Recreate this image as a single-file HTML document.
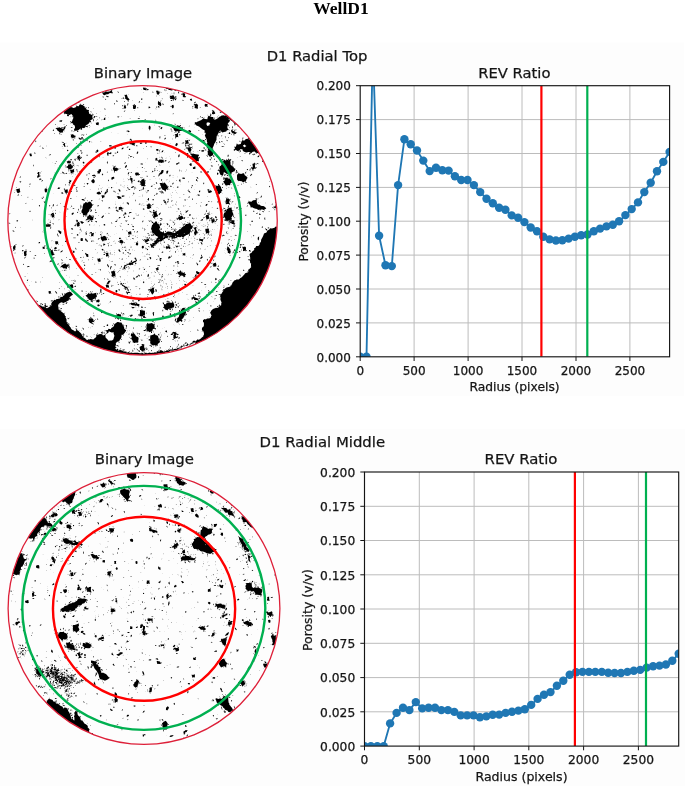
<!DOCTYPE html>
<html lang="en">
<head>
<meta charset="utf-8">
<title>WellD1</title>
<style>
html,body{margin:0;padding:0;background:#fff;}
body{width:685px;height:786px;position:relative;overflow:hidden;font-family:"Liberation Serif",serif;color:#000;}
h3{position:absolute;left:-1.5px;top:-1px;width:685px;margin:0;text-align:center;font-size:17.5px;line-height:19px;font-weight:bold;letter-spacing:0;}
svg{position:absolute;left:0;top:0;display:block;}
</style>
</head>
<body>
<svg width="685" height="786" viewBox="0 0 685 786">
<defs>
<clipPath id="clip1"><circle cx="142.55" cy="220.4" r="134.7"/></clipPath>
<clipPath id="ax1"><rect x="360.2" y="85.7" width="309.4" height="271.1"/></clipPath>
<clipPath id="clip2"><circle cx="144.0" cy="608.45" r="135.9"/></clipPath>
<clipPath id="ax2"><rect x="364.5" y="472.0" width="314.2" height="274.1"/></clipPath>
<filter id="soft" x="-2%" y="-2%" width="104%" height="104%"><feGaussianBlur stdDeviation="0.32"/></filter>
</defs>
<rect x="0" y="42.5" width="684" height="353.5" fill="#fdfdfd"/>
<rect x="0" y="428.8" width="685" height="358" fill="#fdfdfd"/>
<g clip-path="url(#clip1)"><g filter="url(#soft)">
<path fill="#000" d="M81.4 211l.8 -1.8l.4 -1l-.1 -1.2l.5 -1.5l.5 -1.9l1.1 -.4l1 -1.2l2.1 .7l1.3 -1.1l1.6 .3l.9 1.1l.1 .6l1.4 1.5l-1.1 1.2l-.2 1.1l-.9 .8l-1.5 1.6l.1 1.3l-1.3 1.3l-.6 .7l-.3 1.6l-2.2 .2l-1 .7l-1.1 -.4l0 -1.7l-1.2 -.5zM16.2 189l.9 0l1.6 -.3l1.1 -.5l0 1.2l.1 .8l.4 1.4l-.2 .7l-1.3 .4l-.4 .6l-.8 -.2l-.6 -.8l-.5 -1.2l-.1 -1.4zM37.1 173.5l1.1 -1.6l1.4 .1l-.5 1l.5 2.2l.2 1.6l-2.9 .9l.3 -.9l1 -2.6zM113 168.7l1.1 -.1l1.3 -.4l.6 -.2l1.4 -.1l.8 1.2l-.1 1l-.8 -.3l-.7 .9l-1 .3l-1.4 -.1l-.8 -.8zM129.2 142.1l1.1 .1l1.1 .1l.7 .1l1 .3l1 .6l1.5 -.5l-.7 1l-.3 .6l.1 1.7l-1.2 -.8l-1.3 -.6l-.6 -.1l-.5 -.3l-1.3 -.4zM130.2 178.1l1.1 -.4l1 .5l.5 .7l-.4 .7l.1 1.3l.5 1l-1.3 -.3l-.6 .9l-.1 -1.1l-.2 -1l-.7 -1.1zM77.1 156.8l.7 -.1l1.1 0l1.5 -.5l-.1 1.5l-.2 .5l-.8 .9l-1 .2l-.7 .9l.1 -1.7zM67.9 164.9l.5 -.4l1.8 -.3l.9 -.6l.1 1.1l.6 .8l1.1 .4l0 1.3l-.7 -.4l-1.6 .4l-.4 .9l-1.2 -.8l.2 -.9l-1.1 -.9zM69.5 169.5l1.8 .3l.7 0l1 -.3l1.4 -.9l-.4 1.2l.1 1.3l.2 .9l-1 .6l-.7 -.2l-.7 .5l-1.1 .2l-.2 -1.3l-.4 -1.4zM66.6 161.2l.5 .2l1.1 -.6l1.4 -.3l-.1 1.2l.4 1.5l-1.7 0l-1.1 0l.1 -.7zM86.8 216.8l1.4 -.6l.8 -.2l1 -.1l1 -.4l.4 1.4l.5 1l.6 .5l-1.4 .9l-.8 -.4l-1.7 .5l-1.1 .1l-.4 -.7l.3 -.9zM97.1 171.2l1.7 -.7l1.5 .5l-.4 1.3l.3 .8l-.7 .5l-2 -.1l.1 -1.4zM51.6 213.2l1.5 -.5l.9 .2l-.3 .9l.7 1.3l-.3 1.4l.8 1.1l-1.8 -.4l-1.2 .6l.1 -1.6l0 -.4l.3 -1.6zM64.2 190.5l1.5 -.4l.6 -.7l1.6 .2l-.3 1.7l.7 1.2l-1.6 .2l-1 .1l-.8 -.3l-.1 -.8zM29.4 153.8l1.3 -.2l.7 -.2l.2 1.3l.4 1.3l-.6 .2l-1.3 .1l-.4 -1.4zM132.7 105l1.7 .2l.8 -.2l.8 .5l0 1.2l-.2 1.3l0 .6l-1 .4l-1.6 -.1l.2 -1.3l-.4 -1.3zM140.4 181.3l1 .4l1.3 -.6l.9 .5l1.7 -.3l-.5 .6l0 1.1l-.1 .9l.1 1.4l.6 .6l-1.8 .4l-1.2 -.6l-1.4 0l.2 -.9l-.4 -1.1l-.3 -1.2zM135.1 173l1 -.4l1.3 0l1.3 .1l.2 1.4l-.1 1.5l-1.2 -.4l-.3 0l-1.2 .6l-.8 -1.1zM118.9 207.1l.9 0l.5 -.4l1.4 .2l.4 1l0 1l.2 .8l-1.5 -.4l-1.1 .4l-1.1 .6l.3 -1.2l-.1 -.9zM101.6 194.9l1.5 .5l1 -.4l.3 .5l.2 1.1l-.4 .9l-.7 .1l-1.3 .9l-.3 -1.4l-.2 -.7zM44.7 189.1l1.2 -.7l.8 0l.7 1.1l-.1 .8l-.3 1.3l-.7 .6l-1.3 -.2l-.3 -.9l-.1 -1.4zM96.7 122.1l1.2 .4l.3 -.6l.8 1.4l-.3 .4l-.1 1.6l-1.2 -.2l-1.2 0l.7 -1.3l-.2 -.5zM104.1 117.9l1.1 -.3l.3 .2l-.4 1.4l.5 .8l-2 .1l.1 -.8zM247.3 203.1l2.5 -1.6l1.6 .2l1.4 -1.3l.6 -.2l2.3 -.1l.5 -.6l.4 .8l.3 2.4l.8 1.5l.5 .4l1.7 .1l1.1 1.4l2 0l1 .4l1.5 1.1l.8 .9l-1.3 .8l-1.3 .6l-2 -.6l-.4 .4l-2 0l-1.6 .3l-.3 -.9l-1.8 -.3l-1.6 -.5l-1.9 -1.1l-1.4 .4l-.4 -2l-.2 0l-1.4 -2.3zM223.4 215.2l.6 -1.6l.5 -1l1.1 -.4l.9 -1.9l.2 -1.1l1.3 -.7l1 -.4l2.7 -.6l-.1 2.1l1 .7l-.3 1.4l.8 1.6l.3 1.8l-.6 .1l-1.6 2.3l.8 .9l-.9 .6l-1.6 1.6l-.7 .1l-1.1 -.6l-2.5 .2l0 -.6l.1 -1.3l-1 -1.2zM215.1 184.9l.7 .5l1.6 .5l1.9 -.6l.6 .2l1.3 1.9l-.2 .5l1.1 2l.3 .8l-.8 .5l-1.4 1.5l-.2 1l-1.1 .6l-1.7 -1.8l.4 -.7l-1.7 -2.4l0 -.4l-.3 -1.9l0 -.4zM171.4 127l1.4 0l1.9 -.9l1.4 .3l.9 -1.1l2 .4l1 .3l.5 1.1l1.3 .7l1.6 -.6l-.9 1.9l0 2l-2.2 -.2l-1.5 1.1l-1.7 -1l-1.7 .7l.1 -.4l-1.3 -.9l-.8 -2zM190.6 154.4l2.1 -.7l1.5 .7l1.2 .2l1.3 -.1l.4 1.8l1.2 1l.3 1.4l-.6 2.2l-.7 -.2l-2.5 .4l-1 1l-1 -2.2l.3 -1.9l-1.4 -.3l0 -2.7zM159.5 183.1l2.6 -.1l1.2 .6l.8 -1.3l1.9 1.6l.1 1.2l1.2 .4l.6 1.8l.5 .8l-.8 .2l-1.8 1.7l.2 1.8l-2.2 -1.7l-1.3 -.4l-.7 -1.1l-.5 -.6l-.2 -1.2l-.6 -2zM152.4 212.1l2.1 -.7l.6 .5l1.5 -1.3l-.1 2l.7 2l1.1 1.3l-.6 .1l-1.7 .9l-.5 .3l-2.1 .3l.3 -1l-.1 -1.1l-.4 -2.3zM146.7 204.7l.8 -.2l1.2 -.4l.6 -.2l1 .3l.5 .5l-.1 1.7l.2 .4l.4 1.4l-.8 -.3l-1.3 .8l-.6 .2l-1.6 -.4l-.2 -1l.5 -.6l-.3 -1.2zM175.3 133.9l.5 .3l1.6 -.6l.8 .5l-.2 .8l.1 .9l.2 1.4l-.6 -.2l-1.6 .3l-.4 0l-.5 -.9l.3 -.6l-.8 -1.3zM194.5 104.4l1.5 -.7l.9 .2l.3 .6l-.1 1.6l.1 .6l.2 .8l.5 1.5l-1.7 -.7l-1 0l-.7 -.4l.3 -1.2l-.2 -1zM182.3 92.4l.7 .5l1.6 .5l.5 -.2l.1 1l-.3 .8l.2 1.7l-.6 .6l-.4 .3l-1.6 -1l.6 -.3l-.6 -1.9l.3 -.7zM156.2 90.7l1 -.2l1 .4l.8 .8l1.4 -.3l-.9 1.2l-.1 1.1l-.7 .9l-.3 .2l-1.5 -.6l-.2 -.9l-.1 -.9l-.4 -.7zM169.7 95.7l.9 .1l1.1 -.1l1.1 -.4l.6 0l.6 .7l.3 1.4l-.2 .4l.2 .9l-1.2 .4l-1 .1l-.5 -.2l-.8 .1l-.2 -.3l-.4 -1.5l-.3 -.6zM158.4 100.8l1 1.2l.9 .2l.6 .5l.2 1l.2 .3l-.2 1.8l-.7 .5l-.3 -.5l-.7 -.2l-.9 -.5l-.3 -.4l-.4 -1.6l.3 -1zM274.8 200.2l2.6 1.8l.4 1.8l-.8 1.3l-.2 1.1l.6 1.2l.3 1.8l-2.2 -.9l-.6 -1l.8 -2.3l.2 -1.7l.3 -1.1zM165.3 88.7l1.6 -.6l2 -.1l1.7 .4l1.3 1.2l1.3 -.2l.9 -.6l1 .6l2.1 .7l-1.5 .7l-1.8 -.8l-.6 -.2l-1.9 .7l-1.5 -.5l-1.1 -.1l-.7 -1l-1.3 0zM142.8 87.8l1.2 -.4l.9 .7l1.8 .4l.6 -.2l-.9 1.4l0 .7l-.8 -.2l-.5 -.1l-1.5 -.2l-.5 -1.4zM225.6 197.1l1.1 1.3l1.9 .2l1.2 1l-.8 2.3l.7 1.6l.7 .9l-2.3 -.3l-1.6 0l.4 -1.6l-1.3 -1.4l.7 -2.1zM252.5 164.6l.9 -1l1.6 -.6l-.1 2.3l.2 1.4l-.2 .6l-.5 1.5l-1.8 1.2l-.7 -1.2l.9 -1.9l-.1 -1.6zM185.3 140.1l1.3 .5l1 -.7l1 -.1l-.5 1.4l.5 .7l.1 1.1l0 .8l-.8 0l-1.1 -.1l-.8 -.4l-.5 -.7l-.2 -.8zM157.7 160l1 .6l1.3 -.9l.7 -.3l1.7 .3l1.1 -.1l-.5 .8l.4 1.1l.6 1l-1.7 .1l-.3 .3l-1.7 -.5l-1 0l-.4 .9l-.5 -1.3zM178.2 217.4l.4 -.6l1.4 -.3l.5 -.2l.6 -.6l1 0l.5 .7l.9 1.2l.2 1.2l-1.6 .2l-.5 .7l-.9 .4l-.7 0l-.5 .3l-.4 -1l-1.1 -1zM205.9 215.9l.3 -.8l1.5 -.1l.8 -.6l.3 1.4l.1 1.1l.2 .4l.5 1.3l-1.6 .4l-1.1 .3l-.5 .2l-.2 -1.3l-.4 -.9l.3 -1.2zM172.1 105l1.1 -.2l.7 1.2l-.3 1.3l0 .6l-.7 .4l-.7 0l-.4 -1.2l-.3 -.5zM204.7 104.6l.5 -.5l1.4 0l.4 -.2l.8 .7l-.5 1l.6 1.4l-1.4 -.6l-.8 .3l-.7 -.1l-.4 -1.3zM212.4 112l.5 0l1.3 -.8l1 1.7l-.1 .9l-1.7 .4l-1.4 -.2l.1 -1.4zM187.5 148l1.4 -.4l1 -.2l.6 0l.3 1l.6 .7l-.2 1.1l0 .5l-.8 .7l-.9 0l-.9 .1l-.4 -1.1l-.4 -.7l-.4 -1.1zM141.5 179.8l1.3 -.9l1.4 .1l.3 1.3l.1 2.1l-.6 .9l1 1l-.4 2.2l-2.1 -.4l-1 .4l.7 -1.6l-1.3 -1.2l.5 -1.2l-.2 -1.5zM61.8 264.8l.9 .1l1.1 -.9l1.7 -.4l.7 1.2l1.3 -.5l1 1.4l-1.4 1.6l-.5 2l-1.5 -1l-1.6 .3l-.4 -.6l-1.6 -1.2zM89.9 319.5l.8 .2l1.7 -.5l.7 -.4l.1 1.4l.5 .8l.8 1.2l-1.4 -.1l-1 .2l-.8 .5l-.3 -1.1l-.8 -1.1zM116.4 314.2l.6 .4l1.3 -.6l1.1 .2l1.2 0l.3 .6l.4 1.4l-.7 .9l.8 .8l-1.7 .2l-.6 -.6l-1.6 1l-.5 -.4l-.6 -1.1l0 -.4l0 -1.5zM140.1 311.6l.4 -.1l1.4 -.4l1.1 -.1l1.2 -.2l.5 -.4l.3 1.1l-.1 1.2l.1 .5l-.2 1l.2 1l-1.1 0l-1 .3l-1 .4l-1.6 0l.2 -1.4l-.1 -.8l-.5 -1.4zM131.6 338.5l1.1 .1l.4 -.5l2.2 .1l.8 -.4l1.5 -1.1l.8 .7l0 2.1l-.2 1.7l.3 .8l-1.1 .7l-1.8 -.3l-1 .5l-.8 -.1l-.7 -1.3l-1.1 -1.6zM76.2 223.9l.9 -.7l.5 -1l.8 -.2l1.1 -.4l-.4 1l.9 .9l-.5 .8l.1 1l-.1 .7l-1.2 .5l-.7 .2l-.6 -1l-.3 -1.1zM100.8 236.8l1.3 .1l1.5 -.8l.5 -.3l2.1 .9l.2 .7l.6 2l0 .7l-1.8 .3l-1.4 .2l-.9 .8l-1.6 -1.7l-.7 -1.8zM90.2 217.2l1.2 -.3l.2 -.2l1.6 .4l.4 .8l-.5 .8l.2 1.3l-1.7 -.1l-1.4 .6l-.2 -.8l-.2 -1.2zM119.3 240l1.6 0l1 -.2l.5 .4l.7 1.1l.2 .3l0 1.5l-1.1 .4l-1.2 .1l-.6 -.7l-.8 -.4l.5 -1.5zM111 271.3l.9 .1l1.3 -.7l1 .5l1.1 .1l-.3 1.1l.2 .9l.3 .9l-.2 1.4l.5 1l-1.6 -.4l-1.6 .6l-.7 -.1l-.4 -1.3l.4 -.8l-.4 -1.6l-.3 -.5zM97.3 258.6l1.2 .2l1.3 -.6l.3 0l.4 1.3l.3 1.4l-.7 1l-.2 0l-1.1 -.5l-.7 .4l-.3 -.9l-.4 -1.8zM91.1 233.3l.9 -.1l2 -.4l-.3 1.4l-.2 .6l-.2 1.6l-.7 -.3l-1.9 .3l.6 -1.5l-.2 -.5zM123.3 268l.5 -1l.7 -1.6l1 -.4l1.6 -.7l1.4 -.6l.9 -1.2l2.5 0l.1 -.2l2.3 -1.2l1 -.3l1.3 -1l-.5 2.7l-.1 -.2l-1.7 .2l-1 .8l-1 1l-1.7 1l-2.4 -.6l-1.6 .9l-1.2 .7l-.3 2.1l-1.1 1zM120.9 282.4l1.2 1l.6 1.7l1.4 .3l1.8 1.4l1.3 0l.4 1.1l1.5 2.6l-.4 .1l-1.2 .8l.3 -.4l-.7 -2.4l-1 -.4l-1.1 -.3l-2 -2l-.3 .3l-1.2 -1.7l-1.4 -.1zM13.2 246.5l1.3 -1.3l1.3 -1l-.6 1.3l.4 1.1l-.2 1.6l-1.2 2.3l-1.9 1.1l1.3 -1.5l-.7 -2zM24 251.4l1.7 -.5l.7 -.5l.4 1.1l-.2 .6l-.4 .9l.5 1.4l-.6 1.3l.1 .5l-1.1 -.1l-.5 0l-.6 -.9l.2 -.7l-.2 -1l-.1 -1.1zM50 250.6l1.3 -.4l1.3 -.7l.4 2.4l1.1 1.3l-.9 .4l1.3 1l-1.8 .9l-1.2 .1l-.5 -.9l-1.2 -1.8l.7 -.6zM54.8 241.4l1.7 -.2l.7 -.1l.7 .6l.5 .4l-.6 .8l.5 1.3l-1.2 -.3l-.6 .5l-.8 -.1l-.6 -1.4l.3 -.6zM45.7 224.1l1.1 .3l1.1 .5l.8 -.8l1.4 .4l1 -.2l-.6 1.6l.2 .4l-.9 .4l-1.3 0l-.5 0l-1.3 .1l-.3 .2l-.7 -1.2zM96.2 299.9l.6 0l1.8 -.5l.5 -.1l.1 .5l.6 1.2l-.6 .9l-.9 .7l-1.1 -.5l-.3 .3l-.7 -.7l.3 -1zM70 284.5l1.2 .4l.4 -.7l1.4 .2l-.1 .6l.3 .9l.2 1.6l-.3 .6l-.4 -.3l-.9 .8l-1.4 -.4l.2 -1.1l-.6 -.7zM135.7 302.7l.6 .3l1.2 .8l1.4 .2l1.1 .2l-1 .6l.4 1.2l-1 .4l-.7 -.4l-1.1 -.5l-1.2 .1l-.4 -1.2l.9 -.4zM140.1 346.4l.9 -.1l1.2 -1l.8 -.1l1.1 -.2l0 1.6l.2 .5l0 1.2l.5 .9l-1.7 .5l-1.2 .1l-.3 .1l-1.7 .1l.2 -1.2l-.5 -1l0 -.7zM131.1 333.3l1 .1l2 -.2l-.1 1l-.2 1.1l.4 .8l-1.2 .2l-1.5 0l-.2 -.8l0 -.9zM105.4 253l2 -.3l1 0l-.1 1.3l.1 .7l0 .3l.7 1.2l-2 .1l-.9 .4l-.4 -1.6l.6 -.7zM85.4 254l1.3 .1l1.3 0l.3 .6l0 1.2l.2 .8l-1.1 .3l-1.1 -.4l-.1 -1.1l-.2 -.3zM80.4 238.7l1.2 -.7l1.2 .2l0 .5l0 1.1l.4 .8l-1.5 .4l-1.2 -.1l.3 -.5l-.3 -1.2zM127.8 231.8l.9 .1l1.3 -.6l1.2 .1l.1 1.4l.2 .4l-.3 1.6l-1.3 -.7l-.4 .5l-.6 .3l-.5 -.7l-.2 -1.3zM135.6 242.4l1 0l1.3 .1l.4 .6l-.4 .9l.4 1.1l-1.1 .4l-.9 -.2l-.6 -.8l.4 -1.2zM105.9 285.1l.9 -.6l2 .2l-.3 .4l.5 1.5l.1 1.2l-1.2 -.4l-1.9 0l.1 -.7l-.4 -1.2zM42.5 246.8l.8 .2l1.3 -1.1l0 2l.1 1.1l-1.4 -.2l-.4 .4l-.3 -1.6zM48.7 291.3l.8 -.2l1.3 .1l.2 .5l-.3 .7l.8 1l-1.8 .2l-.8 .6l0 -.9l-.5 -1.6zM152 225.3l1 -1l.3 -1.2l1 -.1l1.7 -1.9l.9 .9l.5 1.5l1.8 .9l.8 .3l-.5 .5l.7 2.5l-1.1 1.4l.4 .4l.8 1.8l.9 .7l.7 0l1.7 .6l.7 .7l1.6 -.4l1 -1.2l1.5 -.2l2.2 .4l.7 0l1.3 .7l1.1 -.2l1 .5l1.6 -1.3l1.1 -.5l1.4 -.9l1.6 -.6l.4 -.6l1 -1.6l2.1 -1.3l.5 0l1.5 -2.1l.8 .1l1.5 -.3l1.1 -.8l1.2 .4l.6 1.3l.9 1.8l0 1.5l-1.2 .8l-.1 1.3l0 1.1l-.9 1.9l-1.4 1.1l-.9 .6l-.8 .3l-1.3 .5l-1.7 1.3l-1.1 0l-1.6 .1l-1 .2l-1.4 -.3l-1.3 .5l-1.6 .9l-1.1 -.2l-.4 .3l-1.4 -.1l-2.4 -1.1l-1.4 .3l-.5 -.1l-1.8 .8l-1 -.3l-.9 1l-1.3 .5l-1.8 1.8l-.4 .4l-2.1 0l-1.2 1l-1.1 1.1l-1.7 .7l-.2 .6l-.8 1.3l-1.2 .4l-1.4 1.4l-1.2 -3.1l1.7 0l.3 -2.1l1.9 -.2l-.1 -1.6l.9 -.3l.9 -.9l1.5 -2.2l.8 -.6l-1.5 -.5l-2.3 -2.1l-.1 -.6l-1.1 -.6l-1.5 -1.1l0 -1.9l-.8 -1.3l.5 -1.8zM227.4 246.2l1.3 1l1.5 2.1l-.4 1l1.1 1.4l-.4 .8l-.5 1.5l-.9 -.8l-1.4 -.4l.2 -1l-.9 -2.2l.1 -1.3zM206 228.6l.5 .3l.9 -.5l1.2 0l.4 .9l-.2 .9l.5 .8l.2 1.3l-.4 .5l-.9 .1l-1.4 .3l-1 .6l.1 -1.5l-.2 -.6l0 -1.3l-.4 -1.1zM177.7 271.4l.2 .4l2.6 .1l.2 .2l1.9 .3l1.6 .5l1.9 1.6l-1.5 1.4l-1 .1l-2 -.5l-1.7 .6l-.3 -1.1l-1.6 -.9l.2 -1zM149.1 289.5l2.3 -.4l.7 -1.2l2.1 -.1l-.3 1.7l.4 1.8l.2 .3l-1.2 1.9l-1.2 1.2l-.4 -1l-1.1 -2l-1 -1.6zM163.4 304.4l1.5 -.4l1 .6l.8 -1.9l1.8 -.3l1.7 0l1.5 1.5l1.2 -.4l.7 .6l-.4 1.1l-1 1.4l-.3 1.8l-1.2 -.5l-2.4 .7l-1.2 .1l-2.1 -.1l-.6 -.9l.3 -.8zM191.3 297.2l1.5 -.3l1.1 -.5l1.1 1l.8 .3l2 .9l.6 .8l.7 1.9l-1.9 -1.4l-.5 .1l-2.2 -.1l-.7 -.9l-1 -.9l-.8 -1zM178.6 311.9l2.2 -.5l-.1 -.6l1.3 -2.2l1.4 -.8l1.6 .9l1.4 .5l-.8 1.3l.2 .6l-.6 1.3l-.4 2.4l-.3 .9l-.5 .4l-.6 1.9l-2 1.2l-.5 .1l0 1.6l-1.9 .5l-1.8 1.2l-.3 -1.1l0 -1.1l.5 -1.7l1 -1.1l.5 -1.1l.3 -1.4l.3 -.9zM173.4 332.8l2.9 -.1l.3 1.8l-.9 1l.7 2.4l-.1 .3l-2.3 -1l-.1 -.3l-.6 -1.2l.8 -2.2zM146.1 326.1l2 -.6l.4 -1.6l1.3 .3l1.4 -1.2l.9 1.3l1 .3l1.4 1.6l.5 1.2l-.6 0l-1.9 1l-.9 1.9l-.6 -.4l-1.7 1.7l-.3 -1.7l-1.1 -1.6l-.3 -1zM150 337.9l.3 -.9l1.5 .3l1.8 -1.8l1 .1l1.1 1.2l.7 .8l.4 1.3l1.3 .3l1.1 2.4l.3 -.1l-.2 1.2l-1.6 1.4l-1.1 1.2l-.7 1.6l-.7 -1.8l-1.9 .5l-.9 -.6l-1.7 -.8l-.6 -2l.4 -.7l-.1 -1.9zM139.7 310.6l2.2 .2l1.5 .3l.1 1.5l-.5 1.3l.6 2.3l-1.1 -.5l-1.6 .2l-1 .5l-.6 -.9l.6 -2.1l.2 -1.8zM223.4 214.7l1.4 0l2.1 .4l1.8 -.3l1.4 .3l.3 -.5l1.1 2.5l0 1.1l.5 1.3l-2.1 -.6l-.4 -.5l-2.5 -.6l-1.7 .1l-.3 -1.7zM242.6 246.5l1.2 .6l1.1 -.6l1.1 .7l-.1 .2l.2 1.8l-.4 .4l-.1 1.4l-.3 .1l-.9 -.4l-1.5 .5l.2 -1.4l-.1 -1.1l-.6 -1zM212.6 263.8l1.2 -.3l1.2 -.3l.7 -.4l.6 1.4l.1 .5l-.2 1.5l-.1 .3l-1.1 .1l-.4 0l-.9 .4l-.4 -1l-.1 -1zM196.2 270.9l1.2 .3l1 .8l1.1 0l-.2 1.6l-.5 .5l-1.2 .1l-1.6 -1.2l.2 -.6zM194.4 227.5l1.6 -.4l.9 -.1l-.7 1.1l.1 1.9l.8 .9l.6 1.6l-1 1.1l-1.9 1.2l-.8 -2.3l.7 -1.1l.2 -1l-.6 -1.6zM199.5 238.2l.7 .7l.8 .1l1.1 .2l1.3 .5l-.5 .8l.1 1.3l-.6 -.4l-1.8 -.6l-1.1 0l-.3 -1.5zM144.5 240.5l.4 -.1l.8 -.8l.8 -.1l1.5 -1l.7 .1l.1 .6l.7 1.6l-1.1 .2l-.5 .2l-.8 .8l-1.2 .4l-.7 .4l-.1 -1.6zM165.7 247.2l.6 -1.1l.9 .5l.9 -.3l1.2 -.4l.1 .4l.7 .9l-.2 1.6l-.7 .1l-.7 -.7l-1.7 .8l-.6 -.5l-.5 -.9zM182.3 252.7l.7 .7l1.3 -.2l.9 -.5l.1 1.2l.1 1.5l-1 .2l-.7 -.4l-1.1 .4l.3 -1.4zM155.6 268.3l1.5 -.3l.4 -.7l.9 -.2l0 1.7l.6 1.3l-1 -.4l-.6 .8l-1.1 0l0 -.9zM211.2 219.4l.7 -.5l1.1 .5l1 -.7l.1 .7l.6 .8l-.2 1.7l-.2 .6l-1 -.3l-1.2 0l-.5 .7l0 -1.8l-.4 -.9zM231.2 219.3l.7 .7l.8 .2l1.8 .1l-.1 1.5l-.2 .7l.5 .9l.1 1l-1.1 0l-.9 -.5l-1 0l-.5 -.8l-.1 -.7l.1 -1.1l-.1 -1.2zM160.8 350l2.4 1.2l.8 .7l1.8 .3l-2.3 1.5l-1 .5l-.9 1.1l-1.5 -1.8l-2.3 .6l1.7 -2l.1 -.9zM140.7 348.2l1.7 -.2l.7 -.7l1 .4l.7 .6l.1 1.4l.6 .5l-.9 .4l-1.1 .2l-1 .3l-.9 0l-.4 -.6l-.3 -1.4zM289.8 220.1l-1.6 .4l-.5 .4l-1.5 1.6l-1.7 0l-.4 .9l-1.8 -.2l-1.1 1l-.8 .5l-1.6 1.1l-.6 .2l-1.9 .7l-.6 -.1l-1.2 1.2l-2.5 .6l-1.7 -.2l-1 1.4l-2 1.2l-.8 1.6l-2.5 1.1l-.4 1.2l-.5 1.2l-1.1 2.3l-.7 1.1l-.3 1.8l-.1 1.2l-1 .3l-.3 2l-1.2 1.3l-2.2 .2l-1 1.9l-1 -.1l0 2l-2 1.5l-.4 1l-2.2 1.6l.1 1.5l.5 2l.2 .7l-.4 2.2l.1 2.3l1.1 .6l-.3 1.6l.4 2.1l-1.4 1.4l-1.7 1.5l.2 2l-1 .6l-2.2 .7l-.9 1.4l-1.4 1.5l-1.1 1.1l-1.4 .8l-1.5 1.5l-2.5 .1l-.6 .5l-1.3 .3l-1.4 1.7l-.9 .9l0 1.1l-1.1 1.8l-1.4 .9l-1.8 .4l-.8 .1l-1.4 .7l-1.7 1.4l-.8 1.9l-1.2 1.5l-1.1 1.9l-.9 1l.4 1.6l.7 1.5l-.6 1.3l1.1 2.5l-.4 .9l0 1.7l-.7 .2l-2.2 2.1l-1.3 .6l-1 -.4l-.9 .6l-1.6 .4l-1.1 .9l-1.2 1.1l-1.1 2.5l.5 -.1l1 2.2l-.6 1.2l-.5 1.2l-.7 .6l-1.7 .2l-1.1 0l-1.2 1.3l-1.3 -.7l-1.5 1.1l0 1.5l.9 1.1l0 2.7l-.5 1.2l-1.4 1.1l-.1 2.3l.4 .4l1.2 1l.6 2.7l-.8 1.6l.1 .4l-1.8 1.5l-1.4 1.4l-1.4 .7l-1.2 -.3l-.9 .7l-1.6 1.6l-1.5 .2l-2 .7l-1 .9l-1.1 .5l-1.3 .4l-1.1 .4l-2.4 1.4l-1.5 .2l-.8 .1l-2.6 .1l-.3 2l-1.8 1l-1.9 .2l-1.2 .4l-.9 .2l-1.7 .2l-1.3 -.1l-1.3 1.2l-.9 .3l-2 .3l-.7 .1l-1.2 -.1l-1.8 .5l-1.4 -.5l-1.5 .4l-.6 0l-1.1 .3l-.5 1.1l-.3 2.1l-.1 .2l-1 2l.7 .5l-.9 2.2l0 .8l-.6 1.4l1.7 -.6l1.3 .6l.6 -.4l1.1 .9l1.9 -.8l.8 0l1.1 .2l1.5 1l2.3 -.2l.5 -.4l1.8 .6l1.2 -.3l.5 0l2.3 .2l.2 0l1.7 -.8l2.1 .7l1 -.7l1.5 1.2l1.4 -.3l1.2 .1l.9 -.5l1.7 .6l1.3 -.7l1.5 .3l1.2 -.5l1.4 1l.3 .1l1.3 -.9l1.6 .1l1.3 .9l1.6 -.2l.9 .1l1.9 -.1l1.5 .2l.5 -1l1.7 1.1l.8 -.3l2 .3l.2 -.4l1.3 -.5l2.4 .4l1 .1l1 -.3l1.3 .9l1.7 -.8l.5 0l2.2 .3l1.2 .5l.6 -.1l1.2 .2l1.5 -.7l2.4 .1l.2 .8l1.9 0l1 -.5l2.1 0l1.3 -.4l1.1 0l.9 -.2l.8 1.3l1.7 -.1l1 -.6l1.1 .3l2.4 -.1l.6 .7l2 -.4l.2 0l1.8 .5l1.2 -.4l1.7 -.4l1.1 .5l1.9 -.3l.5 .7l.9 -.2l2.2 -.3l.9 .3l2 0l1.1 -1l.7 .2l2.2 1.1l.1 -.4l1.9 -.8l1.1 1.1l1.6 -.7l1.5 .1l1 .2l1.9 .3l1.1 .1l.7 .4l1.7 -.3l.7 -.8l1.8 1l1.6 -.6l.4 .2l2.3 -.5l1.1 .1l.7 -.2l1.3 .5l2.2 .9l.3 -.9l2.3 -.2l.6 .5l-.4 -1.6l.4 -1.2l.7 -1.4l-1 -.4l.3 -1.4l.3 -1.4l-.5 -2.2l.7 -.9l-.3 -1l.3 -1.8l-.6 -.4l.2 -2.2l.2 -1.4l.2 -1.6l.1 -.5l-.7 -.8l-.1 -2.3l-.3 -.9l1 -1.1l-.5 -1.1l-.4 -2l.7 -.4l0 -1.7l.2 -1.7l.2 -.8l-.8 -1.8l.6 -1.4l-.8 -.5l.4 -1.8l.2 -.8l-.7 -2.1l-.1 -1.2l.6 -.7l.2 -1.7l-.3 -1.3l-.2 -.9l.7 -1.3l-.9 -1.5l.9 -1.6l.2 -.7l-.3 -1.4l-.1 -1.3l-.7 -1.5l.8 -1.4l-.6 -2.1l.4 -.2l-.4 -2.2l-.1 -1.5l.6 0l.2 -2.2l-.1 -1.7l.2 -1l-1.2 -.8l.2 -1.8l-.1 -1.1l.7 -.8l-.7 -1.3l.1 -2.1l.7 -1.2l-.4 -.9l-.2 -1l0 -1.3l.8 -1.7l-1.1 -1l0 -1.6l.6 -2l.3 -.3l-.1 -1.8l-.1 -1l-.4 -.9l1.1 -1.4l-.1 -2l.1 -1.7l-.7 -1.2l-.1 -.5l.4 -1.6l-.5 -1.7l.1 -1.2l-.3 -.6l.4 -1.8l-.4 -.9l0 -1.9l.5 -.7l.6 -1.2l-.1 -1.1l-.3 -1.6l-.9 -2l-.1 -.4l1 -1.6l-.6 -1.7l-.2 -.9l1.2 -1.8l-1.3 -1.5l.4 -.2l.6 -2l-1 -1.8l.1 -.3l.5 -1l.6 -1.6l-.6 -1.3l-.5 -2.3l.6 -.7l-.5 -1.7l-.3 -.4l1 -1.2l.4 -2l-.4 -1.4l.1 -.7l-.9 -2.4l.1 -.5l.2 -2.1zM33.2 299.8l.8 .1l1.7 1.7l-.1 .7l1.9 1.7l.9 .7l.7 .4l2.4 .7l.4 .7l1.4 0l2 1l1.7 .7l1.2 -.4l1.3 -1l.7 -.5l1.2 -.6l-.2 -1.9l1 -2.1l.4 -.1l1.9 -1.9l.7 .6l1.4 -1.3l2.3 .1l1.2 -.6l.3 -1.7l2.4 .3l-.2 -1.8l1.3 .5l1.1 -1.8l2.1 -1.5l1.8 -.5l.8 -.4l1.9 1.2l1.4 2l-2.1 1.3l-1 .8l-1 1.6l0 1.7l-2.4 1.4l-.4 .4l-1.3 .2l-1.1 .7l-2.5 -.6l-1.2 .7l-1.3 1l-.6 1.5l.5 2.9l-.2 .9l1.7 1.2l1.2 1l2.2 1.7l.6 .4l1 2.3l.7 .2l-.2 1.5l.9 1.6l.1 3l1 -.2l-.2 1.4l1.6 1.9l.7 1l.8 1.4l1.3 1.7l1.6 .9l1.7 1.2l1.6 -1.5l1.7 .7l1.1 1.2l1.1 1.2l.9 .9l.2 .6l.6 1.2l.7 1.2l2.2 1.3l.9 1.1l1.3 .5l1.3 -.7l.8 .4l1.1 -.7l2.7 .5l.7 -.7l1.7 -1.3l1.1 -2l.3 -.1l1.5 -.7l1.3 -.6l2.3 .2l.8 1.4l1.5 -.7l1.3 -1.1l1.1 -1.2l-.1 -2.3l1 -.2l.8 -1.4l2.2 .5l.5 -1.2l1.7 -.9l1 -1.1l.3 -1.9l1.2 -.5l1.7 -1.7l2.9 .5l1.3 0l.7 1.3l.3 .3l.4 1.2l1.2 1.6l.3 2l2 1.7l-1.4 2l-.5 .8l-1 1l-.7 .5l-1.1 0l-.1 2.2l-.5 1.4l-1 1.2l-.9 1.8l-1.3 .2l-2 1.4l.2 1.4l-.7 2.4l-.4 1.3l.7 .9l2.3 1.6l1.4 .6l.8 -.4l1.2 1.5l1.9 .2l1.5 .3l1.1 .5l1.7 -.3l1.8 0l1.3 1.1l.3 .9l1.1 1.1l-.4 1.3l.7 1.5l.8 1.4l.8 .7l.1 2.4l-.1 .1l.7 1.4l.5 2l-1.9 -.7l-.7 .1l-1.7 .4l-1.4 -.6l-1 .6l-.5 .1l-2.5 -.4l-.4 .4l-1.1 .6l-1.3 -1.2l-1.2 .6l-2.3 -.5l-.4 0l-2.4 .1l-.2 .3l-1.5 -.5l-1.7 .3l-1.7 .5l-1.1 -.8l-.4 .5l-2.4 -.6l-.7 .7l-2.2 -.1l-.3 .1l-2 0l-.8 .2l-1.9 .2l-.2 -.1l-1.4 -.5l-1.3 -.3l-2.2 .6l-.4 -.7l-2.2 -.1l-1 .1l-1.7 .9l-.7 .3l-1.6 -.4l-1.8 .4l-1 -.7l-1 .7l-1.3 0l-1.1 -1l-1 -.1l-1.1 .4l-2.4 .7l-1.1 -.8l-1.2 .3l-1.5 -1.2l-.8 -.3l-1.2 -1.2l-.6 -1.1l-.6 -.5l-1.6 -1.5l-.9 .1l-1 -2.1l-.4 -.2l-.5 -1.6l-1.9 -.8l-.5 -.5l-1.2 -.2l-.6 -1l-.6 -1.7l-1 -.7l-2.2 -.2l-.9 -2.1l-.7 -.5l0 -.1l-1.8 -1.3l-.3 -.5l-1.3 -1.3l-1.7 -1.3l-.2 -.4l-.8 -.5l-.7 -1.8l-2.2 .1l-.3 -1.9l-.8 -.8l-1.6 -.7l-.6 -.5l-1.6 -.8l-.2 -1.3l-.9 -.4l-1.9 -1.3l-.1 -.6l-1 -1.6l-.5 -.1l-2 -1.3l0 -1.2l-1.7 .1l-.3 -1.9l-1.2 -.7l-1.1 -.3l-1.7 -1.7l-.8 -.8l-1.3 -1.1l-.4 -.4l-1.5 -.7l0 -.9l-.1 -1l.6 -2l.6 -1.4l.8 -1l0 -.1l1.1 -1.4l.3 -1.5l.5 -.8l-.2 -1.5l.6 -1.9l1.3 -.7l.5 -.9l.1 -2.1l-.3 -.8l1.5 -1.6l-.5 -1.6l.7 -.2zM85.5 295.6l1.5 -.8l2.1 -2.4l.2 1.5l2.7 -.9l.5 .8l1.8 -.5l2.1 -.6l-.2 1.2l.5 1.5l-.3 1.8l-1.5 1.1l-.3 .3l-1.8 .9l-.9 1.6l-2.7 -1.3l-.5 -.4l-.7 -1.4l-.6 -.4zM88.3 319.4l1.3 -.6l1.7 -.5l.6 -.1l1.6 1l-.3 .9l.5 1l-.7 .6l-1.1 .7l-.6 .8l-1.6 -.6l-1 -1l.3 -.9zM116.5 315.3l.7 -1.1l1.4 -.5l.5 .5l1.5 1.2l-.1 1.1l0 .4l-1.5 .9l-1.2 .3l-.8 -1.1l-.4 -.5l.3 -.3zM62.9 111.5l.7 -.4l1.6 -1.1l1.4 -.7l1.4 -1.2l.3 -.3l1.9 -.8l1.9 .3l1.1 .7l2.2 -.6l1.2 -1.5l2.1 .3l.9 -1.6l1.1 .3l1.4 -.2l2.6 1.9l-.2 .7l1.7 1.1l.5 1.3l2.3 .2l-.3 1.6l.7 2.4l1.2 .4l2.3 1.1l-.6 1.2l.4 1.9l-.3 .5l-2.3 1.8l-.3 1.1l-1.1 1.5l-.4 .5l-2.7 1.5l-.1 1.6l-1.5 1.3l-1.2 -.5l-1.5 1.1l-.9 -.4l-2.1 1.8l-1.4 .5l-1 -.2l-1.4 1l-.3 -2.4l.8 -1.4l0 -1.1l-.7 -1.7l-.9 -.1l-.4 -1.4l-2.2 -.7l1.2 -1.4l.8 -2.5l.5 -.6l-.1 -2l-.9 -1l-.9 -1.3l-1.9 1.1l-1.4 -.3l-.6 -.5l-2.2 -.5l-.6 -.5zM55.4 128.7l1.5 -.9l1.1 0l1.5 -.6l1.2 .9l2.1 .7l.9 -.4l.9 -2.1l1 -.2l-.1 1.2l-.5 1.6l-.6 .7l-1.6 1.8l-.7 1.1l-2.1 .2l-1.3 -1.3l-1.2 -1.1l-.7 -1zM70.5 134.5l1.5 -.1l.6 0l1.2 .3l.2 .6l1.2 .7l.6 1.1l-1.4 .6l-.6 -.3l-.9 1.1l-1 -1l-1.1 -.3l.2 -1.6zM78.6 137.4l1.7 .6l.3 .4l1 -.1l1 1.4l-1.1 -.5l-1 .6l-.8 -.4l-.9 -.6zM62.6 143.9l1 .2l.4 -1l1.2 .1l-.3 .4l.2 1.4l.1 .8l.4 1.1l-1.3 -.1l-.2 -.7l-.8 -1.3zM102.3 93l1.1 0l.8 -.4l1.3 -1.4l1.7 .6l2 -.3l.9 -.3l1.6 -1.4l.7 2.9l-1.6 .3l-1.5 .2l-1.1 1l-1.6 .1l-2.3 1l-.9 -.5zM124.4 95.2l2.3 -.8l.8 2.2l.1 .7l1.4 1.4l.6 1l-1.6 1.2l0 -.1l-1 -.8l-2.2 -1.8l.7 -.8zM123.8 105.3l1.4 .2l.7 -.6l-.1 .5l0 1.2l.4 .9l-.4 .9l-1.8 0l.1 -.8l-.2 -1.2zM66.2 167.1l1.4 -.5l1.3 -1.4l1.4 -.6l.6 .8l1.8 2.2l.7 0l-1.3 .6l-1 .7l-2.4 .4l-1 -1.6zM77.8 156.2l.5 -.5l1.5 -.5l-.5 1l0 1.4l.1 1.4l-1.4 -.2l-.2 .7l-.3 -1.2l-.2 -.9zM113 168.3l.6 -.4l1.5 .4l.2 -.6l1.3 0l.8 .2l0 1.2l-.5 .4l-1.4 0l-1 .5l-.7 -.1l-.7 -.7zM96.4 150.4l1.1 -.8l.8 .3l0 1l0 .6l-1 .7l-.9 -.4l-.2 -1zM109.2 145l1.5 .2l1 0l-.5 1.7l-.8 -.7l-.9 .6zM95.7 122.7l1.5 .5l.7 .1l-.5 .1l.1 .8l-1.2 .7zM67.9 160.9l.9 .2l1.4 .1l.6 -.2l.1 .4l0 .9l-.6 .9l-1.5 -.4l-.6 -1zM98.3 170l.6 -.4l1.5 -.7l.6 .4l0 1.1l0 1.4l-1.4 0l-.5 .5l-.1 -1.4zM194.4 122.8l1.9 -.3l1.1 -.8l2.8 -1.1l.5 -.2l1.6 -1.2l1.2 -.9l1.4 .7l2.4 .3l.5 -2.2l.7 -1.4l2 .9l1.2 .3l1.6 0l0 1.5l.9 1.1l1.5 0l2.1 -1.2l1.6 -1.5l1 -.4l.6 -.7l2.2 -.4l1 .3l1.5 .5l.7 1l.3 1l2.2 1.5l1.1 .7l-.7 1.8l-1.5 1.1l.2 1.3l-.7 1.7l.2 2.2l1.5 1.5l-2.1 .3l-.7 1.3l-2.2 .5l-1.7 .4l-1.2 -1.5l-.9 -.3l-1.1 .9l-.6 1.7l-1 1l-.8 2l-.2 2.3l0 1.1l-.9 1.9l.2 .1l-1.6 2.3l-.6 2l-.9 1.9l-.5 .6l1.1 1.3l-.7 1.8l.4 .8l.2 2.1l-.9 1.3l-1.1 .3l-1.3 .9l-.9 -1.1l-1.5 -1.6l.6 -1.5l-.9 -.6l1.2 -1.7l-.7 -2.2l-1.1 -.9l.9 -1.1l-.9 -1.7l.8 -1.7l-.7 -1.7l.2 -.8l-.5 -1.5l-.6 -1.1l-1 -2.4l.7 -1.1l.3 -.4l-.9 -1.9l-.2 -1.3l-1.9 -1l-2 -1.5l-1.2 -1.2l-.6 -.3l-.9 -.5l-2.1 -.9zM223.9 113.5l1.5 1.4l.4 1.3l1 1.8l1.2 1.1l1.1 -.3l1.9 1.6l1.1 .7l1.7 1.7l.9 1.4l1.6 .6l.9 -.1l.4 1.5l2.6 .7l.5 .7l.9 2.3l1.3 .8l.5 -.8l1.6 .7l1.2 0l1.5 -.2l1.7 -1l1.9 0l1 -.7l1.3 .8l-1.7 -1l-.7 -1.9l-.7 -.3l0 -.5l-.9 -1.6l-1.3 -1.6l-.8 -.5l-1.4 -.6l-1 -2l-1 -1l-.3 -.2l-1.5 -1.4l-.3 -.9l-1.1 -1.1l-1.4 -1.7l-.3 -.8l-.4 -1l-1 -.8l-2.2 .4l-1 .1l-.8 .1l-1.5 1.1l-1.7 -.2l-.7 .4l-2.4 -.5l-1.6 .6l-1.3 .7zM234.2 146.6l1.4 .3l.9 -1.8l1.8 -.7l2.5 -.5l.6 -2.1l.8 -1.3l2.4 0l.4 -.7l1.1 -.8l1.7 -.3l1.9 1.1l1 -.6l1.1 1.5l.9 .6l1.2 1l-.1 1.8l.9 .9l1.5 2.6l.5 .6l1.5 1.6l.6 2.3l1 .9l-1.8 .1l-.1 .1l-2.5 -1l-.8 -.8l-1 .1l-1.2 .4l-1.1 1.4l-2 -1.2l-1.3 -.2l-1 .5l-1.8 -.2l-2.4 -1.1l-.2 -1.5l-2 -.7l-1.3 1.6l-2 .6l-.9 -.9l-1.1 -.7zM248 138l.5 1.6l2.2 .8l0 1.2l1.9 -.1l.6 1.6l.2 .4l1.2 2.4l1.7 .4l.7 1.9l.7 .9l.9 1.3l.8 1.2l-.2 1.2l1.3 1.2l1.3 -.1l1.7 -.6l1 .2l1.7 -.4l1.7 -.5l1.2 .1l-.4 -.7l-.8 -1.3l-1.5 -.5l-.4 -1.9l-1.1 -1l-.2 -.5l-1 -1.2l-1.2 -1.5l-.6 -1.3l-.7 -.5l-.3 -1.8l-1.5 -.3l-.1 -1.2l-.8 -1.1l-1.3 -1.9l-.7 -1.2l-.2 -.4l-1.4 1.3l-1.2 -.3l-1.9 .4l-.7 1.6l-1.7 .1zM219.5 166.6l1.3 -.8l.8 -1.3l.1 -1.9l1.1 -.6l1.2 -2.4l1.4 1l2.1 -.8l1.4 .8l.7 -1.3l1.8 -.1l-1.2 2.1l.3 .6l0 1.1l.1 1.8l1.5 1.1l1.7 2.1l1.6 .8l0 .7l-1.1 1.9l-.9 .2l-2.2 1.4l0 .5l-1.4 1.8l-1.7 -1.5l-1.3 .2l-.9 -.8l-2 -1.1l-.4 1.6l-.6 2l-1.6 -.5l-1.2 -.9l-.6 -2l-.5 -2.4l.8 -.2l-.5 -1.4zM236.9 175.8l.7 -1.8l1.5 -.6l2.1 .5l1 -.4l1.7 -.2l.9 1.9l1.9 1.3l.1 .6l.9 .6l-1.2 1.5l-.6 1.8l-1.4 .4l-1.4 1l-1.3 -1.1l-2.3 -.3l-1.1 -.7l-1.3 -1.3l-.1 -2.4zM224.6 179.2l.8 -1.4l2.3 -.2l.1 .8l1.9 0l1 1.2l.4 1l1.2 1.6l-1.8 1l-.6 2l-1.6 -.3l-1.6 .5l-1 .1l-1.1 -1.8l-1.5 -2.4l1.6 -.6zM195 104.9l.8 -1l.7 -.2l.9 .5l.4 .8l.4 .9l-.7 .8l-.6 .5l-.7 1l-.8 -1.3l.1 -.9zM204.8 104.4l1 -.6l.8 .4l.1 1.1l-.1 .8l-1.2 .4l-.4 -1.7zM212 109.7l1.3 1l.8 -.4l-.1 1.5l-1.6 0zM189.8 99.3l1.7 -.7l.4 1l.3 1l-1.3 .2l-.9 -1zM190.3 154.2l2.1 -.4l.7 -.2l1.4 .5l2.6 .5l1.7 .1l-.6 1.4l-.1 2.4l.7 .5l.1 2.3l-.7 -.1l-.9 -.3l-1.5 -.6l-1.2 -1l-1.8 -.3l-.9 -1.2l.1 -2.1zM252.2 167.8l.2 -.8l1.3 -.5l.3 -.5l.2 .8l1.3 .8l-1 .3l-.7 1.3l-.3 .6l-.8 -1.2zM188.9 144.2l.7 -.4l-.3 1.4l.4 1.5l-.3 .5l.9 1.6l-.2 1.5l-1.4 .5l-.6 -.9l.2 -1.2l.3 -1.7l0 -1.9zM231.2 129.6l1.2 .9l.9 .5l.9 .3l1.1 .4l-.1 1.1l1 .6l-1.5 .7l-1.2 -.7l-1 -.2l-.7 -.8l-.5 -.7l-.2 -.6zM189.2 164.4l1.1 -1.2l1.5 .2l-.2 1l.2 1.4l-1.7 -.1l-.3 -.6zM192.8 167.2l.6 0l1.4 -.7l.8 .3l-.4 1.4l.6 .6l-1.7 .1l-1.2 0l.1 -.9zM116.8 350.2l1.2 .7l1.9 -.8l.6 .1l1.5 .4l1.8 1.1l1.8 -.6l-.1 1l1.9 .5l1.3 -.7l.9 1.1l1.9 -.5l1.3 .6l1.9 -.4l.5 0l2.4 .1l1.1 .3l1.1 .1l1 .1l2 -.3l1 .8l2.2 -1.4l.9 .8l1.7 -.3l.4 -.4l2.2 .5l.7 -.2l2.1 -.1l.5 -.4l1.8 .1l1.4 -.7l1.8 .1l1.4 .1l1.2 .3l.7 -.4l1.3 0l1.3 -.5l1.8 -1.1l1.4 .2l1.3 -.8l1.5 0l2 -.2l.6 -.4l2.1 -.2l.8 .2l1 -.3l1.1 -1.3l.9 0l2.4 -.7l.7 .3l1 -1.3l1.6 0l1.9 .2l.3 -.9l1.5 -1.1l1.3 .8l1.1 -.9l1.8 -1.2l1.6 -.3l.5 .2l-.5 1.1l.1 1.5l-.1 .9l.2 1.3l.1 1.7l-.9 .2l-.7 .9l-2 .3l-.4 .2l-1.4 .6l-.9 1l-1.7 1.1l-1.9 -.6l-.4 1.2l-1.1 .1l-1.5 .4l-1.3 .6l-1 .6l-1.7 .9l-1.4 .8l-.7 -.3l-1.7 .9l-.7 .8l-1.4 .1l-.4 .3l-1.1 1.3l-1.2 .6l-2.1 .1l-1 -.5l-.8 .7l-1.6 -.1l-2.3 .5l-1.2 -.8l-.7 0l-1.5 .8l-1.9 0l-1.3 -.2l-.6 .3l-2.1 -.6l-.1 .4l-2.1 0l-.9 .6l-1.4 -.4l-1.4 .2l-1.9 .7l-.2 -.2l-1.3 -.4l-1.6 -.2l-1.4 .7l-1.4 0l-1.1 -.9l-1.4 0l-2 -.5l-.6 .4l-1.2 -.6l-2.3 -1.1l-.7 -.2l-1.6 -.5l-1.6 .6l-1.2 -.2l-1.1 -.3l-1.4 -1.1l-1.1 -.7l-1.3 .2l-1.9 .3l-.7 -1.5l-.5 0l-2.1 -.3l-.1 -.9l1.1 -1.9l-.1 -1.9zM164.3 305.3l1.5 -.4l.2 -1.2l1.3 -.5l2.6 -.4l1.1 -.1l.6 .1l1.4 .3l1.1 .9l.2 1.7l-.3 1.3l-.8 .8l-1.7 -.2l-.7 .6l-2.6 .7l-.6 1.5l-1.6 -.7l-1 -.2l-1.1 -2.3zM177.8 319.1l-.3 -.9l1.5 -1.8l.4 -.4l-.2 -2.3l1.2 -1l1.4 -.4l0 -1.5l1 -2.2l1.9 -.3l.2 0l.3 1.9l.9 2.4l-.7 1.4l-.2 1l-1.5 1.1l-.4 1.2l-.5 1.3l-1.2 1.2l.2 .6l-1.9 .7l-1.3 1l-.5 2.1l.1 -1.3l0 -2zM146.2 324.5l.9 -.2l1.6 -.7l1.1 -.1l1.8 -.2l1.2 .3l1.7 1.5l-.2 1.6l0 2l-1.3 .2l-1.3 2l-2.3 1.4l-.7 -.8l-2.2 -1.1l-.1 -2.1l.3 -1.3zM150.2 335.4l2.1 -.4l1.2 -.5l1.3 -1.3l.5 1.5l1.6 1.3l1 .1l.5 1.5l.6 2l-.4 .6l.4 .9l-.8 1.2l-.9 2.2l-2.4 -.2l-1.9 .8l-.4 -1.3l-1.2 -1.3l0 -.9l-.1 -2.2l-.7 -1.3l-.3 -.9zM131 334l2.3 .1l.4 -1.2l1.7 2.1l.5 1.1l1.3 .8l.5 .8l-1.1 1.6l-.5 1.6l-.9 .8l-2.5 .7l0 -2.2l-.2 -.2l-1.4 -1.1l.8 -2.5l-1.1 -.5zM140 310l1.4 .6l1.2 -.3l1.6 .7l.9 2.3l-1.5 1.3l-.2 1.8l-1.6 -.9l-1.9 .2l-.4 -1.2l.8 -2.6zM131 302.5l1.1 .4l2.7 -.4l0 .9l1.9 1.1l1.1 .5l-3.2 1l-.1 -.9l-2.4 .2l-1.2 -.8zM173.2 332.1l3.1 .1l-.5 .9l-.7 1.3l.2 2.1l.6 1.5l-2 1.2l-.6 -1.7l.2 -1.4l.7 -1.4l-.6 -1.2z"/>
<path fill="#000" d="M139.3 288.8l.5 -.7l.5 .8l-.5 .4zM215.9 262.7l0 .6l-.7 .1l-.5 -.3l.6 -.3zM28.1 290.2l.1 1.1l-.5 -.6l-.3 -.7l-.1 -.9l.4 .2l.3 -.3l.4 .7zM120 276.5l.3 -.2l.3 .2l.1 .3l0 .6l-.5 -.1l-.3 -.2l-.2 -.2l.1 -.3zM82.2 250.5l.2 -.3l.4 .1l0 .7l-.5 .1l-.4 -.1zM175.4 229.6l.4 -.2l.3 -.1l.4 -.1l.3 .3l-.6 .3l-.5 .4l-.2 -.3zM212.2 214l-.4 -.1l-.2 -.3l.1 -.2l.3 .2zM136.8 232l.5 0l.1 .5l-.3 .3l-.5 -.4zM156.1 219.1l0 .3l-.1 .2l-.1 -.2l-.2 -.3l.2 -.1zM54.9 133.3l-.4 .6l-.4 -.6l.4 -.3zM80.4 257.8l-.2 -.8l.7 .1l.6 .4l-.3 .5zM157.1 215.9l.4 .1l.3 .1l0 .5l-.4 -.1l-.3 -.2zM153.9 195.2l.8 -.4l.1 .6l-.5 .7zM161.2 204.1l.3 -.1l.1 .3l-.2 .5l-.3 -.3l-.2 -.2zM210.8 238.7l-.3 -.2l.2 -.3l.3 .1zM123.4 253.5l-.4 0l-.4 -.5l.4 -.6l.4 0l.6 0l-.2 .7l0 .6zM115.7 265l-.3 .6l-.4 -.6l.1 -.6l.7 .1zM235.9 235.8l-.7 -.2l-.7 -.2l.6 -.3l.2 -.1l.3 -.2l.6 .2l.6 .4l-.4 .3zM52.1 180.9l.8 .1l.6 .5l-.7 -.1zM136.2 260l-.7 -.4l-.1 -.5l0 -.5l.5 -.1l.1 .5zM128.6 103.7l-.1 .4l-.4 .5l-.5 -.2l-.3 -.1l0 -.2l-.1 -.4l.5 -.3l.5 .1zM99 198.9l.5 -.3l0 .5l-.5 .3l-.2 -.2zM86.5 222l-.2 .1l-.2 -.3l0 -.3zM176.1 163.8l.4 -.6l.4 0l.2 .1l.3 .2l-.3 .6l-.4 .4l-.5 .2l-.2 -.3zM250.9 174.5l.5 -.5l.5 -.3l.4 .2l-.5 .8l-.6 .7l-.9 .9l.1 -.8l-.5 -.2zM93.8 313.1l-.1 .6l-.5 -.4l.1 -.4l.4 -.4zM34.9 258.2l-.5 .2l-.5 .4l-.2 -.5l-.1 -.5l.6 -.4l.3 .5zM101.8 192.3l-.3 0l-.2 -.5l-.3 -.8l.5 -.2l.3 .4l.2 .5l0 .5zM117 183.1l-.4 .3l.1 -.8zM138.2 344.8l-.7 -.1l-.5 -.1l.3 -.3l.3 -.2l.6 -.2l.1 .3l.4 .2zM98.3 155.9l-.6 -.2l-.2 -.4l.9 .1l.5 .5zM261.7 252l-.8 .8l0 -.5zM203.8 311.2l-.1 -.1l-.1 -.3l.3 -.2l.2 .2l0 .3zM30 251.1l.6 -.2l.1 .7l0 .2l-.4 0l-.8 -.3zM27.2 282.4l.2 .2l-.4 .1l-.2 -.1l.2 -.3zM66.8 192.4l-.3 .5l-.2 .9l-.3 -.4l-.5 -.1l.5 -.7l.3 -.8l.4 .2zM144.2 216.3l.2 -.4l.9 .5l-.3 .2zM260.8 196.2l.3 -.4l.4 -.4l.3 .7l-.1 .7l-.1 .5l-.4 .3l-.3 -.7zM153.1 217.8l0 -.4l.5 -.1l.4 -.2l.5 .4l-.5 .4l-.5 0zM220.3 111.8l-.5 -.2l0 -.3l.4 -.2l.3 .2zM84.4 262.2l-.1 .5l-.5 0l-.3 -.3l.1 -.4l.3 .1zM39.9 242.9l-.3 .4l-.5 0l-.5 0l-.4 -.4l.6 -.4l.3 -.4l.7 -.1l.4 .4zM218.8 313.8l-.9 .1l-.3 .2l-.9 .1l0 -.4l-.1 -.4l.8 0l.4 .1l1 -.1zM133.8 321.1l-.4 -.1l-.1 -.7l.6 .2l.3 .3l0 .5zM248.7 293.8l.1 -.5l.4 -.4l.4 -.2l.6 -.2l-.2 .6l-.6 .6zM33.4 166.2l-.2 -.8l.1 -.8l.5 .5l0 .8l-.1 .5zM131.1 172.3l.8 .3l0 .2l-.1 .2l-.6 0l-.4 -.2l-.3 -.2zM240.4 175.7l.4 -.1l-.2 .5zM88.4 327.7l.2 -.2l.4 .2l-.2 .2l-.2 .2l-.2 -.2zM223.3 207.8l.8 .2l.5 0l.6 .2l.3 .4l-.6 .1l-.4 .1l-.7 -.1l-.5 -.5zM154.4 170.3l.8 -.2l.1 .8l-.6 .3l-.3 0l-.1 -.3zM121.9 229l.4 -.1l.4 .9l.2 .8l-.6 -.8zM115.7 220.3l1.7 -.3l-.3 .5zM151.2 205.8l1 -.8l-.5 1.3zM204.4 150.6l-.3 .5l-.8 .7l-1.9 -.3l-.2 -1l1.8 -.5zM153.7 230.5l.7 .2l.1 .6l-.2 .5l-.7 .1l-.4 -.7l.2 -.4zM199.1 223.3l-.6 .2l.1 -.3l.3 -.2l.5 0l.1 .2zM104.9 99.1l-.1 -.3l.5 -.1l.3 .2l.7 .3l-.4 .5l-.8 -.1zM95.9 176.2l-.1 .7l-.7 .2l.1 -.7zM181.7 170.7l-.2 .5l-.3 .5l-.1 -.8l.3 -.5zM173.5 174.9l-.3 .9l-.5 .4l.1 -.5zM199.7 297.2l.4 -.9l.5 .2l0 .9zM14.3 258.8l.1 .3l-.2 .3l-.2 -.7zM179.5 290.4l-.1 -.3l.4 -.2l.5 -.1l.3 .2l.1 .3l-.5 .3l-.4 .4l-.2 -.4zM201.3 202l.3 .2l-.4 .5l-.3 .1l-.1 -.4zM258.1 198.6l.5 .4l-.8 .3l-.2 -.5zM132.9 193.8l.5 0l.1 .4l-.5 .2zM104.9 252.6l-.5 -.7l.2 -.6l.5 .7l.5 .9zM195.7 184.7l-.4 .1l.2 -.5zM41.9 198.4l-.4 -.8l.4 .2l.2 0l.3 .3l.5 .8l-.5 0l-.1 .1l-.3 .1zM114.6 103l.2 .2l.3 .5l-.2 .5l-.2 .2l-.5 -.1l.1 -1.1zM176.9 180.4l.2 .6l-.3 0l-.4 -.2l-.3 -.6zM189.9 206l.5 .2l-.6 .2l-.4 .1l0 -.3zM211.7 162l.5 0l-.3 .5l-.6 0zM27.6 279.4l.7 .3l-.3 .6l-.4 .7l-.8 0l.4 -.7zM163.6 185.3l-.2 -.4l.4 -.2l.2 .4l0 .3zM105.1 193.4l-.4 .2l.2 -.6zM208.2 263.6l-.5 .5l-.4 .2l-.7 .1l.5 -.6l.4 -.4l.4 -.1zM171.9 125.5l-.7 .1l-.5 -.2l-.4 -.5l.5 -.4l.5 .2l.8 .1zM129.7 213.3l-.3 .1l-.4 .1l-.2 -.4l.3 -.4l.1 -.6l.5 .1l.2 .4l0 .3zM142.9 256.2l.3 0l0 .3l-.3 .1l-.1 -.2zM192.4 258.5l-.1 -.2l.2 -.1l.3 0l.1 .2l-.3 .1zM222.2 221.7l.1 -.5l.5 -.2l.1 .3l.1 .5l-.4 0zM70.8 285.4l-.2 .6l-.5 -.6zM156.4 183.4l-.6 -.5l.2 -.7l.6 .1l.4 .6l.3 .8l-.5 .2zM179.7 169.7l-.3 .1l-.2 .2l-.2 -.3l0 -.3l.4 .1zM73.3 238l.4 -.5l.4 .1l.6 -.1l-.1 .7l-.4 .1l-.3 -.1zM222.4 328.1l.4 -.3l-.1 .8l0 .5l-.1 .8l-.4 -.2l-.3 -.4l-.2 -.7l.3 -.5zM68.3 287.4l-.2 .7l-.7 -.7l-.2 -.9l.5 -.4l.5 .7zM179.3 162.8l.2 .3l-.3 .4l-.7 .1l-.4 -.3l.2 -.4l.4 -.3l.6 -.3zM212.2 207.1l.4 .3l-.9 0zM173.4 350.4l0 .5l-.5 .2l-.1 -.4l.2 -.3zM207.4 172.4l-.2 -.6l.7 -.7l.7 .1l.2 .7l-.5 .9l-.8 .1zM66.6 140.6l-.4 -.2l.6 0l.7 .4zM14.9 253.4l-.3 -.4l.2 -.3l.8 .4zM167.4 93.4l.7 -.2l-.1 .2l-.4 .4l-.5 -.2zM91.4 161.8l.5 -.1l.4 .4l-.4 .5l-.5 -.2l-.5 -.2zM174.6 238.6l-.3 .5l-.1 .2l-.2 .2l-.1 -.5l-.4 -.6l.3 -.3l.2 -.8l.4 .4zM265.4 237.1l.7 -.4l.3 -.2l.9 -.4l.6 .3l-.3 .4l-.6 .3l-.8 0zM96.5 243.3l.4 .4l.4 .5l-.4 -.1l-.3 -.1l-.2 -.5zM124.8 254.3l.2 -.4l.4 .4l-.1 .4zM241.7 208.6l-.4 .1l-.6 -.2l-.5 -.7l.7 .2l.6 .1zM171.2 207.8l-.6 -.6l0 -.8l.5 .6zM60 187.5l-.8 -.4l1.3 .2zM115.6 226.3l.2 .9l-.9 -.9zM158.1 223.6l-.6 0l.3 -.4zM148 199.1l.5 0l.2 .5l-.4 .4l-.4 .1l-.3 -.3l-.1 -.3l.1 -.2l.1 -.4zM234.1 135.3l-.6 -.1l.1 -.5l-.1 -.4l.1 -.4l.5 .2l.1 .4l.3 .3l.1 .5zM142.2 102.1l-.2 .3l-.4 .1l.1 -.6l.3 0zM129 315.5l.5 .2l.5 .1l.1 .3l-.6 0l-.5 -.3zM56.7 205.7l-.1 -.4l.8 -.4l.4 -.5l.1 .3l.5 -.2l-.6 .6l-.4 .3l-.6 .5zM159.7 173.8l0 .8l-.1 .9l-.7 .7l-.6 .3l.3 -1.4l.6 -1.7zM179.1 287.2l.2 -.2l.3 .2l-.1 .3l-.4 .2zM209.4 201.4l-.2 .5l-.5 .2l-.6 -.1l.4 -.6l.3 -.5l.4 .2zM84.5 184.3l-.3 -.2l0 -.8l.3 0l.2 .8zM90.6 238.8l-.3 .3l-.7 -.3zM167.7 308.9l.3 -.3l0 .7zM134.5 232.6l-.2 -.6l-.1 -.7l.6 .1l.3 .4l-.3 .4zM113.8 147.4l0 -.3l.4 -.1l-.1 .4zM109.9 301.8l.7 -.8l.2 .3l.1 .3l-.7 .8l-.6 .2zM126.7 190.1l.4 .3l0 .4l0 .3l-.5 -.3l-.1 -.5zM112.3 284.9l0 1.2l-.5 .6l-.5 .1l.3 -1.1l.2 -.9zM65 165.8l.1 -.9l.4 .6l-.1 .7l-.1 .3l-.3 0zM152.5 313.2l.3 -.6l.8 -.5l.7 -.2l-.2 .6l-.6 .6l-.7 .4zM145 229.2l.5 .3l-.6 .9l-.6 -.1l.1 -.5l.1 -.3l.3 -.3zM77.3 235.2l.8 -.2l.3 .5l-.8 .2l-.4 -.2zM173.2 139.1l-.3 .1l-.3 0l-.4 -.4l.2 -.1l.4 0zM144.8 332l-.3 .2l0 -.3l.1 -.1l.2 .1zM179 275.8l.5 .3l.6 .2l-.3 .7l-.3 .2l-.3 0l-.4 -.6zM166.1 145.5l0 .3l-.2 .2l-.3 -.1zM45.2 157.6l.9 .1l.4 .7zM99.4 293.4l-.2 -.2l-.3 -.3l.5 -.1l.6 .2l-.1 .4zM125.2 268.6l.7 .2l-.1 .7l-.9 -.4zM61.2 120.3l1.3 -.1l-.6 .8l.1 .5l-1.1 .5l-.6 -.5l-1.2 -.1l.6 -.8zM108.4 272l0 -.3l.4 0l.3 .2l-.3 .1zM224.1 310l-.1 -.4l.5 .1l.1 .4zM172.3 220.4l-.6 .1l.2 -.4zM88 178.7l.4 -.3l.6 .2l0 .6l-.6 .2l-.4 -.3zM128 162l-.2 -.3l.5 .2l.2 .2zM269 182.3l.4 -1.2l.3 .4zM101.5 141.3l-1.1 .3l.3 -.5zM204.6 149.3l.6 .1l.6 0l.5 1l-.2 .3l-.8 -.4zM256.1 183.9l.3 .3l.2 .3l.3 .6l-.7 -.2l-.3 -.3l-.4 -.3l.4 -.1zM91.4 179.9l.8 .1l.7 .2l-.1 .4l-.5 .1l-.5 -.4zM223.3 143l.3 0l.5 .2l-.1 .2l-.6 -.1zM204.6 330l.3 -.4l.1 .5l-.2 .2zM97.6 335.9l-.4 .1l-.5 0l-.7 -.1l.4 -.3l.7 0l.5 0zM161.3 285.3l-.2 .7l-.6 .2l0 -.6zM139.7 116.5l.1 -.3l.2 -.1l0 .3l-.2 .5l-.2 -.1zM139.1 334l-.7 -.4l.1 -.5l.6 .3l.6 -.1l.4 .7l-.2 .3l0 .4l-.6 -.1zM70.1 208.1l.4 -.3l.8 .3zM78.7 210.9l.6 0l-.2 .7zM168.6 258.8l-.3 -.4l.5 0l.5 -.1l.1 .4l-.3 .3zM196.6 225.2l.3 0l.1 .4l-.2 .3l-.4 -.1zM128.1 252l.5 .4l.3 .6l-.6 .4l-.5 -.4l-.6 -.2l.3 -.5zM51.1 247.1l.2 -.3l.3 .1l0 .4l-.4 .3zM191 215.3l-.4 0l-.3 -.1l.2 -.3l.3 .1zM128.3 187.8l.7 .7l-.9 -.1l-1 -.4l.1 -.4l-.2 -.5l.8 .4zM132.6 100.4l.2 .3l-.1 .2l-.3 .1l0 -.4zM59.9 204.1l.3 -.6l1 .4zM263 226.8l.1 .4l-.4 .3l-.7 .2l-.3 -.4l-.1 -.3l.5 -.2l.4 -.4l.6 0zM160 159.7l.4 .7l-.2 .5l0 .5l-.4 -.1l-.4 -.5l-.2 -.6l0 -.4l.2 -.6zM214.6 219.3l-.4 .4l-.3 .1l-.6 -.8l.1 -.8l.2 -.3l.4 .5zM41.8 181.4l-.4 .2l0 -.4l.3 -.5l.5 -.4l.6 -.2l.1 .4l-.2 .5l-.6 .3zM172 228.9l.4 .7l-.5 .5l-.6 -.6zM19.7 181.7l.1 -.6l.5 .3l.8 -.2l.1 .5l-.2 .6l-.7 .1l-.4 -.2l-.2 -.2zM236.4 295.1l.3 -.8l.2 .6l-.3 .5zM57.6 264.4l0 -.4l.4 -.4l.3 -.2l.3 -.1l.1 .5l-.6 .9l-.6 .3zM89.5 141l.5 -.1l.4 .5l-.4 .4l.1 .7l-.5 -.1l-.4 -.5l0 -.4l.2 -.3zM216.3 161.3l.2 -.6l.5 .4l.2 .2l.2 .5l-.5 .2l-.6 -.1zM170.6 158.6l.5 .2l-.3 .6zM111.1 293l-.3 0l-.3 0l.3 -.6l.2 -.8l.5 -.4l0 .7l-.2 .5zM180.3 211.5l.6 -.2l.1 .6l.3 .3l-.5 .1l-.4 -.2l-.1 -.3zM147.2 258.9l-.3 -.8l.7 .8l.7 .6l0 .5l-.6 -.3l-.6 -.4zM157.3 258.8l.1 .3l-.2 .5l-.6 .5l-.4 -.1l.5 -.9zM132.6 238.1l.9 .3l.2 .4l0 .3l-.3 .2l-.6 -.4l-.7 -.5zM223.4 292.6l-.8 .6l-.1 -.5zM166.5 204.6l-.4 -.1l-.4 -.1l-.2 -.6l.1 -.5l.1 -.4l.4 0l.3 .5l-.1 .4zM188.2 299.5l-.8 -.7l1.1 .4zM96 175.5l-1.2 .5l-1.2 .3l-1.3 -.2l-.3 -.5l0 -.4l1 -.3l1.3 -.4l.6 .6zM90.2 328.2l-.2 .1l0 -.7l.3 .1zM167.5 202.6l-.5 -.4l0 -.6l.6 -.2l.5 -.2l.7 .2l-.5 .6l-.2 .4zM42.7 131.4l-.5 .2l-.6 -.2l0 -.8l.6 -.4l.5 .5zM199.7 308.6l-.5 .1l-.5 .6l-.1 -.5l.1 -.6l.5 -.3l.3 -.1l.1 .3zM183.3 194l.6 .2l.5 .8l-.5 0zM115 255.6l-.7 -1l.4 -.2zM70.5 173.6l.2 -.7l.2 -.4l.2 .2l-.1 .4l-.1 .2zM168.7 161.7l.6 -.3l.6 -.4l-.2 .5l0 .5l-.8 .4l-.7 .3l-.2 -.3zM133 333.3l.4 -.1l0 .5zM260.4 272.3l-.5 -.3l-.1 -.4l-.2 -.6l.7 .3l.2 .5zM148.6 294.1l-.1 .4l-.3 .2l-.2 .3l-.4 -.2l-.2 -.2l.2 -.3l.3 -.3l.3 0zM108.7 148.9l.5 -.4l.5 -.5l.3 .1l-.2 .5l-.2 .6l-.4 0l-.4 .3l-.2 -.2zM261.4 262.1l.1 .9l-.4 0l-.1 -.8l-.1 -.6l.3 -.4zM150.6 220.3l.6 .3l.7 .8l-.5 .4l-.8 -.5l-.1 -.5zM59.1 288.8l-.3 -.4l.2 -.5l.5 .4l.2 .6l-.2 .2zM154.2 125.5l.3 -.7l.4 .2zM226.6 232.3l.1 -.9l.3 -.3l.2 .5l0 .4l-.2 .1zM166.1 202.2l.2 .7l-.9 .1l.1 -.7zM98.4 215.6l.4 .1l.2 .1l0 .1l-.4 0l-.4 -.2zM216.5 322.2l-.8 -.1l-.1 -1.5l-.3 -1.2l.6 -.3l.6 -.2l.5 1.1l-.2 1.1zM79.5 330.6l.4 -.1l.2 .3l-.2 .1zM219.5 295l-.2 -.3l.5 -.1zM93.5 241.2l-.7 -.7l.6 .2l.8 .4l-.2 .3zM63.9 270.7l0 -.3l.1 -.4l1.1 -.3l.7 .2l-.2 .3l-.2 .3l-.6 0zM50.7 292.3l.4 .3l-.5 .4zM218.7 280l.3 .1l.2 .4l-.2 .7l-.2 .3l-.3 .2l-.1 -.5l.2 -.4zM134.1 186.5l-.3 .5l-.7 .5l-1.1 .6l-.5 -.2l-.5 -.3l.5 -.7l1.3 -.6l1 -.1zM51.6 179.1l-.9 -.2l-.3 -.5l.8 -.2zM97 334.2l.1 -.9l.6 .5l-.1 .8zM151.4 330l.2 -.7l.5 -.5l.3 .2l-.1 .7l.2 .7l-.5 .7l-.4 -.3l-.5 0zM221.2 216.8l.5 .3l.4 .6l-.8 -.4zM66.8 275.4l-.2 0l-.2 -.3l.3 -.2l.2 .3zM29.2 285.4l.3 -.1l.6 0l-.1 .2l-.5 .1zM238.8 258.1l.4 -.8l.6 -.1l.8 .1l-.6 .7l-.5 .3zM185.2 143.8l.3 .1l-.3 .3l-.5 .1zM117.2 282l.2 -.3l.6 .7l-.4 .3zM269.1 186.9l.1 -.6l.5 -.5l.4 .5l0 .4l-.4 .5zM103.2 244.8l.7 -.1l.4 .6l-.5 .5l-.6 -.5zM220 192.1l.1 .6l-.4 .2l-.2 -.5zM68.7 265.6l-.2 .5l-.3 .4l-.3 -.2l-.4 -.5l.5 -.4l.4 -.4zM140.7 294l-.3 .3l.2 .3l-.7 -.2l-.4 0l-.1 -.3l.1 -.2l.6 -.2zM80 150.8l.7 -.5l.7 .3l.6 .5l-.8 .5l-.7 -.3zM160.2 92.8l-.3 0l-.4 -.4l.5 -.2l.5 .1zM176.1 124.6l-.3 -.1l-.2 -.2l-.2 -.4l.2 0l.3 .3zM132.6 263l.2 .3l0 .2l-.1 .3l-.2 -.4l-.2 -.3zM40.5 282l-.3 .4l-.2 -.4l.2 -.4zM42.5 147.5l.6 0l-.1 .6l-.4 .6l-.4 -.2l0 -.4zM223.7 278.5l.2 .7l-.2 .3l-.2 .1l-.1 -.7zM80.9 135.1l.7 -.3l.8 -.4l.2 .4l-.4 .4l-.9 .1zM172.7 114.2l.2 -.7l.2 -.3l.5 -.1l-.2 .6l-.2 .5zM217.6 207.8l.3 -.1l.4 .2l-.3 .5l-.4 .5l-.2 -.2l-.4 -.1l.1 -.6zM86.8 174.4l.6 .2l-.1 .6l-.5 .2l-.5 -.2l.1 -.5zM217.1 219.3l.3 .2l.7 .2l-.6 .4l-.6 -.1l-1 .3l-.1 -.5l.5 -.5zM145.5 188.2l.4 0l-.4 .4zM117.8 134l.1 -.2l.2 -.1l.1 .1l0 .2l-.2 0zM66.9 283.8l.2 -.4l.3 -.3l.3 -.1l-.2 .7l-.5 .5zM83.2 165.6l.5 0l.7 .3l0 .4l-.8 -.2zM71.7 284.7l0 .2l-.3 .4l-.3 -.2l-.2 -.4l.6 -.4zM167.8 335.8l.2 .3l-.4 .5l-.2 .3l-.3 .1l-.1 -.3l.1 -.5l.4 -.2zM250.6 171.2l.4 -.2l0 .8zM64.6 206.3l.3 .1l.7 .2l-.6 .2l-.2 .4l-.7 .1l-.3 -.4l-.2 -.3l.3 -.3zM239.8 156.6l-.1 -.4l.4 0l.5 .4l-.1 .4zM77.3 190.5l.2 .6l-.1 .7l-.5 .1l-.4 -.5l-.1 -.4l.2 -.3l.2 -.5zM66.1 257.4l.4 -.2l.3 .2l.2 .6l-.7 -.1zM159.6 129.4l.1 .5l-.5 .2zM163.1 310.2l.1 .4l0 .3l-.2 .5l-.4 -.1l-.1 -.6l-.1 -.4l.1 -.5l.4 -.1zM140 259.9l.4 -.4l.4 .3l-.4 .4l-.4 .2l-.3 -.1zM211.8 281.7l-.2 .3l-.2 .4l-.4 0l.1 -.3l.3 -.3zM76.8 234.2l.5 0l.7 -.1l.3 .6l0 .5l-.6 .1l-.4 -.1l-.6 0l.3 -.5zM73.9 281l-.4 0l-.4 0l.3 -.5l.5 0zM250.8 225.2l-.5 0l-.2 .3l-.3 -.9l-.1 -.6l.5 .3zM124.2 216.7l.4 -.2l.5 0l.1 .5l-.2 .7l-.6 .4l-.3 -.4l-.4 -.4zM32.8 219.7l.3 .2l-.1 .3l-.3 .1l-.2 -.2zM91 266.1l-.3 -.1l.4 -.1l.2 .1zM9.5 213.6l.1 -.5l.2 .1l.2 0l.4 .1l-.3 .5l-.1 .5l-.3 .2l0 -.6zM257 250.8l-.6 -.2l-.1 -.8l.5 0zM184.3 205.9l-.4 .6l-.6 -.5l0 -.5zM80.3 232.5l-.6 1.1l-.2 -.3l.3 -.9zM128.5 154.7l.5 .2l.3 .2l.5 .5l-.1 .4l-.6 -.4l-.2 -.2l-.7 -.5zM147.9 234l-.5 -.7l.3 -.3l.9 .4l.7 .5l-.1 .4zM40 146.5l-.5 -.1l.4 -.4l.5 -.4l.1 .6zM93.1 259.4l-.6 .1l-.1 -.5l.4 -.1zM111.7 132.4l-.2 .4l-.5 -.2zM144.5 228.9l-.3 .1l-.2 -.2l0 -.4l.2 -.5l.2 .5zM128 186l-.3 0l-.1 -.2l.4 -.4zM212.3 320.8l.6 0l-.3 .4l-.7 -.1zM189.9 216l-.8 -.4l.2 -1.2l.7 -.3l.4 .1l.4 .7zM190.4 152.3l-.2 -.4l0 -.6l.5 0l.1 .4zM229 232.8l-.1 .2l-.4 .2l-.3 -.1l.3 -.2zM35.4 141.6l0 -.6l0 -.8l.4 .5l.3 0l.2 .6l-.3 .4l-.1 .2l-.3 .3zM122.8 258.7l.1 .4l-.4 .3l-.5 .4l-.5 -.5l.4 -.6l.5 -.2zM105.4 109.4l-.2 .4l-.7 -.6l-.6 -.5l.6 0l.4 -.3l.6 .7zM242.9 160.8l0 .4l-1 -.1l-.9 -.2l.7 -.3l.5 -.3l.5 .3zM91.5 200.2l.8 .5l-.4 .3l-.5 -.3zM113.2 285l.3 .4l-.1 .3l-.2 .1l-.1 -.5zM128.8 204.3l-.5 .7l-.7 -1.2l-1.1 -.9l.6 -.7l.7 .4l1.1 .4zM247.8 271.4l-.1 .3l-.3 -.3l-.1 -.3l.1 -.2l.2 .1zM107.2 151.1l.3 .3l.4 .4l-.7 -.2l-.5 .3l-.3 -.6l-.4 -.3l.1 -.4l.7 0zM233.4 226.5l.8 -.4l.3 -.2l.6 -.5l.2 .3l0 .2l-.2 .4l-.6 .3l-.5 -.1zM168.8 256.6l.8 -.3l.9 .5l0 1.1l-1 .2l-1.1 .6l-.2 -1.3zM211.7 239.9l0 .4l0 .3l-.4 0l-.1 -.3l0 -.4zM193.8 317.4l-.4 .6l-.4 -.5zM80.4 306.7l.4 .5l-.8 -.3zM52.4 162.2l.3 .4l-.3 .1zM108.8 244.6l-.7 -.6l-.5 -.5l0 -.3l.2 -.3l.6 .6l.5 .6zM128.7 158.8l-.2 -.6l-.3 -.3l.3 -.7l.4 .1l-.1 .6zM57.8 188.7l.3 -.9l1 -.8l.4 1l.4 .9l-1.2 .2zM165.6 138.9l-1 .5l-.3 -.1l0 -.6l1 -.9l.7 0zM158.6 273.2l-.2 -.1l-.1 -.1l.5 -.4l.3 0l.2 .3zM159.7 150.8l.3 .4l-.4 .2l-.6 -.1l-.5 -.6l.3 -.4l.7 0zM185.6 246.7l-.3 -.5l1 .3zM159.7 162.1l-.5 .2l-.3 -.7l.7 .2zM146.2 271l.4 .1l-.1 .3l-.5 -.1zM81.5 230.4l-.4 .1l-.1 -.3l.2 -.4l.3 .1zM39.4 306.1l.1 .2l0 .2l-.2 0l-.3 -.2l.2 -.2zM175.4 318.8l.3 -.2l.4 .2l0 .6l-.2 .3l-.2 .5l-.5 -.3l-.3 -.6l.1 -.5zM146.9 249.7l.1 -.4l.3 -.4l.6 -.2l.3 1l-.6 .4l-.4 .1zM100.8 269.3l.2 .3l-.2 .5l-.6 .6l-.3 -.5l0 -.5l.4 -.5zM99 263.5l-.4 -.5l.4 -.4l.2 .6zM23.5 263.9l.4 .2l.2 .5l-.2 .4l-.6 -.4l-.3 -.1l0 -.3l0 -.3l.1 -.2zM193.4 286l-.7 .1l-.2 -.4l.7 0zM108.2 280.3l-.5 -.2l-.1 -1.1l0 -1.1l.5 .8l.4 1zM27.9 196.8l.6 .3l-.7 .6l-.3 -.3zM69.5 317.7l.3 .3l-.6 .3l-.4 0l0 -.2zM187.1 343.4l1 .2l-.1 .4l-.4 .1l-.7 .2l-.8 -.4l.7 -.2zM184.5 321.7l-.1 -.7l.8 .2zM95.1 233.3l-.2 -.5l.3 -.5l.2 .5zM238.9 298.2l-.2 -.2l.1 -.2l.1 -.1l.3 0l0 .3zM191.9 187.4l.2 .5l-.1 .3l-.5 -.1l-.2 -.6l-.4 -.8l.7 .4zM115.5 328.4l-.1 .3l-.2 .1l.1 -.4zM179.8 171.2l-.6 .1l.1 -.6l.4 -.4l.6 .1l-.3 .6zM13.7 231.5l-.6 0l-.5 -.5l-.1 -.5l.8 -.1l1 .6l.3 .6zM123.4 312.7l.4 .7l.2 .2l.3 .5l-.1 .6l-.5 -.1l-.3 -.6l-.6 -.5l.4 -.3zM235.3 133.6l-.5 -.7l0 -.5l-.2 -.7l.7 .6l.4 -.1l.3 .6l-.3 .2l0 .4zM243.1 310.3l-.3 .5l-.5 -.3l.4 -.5zM217.2 202.3l.3 -.7l.3 -.4l.6 -.3l.4 .5l-.2 .5l-.2 .4l-.6 .3zM43.7 148.7l-.6 .1l.3 -.6l.5 -.4l.1 .7zM55.2 213.1l.3 -.4l.5 .3l.1 .4l-.3 .4l-.7 0zM63.7 228.7l.8 .4l-1.5 .2zM137.7 349.2l.3 .4l-.1 .2l-.1 .4l-.5 0l-.4 -.4l.3 -.3l.2 -.2zM238.1 173.2l.7 -.5l.4 .3l-.4 .8l-.5 -.1zM183.8 235.9l-.5 0l.3 -.5zM206.1 232.8l.1 -.7l.5 -.6l.8 .6l-.2 .7l-.5 .6zM209.4 211.1l.2 .3l-.5 -.1l-.4 -.2l.4 -.2zM191 232.2l-.2 -.3l.3 -.1l.6 -.2l.3 .3l-.2 .4zM75.1 138.8l-.4 .3l-.3 -.1l.3 -.5l.4 -.6l.1 .5zM216 283l-.4 -.2l-.6 -.2l.6 -.4l.8 .2l.6 .2l-.6 .2zM29.6 184.7l-.1 -.4l0 -.4l.5 -.5l.7 .4l-.3 .5l-.2 .5zM111.2 223.4l-.1 -.5l.6 -.7l.3 .6l-.4 .8zM58.1 250.6l-.2 -.5l.5 -.3l.2 .6zM111.4 188.3l-.2 -.4l-.3 -.4l.3 -.3l.4 -.3l.6 .2l0 .8l-.4 .4zM89.8 224.5l.5 .4l-.3 .3l-.2 .2l-.4 -.2l-.5 -.6l.5 -.2zM127.6 169.1l.4 -.1l.2 .5l-.4 .2l-.6 .1l.1 -.6zM127.2 258.3l-.3 .4l-.3 .4l0 -.3l.3 -.5zM202.6 226l-.3 .2l0 -.3l.3 -.3zM211.2 305.6l.3 .3l.2 .4l-.9 -.1l-.7 .1l.1 -.4l.1 -.4zM115.2 191.4l.6 .8l-.5 .2l-.8 -.3l-.3 -.8l.5 -.1zM259.7 218.4l-.5 .2l-.2 -.3l0 -.2l.2 -.8l.4 .4l.6 0zM97.2 296.3l-.3 .2l-.4 .2l-.7 -.5l0 -.4l.4 -.3l.7 .4zM82.5 108.8l-.4 -.3l-.4 -.7l.1 -.7l.5 .2l.4 .8l.5 .7l-.3 .2zM211.4 158.6l-.5 -.3l-.4 -.4l.4 -.2l.1 -.4l.4 .1l.6 .3l0 .6zM170 156.1l0 .2l-.2 0l-.1 -.1l-.1 -.3l.3 .1zM210.4 263.1l-.3 -.3l.3 -.1l.4 -.1l.7 .4l.4 .4l-.4 .1l-.2 .2l-.6 -.3zM49.7 191.1l-.4 .5l-.4 -.6l-.5 -.6l.3 -.5l.4 .4zM20.2 228.1l.2 -.4l.4 0l.2 .3l-.5 .1zM247.7 231.8l-.5 .3l0 -.5l.7 -.2zM251.3 187.2l-.3 .1l-.3 0l-.1 -.4l.3 -.2l.2 .3zM94.7 210.1l.3 -.3l.3 -.3l.3 0l.1 .4l.3 .3l-.3 .4l-.5 .2l-.1 -.5zM117.9 284.5l.7 -.2l.5 .3l-.5 .4l-.9 .1zM59.9 165.4l-.3 .6l-.3 -.9zM43.2 230.1l.3 .3l-.5 .2zM109.5 289l-.5 -.2l.5 -.3zM138.8 195.9l.3 0l.5 .4l-.7 0zM247.9 269.1l.8 0l-.3 .5zM267.4 263.3l-.8 .3l-.2 -.8l-.2 -.5l.4 -.4l1.1 0l.5 .8l-.4 .4zM51.1 301.5l-.5 -.5l.5 -.5l.4 .7zM194.3 240.6l.2 -.1l.4 .1l.1 .4l-.2 .1zM253.7 154.6l0 .9l-.4 -.3zM229.6 255.3l.1 -.2l.7 .2l.2 .4l-.3 .1l-.3 -.2zM146.4 192.3l1 .3l-.5 .6zM101.9 292.4l-.2 .6l-.6 .2l.1 -.6zM201.5 282.2l.3 0l.8 -.1l-.2 .5l-.5 .2l-.5 .1l-.2 -.2l-.1 -.1l-.3 -.4zM25.2 276l.1 1.1l-.4 -.1l-.1 -1zM81.7 232.1l-.5 0l-.2 -.3l.3 -.2l.3 .2zM71.1 110.2l-.9 0l.3 -.5zM223.3 224.3l.1 -.2l.5 -.3l.9 .1l-.3 .4l-.2 .2l-.3 .2l-.6 0l-.2 -.2zM161.6 170.6l-.6 -.2l.1 -.3zM266.2 241l.4 -1l.5 .6l-.3 1.1l-.3 .3l-.4 .5l0 -.9zM60 299.7l-.4 0l-.5 -.4l-.4 -.5l0 -.4l-.1 -.5l.6 .3l.3 .6l.6 .6zM174.3 223.4l.1 -.6l.5 0l.5 .4l-.6 .2zM138 241.8l-.5 0l-.3 -.3l.2 -.4l.3 -.2l.2 .4zM20.6 176.8l-.1 .7l-.3 .3l-.5 .3l.2 -1l.2 -1l.4 .3zM61.4 232.7l-.1 .5l-.4 -.3zM193.5 277.4l-.2 .4l-.7 -.5l.1 -.3zM171.3 255.6l.5 .3l-.1 .5l-.3 .4l-.3 -.3l-.2 -.3l0 -.4zM108.3 213.3l.4 -.2l.3 -.4l.2 .4l.2 .2l-.1 .5l-.4 -.2l-.4 0zM98.1 119.7l-.7 .3l.3 -.8zM86.6 212.4l-.4 -.1l.2 -.3l.7 .2zM57.4 242.3l.4 .1l-.2 .4l-.3 0l-.4 .1l0 -.4zM183.4 323.9l0 .5l-.2 .3l-.4 .1l-.5 .3l-.4 -.3l.4 -.4l0 -.5l.5 .1zM121.4 223.7l-.7 -.4l.1 -.4l.4 .2l.6 .5zM108.1 304.2l.2 -.5l.2 0l.1 .1l-.2 .3zM117.6 101.2l-.2 .5l-.3 .2l-.5 -.1l-.3 -.8l.2 -.8l.4 0l.3 .5zM108.5 246.3l-.3 -.2l-.3 -.6l.5 -.3l.4 .4l.3 .6zM61.5 134.4l.7 .5l-.7 .1l-.5 -.4zM129.6 117.9l.6 0l.4 .2l-.4 .3l-.4 -.2zM169.7 143.4l.6 0l0 .5zM177.7 269.4l.3 0l.2 .2l-.7 .1zM190 319.7l.2 .8l-.2 .3l-.3 -.8zM187 199.3l-.3 -.3l.6 -.1l.2 .3zM159.8 146.3l.2 -.3l.3 .2l.1 .3zM253.4 150.6l-.6 -.1l.1 -.3zM205.7 286.8l.4 -.3l0 .2l-.1 .6l-.3 .1zM35.5 255.8l-.8 -.1l-.1 -.5l.7 -.2l.9 0l-.1 .6zM146.4 249.2l-.5 .1l-.3 -.4l.3 -.4l.3 -.3l.5 .2l-.1 .4zM127 231.6l-.6 -.8l.1 -.4l.5 0l.5 .8zM62.7 304.2l.3 -.6l.8 .6l1 .5l-1.2 -.1l-.9 .1zM56.4 161.2l.5 .2l-.4 .4l-.4 -.1l-.3 -.3l.4 -.3zM164.4 136l-.1 -.5l1 -.1l.6 .3zM22.3 246.1l.1 -.3l.4 -.3l.8 -.4l-.1 .4l-.2 .4l-.4 .6l-.6 .1l0 -.4zM209 256.7l.7 .3l.8 .7l-1 -.2zM128 175.1l.3 -.5l.2 .5l-.1 .3l-.3 0zM204.7 234.9l0 -.7l.6 .4zM175.5 251.5l.3 -.6l.3 .4l-.1 .7l-.1 .4l-.2 .2l-.4 .4l-.1 -.8l-.1 -.7zM166.7 234.8l-.9 -.1l-.5 -.1l.4 -.3l.8 -.2l.5 .3zM174.5 240.8l.4 .1l-.2 .7l-.6 .1l-.3 -.3l.2 -.4zM268.9 211.5l-.3 -.4l.6 0l.4 .5l-.4 .1zM167.6 199.6l.1 -.4l.3 -.6l.6 .3l0 .6l.2 .5l-.4 .4l-.5 -.2l-.1 -.4zM62 251.7l-1.2 .8l-.5 -.4l1 -1l1.3 -.9l.2 .6l-.2 .4zM75.2 280.4l.3 .2l.1 .3l.1 .6l-.6 -.1l-.7 0l0 -.7l.5 -.3zM55.6 291.1l.8 1l.8 .9l-.1 .5l-.5 0l-.6 -.2l-.4 -1l-.4 -.5l0 -.5zM210.8 262.2l.2 .5l-.5 .1l-.3 -.1l-.3 -.2l.1 -.4l.1 -.5l.5 .1zM267.2 267.3l.9 .4l.6 0l.6 .6l-.3 .8l-.4 .4l-.7 .8l-.2 -1.2l-.6 -.7zM138.9 102.9l-.1 -.9l.6 -.9l.5 -.2l-.2 .9l-.3 1zM49.2 154.9l.5 -.4l.5 -.3l.7 0l-.1 .5l-.7 .5l-.5 .1l-.3 0l-.7 .1zM97.1 252.4l.5 .6l-.8 .2zM178.6 272.6l-.8 -.1l0 -.4l.5 -.1l.3 -.1l.7 0l.4 .4l-.5 .3zM150 299.7l-.1 -.6l.4 -.2l.3 .5zM48.1 193.2l.2 -.3l.3 .3l-.4 .3zM257.6 213.1l.1 .4l-.8 .3l-.6 .1l-.5 0l.4 -.4l.5 -.3l.6 -.6l.3 .3zM147.7 298.8l.3 -.3l.2 0l.1 .1l-.3 .2zM185.9 210.8l-.8 -.5l.6 -.1zM8.5 223.2l0 -.4l.6 -.1l.8 .3l.7 .5l-1.1 -.1zM157.1 194.3l-1 .1l.1 -.3l-.3 -.3l.8 -.3l.7 0l.6 0l-.1 .3l0 .3zM132.9 226l.4 .1l.6 .1l-.1 .6l-.4 .5l-.6 -.2l-.4 -.1l-.1 -.4l.2 -.4zM103 157.5l-.3 -.1l.4 -.3l.4 -.1l-.3 .3zM185.5 149l-.5 .3l-.6 .1l0 -.4l.9 -.2zM128.7 237.1l-.2 -.2l-.4 -.2l.7 -.9l.8 -.5l-.1 .5l.4 .2l-.6 .7zM193.4 277.7l.4 .5l-.2 .2l-.6 -.5zM185.1 205.4l-.2 .1l0 -.2l.2 -.3l.2 .1l.2 .1zM175 294.6l-.1 1.1l-.7 -.8zM141.2 275.5l.1 -.6l.3 -.5l.5 .4l-.2 .6l-.4 .4zM64.2 124.4l-.6 .1l.3 -.4l.6 0zM72.2 233l.1 .4l-.1 .5l-.6 0l.1 -.5l.1 -.3zM115 191.1l-.5 .4l-.2 -.6l.3 -.2zM124.5 288.8l.1 -.4l-.1 -.3l.3 -.1l.4 -.2l.2 .6l-.3 .3l.1 .7l-.4 -.4zM82.1 299l.5 0l.3 .2l-.3 .2l-.5 -.1zM229 284.1l.1 .5l-.4 .2l-.5 0l.1 -.5l.2 -.5zM253.7 170.7l-.4 0l-.2 -.2l.4 -.1l.3 -.1l.5 .1zM225.2 137.6l-.4 -.5l.2 -.5l.2 -.8l.3 .9l.1 .8l0 1.1zM84 297l-.4 .2l-.2 -.3l.2 -.4l.3 0zM101.8 189.2l-.5 -.2l.2 -.3zM117.1 352.4l.1 -.5l.5 .1l.2 .3l.4 .3l-.3 .3l-.4 0l-.3 -.1zM222.3 131.6l-1.5 .7l-1.3 .7l-.6 -.6l-.1 -.6l1.6 -.2zM132.8 249.4l.3 .3l-.7 .2zM242.1 296.6l.1 .4l-.7 .3l-.4 -.3l.1 -.4l0 -.4l.6 -.1l.3 .2zM126.7 221.6l-.6 0l-.4 -.3l-.6 -.5l.6 -.4l.5 .3l1 .1zM42.5 277.5l-.2 -.4l.4 0l.2 .3zM104.7 279l-.7 .5l.2 -1l.7 -.3zM188.6 181.5l.1 .4l0 .6l-.3 -.3l-.2 -.7l.2 -.6zM140.9 280.6l-.5 0l.5 -.4zM43 196.8l.7 0l.4 .5l-.2 .2l-.9 .1l-.4 -.6zM178.7 312.5l.4 -.3l-.1 .7zM178.6 293.9l.2 -.1l.4 0l0 .3l-.2 .1l-.4 -.2zM211.3 235.8l-.1 -.7l.5 -.1l.3 .4zM127.1 134.8l.1 -.2l.3 .2l-.1 .2zM206.7 212l-.6 -.4l.2 -.8l.4 -.3l.4 .3l-.1 .6zM54.2 165.5l.3 0l0 .2zM137.2 215.1l.3 .4l-.5 .3l-.4 -.5zM189.6 197.1l-.5 .7l-.3 -.1l-.4 -.2l.6 -1.1l.6 -.1zM77.6 212.9l-.5 -.3l-.1 -.5l.2 -.2l.4 -.1l.3 .4l.1 .3l.2 .6zM58.8 220.2l-.2 -.5l.5 -.1l.3 .1l-.2 .3zM58.6 171.2l-.8 .5l-.2 -.7zM157.5 255.1l.7 .4l.2 -.2l.3 .7l.3 .4l-.1 .2l0 .5l-.6 -.5l-.3 -.7zM196 195.5l.5 .2l-.2 .3zM93.8 177.7l-.3 -.3l-.6 -.2l1.1 -.2l.5 -.2l1 -.2l-.3 .4l-.3 .5zM125.2 250.7l-.2 -.4l0 -.3l.2 -.2l.7 .5l.7 .6l-.2 .3l-.4 -.1l-.3 -.1zM96.3 272.9l-.4 .2l-.6 -.7l.6 -.1zM29.8 212.1l-.3 -.3l0 -.4l.2 -.4l.2 -.3l.4 0l.2 .3l0 .5l-.3 .5zM54.3 248.1l.4 -.7l.7 -.4l.7 .3l.8 .4l-.1 .9l-.8 .3l-.7 .7l-1.1 -.4zM159.4 178.7l0 .5l-.5 -.3zM76.7 195.9l-.1 .3l-.4 .2l.2 -.4zM220.9 207.3l-.2 -.5l.5 .2zM94.8 263.7l.5 .4l-.6 .3l-.4 -.3zM100.7 112l-.4 -.1l.1 -.2l.3 .2zM102.4 294.6l-1.2 -.2l-.2 -.5l1 .2zM170.7 106.8l-.2 -.3l.1 -.4l.4 -.3l.5 .3l-.2 .5l-.1 .7zM79 147.4l.1 .4l-.7 .3l-.3 -.3l-.2 -.2l.6 -.1zM49.1 219.6l.1 .2l-.5 .4l-.1 -.3l.3 -.3zM118.5 116.4l.9 0l-.4 .8l-1.1 .3l-.4 -.5l.1 -.7zM201.7 290.6l.4 0l-.2 .5zM202.5 338.1l-.4 .3l-.3 -.2l0 -.3l.3 -.3l.3 .2zM167.8 301.4l-.2 .5l-.6 .2l-.5 -.4l.3 -.6l.3 -.5l.6 .3zM113.7 190.4l.2 .1l-.1 .3l-.3 -.1l-.1 -.3l.1 -.1zM44.2 253.3l-.5 -.4l.6 .2l.4 .1l.4 .5l-.5 0zM168 274.7l.2 -1.1l.3 .9zM158.2 153.3l.2 .4l-.3 0l-.1 .2l-.3 -.4l-.4 -.3l.1 -.3l.2 -.1l.3 .2zM47.3 248.1l.2 .4l-.3 .6l-.6 -.4l-.1 -.4l.1 -.5l.5 -.2zM194.2 342.3l-1.3 .2l-.3 -1.6l1.4 -.2l1.3 .1l.2 1.4zM28.1 273.4l-.7 -.1l.2 -.4zM50.5 179.5l.1 .5l-.4 -.2l-.2 -.6zM156.2 195.1l-.4 -.3l-.1 -.6l.4 .1zM101.3 246.6l-.4 -.3l-.2 -.4l-.2 -.4l.3 -.1l.4 -.4l.4 .6l0 .4l.3 .5zM116.2 146.3l.3 0l.3 .2l-.2 .4l-.3 -.2l-.1 -.1zM265.2 203.3l-.5 -.1l.4 -.2l.3 -.2l.5 .1l-.3 .2zM192.2 172.5l.1 .3l-.4 0l-.1 -.4zM146 146.1l.4 .1l.5 .2l0 .5l-.4 .1l-.5 -.5zM108.9 181.4l-.4 -.6l-.3 -.1l-.2 -.7l.3 -.1l.3 -.4l.4 .4l0 .6l0 .4zM140.7 189l1.1 1l-.5 .4zM149.5 208.3l.5 0l-.5 .2l-.4 0l-.3 -.1l.3 -.2zM257.6 238.1l.6 -1.1l1 -.6l-.2 1.5l.1 .5l-.1 .9l-.7 1.2l-.5 -.8l0 -.7zM68.2 209.6l-.7 -.1l-.4 -.5l.5 -.4l.4 -.2l.3 .5zM124.5 247.6l-.4 0l.2 -.5l.4 -.3l.8 -.3l0 .6l-.3 .8zM129.7 254.4l-.1 -.5l-.2 -.5l.5 -.2l.6 -.1l.3 .5l-.3 .5l-.3 .3zM66.5 300.4l0 .4l-.8 -.2l-.4 -.3l-.1 -.3l.6 -.2l.8 .3zM58.8 321.1l-.3 0l-.3 0l-.3 -.1l.4 -.1l.3 0zM45 213.1l.4 -.1l.1 .6l-.2 .6l-.5 -.1l-.2 -.2l-.1 -.4l.1 -.6zM66.9 216.7l-.8 .1l.6 -.6zM201.3 206.1l-.3 .2l-.5 .1l-.2 -.4l-.4 -.6l.8 .3zM15.6 228.1l-.2 -.5l-.3 -.4l.2 -.4l.4 .4l.3 .3l0 .5zM156.8 192.6l.2 .7l-.1 .3l-.1 -.1l-.1 -.4zM233.3 201.5l0 .4l-.9 .3l-.8 -.3l.7 -.3l.5 -.2zM122.8 305.7l.1 -.2l.5 .1l.6 .1l-.2 .3l-.5 -.2zM251 236.7l.2 0l.2 .1l0 .2l0 .3l-.3 -.1zM152.7 228.6l.6 0l.4 .2l0 .4l-.4 .5l-.5 -.4l-.1 -.3zM99.1 245.1l.1 .2l.1 .2l-.3 .2l-.3 -.1l0 -.2zM83.8 264.5l.4 .1l.2 -.1l.4 .5l.5 .6l-.2 .3l-.2 .2l-.4 -.2l-.4 -.7zM260.2 210.6l-.6 .1l.3 -.8l.8 -.5l.3 .3zM109.8 207.1l.1 .5l.5 .6l-.7 0l-.3 0l-.4 0l-.1 -.5l-.1 -.6l.6 .3zM237.3 157.7l.5 -.2l-.2 .6zM31.2 281.6l.1 -.2l.4 -.1l-.2 .4zM137.6 318l.6 .1l-.1 .3l-.5 -.1zM159.9 260.7l-.3 -.6l.4 -.3l.6 0l.5 .5l.1 .5l-.2 .5l-.5 -.2l-.5 .2zM175.8 262.9l-.3 .3l-.2 -.1l-.1 -.3l.2 -.4l.5 -.7l.5 .1l.2 .3l-.3 .5zM149.7 113.8l.5 -.4l.3 .2l-.1 .4zM29.8 186.8l-.4 -.1l0 -.4l.3 -.3l.2 .3zM134.9 318.6l.5 -.4l.8 0l0 .5l-.4 .5l-.6 -.2l-.6 0zM230.2 251l.3 .3l-.4 .5l-.4 -.2l-.1 -.4l.3 -.4zM116.2 222l-.4 -.1l-.8 .1l.5 -.5l.3 -.5l.6 0l.8 -.1l-.2 .5l-.3 .4zM211.8 201.5l.4 .3l-.2 .4l-.5 -.3l-.3 -.6zM163.9 231l0 .5l.2 .7l-.6 .8l-.4 0l.2 -.8l0 -.4l.3 -.7zM228.3 133.3l-.4 .1l-.2 -.3l.5 -.2zM49.7 206.2l-.4 0l-.2 -.2l-.1 -.2l.1 -.5l.6 .2l.5 -.2l-.2 .4l.4 .3zM198.4 178.7l-.3 .3l-.7 -.4l-.3 -.6l-.6 -.6l.3 -.3l.3 -.2l.7 .3l.1 .7zM223.7 234.8l.7 .1l.5 .4l-1 .4l-.8 0l-.6 0l-.6 -.3l.8 -.4zM175.8 203.4l.2 .7l-.3 .7l-.3 -.3l.1 -.6zM71.7 205.6l.4 .1l0 .7l-.4 .4l-.3 0l-.2 -.6zM118.3 271.7l-.3 -.1l-.2 -.3l.8 -.4l.2 .4zM160.1 138.4l-.3 -.1l-.4 .3l0 -.9l.2 -.5l.1 -1l.4 -.1l.2 .6l0 .8zM84.1 113.5l.1 .5l-.6 -.1l-.4 -.2l.1 -.4l.4 -.1l.6 -.2zM199.9 248.8l.2 -.3l.4 .2l.4 .3l-.3 .3l-.8 -.2zM78.6 209.4l.3 .7l-.1 .7l-.5 -.5l-.4 -.6l.1 -.5l0 -.4l.3 0zM177.9 163.7l-.4 -.4l.3 -.1l.3 .1zM76 326.8l-.3 -.3l-.1 -.4l.4 -.3l.7 .2l.7 .4l-.6 .2l-.2 .4zM93.3 257.8l-.1 .2l-.3 -.1l-.6 -.2l.3 -.4l.6 .1zM138.5 174.8l-.6 -.1l.1 -.3l.8 -.1l1.1 -.2l.2 .4l-.6 .4zM173.2 205.5l-.5 .1l-.3 -.3l.2 -.3l.6 -.2zM233.2 284.7l.2 -.6l.5 -.6l.2 .3l-.3 .6zM167.3 170.7l.8 -.2l.2 .9l-.4 1l-.4 1.3l-.6 -.4l-1 .4l.6 -1.4l-.1 -1.2zM46.4 145.9l.4 -.2l.2 0l.1 .2l0 .4l-.3 0zM67.1 198.6l-.4 -.6l.3 -.3l.3 -.1l.4 0l.2 .4l.1 .4l-.2 .3zM168.8 239.5l0 -.3l0 -.5l.3 -.3l.3 .4l.2 .4l-.2 .4l-.1 .5l-.5 .1zM133.1 229.8l-.4 .1l-.2 -.3l0 -.3l.4 -.3l.5 0l.6 0l-.1 .5l-.3 .5zM170.3 219.7l.3 .7l-.3 .2l-.5 0l.1 -.8l.1 -.3zM131.5 316.6l-.8 .2l-.7 -.4l.2 -.7l.2 -.8l1.3 -.3l.5 1.2zM175 153l.2 -.4l.2 -.4l.3 .2l-.1 .3l-.2 .3zM234.5 226.4l-.2 .3l-.5 .4l0 -.8l-.4 -.5l.5 -.2l.5 -.2l.1 .5zM153.8 240.1l-.4 -.6l.6 0l.5 .5l-.2 .4zM35.1 153.7l-.7 -.3l-.1 -.9l.7 .1l.4 .7l0 .4zM142.4 128.8l-.2 .5l-.1 -.5zM177.6 187.6l-.7 .3l.1 -.6l.4 -.6l.5 -.4l.2 .2l.3 .2l.1 .5l-.5 .6zM156.4 109.1l-.2 .1l-.3 0l-.3 -.4l-.1 -.2l.5 .1zM212.4 263.2l-.3 .3l-.1 -.5l.3 -.3zM237.8 207.5l-.1 .8l-.6 .3l-.3 -.1l-.4 .2l-.1 -.5l.2 -.6l.4 -.6l.5 .2zM237 171.3l.6 .7l.2 .7l0 .4l-.6 -.5l-.4 -.2l0 -.5l-.4 -.5l.4 .1zM161.3 336.8l-.4 .8l-.7 .5l.1 -.6l.1 -.4l.4 -.7l.4 0zM185.4 172.1l.5 -.6l.1 .6zM99 185.5l.8 -.2l-.2 .3l-.6 .3zM143.2 281.6l.5 0l.5 -.2l-.1 .5l.1 .5l-.5 .5l-.6 -.3l-.3 -.5zM190.3 331.7l-.5 -.2l.4 -.2l.6 .1zM152.6 185.7l.1 .5l-.6 .4l-.4 .2l-.7 .3l-.2 -.6l.7 -.7l.8 -.4zM262 162.1l.1 -.5l.2 -.9l.5 -.1l.4 0l-.2 .8l-.6 .6zM187.8 190l.3 -.2l.3 -.3l.2 .3l.1 .4l-.2 .3l-.3 0l-.4 .4l0 -.5zM44.7 246.2l-.2 -.3l0 -.4l.3 -.2l.4 0l.2 .3l.1 .6l-.5 .1zM146.8 176.1l-.2 -.4l.5 .1l.3 0l.1 .3l.5 .4l-.5 .1l-.2 .1l-.6 0zM51.6 208.6l-.6 -.5l-.1 -.6l.7 .1l.1 .6zM165.2 89.2l-.1 .5l-.1 .5l-.2 .5l-.2 -.3l-.1 -.3l.2 -.5l.1 -.6l.2 0zM221.5 322.1l-.9 -.3l-.3 -.6l.1 -.3l.4 -.1l.7 .5l.6 .6zM139.8 268.6l.5 .3l-.7 .3l-.6 .1l-.4 -.3l.5 -.2zM102.6 331.8l-.5 .5l-.5 -.2l.4 -.4l.6 -.4zM177.6 306.9l.2 -.5l.2 -.6l.5 .7l.5 .5l-.4 .4l-.5 .1zM158 150.6l-1 .7l-.3 -.8l-.7 -.3l.1 -1l1.2 -.2l1 0l.1 .8zM176.9 205.1l-.5 .1l-.4 -.2l.4 -.2zM164.4 152.6l-.2 .2l-.3 0l0 -.3l.1 -.1l.2 0zM162.7 275.3l-.7 -.7l.4 -.4l.2 -.1l.3 .4l.3 .7zM166 158.4l-.4 -.4l.9 -.2zM172 89.2l.5 .3l.9 -.1l-.1 .5l-.6 .2l-.5 .2l-.3 -.3l-.5 -.1l-.2 -.4zM135.9 294.5l.1 -.4l.4 -.1l-.1 .5l-.2 .1zM32.3 199.2l.1 .3l-.2 .4l-.4 -.4zM103.2 333.4l-1 0l-.4 -.5l-.2 -.6l1.1 .1l.7 .2l-.1 .3zM16.4 221l.4 -.8l.7 0l.7 .4l-.4 .6l-.4 .2l-.5 .1zM261.1 282l-.4 .1l-.4 -.4l0 -.3l.3 -.2l.6 .4zM125.1 162.2l.5 .1l.2 .3l-.3 .6l-.5 .5l-.5 .1l-.2 -.2l.3 -.6zM64.2 289.3l-.3 -.2l.3 -.4l.3 -.1l.2 0l-.2 .3zM64.6 303.1l-.1 -.1l.1 -.2l.4 .2l.1 .2l-.2 .1zM217.9 185.8l.3 .7l-.9 .2l-.3 -.6zM121.7 116.8l-.2 .1l-.2 -.1l.1 -.2l.3 -.1l.2 .1zM223.2 178.3l.2 -.5l.5 -.8l.9 .9l-.1 1.2l-.9 .1zM90.4 189.8l-.1 .2l-.5 -.3l.2 -.2l.3 0zM133.3 192.7l.8 0l.1 .5l-.1 .4l-.6 .1l-.4 -.4zM127.9 281.6l.3 .5l-.3 .4l-.2 -.3zM149.7 267l-.3 -.4l.1 -.3l.2 -.4l.2 .4l.3 .4zM43.6 232.2l-.8 0l-.1 -.9zM159.2 179l0 -.1l.2 -.2l.2 .1l-.1 .3zM169.5 175.2l.6 -.6l.2 .4l.2 .3l-.2 .6l-.5 .6l-.3 -.3l-.1 -.4zM113.8 191.1l.3 .3l-.2 .3l-.8 -.1l.3 -.3zM55.8 322.4l.2 -.3l.2 .3l0 .3l-.4 -.1zM207.9 147.2l.2 .2l-.3 .1l-.3 -.2zM40 172.5l.4 0l.2 .3l-.4 .5l-.3 -.2zM192.9 199.9l-.4 .1l-.2 -.5l0 -.4l0 -.6l.6 .1l.2 .7zM22 195.1l0 .3l-.2 .2l-.3 .1l-.1 -.4l.3 -.3zM156.7 207.5l.2 -.5l.4 0l-.1 .5zM201.8 255l.3 .8l-.1 .7l-.3 .2l-.3 -.5l-.3 -.6l.1 -.6l.2 -.1l.2 -.7zM53.8 241l.5 .7l-.5 -.2zM152.1 171.6l.4 -.9l.9 .2l-.2 .9l-.6 .3l-.8 .3zM83.1 169.1l.3 -.9l.2 .9l-.3 .6zM167.4 244.6l.2 -.5l.4 0l-.2 .4zM120.9 281.8l-.3 .3l-.5 -.6l.3 -.3zM121.1 208.7l.2 -.5l.7 .3l0 .5l-.3 .1zM122.6 315.3l.3 -.3l.5 .1l-.4 .4l-.3 .1zM23.6 251.1l-.7 .2l-.8 0l-.2 -.6l.3 -.4l.6 -.2l.5 .1l.3 .4zM154 200.1l-.5 .2l-.5 0l-.7 -.2l.1 -.5l.5 -.3l.6 -.1l.5 .4zM51.5 240.7l.7 -.1l.2 .3l-.7 .4zM109.3 238.9l-.3 .5l-.5 .1l-.7 .1l.3 -.5l.6 -.4zM78.5 242.6l-.1 -.3l.2 -.1l.7 .1l.5 .5l-.7 -.1zM194.5 218.1l.8 0l-.9 .3zM118.4 91.8l.5 .4l.3 .5l-.5 0l-.7 -.4l-.5 -.4l-.4 -.5l.8 .3zM159.9 184.9l.5 -.2l.4 -.3l.6 .4l.6 .3l.2 .5l-.8 -.1l-.5 .2l-.3 -.4zM159.9 353.1l.2 -.2l.3 -.2l.5 .6l0 .4l.1 .5l-.5 -.1l-.3 -.6zM39 205.5l.2 -.3l.3 -.3l.4 .1l0 .4l.2 .5l-.6 .5l-.7 -.3zM143.5 220.9l-.4 .5l0 .8l-.4 .1l-.5 -.4l.3 -.7l0 -.5l.4 0l.4 -.3zM176.2 249.9l0 .4l-.2 0l-.1 -.3l.1 -.2zM108.8 208.5l.4 .5l-1 0zM147.4 90.3l-.6 -.6l.6 -.6l.9 -.1l0 .8l-.2 .4zM111.7 261.7l.1 -.4l.5 -.5l.1 .5l-.1 .6zM192.3 218.8l.1 -.7l0 -.6l.3 -.1l.4 .5l-.1 .7l-.3 .4zM187.5 217l1 .1l-.4 .6zM148.7 247.1l-.6 -.2l.1 -.2l0 -.4l.6 .2l.4 .2l.7 .3l-.7 .1zM211 110.2l-.1 -.3l.6 .1zM99.2 205.6l-.4 .4l-.7 .3l-.6 0l-.3 -.1l0 -.3l.4 -.3l.6 -.2l.6 -.1zM173.9 265.5l.6 .3l-.2 .5l-.5 .3l-.5 -.8zM87.4 303.5l-.3 0l.2 -.3l.3 -.2l0 .4zM26.2 203.4l-.5 .4l-.8 .1l.8 -.6l.9 -.5zM58.6 243.7l.1 .7l-.4 .3l-.3 -.6zM246.9 169.9l-.1 -.5l.5 -.3l.8 -.1l-.3 .9l-.8 .4zM149.8 221.3l-.2 .6l-.5 -.3l-.3 -.6l-.1 -.7l.3 -.2l.3 .6zM170 193.9l.1 -.4l.1 .6l-.2 .3zM217.5 196.5l-.4 .4l-.6 -1zM109.2 188.1l-.4 -.1l-.2 -.5l.9 .4zM253.4 243.6l0 -.6l.8 0zM141.6 99.9l-.5 -.3l0 -.7l.5 -.7l.7 .4l.1 .9zM80.7 338.6l.4 .3l-.3 .3zM156.1 228.4l-.1 .5l-.8 -.3l.1 -.3zM172.3 184.2l.1 -.8l.3 -.5l.6 -.5l.3 .6l-.2 .8l-.5 .7zM178.5 303.4l.1 .6l-.6 -.2l-.5 -.5l.4 -.3l.6 -.3zM138.5 215.4l-.5 -.2l.5 -.8l.5 .6zM207.4 196.3l-.2 -.3l.3 -.1l.3 .1l0 .5zM117 152l0 -.5l.5 0l.6 -.1l0 .7l0 .6l-.5 .3l-.5 -.2l-.4 -.4zM176.3 202.4l-.2 -.5l.1 -.5l.4 .3l0 .9zM226.2 175l-.9 .1l.6 -.9zM58.2 188.8l-.4 .1l-.3 0l-.2 -.2l.3 -.3l.5 .1zM135.3 279.5l-.8 0l-.8 0l-.6 -1.7l.5 -.3l.9 .4zM94.4 225.1l-.4 .2l-.3 -.2l.2 -.2l.3 -.2zM203.9 184.5l-.2 -.6l-.6 -.4l.3 -.5l.3 -.6l.5 .4l-.1 .9l0 .5zM82.7 291.6l-.6 .1l-.4 0l-.1 -.5l0 -.2l-.2 -.5l.5 0l.6 0l.2 .5zM111.6 148.2l-.4 -.5l0 -.3l.5 .3l.3 .5zM142.3 168l-.3 -.1l-.3 -.2l.5 -.6l.6 -.2l.1 .5zM127.5 271.4l.8 .3l-.8 .6zM161.8 98.9l.1 -.4l.3 0l.4 .1l-.1 .5l-.3 .2zM173.4 296.3l.5 -.1l.3 .5l-.6 .4l-.3 -.4l-.5 -.3zM150.3 243.5l.9 1l.4 .4l-.3 .2l-.6 -.1l-.7 -.6l.2 -.3zM257 192.6l.6 -.5l.4 .2l-.6 .6l-.6 .8l-.2 -.4zM155.7 160.9l-.2 -1.2l-.3 -.6l.4 -.5l.4 -.9l.7 .4l.8 .7l-.3 1.1l-.7 .5zM209.5 213l-.1 .3l-.6 0l-.3 -.5l.4 -.2l.2 -.1l.5 .1zM135.9 259.7l-.2 -.7l.3 -.4l.3 .5l.3 .8l-.1 .7l-.4 -.5zM54.6 163.9l.9 -1l.4 .4l-.8 .7zM189.2 227.4l-.7 -.2l.6 -.3zM178.4 334l0 .6l-.3 .4l-.4 0l-.6 0l0 -.8l.3 -.5l.5 .1zM149.9 107l.7 .6l-1 .3l-.9 .5l-.1 -.9l-.2 -.8l1 -.1zM55.2 316.6l-.4 .2l-.2 -.1l.1 -.3l.5 .1zM129.6 249.8l-.2 .7l-.5 -.1l-.1 -1l.3 -.2l.3 -.1zM145.9 171.6l-.7 -.4l.4 -.3l.7 .1l.6 .3l-.3 .3zM128.1 316.8l.4 -.3l.5 -.2l-.2 .4l-.4 .1zM206.8 209.6l-.1 1.1l-.6 -.2zM35.9 281.4l.3 .4l.2 .4l-.2 .5l-.5 -.1l-.5 -.4l.3 -.5zM45.1 308.8l-.4 -1.7l-.5 -1.3l.7 -.7l.6 -1.3l.5 1.9l-.2 2zM57.5 168l0 -.3l.2 .1l.2 .2l-.1 .3l-.2 0zM160.1 150.1l-.4 -.1l.2 -.5l.6 0zM58.7 250.3l0 -.8l.2 -.1l.4 -.1l0 1l-.3 .2zM241.7 310.4l-.3 -.2l0 -.2l.5 .1l.7 .1l-.3 .3zM60.4 212.2l-.4 .1l-.4 -.3l.4 -.2zM102.5 201.5l-.7 -.4l-.5 -.5l.4 -.2l.7 -.2l.6 .9zM87 215.7l.5 .4l-.6 -.1zM168.7 292.4l-.2 .6l-.5 -1.2zM87.9 117.5l-.6 -.1l.5 -.7l.5 .2zM136 236.3l-.2 .3l-.6 -.3l.2 -.6l.5 .2zM61.4 286.3l.7 .4l-.2 .2l-.4 -.2zM136.9 231.6l.2 -.3l.6 0l.2 .3l-.1 .4l-.9 .1zM269.8 262.6l-.1 -.5l.2 -.3l.1 .4zM56 210.8l-.9 -.4l.8 -.6z"/>
<path fill="#000" d="M217.8 174.9l-.4 -.6l-.4 -.4l0 -.7l.4 -.6l.6 .2l.2 .8l-.3 .4zM187.8 148.4l-.8 .1l-1 0l-.3 -.7l.5 -.4l.9 -.2l1 .6zM178.1 208.4l.9 0l.3 .6l0 .4l-.8 0l-.9 -.4l.3 -.4zM137.8 118.5l0 -.6l1.1 .2l1.2 .2l-.6 .5l-.8 -.1zM209.1 291l.4 .4l0 1l.1 1.4l-.7 .1l-.3 -.3l-.5 -.1l.4 -1.2l.2 -.6zM127.7 293.1l.4 .8l-.2 .3l-.3 .4l-.5 -.6l-.3 -.5l-.2 -.4l0 -.6l.5 0zM107 264.8l.4 -.3l0 -.7l.7 .9l.4 .7l.4 .8l.2 1.2l-.7 -.3l-.9 -1.1zM144.1 316.7l.8 .1l.7 .5l-1.2 .6l-1 -.4l-.5 -.5zM115.7 291.9l-.2 -1.4l.8 -.4l.9 .2l.2 1.3l-.5 .7l-.6 .1zM84.7 198.7l0 -.5l.6 -.4l.5 -.4l0 .4l-.1 .3l-.4 .5zM210.5 169.3l-.9 .2l1 -1.2zM226.1 219.9l.3 .5l.3 .5l-.8 .2l-.8 -.3l.1 -.7zM145.5 181.1l-.3 .3l-.5 .1l-.5 -.3l-.1 -.4l0 -.2l.3 -.4l.6 .5zM145.8 119.4l-.4 .1l-.8 0l0 -.4l.8 -.1l.8 .1zM115.4 149.1l-.9 -.4l.2 -1.9l.9 -1.3l.5 .9l-.3 1.2zM131.5 156.8l-.6 .4l-.7 -.3l0 -.3l-.2 -.5l1.1 .1l1.2 -.2l-.1 .5zM120.4 225.4l.7 .5l.2 .5l-.4 .1l-.5 -.1l0 -.4zM101.8 250l-.1 -.7l.9 -.6l.5 .7l.5 .2l0 .6l-.8 .2l-.6 -.1zM111.5 177.4l.9 -.5l1.5 -.2l.6 1.5l-1.3 .8l-1.4 1.1l-.5 -1.6zM51.2 214l.3 -.4l.5 .3l.1 .9l-.2 .8l-.5 -.2l-.4 .4l-.3 -.7l0 -.9zM193.3 254.5l.5 -.5l-.1 .8l-.4 .5l-.3 .2l-.4 -.1zM207.4 204.9l-1.2 1.1l-.6 .1l0 -.5l.4 -1.3l1.4 -.5zM216.8 217l-.1 .8l-.2 .7l-.7 -.6l-.5 -.2l-.2 -.6l.1 -.5l.3 -.7l.6 .6zM178.2 156.1l.4 -1.3l1 -.6l0 1.4l-.3 1.4l-.9 .2zM247 145.3l.2 -.4l.7 -.2l.8 .8l-.7 .3l-.7 .3zM199.5 260.5l.7 0l.6 .4l-.8 .7l-.7 .2l-.3 -.5zM220.8 191.1l.5 1l.1 .7l-.8 .3l-1 0l.4 -.9zM169.8 313.9l.2 -1.1l.6 .6l.6 .5l-.5 1l-.8 -.1l-.3 -.4zM153.5 235l-.5 .3l-.4 .1l.1 -.7l.6 -.6l.8 -.6l0 .7zM184.4 199.6l.7 -.2l.6 .2l.1 .5l-.1 .3l-.4 0l-.9 -.1zM215.2 280.1l0 -.6l0 -1l.8 -.8l.3 .9l.4 .1l0 .7l-.5 .6l-.6 .3zM177.6 265.8l.8 .1l-.5 .6l-.6 -.2zM95.2 212.4l.5 -.4l.6 0l.3 .5l-.1 .4l-.5 .1l-.6 0zM104.5 243.8l.8 .5l-.2 .7l-.6 -.1l-.4 .3l-.6 -.4l-.4 -.7l.3 -.5l.6 .1zM146.9 158.7l.8 .1l.6 .5l-1.1 -.3zM99.6 304l.5 -.4l.5 .4l-.2 .4l-.4 .1zM206.8 259.6l.7 -.9l.3 .8l.1 .7l-.5 .6l-.3 -.5zM183.3 276.4l.2 -.8l.8 .1l.8 .3l-.3 .9l-1.1 .4zM78 172.1l-.4 .1l-.3 0l.1 -.4l.5 -.5l.3 .3zM210.3 190.3l1.4 .7l.2 1l-2.3 .9l-1.5 -.5l-.3 -1zM77.8 242.7l.5 -.4l.2 .7zM165.8 203.1l-.8 -.2l-.9 -.2l.3 -1l.1 -.3l.2 -1l1 .9l.2 1zM189.6 192.4l-.4 -.3l-.7 -.4l-.2 -.8l.5 -.4l.6 .6l.5 .4l.4 .7l0 .7zM253.8 235l.2 .4l.3 .6l-.6 .2l-.5 -.2l0 -.5l.2 -.3zM145.1 317.9l-1.5 -.1l-.6 -.9l-.6 -.7l1.3 0l1.1 0l.3 .8l1.5 1zM214.5 158.6l.5 .5l-.1 .3l-.2 .5l-.5 -.5l-.1 -.4zM72.8 282.8l.7 -.1l.7 .3l.5 .8l-1 0l-.6 -.4zM119.8 198.8l-1.5 .3l-.4 -1.1l-1.3 -1.6l2.2 -.3l2.2 1l.6 1.4zM147.8 199.2l.4 -1.1l.4 -.1l.5 .4l-.3 1.4l0 1.5l-.4 -.9l-.2 -.3zM92.3 275l-.8 -.2l0 -.5l.7 -.1l.6 .4zM126.3 214.3l-.7 .4l-.4 -.8l-.7 -.1l-.3 -.8l.8 -.5l.8 -.1l.3 .6l.2 .5zM104.5 326.8l-.4 .3l-.3 -.2l-.3 -.3l.4 -.4l.3 -.1l.3 -.1l.3 0l-.2 .4zM199.1 293.9l-.7 -.2l-1.2 .1l.7 -.6l.4 -.3l.6 -.5l1.1 -.1l-.5 .8l.8 .6zM162.5 252l.6 -.1l.1 .2l-.3 .4l-.6 .2l-.6 .1l.1 -.3l-.4 -.1l.5 -.3zM89.5 173.3l-.1 .4l.1 .4l-.4 .2l-.4 -.3l0 -.4l.1 -.4l.3 -.1zM200.5 172.3l0 -.6l.1 -.4l.5 .1l.4 0l.2 .3l.6 .6l-.8 0l-.5 .4zM120.1 189.8l.4 1.3l-.5 .9l-1 -1.2l-.6 -1.7l1 .4zM184.9 178.4l-.4 .6l-1.6 -.3l-.9 -.5l.8 -.6l2.1 .1zM191.1 229.2l-.3 -1.1l-.1 -1.4l.9 -.7l.7 -1l.2 1.3l-.4 2.1zM107.9 192.3l-.6 0l-.7 -.3l-.3 -.8l.2 -.5l-.1 -1l.7 .5l.3 .6l.5 .6zM165.9 330.6l1 -.2l.1 .9l0 .9l-.8 0l-1.1 -.6zM138.2 152.2l-.2 1.3l-1 .3l-.5 -.6l.6 -1l.9 -1.1zM60.9 232.7l-.7 .2l-1.2 -.3l.5 -1.1l1.2 -.3l1 .7zM144.6 307.5l.3 0l.5 -.1l.3 .2l.5 .3l-.6 .1l-.5 -.1l-.9 -.1zM145.1 142.6l.7 -.5l.7 -.7l.1 1l0 .8l-.6 .7l-.8 -.3zM149.2 130.4l.1 -.5l.6 .5zM85.1 269.6l-.7 -.5l-.4 -.8l.3 -.4l.5 .7zM72.7 229.3l0 .5l-.9 -.3l-.6 -.6l-.1 -.4l.2 -.2l.6 0l1 .3l.3 .6zM211.9 147.6l.4 0l.5 .5l.4 .6l-.2 .5l-.6 -.9zM89.9 278.5l-.6 -.6l.8 .1l.1 -.5l.5 .4l.7 .5l-.3 .3l0 .6l-.8 -.3zM264.6 219.3l-.2 -.4l0 -.4l0 -.6l.3 -.4l.5 0l-.1 .9l.3 .8l-.5 .7zM100.8 231.5l.5 -.3l-.1 .7l-.2 .6l-.4 .3l.1 -.6zM159.9 259.9l-.3 -.5l-.2 -.7l.9 -.6l.9 -.2l.5 .5l-.1 .7l-.8 .5zM70.9 160.7l-.4 -1l-.1 -.6l.4 -.2l.5 0l.5 .3l-.2 .7zM117.1 211.4l-.6 -.4l-.9 -.4l.8 -.3l0 -.7l1 .3l.2 .6l1.2 .6l-.6 .6zM65.1 241.1l.9 -.5l1.3 -.4l.3 .6l-1.2 1l-1.5 .1zM147.6 275.1l.7 -1.3l.4 .5l.3 .9l-.8 2l-.7 -.5zM90.5 232.3l1.1 -.4l.3 .4l.2 .4l-1.1 .5l-1.7 .3l.4 -.8zM172.8 97.8l.2 -.6l.6 -.2l.7 -.3l.4 .9l-.1 .8l-.2 .9l-.8 -.6l-.3 -.4zM174.6 129l0 -.4l.1 -.5l.5 .3l.6 .1l0 .6l-.6 .3zM192.3 185.2l.8 .3l-.2 .5l-.5 .2l-.7 0l0 -.4l-.1 -.4zM72.2 214.7l-.7 -.5l.3 -1l.7 -.2l.6 -.8l.5 .7l.3 .6l-.6 .6l-.4 .6zM209 190.6l-.7 .4l-.6 -.6l-.4 -.6l.5 -.5l.6 -.1l1 .4zM87.6 240.2l.3 0l.1 .7l-.3 .9l-.5 .2l-.2 -.5l.3 -.8zM110.7 269.5l-.5 -.3l0 -1.2l.3 -1.2l.5 -.7l.3 0l.4 0l-.2 1l-.3 .6zM198.4 194.4l.9 .2l.2 .3l0 .2l.5 .5l-1.1 .1l-1.1 -.3l-.2 -.4l-.2 -.5zM177.7 164.3l-.7 .4l-.1 -.4l0 -.7l1.1 -.8l1 -.5l-.4 .8l-.3 .6zM133.7 219.2l-.2 -.7l-.2 -.5l.4 -.1l.2 -.5l.3 .3l.4 .4l-.1 .7l-.4 .3zM162.6 219.2l-.4 .3l-.7 0l-.5 -.5l-.7 -.4l-.2 -.6l1.2 .4l1.1 .3zM110.3 154.2l-.9 -.4l-1.5 .1l.7 -.7l.9 -.3l1.3 -.6l.8 .5l-.2 .7zM162.4 192.6l-.6 -1l.5 -.5l.7 .9l.4 .5l.6 .8l-.7 -.1l-.5 .2zM178.3 244l-.6 -.2l-.3 -.3l.1 -.5l.7 -.2l.8 -.6l0 .7l.3 .6zM135.3 186.9l.1 .8l-.1 .8l-.4 .4l-.3 -.5l-.1 -1l.4 -.9zM200.5 220.2l1.2 -.6l1 -.5l.3 .5l.1 .7l-1.2 .1l-1.1 .4zM198.3 264.5l-.3 .5l-.5 .5l-.9 -1.7l-.2 -1.5l1.1 1.3zM167 305.6l.3 .4l-.6 .8l-.6 .8l-1 .9l-.3 -.8l1.1 -1.4l.3 -1.4l.5 .6zM270.6 233.2l.9 .7l-.2 .8l-1.4 -.2l-.9 -.4l.2 -.7zM252.1 220.7l.8 0l0 .7l-.7 .7l-.7 -.4l-.2 -.5l.3 -.5zM67 150l.5 -.2l.7 .1l.5 .6l-.8 .3l-.2 .6l-.4 -.5l-.3 -.3zM137.6 276l.6 .4l-.6 .4l-.6 .9l-.6 -.5l-.2 -.8l.7 -.4l.4 -.6zM173.3 222.5l-.5 -.2l-.5 -.6l.7 0l.4 0l.6 .2l.1 .4l-.1 .4zM124.7 167.2l.8 -1.1l.6 -.9l.7 -.3l.1 .6l.1 .6l-.5 .8l-.8 1l-.4 -.5zM151.2 258.4l-.5 1.1l-.9 -1.2l-.5 -1.3l1.2 -.1l.7 .9zM156.1 107l.2 -.4l.4 .1l.3 -.2l.1 .4l.1 .3l-.1 .5l-.5 -.2l-.3 -.1zM204.2 284.3l.8 -.4l.5 .3l.8 .3l-.6 .6l-.9 -.1zM148.8 254.4l.5 0l.7 .4l-.4 .3l-.2 .1l-.4 -.1l-.5 -.2l.1 -.2zM239 284.8l-.3 .1l-.2 -.2l-.1 -.3l0 -.6l.4 0l.3 .3l.2 .3l0 .4zM150.5 147.1l0 -.5l.4 -.1l.3 -.3l.3 .5l.1 .3l-.1 .3l-.2 0l-.3 0zM216.2 221l0 -.7l.1 -.6l.5 .1l0 .9l-.2 .8zM98.6 188.8l.4 .2l0 .4l-.5 -.1l-.4 -.3l-.1 -.5zM183.4 264l-.7 0l-.1 -.6l.6 -.4l.7 .4zM107.9 233.2l-.4 .7l-.3 .3l-.3 .2l-.1 -.5l-.1 -.5l.4 -.2l.4 -.5zM144.7 299.3l.4 -.3l.2 .6l-.7 .6zM81.9 199.8l-.5 -.8l1.8 0l1.3 .7l0 .4l.5 .6l-1.4 -.3l-1.2 -.1zM138.6 204.4l.5 -.5l.6 -.4l.9 .4l-.4 .3l-.4 .2zM128.2 132.2l-.4 -.7l-1.5 -.3l.4 -.5l1.5 -.2l1.2 .4l.2 .4l.2 .3l-.6 .2zM27.4 266.7l-.2 -.4l1.1 -.2l.5 0l1.2 -.2l-.8 .7l-.8 .3l-1 .4zM60.8 234.3l-1.5 -1.2l-.6 -1.2l-1.1 -1.3l.9 -.2l1.1 .2l.9 1.1l.6 .9l0 .7zM128.5 146.8l-.3 .5l-.6 .1l-.3 .1l-.7 .3l.3 -.5l.1 -.5l.6 -.1l.7 -.3zM74.4 208.1l-.2 .3l-1.1 .3l-.7 -.4l1.1 -.4zM96.7 192.8l1 -.7l1.7 -.6l.8 1.1l1 .7l-.9 .9l-1.9 .3l-1.7 -.7zM83.1 223.1l-1 .9l-1.3 -1.3l-.6 -1.5l1.7 .1l.9 .5l1.4 .7zM104.4 225.4l-.5 0l-.2 -.6l0 -.7l.6 -.2l.6 .3l.4 .6l-.2 .7zM87 184.4l-.1 -.7l-.3 -.7l.9 .1l.9 -.2l-.1 .8l-.6 .7zM186.2 212.8l-.8 -.3l.4 -1l1.3 -.9l.8 -.1l.8 .1l-1.1 .8zM58.5 235.7l0 1l-.5 -.2l-.5 -1.2l-.2 -.6l0 -.4l0 -1.1l.6 .9l.2 .8zM69.9 179.8l.7 .7l1 .1l-.4 .8l-.4 .6l-.7 0l-.7 -.4l-.1 -1zM211 166.1l-.3 -.5l.6 -.2l.8 0l.8 .7l-.3 .5l-1 0zM187.7 155.1l-.8 .2l.1 -1.3l.3 -1.1l.9 .2l-.1 1.6zM43.9 202l-.3 -.6l.8 .2l1.1 .4l.4 1.1l-.7 .4l-.9 -1zM119 217.5l.5 -.5l.8 -.1l.3 .7l-1 .6l-1.1 .3zM155.6 119.8l.5 .3l.1 .3l.1 .3l-.6 -.1l-.4 -.3l-.1 -.2l0 -.2zM201.6 299.3l-.1 -.7l.9 0zM98.9 304.4l.4 .6l.7 .7l-1 .3l-1 .6l-.7 -1l.4 -1.1zM224.2 211.2l.4 -.8l.5 -.9l1.1 .4l-.1 1l-.3 .7l-.8 -.1zM144.3 268.9l.6 -.1l-.1 .5l.3 .4l-.4 .3l-.4 -.1l-.3 -.2l-.6 -.3l.7 -.2zM103.2 216.9l-1.1 1.3l-.8 -.6l.7 -1.1l1.4 -1.2l.7 .6zM191 226.8l.2 .4l-.6 .1l-.3 .2l0 -.4l0 -.2l.3 -.6l.5 -.1zM162.5 317.2l-.4 -1.1l.8 -.6l.9 .5l-.2 .8l-.2 1.1zM102.4 175l-.6 -.5l.2 -.7l.5 -.2l.4 .6l.3 .4l-.1 .5l-.3 .4zM192.1 300l-.4 -.6l-.2 -.6l.4 -1.5l.6 .4l.7 -.1l-.4 1.3zM159.1 127l-.8 -.5l.4 -.3l.8 .3l1 .3l-.1 .5l-.6 .1zM199.8 310.8l-.1 .4l0 .7l-.6 -.7l-.5 -.2l0 -.4l.2 -.3l.6 .1zM128.1 224l.3 -.3l.1 .5l.5 .2l-.1 .6l-.5 -.1l-.2 0l-.3 -.2l-.4 -.5zM139.3 300.4l-.1 .5l-.5 -.1l-.5 -.2l-.4 -.5l0 -.6l.5 -.2l.5 .1l.3 .5zM129.6 190.1l-.6 -.1l-.8 0l.4 -.4l.1 -.4l.7 0l.8 .1l-.1 .5zM177.8 261.1l.7 0l.2 .7l-.6 .4l-.6 .2l-.6 -.2l.3 -.6l0 -.7zM143.9 246.4l0 1l-.5 .8l-1.1 .3l-.6 -1l.3 -1.4l1.2 -.3zM266.3 229l.9 .1l-.2 .8l.6 .9l-.6 -.1l-.6 -.5l-.8 -.6l-.3 -.8l-.1 -.9zM121.8 294.3l.4 -.6l0 1.2zM96.9 221.3l.1 .4l0 .5l-.7 0l-.7 -.2l-.4 -.6l.7 -.3l.5 .1zM105 192.3l.9 -.7l.4 .4l.7 0l-.4 1.1l-.8 .6l-1.1 1.2l-.1 -1l0 -.7zM102.5 311.6l.1 .6l-.4 .5l-.4 0l-.8 .5l.2 -.8l-.4 -.8l.8 -.4l.7 -.2zM128.3 292l.4 -.7l.6 .8l.8 .3l.2 .7l-1.1 0l-.7 -.1l-1.1 -.2l.2 -.6zM217.2 285.3l.1 -.5l.8 -.5l.3 .2l.3 .2l-.5 .3l-.6 .5zM118.1 194.2l-.4 -.4l.1 -.7l.4 0l.1 .7l.1 .6zM107.2 153.1l.7 0l.4 1.1l.5 1l-.5 .4l-.6 .4l-.4 -1.3l-.5 -.9zM107.5 152.4l.1 -.4l.4 .1l.6 .1l.1 .8l-.4 .4l-.2 .3l-.4 -.4l-.4 -.4zM177.6 144.9l-.8 .8l-.7 .6l-.5 -.5l-.3 -.5l.2 -.8l.8 -1.6l1.4 .6zM116.7 207.3l-.2 .8l-.7 -.4l-.5 -.6l.7 -.2l.7 -.3zM118.4 250.2l.4 -.9l.4 -.2l.5 .9l.9 1.4l-.4 .7l-.9 -.5zM122 195.6l.9 -.2l1.4 .1l.3 .7l-.9 .4l-.9 .3l-1.1 -.3l0 -.5zM101.2 292.4l-.8 .4l-.1 -1.5l-.1 -1.3l.5 -1.5l.6 .5l.2 .9l-.1 1zM127.9 173.1l.6 -.5l.6 -.8l.2 1l-.6 1.1l-.4 .3l-.5 .2zM77.9 220.7l.2 .3l-.1 .5l-.5 .3l-.7 .6l-.4 -.8l.2 -.8l.6 -.6l.7 -.4zM162.4 151.9l-.9 .5l.4 -1.3l.7 -.7l.5 -.1l.4 .2l-.4 .7l-.2 1zM115.5 294.2l-.6 .5l-.5 .1l-1 .4l.3 -1l0 -.9l.9 -.1l.3 .6zM71.4 198.7l-.4 .2l-.7 -.1l-.2 -.3l.2 -.2l.4 -.2l.8 .2l.1 .3zM134.9 199.9l.2 -.3l.2 .1l.4 .5l-.2 .5l0 .5l-.3 .3l-.1 -1zM123.6 214.4l.6 -.3l.3 .3l.4 .2l-.6 .4l-.3 .5l-.6 -.1l-.5 -.1l.3 -.5zM161 192.4l-1.3 -.4l-.6 -.7l1.5 .2l1.5 .1l.2 .7zM73.9 184.9l1.3 .1l0 .5l.2 .5l-1.1 -.4l-.6 -.2zM175.1 229.5l.1 .4l.6 .5l-1 .2l-.7 .5l-.2 -.6l0 -.3l-.1 -.4l.6 -.2zM165.9 236.6l.4 -.4l.5 -.1l.7 .1l-.3 .7l.2 .6l-.6 .1l-.4 -.3l-.7 -.1zM131.9 212.8l-1.3 .1l-.7 0l-.5 -.5l.9 -.5l.9 .4zM178.3 92.9l-.2 -.7l.1 -.5l.5 -.1l.4 1l0 .8l-.4 .2zM178.8 262.6l.5 .5l-.4 .6l-1.2 -.1l-.5 -.7l.7 -.5zM107.6 282.2l.7 -1.3l1.7 -.5l.7 .6l-1.1 1.2l-.6 1.5l-1.7 .2l-.7 -.5zM156.4 290.1l-.3 .6l-.4 -.3l-.2 -.3l-.3 -.4l.5 -.4l.4 .2l.3 0l.1 .3zM167.3 224.7l-.4 -.5l-.6 -.9l.6 .2l.3 -.3l.9 .6l.3 1l-.3 .3l-.1 .3zM86.4 231.4l.6 .2l-.2 .6l-.3 .2l-.3 -.4zM159.3 189.9l-.5 -.4l-.3 -.3l-.5 -.6l0 -.4l.4 .2l.4 0l.4 .6l.4 .7zM150.1 130l-.9 -.4l-.6 -1.2l.2 -2.1l.8 -.9l.5 .9l.5 .4l0 1.3zM129.9 139.8l-.1 -.5l.7 -.5l.5 0l.1 .3l-.2 .6l-.5 .4l-.8 .6zM202.8 140.2l-.5 -.7l1.1 .6l1 .2l.4 .7l.7 .8l-1 -.2l-.9 -.4l-1.2 -.6zM103.8 293.9l-.9 -.4l-.2 -.6l.9 .2l.6 .5l0 .3zM159.2 215.3l-.5 -.6l.1 -.7l.9 -.9l1.3 -.5l-.7 1.3zM106 212.9l.1 .6l-.7 -.3zM207.6 213.3l1.6 .2l1.3 1.1l-1.4 0l-1.3 -.1l-.8 -.9zM132.9 314.6l.1 .9l-.8 .4l.1 -.9zM185.1 283.7l.7 .4l.4 .5l-.2 .4l.3 1.1l-1 0l-.6 -.7l-.1 -.5l-.5 -1zM240.1 197.1l.5 .7l-.8 0l-.5 .1l-.8 -.3l-.6 -1l.7 -.5l1 .4zM202.7 244l-.7 -.1l-.6 0l-.4 -.6l0 -.3l.5 .1l.6 0l.1 .4zM190.6 130.7l.6 .9l-.4 .9l-1.3 -.8l-.9 .2l0 -.7l-.5 -.8l.9 -.1l.8 -.3zM180.5 180.9l-.3 1.5l-.7 -1.2l-.7 -1.3l.8 -.4l.7 -.2zM227.6 156.8l0 -1l.4 -1.3l.6 .6l0 1.1l-.4 .6zM79.6 229.8l.4 -.6l.2 -.4l.5 -.5l-.2 1l.2 .5l-.3 .7l-.5 -.2zM235.2 129.8l.3 .4l-.7 .6l-.4 0l-.3 -.1l.3 -.6l.4 -.3l.6 -.7zM172.8 200.8l-.5 .3l-.4 .5l-.6 -.2l-.1 -.4l.5 -.4l.4 -.1l.3 0zM141.4 143.8l-.5 .1l-1.2 -.5l.7 -1l1 .2l1.2 .5zM215 255.6l.3 0l.1 .3l0 .5l-.2 .6l-.3 .3l-.4 .1l-.1 -.6l.4 -.6zM164.4 201.1l-.4 .6l-.3 -.4l-.2 -.4l-.2 -.8l.8 -.3l.5 .2l0 .7zM77.1 187.9l-1.1 .7l-.4 -.7l.8 -.5l1 -.6l-.1 .7zM74.2 253l-.9 -.2l-.5 -1.1l.5 -.8l.7 -.3l.6 1.1zM53.5 204.1l.4 .4l-.1 .9l-.3 .5l-.6 .8l-.2 -.8l.2 -1.1zM218.4 170.9l-.5 .2l-.2 -.8l.5 -.5l.2 -.4l.4 .1l.3 .4l-.2 .6l-.3 .2zM107.9 189.9l-.3 .9l-.9 -.2l-.1 -.9l.6 -.5l.8 -.5l-.1 .8zM205.9 155.6l.9 0l.8 -.2l.1 .7l-.2 .6l-.7 -.6zM161.8 169.9l1.7 .2l-.1 2.1l-1.5 1.8l-1.4 .4l-1.7 -.1l1.9 -2.1zM178 247.1l-1.6 .5l-.5 -.6l.1 -.7l1 -.5l1.1 -.1l.6 .4zM87.4 156l-.4 .1l-.4 -.5l-.1 -.7l.7 -.4l.4 1zM164.6 295.1l.4 1l-1 .4l-.9 .3l-.6 -.8l.5 -1.2l.9 -.5l.5 .2zM70.2 182.6l.6 .7l-.8 .1l-.7 .2l-.5 -.6l-.2 -.6l.6 -.4l.5 -.5l.5 .6zM169.9 226l-.4 .8l-.5 -.1l-.2 -.2l.2 -.6l.4 -.3l.5 -.3zM121.7 149.2l-.1 -.6l.9 -.8l.8 -.6l-.1 .7l.9 -.2l-1 1l-.6 .5l-.6 .2zM62.6 173.3l-.3 -.8l-.2 -.7l.6 -.1l.7 .5l.9 .7l.3 .9l-.9 -.3l-.4 -.1zM121.3 145.7l-.6 0l-.3 -.9l.3 -.7l.5 -.2l.6 .2l.3 .8l-.4 .4zM92 242.1l-.4 -.1l-.2 -.5l-.2 -.5l.5 -.4l.4 0l.4 0l0 .5l-.3 .4zM158.2 265.6l-1.5 -.6l1.4 -.1l1.3 .1l.3 .6l-.4 .4zM88.7 300.6l.5 .6l-1.2 -.1l-.7 -.1l-.4 -.3l-.4 -.4l.3 -.5l1.1 .6zM120 238.1l.6 .2l.7 .4l-.4 .4l-.8 .2l-1 -.2l-.2 -.6l.2 -.5zM115.9 153.3l-.4 .1l-.9 -.1l.1 -.3l.2 -.3l.7 .1l.6 .2l.7 .3zM50.5 260.2l1 .2l.5 0l.2 .3l-.6 1l-1.1 0l-1.5 .5l1.4 -1.1zM134.1 157.5l-.2 .4l-.5 -.1l0 -.7l.3 -.4zM53.7 224.4l-.6 -.2l-.4 -.1l-.2 -.3l0 -.4l.5 -.1l.4 .1l.4 .1l-.1 .3zM171.4 238.2l1 -.6l.7 -.2l-.1 .6l-.5 1.2l-1 .1l-.2 -.5zM85.4 252.8l.7 .4l.5 .1l-.1 .5l-.3 .7l-.8 -.4l-.3 -.7zM208.1 224.4l.7 .6l-.4 .2l-.4 -.1l-.5 -.4zM196.3 273.9l.3 1.1l-.2 .9l.4 1.4l-.7 .1l-.7 .5l0 -1.3l-.4 -1.2l.6 -.8zM131.4 295.8l.2 .5l-.4 .3l-.5 -.2l.1 -.5l.3 -.7zM85.9 232.5l.3 .3l.2 .4l0 .5l-.6 -.3l-.3 -.1l-.3 -.4l.3 -.4zM87.1 241.6l-.8 -.4l-.8 -.7l-.5 -1.3l.3 -.5l.2 -.4l.4 .1l.7 .8l.2 1zM175.1 99.7l-.6 -.5l.4 -.9l.8 .5l.4 .3l.1 .5l-.3 .4l-.6 .4zM114.1 147.4l-.9 -.2l-.4 -.5l0 -.5l1.1 .5zM69.4 259.1l.6 .1l.6 .3l.3 .3l.4 .5l-.9 -.2l-.5 -.2l-.2 -.2l-.7 -.5zM208.2 294.6l-.3 .5l.3 .6l-1.1 -.4l-1.1 0l.5 -.5l-.4 -.5l1 .1zM95.8 152.6l-.5 -.4l0 -.5l.3 -.3l.5 .5l.5 .4l.2 .6l-.4 0l-.3 -.1zM139.4 180.5l-.3 .9l-.4 .6l-.5 .3l-.2 -.3l-.4 -.6l.7 -.7l.6 -.4zM82.4 152.8l-.3 .7l-1 .2l.1 -.7l.2 -.5l.9 -.3zM94.9 249.7l.4 -.8l.7 .1zM160.6 129.1l-.1 -.8l.6 -.6l.2 -.8l.5 .1l.5 .3l0 .8l-.5 .7l-.6 .5zM77 143.8l-.3 .1l-.2 -.7l.1 -.5l.5 .7zM94.5 180.3l.3 1.2l-.6 1.4l-1.3 .4l-.7 -.7l-.9 -.9l.4 -1.8l1.8 -.8zM160.3 223.7l.4 -1.3l.7 1.2l.1 1.3l-.6 .2l-.4 .2l-.7 -.8zM86.3 233.4l.6 -.1l.1 .4l.2 .4l-.9 .6l-.6 0l0 -.6zM198.9 191.3l0 -.3l.4 -.2l.7 -.4l.5 .6l-.4 .6l-.2 .6l-.7 .1l-.2 -.6zM84.3 186.9l-.9 .1l.3 -.5l.8 -.1l.5 0l.2 .4zM196.8 179.2l.4 .8l.5 .7l-.8 .1l-.6 .3l-.4 -.9l.1 -1zM88 260.1l.2 -.3l.5 -.2l.3 .5l-.7 .2zM147.2 201.5l-.7 -.2l.3 -.4l.4 .2zM159.4 153.2l.1 -.5l.5 0l.5 0l-.5 .4l-.3 .2zM139.7 190.1l.6 -.2l.2 .6l-.6 .3l-.4 .2l-.5 -.3l.3 -.5zM155.5 168.9l-.4 .4l-.4 .3l-.5 -.4l.2 -.4l.2 -.6l.5 .4zM189.2 308.1l-1.5 1.2l-.7 -.4l.3 -.8l.7 -.7l1.4 -1.2l-.3 1.1zM201.7 258.6l-1.3 .4l-.1 -.7l0 -.6l1.2 -.9l1.2 -.3l.1 .8zM112.8 155.6l.6 -.1l.4 -.2l.4 0l-.4 .6l-.5 .3l-.3 0l-.4 -.1zM107.6 163.9l-.4 -.4l-.1 -.5l-.3 -.6l.3 -.7l.5 -.4l.2 .8l-.1 .8zM175.4 316.7l-.2 .3l-.1 .2l-.3 0l-.2 -.4l-.6 -.5l.4 -.2l.4 .2l.4 -.2zM148.4 190.1l.1 .2l.6 .1l-.7 .9l-.7 0l-.6 .3l.2 -.5l-.1 -.5l.8 -.4zM84.2 163.4l-1.2 0l-.3 -.9l.2 -.8l.8 .1l.8 .6zM240.8 245.5l-.9 0l.1 -.7l.4 -.9l1.1 .3l.4 .9zM218 270l-1.3 -1.4l.7 -.5l.9 .4l.6 1.2l.8 1.4l-1 -.5zM140.7 163.5l1.6 0l.8 .6l-.4 .4l-.8 0l-1.4 -.3zM189.3 235.9l-.5 -1l.2 -.8l.5 .1l.4 .8l0 .7zM171 187.1l-.7 -.4l0 -1l.8 .1l.5 .7l-.1 .6zM140.1 276l-.4 .3l-.2 .1l-1 -.3l-.3 -1l0 -.6l1 .5zM128.3 216.8l-.1 -.5l-.1 -.5l.5 -.1l.4 .3l.3 .5l-.5 .6zM161.8 221l-.6 -.1l-.6 -.1l-.6 -.4l-.3 -.4l.4 0l.6 .2l.4 .2l.7 .3zM154 315.3l-.1 .9l-.5 -.5l-.2 -.8l-.6 -1.2l.5 -.5l.4 -.7l.6 1.2l-.1 1zM191.6 155.8l0 .5l.4 .6l-.5 .1l-.4 -.2l-.4 -.4l.2 -.5l.3 -.3z"/>
<path fill="#000" d="M81.4 206.8l.2 .5l-.4 .3l-.4 .2l-.3 -.2l-.2 -.4l.1 -.5l.4 .1l.4 -.4zM83.4 210l-.4 .6l-.4 -.1l.1 -.5l.5 -.4l.1 .2zM80.7 207.1l-.1 -.9l0 -.6l.2 -1l.3 .5l.1 .6l0 1.3zM80.4 207.9l.4 .3l-.4 .6l-.4 -.5zM87.1 200.6l.5 0l.5 .6l-1 -.1zM88.1 204.3l0 -.3l0 -.3l.4 -.1l.4 -.1l-.3 .4zM94.2 204.7l-.7 0l-.9 -.5l.6 0zM90.9 200.9l.5 -.6l.9 -.4l-.1 .6l.3 .3l-.7 .5l-.5 -.1l-.5 .2zM91 210.6l-.6 -.4l.6 -.3l.3 -.4l.6 -.1l-.2 .8l.4 .5l-.5 .4l-.5 .3zM90.3 209.5l.3 -.4l.4 -.4l0 .7l0 .7l-.3 -.3zM90.9 209.9l.8 .5l-.7 .4l-.4 -.5zM91 210.7l.2 .5l.2 .3l-.3 .2l-.3 .4l-.2 -.4l-.5 -.4l.4 -.4zM89.3 215.3l-.4 .1l-.2 -.1l-.2 -.2l.3 -.2l.4 .1zM84.7 216l.4 -.4l.1 -.3l.7 .3l.6 .5l-.3 .4l-.8 -.2zM83.8 216.5l-.4 .4l-.4 -.1l.1 -.5l.1 -.5l.4 -.2l.1 .4zM81.2 213.2l-.8 .6l-.9 -.1l.8 -.5zM16.1 187.9l.5 -.8l.4 .4zM18.1 191.2l.2 -.2l.2 .2l-.3 .3zM17.6 195.3l.4 -.8l1 -.1l0 .4l-.2 .5l-1.1 .5zM14.5 192.5l-.2 .2l-.2 -.2l-.1 -.4l.4 -.1l.2 .2zM15.6 190.1l-1.1 .3l.6 -.6zM38 172.1l.5 0l.1 .3zM37.7 170.8l.4 -.1l-.1 .6zM41 175.6l-.2 .9l-.5 -.2l.3 -.9zM41.2 171.8l-.2 -.4l.4 .1l.3 .4l.2 .4l-.4 -.2zM39.1 179.5l0 -.4l.1 -.7l.4 .4l.2 .5l-.1 .7l-.4 .2zM41.2 179l.3 .6l-.7 .1l-.3 .2l-.4 -.1l0 -.5l.1 -.4l.3 -.7l.6 .2zM39.7 172.5l.4 .6l.2 1.1l-.5 -.9zM37.8 176.5l.8 -.2l.2 .8l-.7 .3l-.5 -.2l-.1 -.4zM115.4 165.5l.1 .5l.1 .5l-.6 .4l-.5 -.2l.5 -.6zM114.6 166.7l.2 .4l-.2 .3l-.2 -.3zM120.3 168.5l-.3 -.2l.6 -.4l.3 .4zM114.9 172.2l-.5 .5l-.3 -.7l.1 -.6l.3 -.6l.4 .5l.1 .4zM114 168.2l.3 -.5l.3 -.3l.3 .3l.8 .2l-.4 .7l-.5 .4l-.6 -.3zM114.6 169.6l0 -.4l.1 -.6l.6 -.2l.2 .3l.2 .3l-.4 .3l-.4 .4zM131.6 139.8l.4 .8l-.5 .3l-.4 -.2l-.7 -.5l.4 -.6l.3 -.9zM133.1 145.3l-.4 -.1l-.2 -.4l-.3 -.4l.3 -.4l.4 .4l.3 .1l.1 .3l-.1 .2zM134.2 141.2l1.1 -.3l-.4 1zM136 145.4l.6 -.1l.6 .3l.4 .3l-.1 .2l-.2 .2l-.5 -.1l-.7 -.1l.2 -.3zM128.7 149.2l.8 -.4l.5 -.4l.2 .7l0 .8l-1 .2zM132.2 142.6l-.2 -.5l.2 -.2l.5 .4l.4 .1l.7 .7l-.5 0l-.1 .2l-.5 -.1zM129.6 144.3l.7 -.7l.1 .6zM130.1 177.3l0 -.3l-.1 -.5l.8 -.2l.3 0l.1 .2l-.1 .6l-.8 .6zM133.7 179.9l.5 -.4l.3 .5l.3 .3l-.3 .4l-.3 .4l-.4 -.3l-.4 -.5zM131.9 183.3l-.5 .1l.1 -.7l-.1 -.8l.6 .1l.4 .4l-.2 .6l.2 .8zM127.6 178.7l.4 -.2l.1 .5l-.4 0zM129.5 179.2l-.3 .6l-.3 .4l-.2 .1l-.1 -.3l-.5 -.1l.5 -.5l.3 -.5l.3 -.1zM79.9 155.4l-.3 .4l-.7 -.4l.3 -.3l.4 -.2l.6 .2zM81.5 156.7l.3 .3l.2 .4l-.6 .4l-.2 .6l-.4 0l-.2 -.3l.1 -.5l.4 -.4zM79.3 160.7l-.5 -.2l.2 -.9l.2 -.2l.4 -.6l.4 1l-.2 1.1zM75.2 158.6l.4 .6l0 .5l.1 1l-.7 -.3l-.6 -.6l.2 -.9zM69.5 162l.2 -.4l.2 -.4l.4 .5l-.3 .4l-.2 .3zM74 164.5l.4 .2l-.3 .7l-.5 .3l-.3 .1l-.4 .2l.1 -.6l.4 -.5l.4 -.7zM69.7 167.1l.2 .6l-.7 -.5l-.4 -.2l0 -.3l.1 -.3l.5 .5zM70.1 167.4l1.1 -.1l-1 .6zM66.4 167.4l.3 -.8l.8 -.5l.2 .5l.4 .3l-.5 .6l-.6 0zM69.1 167.8l0 .5l-.4 .4l-.1 -.4l.1 -.6zM72.9 170.5l-.2 -.2l.6 -.1zM71.9 166.3l.4 -.8l.4 -.1l-.2 1l-.4 .6l-.6 .7l0 -.7zM76.3 169l.5 .3l.3 -.2l.1 .7l.1 .6l-.1 .8l-.5 -.8l-.2 -.7zM73.2 174.2l-.5 -.1l-.2 -.3l.1 -.4l.3 -.5l.4 .6zM71.4 173.9l-.2 -.6l.2 -.3l.4 .4l0 .4zM69.3 170.2l.7 -.2l-.5 .4zM71.8 172.1l-.3 -.5l.3 -.1l.4 0l.2 .4l.3 .3l-.2 .3l-.3 0l-.2 -.1zM86.5 215.4l-.1 -.3l.4 0l.4 .1l0 .3l-.4 .2zM87.9 216.6l.8 -.9l.7 -.9l-.1 .9l-.5 .6l-.6 .8zM89 214.7l.8 .1l.7 .1l.2 .9l-.5 .5l-.8 .2l-.2 -1zM92.5 216.1l0 -.6l.7 -.2l.3 .7l.3 .4l-.3 .4l-.6 0l-.5 -.2zM87.6 222.3l.1 -.6l.2 -.4l.9 -.2l.7 .5l-.5 .4l-.4 .1zM87.8 219.4l-.1 .4l0 .5l-.6 -.4l-.4 .1l-.3 -.3l.2 -.5l.5 -.3l.6 .1zM87.1 218.6l.7 -.2l-.4 .7l.1 .4l-.7 .7l-.6 .1l-.6 .1l.2 -.7l.7 -.5zM53 211.3l-.7 -.1l1.1 -.7zM53.4 215.1l-.6 .5l-.6 -.2l.1 -.6l.5 -.2l.4 -.1l.9 .1zM51.6 216.8l-.6 -.2l-.2 -.3l-.3 -.6l.6 .2l.5 .3zM53.6 219.2l-.3 -.5l.1 -.3l.2 .2l.4 .9zM48.8 214.2l0 -.5l.3 .5l.2 .4l-.1 .4l-.3 -.2zM51.6 215.3l-.2 .1l-.4 -.1l-.3 -.4l.4 0l.4 .2zM64.6 189.7l-.7 -.3l-.1 -.6l.5 0l.1 -.5l.5 .5l.7 .4l-.5 .2l.2 .7zM71 191.7l.1 -.6l.8 .3l.2 .4l-.4 .3l-.6 0zM66.7 194.5l-.6 -.4l-.2 -.4l.3 -.2l.3 -.3l.3 .5l.1 .4zM67.5 190.7l-.5 .3l-.4 -.5zM61.4 192.9l.8 .1l1.1 .3l.1 .5l-1.1 -.1l-.6 -.3l-.7 -.3zM61.6 191.9l.5 .2l.4 -.1l.1 .4l0 .5l-.5 0l-.3 .1l-.2 -.4l-.1 -.3zM134 103.9l.9 .2l-.5 .8l-.8 -.1zM134 106.9l-.2 .4l-.3 .1l-.4 -.1l.3 -.4l.3 -.3zM137.6 108.3l-.4 -.8l.3 -.2l.6 0l.2 .7l-.2 .3zM134 110.7l.2 -.5l.4 .2l.1 .3l-.3 .1zM133.8 107.3l.8 .2l-.1 .4l0 .3l-.3 .3l-.9 -.1l-.2 -.5l-.3 -.3l.4 -.2zM134.3 107.7l-.7 0l-.6 -.4l.3 -.6l.3 -.9l.9 .7zM144.7 183.4l-.6 -.1l.2 -.3l.4 -.1l.5 -.2l.2 .3l.1 .2l-.2 .2zM141.8 180.9l-.4 -.3l.3 -.3l.3 0l.3 .2l.1 .3l-.3 .1zM144.1 183.1l.2 -.6l-.3 -.4l.6 .1l.5 -.2l.1 .4l0 .3l-.4 .2zM143.1 182.1l.3 -.5l.8 .6l.5 1.1l-.3 .5l-.8 -.8zM142.6 183.7l-.7 .5l-.1 -.6zM143.9 188.3l-.3 0l.1 -.3l.3 -.1l.5 0l-.3 .3zM141.4 183.1l.1 1.1l-.5 .1l-.5 -.1l.3 -1l.2 -1.2zM140 182.5l.9 -1.5l-.2 1.1zM119.9 205.1l.7 -.2l.3 .4zM122 208.5l.4 -.5l.4 -.4l.3 .2l.3 .1l0 .5l-.6 .3l-.5 .1zM122.2 211.2l-.4 .1l-.4 -.6l.1 -.7l.3 -.1l.3 -.2l.4 .6l.2 .6l-.1 .5zM116.8 208.2l-.6 .4l-.4 0l-.3 -.1l.3 -.4l.5 -.4l.6 0zM121.3 209.6l-.5 0l.6 -1zM45.9 186.6l1 .6l-.5 .3zM48.7 188.5l-.5 -.8l.6 .2l.7 .8zM48.6 188.7l.4 -.7l.3 .1l.6 -.3l-.1 .6l-.6 .5l-.5 .8l-.4 .1l.1 -.5zM45.4 189.8l-.4 -.6l-.2 -.4l.1 -.3l.3 .1l.3 -.2l.2 .5l.4 .6l-.5 -.1zM45.7 191.6l.5 0l.1 .5l0 .6l-.5 -.3l-.4 -.2zM46.7 190.6l-.1 .2l-.1 .3l-.3 0l-.2 -.5l.2 -.4l0 -.5l.3 0l.3 .4zM248.9 201.8l-.4 0l0 -.5l-.1 -.4l.5 -.1l.3 .1l0 .4l.3 .5zM250 202.4l-.1 .3l-.6 .5l-.5 0l-.4 -.4l.7 -.7l1 -.3zM256.7 200.4l0 .3l0 .2l-.4 .2l-.7 .3l-.2 -.4l-.2 -.2l.4 -.3l.5 0zM255.6 199.1l.1 -.3l-.1 -.5l.7 .2l.7 .1l.3 .6l-.4 .4l-.5 .1l-.6 -.3zM260 197.9l-.1 -.8l.8 .5zM258.5 202.7l-.3 -.8l.5 .3l.2 .4l0 .4l-.2 0zM260.4 202.3l-.6 -.2l.4 -.2zM262.1 205.9l-.1 .6l-.3 -.2l-.2 -.5l.3 -.1zM258.8 207l0 -.8l.3 -.8l.5 .6l.5 .2l.1 .9l-.6 0l-.3 .2zM263.7 207.4l-.6 -.6l-.1 -.5l.8 .3l.7 .2l.4 .6l0 .2l.4 .7l-.9 -.5zM263.9 208.3l.2 .4l-.1 .4l-.5 -.1l-.5 -.3l.2 -.8zM262.6 211.1l.6 -.1l.4 .5l.3 .2l-.2 .2l-.2 .3l-.8 -.1l-.4 -.6zM264.1 209.8l-.3 -.5l.6 -.1zM263.9 210l.7 .3l-.1 .4l-.4 .1zM257.3 208.3l-.4 -.2l0 -.4l.3 -.1l.3 .2zM259.5 211.2l-.1 .5l-.4 -.3zM259.8 214.9l-.9 -.3l.4 -.5l-.1 -.6l.8 .1l.5 .6l.4 .6l-.5 .3zM251.8 204.9l.4 0l.4 .5l-.2 .2l-.2 .1l-.5 -.4zM253.4 212.1l-.1 -.6l-.1 -.4l.2 -.2l.3 -.5l.3 .3l.3 .3l0 .7l-.5 .1zM248.5 202.6l.2 0l.1 .1l-.2 .2l-.3 .3l.1 -.4zM247.1 204l-.2 -.3l.3 -.2l.3 -.3l.4 .2l-.2 .4l-.2 .2l-.3 .1zM246.8 206.1l.5 -.8l.4 .2l.2 .2l-.6 .7l-.7 .2zM222.6 209.4l.4 .1l.6 .3l-.6 .3l-.5 .4l-.4 -.6zM227.2 211.5l.1 -.6l0 -.7l.7 .1l.3 .3l.1 .4l-.1 .2l.1 .8l-.5 -.6zM226 213.5l-.1 .6l-.6 .2l-.4 -.3l-.5 -.3l.3 -.4l.2 -.6l.5 .6zM228.2 208.5l-.2 -.3l.3 -.3l.7 -.1l.6 -.1l.1 .2l-.1 .2l-.5 .2zM228.2 207.9l-.4 .1l0 -.6l-.1 -.4l.2 0l.2 -.2l.3 .6l.2 .5l0 .3zM232.5 213.6l-.4 .1l-.1 -.4l.3 -.4l.3 .2l.2 .4zM233.4 210.6l.2 .3l-.3 .2l-.3 -.1l0 -.4zM232.4 216.4l.7 -.2l.3 .1l.1 .3l-.7 0zM230.7 216.1l.3 0l-.3 .5l-.3 .2l-.4 -.2zM231.9 216.3l-1 .7l-.6 -.4l-.1 -.3l.5 -.3l.5 0zM229.5 222.6l-.7 -.7l.2 -.4l.3 0l.5 .4l.7 .7l-.3 .4zM228.4 220.5l1.3 .5l.9 .2l-.1 .5l-.9 -.1l-.8 -.4zM224.3 220l-.5 -.5l-.1 -.5l.5 .4l.4 .2l.5 .6l-.2 .2l.3 .6l-.6 -.3zM221.9 216.5l-.3 .8l-.6 -.1l-.5 0l.4 -.5l.6 -.6zM223.9 217.3l-.5 .7l-.7 -.1l0 -.6l.3 -.4l.4 -.6l.5 .1l0 .4zM219.9 185.8l-.5 .6l-.3 -.2l.5 -.5zM218.1 185.9l-.1 -.7l0 -.5l.2 -.6l.4 -.2l.3 .1l.4 .1l-.3 .7l-.3 .7zM222.3 188.1l-.2 -.5l.1 -.6l.3 0l.3 .3l.4 .8l-.6 -.1zM218.3 187.6l.4 .3l-.1 .5l-.5 -.2l-.3 -.4zM223.2 193.7l-.4 0l-.3 -.1l0 -.3l.3 .1zM220 194l0 .3l-.3 0l-.1 -.3l.1 -.2l.2 .1zM218.7 193.1l-.2 .7l0 .7l-.4 .3l-.3 -.4l-.4 0l.2 -.6l.2 -.6l.4 .2zM216.5 193.7l-.5 -.1l-.3 -.8l.1 -.5l0 -.6l.5 .5l.5 .5l.1 .7zM214.9 187.8l-.6 .3l-.7 0l.4 -.4zM214.9 189.7l.1 .3l-.2 .3l-.5 0l-.6 .2l.6 -.4zM214 189.1l.2 -.1l.4 .2l.1 .6l-.2 .2l-.4 -.3zM172.1 127.6l-.1 -.6l.7 .3zM173.3 125.5l.4 -.2l.1 .4l-.3 .3l-.3 -.3zM174.6 123.8l.3 -.1l.6 .4l.3 .4l-.4 0l-.8 -.3zM181.8 128.3l-.1 -.5l-.2 -.7l.3 -.1l.2 -.1l.3 -.1l-.1 .8l.1 .6l-.3 -.2zM180.9 124.1l-.4 0l.2 -.3l.5 -.4zM181.2 125.4l-.4 .2l0 .3l-.9 .1l-.3 -.4l0 -.2l.3 -.2l.8 -.1zM184.4 128.2l-.3 -.3l.4 -.3l.2 .3l0 .4zM181.1 129.9l-.1 -.4l.3 0l.3 .4zM177.7 132.2l.7 -.1l.5 0l.1 .3l.2 .2l-.4 .4l-.5 -.2l-.3 -.2zM177.4 133.8l-.5 -.5l.6 -.2l.6 -.1l.1 .6l-.4 .4zM178.4 132.8l.7 -.3l.7 .1l.3 .3l-.9 .2zM172.2 130.7l.1 .3l.1 .3l-.3 .2l-.3 .1l-.5 .1l.3 -.5l-.2 -.5l.4 -.3zM171.5 128.9l-.1 .7l-.3 .8l-.3 -.7l0 -.5l-.1 -.9l.6 .1zM174.3 132.6l.9 .2l-.3 .3l-.5 -.1zM190.9 153.4l.4 .5l-.1 .5l-.3 0l-.6 -.4l.1 -.9zM194 155.7l.4 -1.2l.6 -.2zM197.4 151.6l-.4 .2l0 -.4l.4 -.2zM198.5 154.8l.3 .6l-.4 .5l-.8 -.2l-.2 -.6l.5 -.3zM197.7 155.8l.4 -.5l.6 -.3l.1 .7l-.2 .5l-.4 -.1zM199.4 158.3l-.9 .2l.2 -.6l.3 -.6l.9 -.3l-.2 .7zM196 162.4l.4 .2l-.2 .3l-.4 0zM194.6 160.7l0 -.7l.7 -.5l.8 .5l.4 .4l-.4 .3l-.6 .5zM191.4 158.6l.6 -.8l.2 -.6l.6 -.4l.6 -.2l.4 0l-.3 .8l-.9 .5l-.8 .9zM193 161.3l-1.3 .6l1 -1.4zM190.9 157.9l-.5 .2l-.5 .1l.1 -.4l.1 -.2l.2 -.2l.3 0l.4 .1zM190.5 157.4l-.1 -.3l-.1 -.6l.7 -.4l.4 .6l.4 .5l-.5 .5l-.5 .3zM162.7 181.7l.3 -.1l.1 .4l-.1 .5l-.3 .6l-.1 -.6zM161.7 179.2l.5 .5l-.1 .5l-.5 .4l-.6 -.3l.1 -.7zM168.4 182.4l.1 .5l-.4 -.3zM169.1 186.1l-.6 .5l-.6 .1l-.6 0l.7 -.5l.7 -.2zM166.5 184.6l.3 .4l.2 .6l-.6 -.4l-.3 -.4zM169.2 189.3l-.5 -.2l.4 -.1l.5 0l0 .2zM167.4 189.4l-.9 -.3l.7 -.3l.6 -.4l.8 .4l-.3 .5l-.3 .6zM164.9 190.1l-.3 -.3l-.1 -.8l.2 -1.1l.4 .4l.4 0l0 .8l.1 1.1l-.5 -.1zM161.5 190.5l.4 .2l.3 .3l-.4 .1l-.2 .1l-.2 -.3zM161 192.4l.8 -.2l.3 .1l-.6 .3zM159.1 188.1l.1 -.4l.8 .1l.8 -.3l.1 .3l-.3 .3l-.4 .1l-.4 .1l-1 .2zM158.8 189.2l.4 .4l-.5 .2l-.3 -.2zM158.9 187.9l.5 .1l-.1 -.4l.6 .2l.2 .5l.8 .7l-.2 .3l-.7 -.3l-.5 -.5zM153.3 211.4l-.3 -.5l.1 -.5l.3 -.4l.6 -.2l.4 .4l.2 .5l-.6 .2l-.2 .4zM156.7 209.7l.1 .4l-.6 .1zM157 216.2l-.6 0l-.6 .4l-.2 -.7l.2 -.6l.4 -.5l.4 .5l.3 .3zM155.7 210.9l.8 0l.1 .7l-.8 .1l-.4 -.4zM154.6 218.7l-.4 -.5l.3 -.6l.4 -.5l.1 .6l.2 .8zM157.8 218.3l-.3 .3l-.3 .1l-.2 -.1l0 -.4l.4 .1zM153.2 214.9l-.5 .5l-.5 .3l-.4 0l.5 -.7l.3 -.5l.3 0l.6 -.3zM155.7 212.7l-.6 0l-.1 -.5l.2 -.2l.1 -.2l.4 .2l.3 .1l.1 .3zM153.2 216.3l.3 -.2l.3 .3l.6 .6l-.7 0l-.7 .1l-.2 -.6zM149.4 203l.1 .5l-.1 .3l-.3 .2l-.3 -.1l-.3 -.4l.4 -.3zM146.5 205.4l-.2 -.2l.3 -.3l.4 -.1l-.2 .4l-.1 .4zM148.6 206.9l-.6 -.6l-.8 -.4l.2 -.3l.5 -.2l.6 .7l.8 .5l-.1 .4zM153.2 204.2l.5 .5l-.9 .1l-.7 -.4l-.2 -.4l.8 0zM148.4 203.8l.3 .3l-.4 1.1l-.3 -.6l0 -.6zM151.1 212.6l-1 -.6l-.2 -.4l-.9 -.7l.4 -.2l.8 .2l.5 .7l1.2 .5l-.4 .3zM149.7 205.2l0 .3l-.8 .3zM144.6 209.4l-.7 .2l-.7 .1l-.5 -.7l.4 -.6l1 .2zM175 131.9l.8 -.3l1.2 .1l-.5 .4l-.3 .3l-.8 -.1zM179.2 135.3l-.1 -.4l.5 -.3l.2 .3l-.1 .4zM180.1 134.5l.6 .5l-.4 .1l-.2 .2l-.7 -.6l-.2 -.7l.6 .2zM175.2 138.5l-.2 -.4l.1 -.6l.2 -.2l.4 -.6l.2 .6l-.2 .6l0 .5l-.2 0zM173.6 135.5l.2 -.8l.4 .5l-.3 .7zM194.3 102.4l.5 -.3l.6 -.3l.7 .1l-.6 .5l-.5 .6l-.9 -.1zM194.5 104.8l.3 -.4l0 .7zM200.7 107.5l-.6 .1l-.4 -.2l.3 -.3l1 .1zM197.3 107.9l-.5 .1l.2 -.8l.3 -.8l.6 0l.2 .6l-.4 .7zM197.5 105.1l-.2 .4l.2 .6l-.7 .3l-.6 -.2l-.2 -.5l.7 -.3l.3 -.7zM193.2 108.7l-.4 0l-.4 -.1l0 -.4l.4 0l.3 0zM185.2 91.7l.3 .6l-.5 .3l-.3 -.5zM183.5 94.4l.3 -.4l.1 .6l-.2 .3l-.2 -.2zM185.5 96.1l.7 .4l-.4 .7l-.4 .1l-.8 -.1l.5 -.6zM182.6 95.1l-1.3 -.7l1.4 .2zM182.8 100.8l-.4 -.4l.3 -.7l.7 .2l.1 .5l-.1 .7zM184.1 93.2l.3 -.6l.5 .5zM182.6 93.8l-.2 .4l-.6 .4l-.6 -.2l.1 -.4l.7 -.4zM159 90.7l-.7 .6l.1 -.5zM161 93l-.1 -.4l.5 0l.1 .3zM159.4 95.3l.3 -.1l.3 .3l-.3 .3l-.3 -.2zM156.8 95.5l0 .3l-.1 .5l-.5 .3l0 -.4l.2 -.4zM153.1 92.8l-.6 -.4l0 -.8l.6 .2l.3 .6zM170.9 95.3l-.3 -.4l.2 -.4zM174.3 93.4l-.1 .6l-.1 .5l-.3 -.2l0 -.8l-.1 -.6l.4 -.4zM174.6 97.2l.2 -.4l.4 -.3l.7 -.2l.5 .4l.5 .3l-.4 .2l-.6 .1l-.6 .1zM175.5 98l0 -.5l.4 -.1l.5 .9l.1 .5l-.5 .4zM173.3 98.6l.3 .4l.2 1l-.6 1l-.4 -.6l.1 -1zM171 100.1l.8 -.1l.3 .3l.3 .3l-.6 .2l-.6 .1l-.6 -.3zM170.7 98.8l-.7 .2l0 -.3l.1 -.6l.8 -.5l.2 .4zM169.5 98l-.6 -.2l.6 -.2zM160.8 101.5l-.5 -.2l-.3 -.1l.7 -.5l.7 -.3l.1 .3zM159.3 104.6l.4 -.5l.5 .2zM161.9 103.5l.5 -.4l.1 .5zM163.4 104.6l0 .7l-.6 -.5l-.3 -.5l.1 -.4l0 -.4l.5 .2l.5 .2l0 .5zM159.4 107.5l-.5 .4l-.7 -.8l-.5 -.8l.5 -.6l.6 .6l.7 .5zM159 105.1l-.9 -.7l.6 -.2l.6 .7zM160.6 104.1l.3 -.2l0 .4zM277.3 201l-.6 -.2l-.3 -.5l-.7 -.7l.7 .1l.6 -.1l.8 .7l-.4 .3zM276.1 206.6l-.1 -.7l.9 -.4l.7 0l-.3 .6l-.5 .3zM281 207l.4 .7l-.6 .3l-.4 -.6l0 -.4zM275.5 202.2l.4 -.8l.6 .4l-.1 .6l-.3 .7l-.7 -.1zM274.3 209.8l.3 -.5l.5 .1l.2 .2l0 .2l0 .2l-.2 .2l-.3 0l-.3 -.1zM272.6 207l.4 .4l.1 .2l-.1 .5l-.5 -.2l-.1 -.4zM274.1 207.4l-.3 -.3l.1 -.5l.5 -.2l.4 .2l.3 .2l.1 .6l-.7 .1zM272.7 204.2l-.4 .3l-.7 .2l.2 -.4l.5 -.5l.8 0zM273.6 206.6l.7 .2l.1 .7l.6 .5l-.7 .1l-.2 .5l-.6 -.2l.1 -.7l.1 -.2zM171.6 88.2l-.4 -.7l.5 -.9l.8 .2l.3 .8l-.4 .9zM166.6 86.7l-.8 .4l.1 -.5l.2 -.2l.5 -.3l.8 -.2l0 .4zM169.3 88.1l.1 -.1l.5 .1l.2 .4l-.4 -.1zM175.2 85.7l-.5 .8l-.2 -.2l-.5 -.2l.5 -1.1l.4 -.5l.4 .1zM175 90.2l.5 .3l-.2 .4l-.6 -.2zM175.7 87.9l.4 .5l-.3 .4l-.3 .3l-.2 -.4l-.2 -.5zM173.9 92.8l-.2 -.7l.8 .8zM171.8 93.4l0 -.6l.3 .3l0 .6zM166.8 89.8l0 .5l-.5 .2l-.2 -.4zM166.5 88.3l-.3 -.7l1 .4zM165.5 90.6l.6 .2l-1.1 .5zM147.1 86.1l.2 -.1l.5 -.2l0 .2l-.4 .3l-.4 0zM145 88.1l-.5 -.2l.5 -.3l.3 0l.3 .3l-.3 .2zM148.2 88.9l.7 .5l-.8 .3zM144 92.2l.1 .8l-.6 -.4zM141.8 89.2l.1 .3l-.2 .3l-.4 -.3zM226.8 197.6l.7 -.2l-.1 .7l-.6 .2zM231.2 203.1l.6 -.5l-.1 .8zM230.3 198.7l.4 .3l.2 .5l-.3 -.1l-.5 -.4l.1 -.2zM229 200.8l-.4 -.3l-.4 -.1l.7 -.3l.4 -.2l.6 -.3l.3 .2l.4 .1l-.7 .4zM228.4 207.1l-.3 -.6l.1 -.5l0 -.3l.2 -.3l.4 -.1l.1 .7l.1 .4l-.1 .5zM226.9 202l-.2 .9l-.9 .1l-.4 -.1l.3 -.6l.1 -.7l.8 -.5l.1 .6zM225.8 201.8l.1 .4l-.6 -.2l-.4 -.3l-.3 -.4l.6 .2zM226.3 204.2l-.9 -.2l.6 -.8l.5 -.2l.8 .1l-.3 .9zM252.8 163.3l0 .3l-.2 .1l-.2 -.4l.2 -.1zM254.5 163l-.1 -.8l.6 .8l.2 .5l.1 .8l-.6 -.5zM257.1 167.9l-.9 .1l-.3 -.4l.8 -.1zM255.6 164.5l.2 -.7l.6 .3l0 .5l-.3 .3zM251.7 168.4l-.4 .5l-.1 -.8l-.1 -.6l.4 -.3l.2 -.2l.3 .2l0 .5l0 .6zM252.2 170.5l.1 -.5l.5 .4l.3 .6l-.6 -.2zM253 164.5l-.2 1l-.5 -.7zM251.3 166.1l-.3 .2l-.1 -.4l.3 0zM249.9 168.7l.6 -.6l-.1 1.2l.2 .7l-.5 .4l-.5 .7l.1 -1.3zM186.1 138.3l.5 -.2l-.2 .4zM187.5 138l-.3 .5l-.4 -.5zM189.1 140.7l-.4 -.5l.4 -.2l.1 -.2l.4 -.1l.2 .4l.1 .3l-.2 .3zM185.6 144.2l-.4 -.5l0 -.7l.6 -.3l.5 .2l.5 .3l-.1 .6l-.4 .4zM188.2 144.9l.5 .2l0 .4l-.1 .3l-.4 .1l-.5 -.3l-.4 -.3l-.1 -.4l.5 -.2zM184.4 142.5l-.4 .5l-.8 .5l-.6 -.2l-.8 .1l0 -.4l.9 -.3l.7 -.2zM163.2 160.2l.6 .4l.5 .7l-.5 .5l-.6 -.3l-.6 -.1l-.1 -.9zM162.5 158.5l-.6 -.3l-.5 -.9l.2 -.7l.8 1l.6 .8zM159.7 157.5l-.1 -.7l.7 .4zM166 159.9l.5 .2l-.2 .5l-.1 .7l-1 .2l-.7 -.2l.3 -.7l.5 -.4zM161.5 162l.2 .8l-.9 -.4l-.9 -.8l.6 -.4l.6 .1zM159.5 164.9l.6 -.6l-.1 .8l-.4 .4zM160.2 165.7l-.1 -.7l.4 .7zM160.6 160l.3 0l.2 .5l.2 .4l-.3 -.1l-.2 -.3zM157.4 159.8l.5 .7l0 .6l-.3 -.1l-.3 -.3l-.2 -.8zM180 215.6l.2 .4l-.4 -.1l-.7 0l-.5 -.6l.5 -.3l.5 .2zM180.9 214.4l-.4 -.6l-.1 -.6l.3 -.1l.4 .1l.4 .8l.1 .7l-.3 .1zM185.4 217l-.4 .8l-.3 .9l-.7 .5l0 -.7l-.2 -.6l.8 -.9l.3 .2zM183.2 214.6l.4 -.7l0 1.4zM181.9 222.6l-.5 -.3l.5 -.2zM183 224l0 .2l-.3 .1l-.4 -.4l.4 -.3zM175.9 219.8l.5 .2l-.8 .2zM177 219.5l-.5 -.7l.2 -.6l.2 -.7l.6 .7l.4 .5l.4 .9l-.6 .1zM205.8 213.4l-.5 1l-.9 .5l.1 -.7l.6 -.8zM205.7 212.4l-.4 .2l-.2 -.1l.2 -.2zM206.6 215.9l1.7 -1l-.6 .9zM212.4 217.5l-.4 .4l-.4 .4l-.2 -.2l-.4 -.3l.7 -.3l.5 -.2zM207.3 219.1l-.2 .9l-.4 .7l0 -.7l.2 -.7zM208.1 217.7l.2 .8l-.7 0l0 -.4zM205.9 216.3l.4 .3l-.5 .1l-.7 -.1l.1 -.4zM203.5 217.8l.1 -.6l.7 -.2l.3 .2l-.3 .8l-1 .6zM189.7 148.1l-.1 -.5l1 0l.9 .3l-.6 .4zM190.3 148.8l-.5 .7l-.3 -.8l.1 -.4l.5 -.4l.6 .3zM191.2 152.6l0 .5l-.5 -.5zM189.4 152.9l.3 -.6l0 -.3l.3 -.3l.3 .2l.2 .2l0 .3l-.1 .4l-.5 .2zM191.4 149.8l.3 -.1l.3 0l-.3 .3l-.3 0zM142.4 177.8l-.4 -.2l-.2 -.5l.5 .1zM141.7 177.3l.5 .1l.2 .4l-.6 .6l-.2 -.7zM143.5 183.1l-.4 .4l-.3 .4l-.3 -.4l-.2 -.3l0 -.4l.4 0l.3 -.5l.4 .2zM145.3 180.3l.7 .1l.1 .5zM145.9 180.5l-1 -.2l.3 -.3l.6 .1zM142.1 189.3l.2 -.3l.5 -.2l.4 0l.9 0l-.6 .4l-.5 .2l-.6 .2zM142.7 187.9l.4 -.3l.1 -.9l.5 .4l.2 .7l-.1 .8l-.2 .5l-.4 -.2l-.2 -.4zM139.8 181.8l-.7 0l.2 -.6zM140.4 184.1l.2 .6l-.3 .3l-.5 -.5l.2 -.5zM140 181.3l1 0l.3 .5l-.1 .5l-.9 .2l-.7 -.3l-.1 -.5zM61.8 260.8l.3 -.2l.3 -.1l.4 .2l0 .3l-.6 -.1zM62.2 259.7l.3 .8l-.3 .3l-.3 -.2l-.4 -.5l0 -.8l.3 -.3zM61.9 262.5l.5 .1l.5 .3l-.1 .5l-.5 -.1l-.5 0l-.2 -.5zM69.1 264l.3 .9l-.1 .6l-.1 .7l-.5 -.3l-.3 -1.3l.1 -1.1zM69.4 267.4l-.5 .2l-.4 -.5l.3 -.5l.7 -.4l.2 .8zM69.7 269.3l-.5 0l-.1 -.4l.4 -.3l.4 .3zM65.7 270.1l.2 -.4l.6 .5l-.1 .4zM63.6 267l-.3 -.4l.6 -.1l.3 .3l-.3 .3zM59.5 266.1l.2 -.4l.2 -.2l.2 .3l-.3 .1zM61.6 267.2l-.7 0l-1 .3l.7 -.8l.6 -.6l1 -.2l0 .6zM90.9 317.7l.2 -.3l.4 -.3l.1 .3l.1 .2l-.4 .2zM97.8 319.8l-.7 -.5l0 -.8l.3 -.1l.4 .3l.5 1zM95.2 319.3l.4 0l.4 .2l-.2 .3l-.3 -.1l-.4 -.2zM91.7 326.5l1.3 .2l-.9 .4zM92.2 323.2l-.4 .5l-1.4 -.6l-.7 -.7l1.4 -.1l1.3 .5zM115.9 313.8l.1 -.2l.5 -.3l.6 .1l-.5 .4l-.5 .2zM122.5 314.4l-.4 .1l-.1 -.4l.4 -.1l.2 0l.1 .3zM119.2 318.6l.1 .5l-.5 .3l-.7 .1l-.5 -.4l-.3 -.4l-.1 -.6l.7 0l.8 0zM120.9 319.5l.2 .5l.2 .3l-.4 .2l-.2 .4l-.6 0l0 -.6l.1 -.5l.3 -.3zM115.3 318.3l.5 -.5l.4 .2l-.2 1l-.4 .1zM143.3 311.7l-.5 .5l-1 .7l-.1 -.7l.9 -.6l1.1 -.7zM141.6 312l-.3 .6l-.4 -.3l.2 -1l.4 .1zM140.4 311.4l.2 -.1l.2 -.2l.2 .2l.1 .5l-.2 .9l-.3 -.4l-.3 .4l-.2 -.5zM146.9 313.2l-.8 -.2l.3 -.6zM146.3 313.6l-.4 -.1l.2 -.5l.3 0zM142.4 313.6l0 .4l-.2 .4l-.4 .3l.2 -.7zM141.4 316.2l.4 -.1l.6 .3l-.3 .4l-.2 .2l-.6 .1l.1 -.6zM138.2 314.5l.7 0l.5 .4l-.2 .4l-.6 .3l-.7 -.6zM132.7 337.1l.5 .8l.6 1l-.5 .1l-.7 -.9l-.5 -.6l.1 -.4zM133.3 338.1l-.4 .3l.2 -.4l.1 -.4l.3 -.1l-.1 .4zM135.9 338.7l-.1 -.5l.2 -.6l.6 -.1l.5 -.2l.2 .5l-.8 .6zM134.4 341.9l.1 -.5l.7 -.1l0 .6l.3 .3l-.2 .3l-.4 .4l-.4 -.5l-.8 -.2zM138.8 339.3l-.4 .1l0 -.4l.2 -.4l.3 .2l.4 .3zM142.6 340.3l-.5 .4l-.3 .1l.1 -.3l.4 -.6zM137.7 340.8l-.3 -.3l0 -.3l.1 -.1l.3 0l.2 .5zM133.9 345.1l.6 -.4l.1 .9zM133.8 338.1l.5 .1l.4 .6l-.9 .3l-.4 -.1l-.5 -.6zM128.8 343.3l-.3 -.6l.7 -.6l.3 .1l.8 -.1l-.3 .8l-.6 .8zM76.3 220.8l-.6 -.3l.6 -.5l.4 -.4l.2 .5l.2 .7zM77.8 225l-.4 0l-.4 -.4l.1 -.2l.2 -.3l.5 .4zM79.7 225.8l0 .2l-.2 0l-.3 -.3l.3 -.1zM80.1 227.5l-.5 .3l-.5 .1l.6 -.5l.5 -.3zM75.9 225.2l.4 .5l-.6 .2l-.5 .4l-.8 -.4l0 -.7l.9 .1zM74.8 224.9l.7 -1.2l.6 .2l-.5 .7zM102.3 235.9l-.1 .3l.2 .2l-.5 .1l-.9 -.3l-.3 -.4l0 -.4l1 .4zM101.1 236.5l.4 .5l-.3 .5zM100.3 234.7l-.4 -.4l.5 -.3l.4 -.1l.5 -.3l.1 .5l-.1 .4l-.1 .3l-.5 .2zM107.1 238.6l-.2 -.4l.3 -.1zM107.3 237.9l-.5 0l0 -.4l.3 0l.6 -.1l.2 .5zM102.4 240.4l0 .5l-.3 .3l-.2 -.2l.1 -.4l.2 -.2zM103.8 241.6l-.3 .4l-.1 -.3zM98.8 238.2l.4 .1l.4 .2l.2 .6l-.5 0l-.4 -.5zM98.2 239.7l-.4 -.5l.3 -.8l.3 -.5l.3 .3l-.1 .8l-.1 .7zM91.4 216.8l-.3 0l-.2 -.4l.2 -.7l.5 .1l.3 -.1l0 .5l0 .6zM90.9 217.9l-.1 -.5l1 -.2l.8 .1l-.8 .5zM94.9 218.4l.4 -.4l.7 -.1l-.2 .6l-.4 .5l-.5 -.1zM93.2 216.8l.3 -.3l.4 .5l.1 .4l-.6 -.1zM92.1 220.5l.6 .7l-.8 .5l-.9 .1l0 -.9l.4 -.7zM88.9 219.4l.4 .3l.6 -.2l.1 .7l-.5 .3l-.2 .3l-.2 -.3l-.4 -.1l-.3 -.7zM121.3 244.3l.6 -.1l-.1 .5l-.3 .2l-.4 -.1zM119.6 237.6l.3 -.1l.4 .1l.1 .5l-.5 0l-.3 -.2zM124 242.6l-.4 -.5l.1 -.3l.7 .5l.3 .4l.2 .2l0 .4l-.6 -.4zM123.3 246.9l.1 .2l-.4 .3l-.5 .2l-.4 -.1l-.2 -.3l.6 -.2l.4 -.2zM118.9 241.1l.5 .4l.2 .5l.1 .3l-.2 .2l-.7 -.5l-.5 -.9zM119.6 242.2l-.1 -.1l.2 -.4l.3 0l.3 0l-.3 .4zM114.4 269.7l.3 -.1l.4 .1l.1 .5l-.4 .1l-.3 -.2zM113.8 270.6l-.5 .1l.2 -.4l1.1 -.5zM115.5 276l.1 .3l-.3 .2l-.1 -.5l.2 -.2zM117.7 272.5l.5 -.1l0 .2l-.2 .3l-.4 .1l-.2 -.2zM113.6 277.7l.3 -.4l.5 -.1l-.3 .5zM113.5 277.3l0 -.3l.7 .1l0 .4l-.5 0zM113.6 275.7l-.1 .5l-.9 -.1l-.5 0l-.5 -.3l.7 -.2l.4 0zM109.2 272.3l.8 .7l-.8 .3zM110.2 274.9l.3 -.4l-.1 .6zM125.1 265.5l-.4 -.2l-.2 -.1l.1 -.2l.3 0l.1 .2zM121.3 266.4l.1 -.3l.3 -.4l.3 .8l.1 .4l-.1 .4l-.4 .1l-.2 -.6zM132.1 261.5l-.9 1l-.3 -.7l-.3 -.6l.7 -.6l.8 -.3zM126.9 263.6l-.3 -.6l.6 0l.3 .5zM135.3 259.6l-.2 -.2l-.1 -.5l.2 -.4l.4 .4l0 .6zM135.5 257.7l-.6 .4l-.1 -.3l0 -.3l.6 -.3l.2 .1zM136.3 261.1l-.2 -.6l.1 -.7l.8 .2l0 .8zM135 258.1l.9 0l.1 .3l.7 .2l-1.2 .3l-.5 0l-1.2 .2l1 -.5zM132.6 264.9l-.5 -.2l-.5 -.2l.2 -.4l.6 -.2l.5 0l.4 .2l0 .3l-.3 .2zM136.5 263.5l-.4 .5l-.4 .4l-.2 -.6l-.6 0l.3 -.7l.4 -.2l.4 -.2l.2 .5zM128.4 269.4l.3 -.8l.8 -.1zM128 266.6l.4 -.4l.3 .4l.1 .3l-.2 .5l-.5 -.3zM129.9 267.2l-.1 1l-.3 .2l-.1 -.4l.1 -.6zM127.5 267.1l-.6 .4l-.2 .6l-.4 -.2l-.1 -.4l.2 -.4l.2 -.4l.4 -.2l.2 .3zM124.7 264.8l.2 .5l-1.2 .2zM122.3 269l.3 -.3l.4 0l.6 .2l-.1 .6l-.4 .1l-.6 0zM124.3 280.3l.2 -.6l.4 -.1l.1 .4zM121.9 285.6l.6 -.5l.8 -.4l-.4 .9l-.6 .3l-.4 .3zM123.1 283.2l.5 -.3l.4 .4l.4 .3l-.3 .2l-.6 .3l-.3 -.4l-.2 -.3zM125.2 283.8l-.1 -.3l.5 -.1l.4 0l-.1 .3l-.3 .3zM129.4 287l-.5 .6l-.3 -.6l.2 -.6zM130.8 290.3l-.5 -.6l.1 -.6l.4 .3l.3 .6zM126.4 291.4l.4 -.1l.2 .2l0 .3l-.4 .2l-.2 -.3zM126.2 291.9l-.1 -.6l.8 .4l.5 .5l.7 .7l-.3 .3l-.8 -.3l-.5 -.3l-.9 -.5zM123.3 288.5l1 .4l.1 .7zM119.5 290.6l-.8 -.4l-.2 -.7l.2 -.5l.8 .2l.4 .8l0 .5zM126.6 289.5l-.6 .1l-.4 .2l-.6 -.3l.1 -.6l.1 -.4l.5 -.2l.7 .4zM14.1 245.7l.3 0l-.1 .9l-.3 -.3zM15.7 249.7l-.4 0l-.7 -.4l0 -.4l.6 .2zM15.8 244.9l-.1 -.3l1 -.1l-.2 .4zM15.1 252.9l.4 -.4l0 .6zM14.4 247.9l-.4 .1l-.6 -.1l-.2 -.4l.1 -.2l.6 .1zM10.9 246.5l.5 .1l.2 .4l-.7 -.1zM26.4 250l-.4 .5l-.6 0l.1 -.5l.2 -.6l.8 0zM26 253.6l-.7 -.1l-.5 -.4l.3 -.6l.2 -.7l.6 0l.2 .7l.2 .4zM24.4 251.4l.2 -.1l.2 0l0 .2l-.2 .2l-.3 -.1zM25.7 257l-.4 .8l-.6 .9l-.3 -.4l0 -.5l.5 -.5l.5 -.7zM24.2 252.4l.3 .2l.3 .5l-.4 .5l-.4 .6l.1 -1.1zM22.7 253.8l-.6 -.6l.8 .2zM49.9 249.8l-.5 -.7l0 -.5l.3 -.1l.5 .3l.5 .3l.4 .7l-.1 .5l-.7 -.5zM54.5 250.3l.5 .1l0 .3l-.1 .3l-.7 -.3l.1 -.3zM51 254.3l-.4 -.6l.5 -.4l.2 -.2l.4 .1l.5 .1l.2 .6l-.5 .2l-.3 .5zM54.2 250.4l.5 -.3l.6 -.1l.3 .3l.1 .6l-.7 0l-.9 .1zM52.7 257.9l.8 -.4l.9 0l.3 .2l.1 .2l-.2 .2l-.6 .2l-1 .1zM52.8 259.1l-.5 .1l-.2 -.5l.2 -.5l.3 -.3l.3 -.3l.4 0l.4 .4l-.7 .4zM49.1 250.6l.5 -.2l.3 .6l.1 .3l-.3 .3l-.5 -.5zM52 254.3l.4 0l.5 .3l.3 .4l-.7 -.2zM50.8 221.4l-.1 -.6l-.2 -.6l.2 -.1l.2 .5l0 .3zM50.5 222.8l-.3 .1l-.4 -.1l-.2 -.5l.5 -.8l.6 .5l0 .5zM48.8 225.5l-.2 .4l-.4 -.4l-.3 -.1l.1 -.4l0 -.5l.5 -.1l.2 .5l.4 .2zM48.1 224.7l-.3 .3l-.6 -.5zM50.8 228.9l-.4 .1l.1 -1l-.1 -.5l.3 -.7l.3 -.3l.2 .4l-.1 .6l0 .7zM47.5 223.7l.5 -.7l.3 .6l-.2 1.4l-.5 0l-.2 -.4zM72.7 280.7l-1.4 0l.6 -.4zM75.9 286l.1 .5l-.2 .3l-.3 .3l-.6 -.2l.3 -.6l.1 -.7zM74.6 286.1l.5 .3l-.2 .3l-.3 .1l-.5 -.7zM70.1 285.5l.8 -.1l.3 .6l-.3 .6l-.7 .2l-.3 -.7zM69.4 287.8l-.5 .1l-.5 -.2l.4 -.5l.6 -.3l.5 .5zM69.5 285.2l-.3 -.6l.7 -.4l.1 .8l-.2 .3zM139.6 299.8l0 .6l-.5 .8l-.7 .1l-.4 -.5l.5 -.6l.6 -.6zM135.9 303.1l.7 -.9l.4 .5zM139.2 306.7l.2 .4l-.6 .2l-.7 -.2l.6 -.3zM135.5 306.9l.3 -.1l.4 .1l0 .4l-.6 0zM137.8 304.7l-.5 -.3l.5 -.3l.3 .3l.2 .5zM133.1 305.5l.4 -.4l.2 .1l-.3 .7zM143.3 344.9l-.1 -.3l.6 -.3l.5 .3l-.5 .6zM143.4 345l-.8 0l-1.2 -.5l.2 -.5l1.1 -.1l1.1 .5l.9 .7zM142.3 346l-.4 -1l1 .5zM146.6 347.7l.1 .2l.2 .3l-.7 .5l-.4 -.3l-.8 0l.4 -.5l.8 -.5zM142 351.2l0 -.7l.6 .1zM141.5 352.3l0 -.6l.4 .3l.1 .5zM136 348.8l.6 -.2l-.1 .4l-.6 .4zM139.7 348.4l-.5 .4l-.6 -.3zM107.3 251.6l0 .4l-.9 0l.1 -.4l.4 -.2zM110.4 253.4l-.3 -.3l-.2 -.5l.5 0l.4 .4zM108.9 257.4l-.6 0l.1 -.5l.4 -.4l.6 .1zM105 254.3l-.4 .2l-.3 -.3l.2 -.3l.3 -.2l.3 .2zM104.8 255.1l-1 -.1l-.9 0l.8 -.5l.7 -.5l.5 .5zM153.5 222.5l-.4 0l-.1 -.4l.5 -.1zM152.6 225.2l.3 .5l.1 .5l-.5 -.1l-.5 0l.2 -.5zM152 222.3l.6 -.7l.7 .6l-.4 .8l-1 .3l-.2 -.7zM159.9 220.4l.4 .1l-.1 .6l-.3 -.1zM156.5 223.3l.3 -.5l.2 .6zM161.1 225.1l-.3 .7l-.6 -.2l.1 -.9l.2 -.5l.3 -.5l.3 .6zM161.8 228.4l-.3 .8l.2 .8l-.8 0l-.4 -.5l.1 -.5l.3 -.8zM163.7 232.3l-.3 -.3l.1 -.3l.3 -.1l.2 .6zM161 229.8l0 .8l-.3 -.2zM165.5 232.6l-.2 -.4l-.2 -.3l-.1 -.8l.4 -.3l.5 .1l-.1 .9l-.1 .5zM162.9 232.9l.6 -.5l.7 0l-.3 .9l-.7 .5l-.4 -.3zM163.8 233.3l0 .7l-.5 .2l-.4 -.3l.2 -.5l.3 -.5zM170.2 230.9l.1 .2l-.2 .4l-.2 0l0 -.3l.2 -.4zM171.2 227.9l-.2 -.4l.2 -.4l.3 -.2l.4 -.2l0 .6l.2 .5l-.3 .5l-.4 -.3zM173.8 231l.2 .4l-.3 .3l-.6 .1l-.2 -.5l-.2 -.3l.3 -.1l.3 0zM174.7 230.6l.8 .2l.4 .6l-.2 .6l-.8 -.6l-1.1 -.5zM175.2 229l-.3 -.3l.6 -.2l0 .4zM179.2 231.3l-.8 -.4l.5 -.5l.6 .3zM182.8 228.9l.7 .3l0 .8l-.8 .3l-.5 -.8l-.1 -.7zM180.5 229.4l-.7 .5l-.5 -.2l-.5 -.3l1 -.4l.8 -.3l.4 .2zM183.5 225.4l-.9 .1l.9 -.9l.7 -.3l.6 .1l-.6 .7zM185.3 223.5l0 .2l-.2 .4l-.8 .5l-.7 .2l-.1 -.3l.1 -.4l.6 -.4l.7 -.3zM189.8 222.6l-.9 -.2l.4 -.6zM185.9 221.8l-.4 0l-.2 -.6l.2 -.1zM193.4 225.1l.4 -.4l.5 .5zM193.6 221.8l.6 .2l-1 1.2l-.9 .8l0 -.7l.3 -.9zM191.6 231.1l.2 .2l-.1 .3l-.3 -.3l-.1 -.4zM192.5 227.7l-.7 -.2l1.4 -.5zM192.5 226.2l.3 .7l-.2 .6l-.6 -.7l-.4 -.7l.3 -.3zM188.8 233.5l-.4 0l-.3 -.4l.5 -.3l.4 -.1l.7 0l-.3 .7zM189.8 233.7l.1 .4l-.1 .5l-.4 0l0 -.7l-.2 -.8l.4 -.2zM181.8 236.9l-.5 0l0 -.4l.1 -.3l.3 .1l.4 .3zM182.8 238.2l.5 -.4l.5 0l.3 .1l-.4 .4l-.3 .2l-.4 .2l-.7 .2l-.2 -.4zM182.5 238l.2 -.5l.5 -.3l.3 .4l.4 .1l-.2 .4l-.3 .2l-.3 0l-.2 0zM175.6 234.9l.5 0l.4 .9l-.5 0zM180.2 237.6l-.7 .2l.2 -.5zM172.4 240.6l-.1 -.6l.4 -.4l.8 .4l.7 .7l-.4 .5l-.7 .3zM171.8 234.4l.6 -.7l.7 -.4l.1 .6l-.2 .5l-.4 .3l-.6 .4zM169.1 238.2l-.6 .1l.3 -.5l.1 -.5l.5 0l.2 .4zM168.6 238.9l.5 0l.4 .6l-.5 .1l-.3 .2l-.3 -.3l-.5 -.2l.3 -.3l0 -.5zM164.8 242.2l.1 .6l-.6 -.1l-.3 -.3l-.2 -.1l-.2 -.4l.3 -.2l.4 -.1l.3 .2zM163 240l.4 .2l-.3 .2zM161.2 244.5l.3 -.2l.2 .2l.1 .6l-.4 .1zM160.2 243.4l.1 -.3l.1 -.4l.5 0l-.1 .3l-.1 .3zM160.8 242.7l.1 1.3l-.7 -1.4zM154.3 248.1l-.8 -.2l-.6 .2l-.5 -.6l.3 -.5l.7 0l.5 .4zM155.8 245.4l-.1 .3l-.6 -.2l.1 -.4l.5 0zM149.7 247.3l-.2 -.3l.3 -.1l.2 -.1l.2 .3l-.2 .3zM151.4 239.4l-.1 .5l-.4 .5l-.1 -.7l-.3 -.4l.4 -.4l.3 -.7l.3 .5zM152.6 240.4l-.9 .3l.1 -.5l0 -.4l.8 -.3l.1 .5zM152.8 243.8l-.4 .6l-.8 .5l-.6 0l.2 -.5l1 -.8zM157.6 241.8l.6 -.3l.9 .4zM156.4 238.4l.5 .6l-.5 .3l-.5 -.8zM156.3 234.8l-.5 -.4l.2 -.6l.2 -.3l.4 .2l.1 .6l0 .8zM150.6 232.9l.2 -.7l.5 -.2l-.1 .7zM151.2 235.2l-.4 -.5l.2 -.2l.5 .3l.9 .2l.2 .7l-.3 .3l-.8 -.2zM154.5 234.4l-.3 1l-.6 .2l-.4 0l-.2 -.6l.6 -.3zM150.7 231.5l.7 .2l-.8 .4zM152.4 227.5l.2 -.4l.5 .1l.1 .4l-.1 .6l-.5 -.3zM229 246.1l.4 -.1l-.3 .6zM229.8 245.1l.3 .6l.6 .7l-.8 -.2l-.6 -.5l-.4 -.5l.1 -.4zM234.2 250.9l-.2 .2l-.3 .1l-.2 -.2l.3 -.2l.3 -.1zM233.6 251.5l.3 .2l-.4 .7l-.2 .7l-.5 .3l-.1 -.7l.3 -.8l.3 -.3zM234.1 249.6l.5 -.2l.6 0l-.1 .7l.2 .6l-.6 .2l-.5 -.3l-.3 -.4zM229.2 251l.6 -.1l.3 .6zM224.6 250.4l-.1 .3l-.4 -.3zM230 250.8l-.5 -.3l.4 -.5l.3 -.4l.5 .2l-.1 .5l-.1 .5zM226.2 248.8l.4 .5l-.2 .3l-.4 -.5l-.6 -.6l.5 .1zM207.5 226.4l.6 -.1l-.1 .7l.1 .4l-.2 .2l-.6 -.4l-.2 -.6l.2 -.2zM205.8 230.2l.1 -.6l.1 -.7l.5 .6l.4 .4l-.5 .2zM212.6 229.1l.5 .3l-.5 .1l-.5 -.3zM208.3 231.9l.5 .6l-.4 .4l-.4 .5l-.3 -.9l-.1 -.7l.2 -.8zM208.9 233.5l.3 .2l-.2 .3l-.2 .4l-.5 0l-.5 0l0 -.3l.3 -.3l.4 -.4zM209.6 235.5l-.4 0l.6 -.7l.6 -.5l-.2 .9zM205.8 230.1l-.2 .7l-.2 0l-.3 -.5l.3 -.6zM205.7 231.6l.3 -.1l.5 .1l.3 .3l0 .3l.1 .5l-.6 -.3l-.3 -.3l-.5 -.3zM180.1 271l.1 -.7l1.1 .6l.3 .7l-.4 .2l-.5 .2l-.9 -.6zM180.6 272.2l-.4 .5l-.5 -.5l-.3 -.4l0 -.5l.5 -.3l.4 .5zM182.5 270.8l.3 .4l-.6 .1zM184.8 272.8l.1 .4l-.1 .2l-.5 -.4l-.4 -.4l.1 -.4l.4 -.1zM185.6 276.3l.3 .1l-.2 .3l-.3 .1l-.2 -.2l.2 -.2zM180.6 276.1l-.4 .4l-.4 -.4l-.2 -.5l.3 -.4l.6 .4zM181.9 273.6l-.3 -.7l.3 -.6l.4 .6l.2 .5l-.1 .8l-.4 -.3zM176.7 273.8l.1 -.4l.2 -.2l.3 0l-.1 .5zM176 273.4l.6 -.3l.9 .3l.4 .5l-1 -.2zM152 286.2l.5 .4l.1 .7l0 .5l-.4 -.3l-.4 -.9zM151.4 287.8l-.2 .5l-.1 .8l-.5 -.7l0 -.4l0 -.5l.4 -.1zM156.6 291.3l.4 .2l-.3 .3l-.3 .1l-.4 .2l-.4 -.2l-.1 -.4l.3 -.3l.5 0zM156.4 289.7l.7 .9l-.5 .2l-.7 -.1l-.7 -.9l.6 -.1zM155.3 297.3l-.3 .1l-.4 .2l0 -.5l-.4 -.3l.2 -.5l.5 0l.4 .3l.1 .3zM156.7 298l-.6 -.1l.1 -.4l.2 -.4l.6 .1l.5 .2l-.3 .3zM148.4 290.4l-.3 -.3l-.3 -.6l1.1 .1l.8 -.3l.5 .5l-.6 .5l-.5 .3zM150.1 292.1l-.4 .2l-1 .1l.4 -.4l.1 -.4l1 .1l.5 .2zM162.2 302.7l.5 .1l.3 .3l-.2 .2l-.3 -.2zM166.2 302.4l0 -.2l.4 .2l.2 .3l-.3 -.1zM168.6 306.1l-.4 .1l-.3 -1.2l.5 0zM171.9 300.7l-.3 .4l-.3 .2l0 -.6l.3 -.6l.2 .3zM173 302.7l.8 .6l-.3 .2l0 .4l-.6 -.5l-.3 -.4l-.4 -.7l.2 -.2zM170.1 304.3l.7 0l.7 .2l-.9 .5l-.8 .3l-.4 -.2l0 -.3zM176.1 305.9l-.3 -.6l-.2 -.5l.2 -.7l.7 .1l.5 .4l.3 .6l-.6 .4zM175.7 310.3l-.3 -.6l.5 .3zM168.9 309.1l.6 -.1l-.3 .4zM169 309.1l-.1 .4l-.6 -.3zM171 309.4l-.5 .6l-.7 -.3l-.6 -.4l.3 -.7l.4 -.6l.8 .5zM164.1 306.5l.6 .4l.8 .2l-1 .4l-.7 .3l-1 -.2l.6 -.6zM163.8 309.8l-.2 -.3l.7 -.1zM195.8 294.8l.4 .1l0 .4l-.6 .4l-.5 .1l0 -.3l-.5 -.2l.6 -.5zM193.1 295.6l-.1 -.5l.5 -.1l.3 .5l-.3 .4l-.3 -.1zM199.8 296.1l-.4 .5l-.4 .1l-.4 .1l-.3 -.5l.1 -.5l.4 -.4l.5 .4zM199.3 299.2l-.7 -.3l0 -.7l.2 -.2l.2 -.2l.6 0l.2 .7l-.2 .3zM194.7 300.9l.2 -.2l.5 .1l.6 .6l-.5 .2zM195.6 301.7l.9 -.2l.4 .7l.8 .5l-.8 .2l-.8 .1l-.2 -.5l-1 -.5zM194.2 296.7l.1 .5l-.4 .4l-.6 0l-.4 -.5l.7 -.6zM194.5 299.7l-.3 0l.4 -.8l.4 -.5l.3 -.1l-.1 .4l-.1 .4l-.3 .9zM179.4 311.8l-.2 -.2l0 -.6l.6 -.8l.4 .1l-.2 1.1zM179.9 305.6l-1 .3l.3 -.4l.6 -.2zM179.8 310.6l-.1 .5l-.4 .1l-.5 .6l.1 -.7l.1 -.3l.1 -.5l.4 -.3l.2 .3zM185.1 308l.1 -.3l.4 -.1l.1 .3l-.1 .3zM182.9 311.2l0 -.5l.3 .1zM187.2 312.3l0 -1.1l.6 -.7l-.1 1.1zM184.6 310.2l.1 -.5l.7 -.5l.7 .3l.1 .7l-1 .1zM188.8 321.6l.5 -.1l-.4 .6zM182.9 316.3l-.8 0l-.5 -.3l-.4 -.5l.8 -.1l.7 .4zM182.1 321.2l-.7 .4l-.5 -.5l-.5 -.6l.9 -.6l.9 .2l.2 .6zM180.1 320.2l.7 -.2l.2 .3l-.6 .3l-.6 .2l-.3 -.2zM176.2 322.6l.6 -.5l.7 0l.8 .1l-.8 .4l-.8 .2zM176.8 313.9l-.4 -.2l-.2 -.7l.3 0l.3 .4zM176.8 319.4l-.2 -.9l.3 -.3l.4 1.3zM174.8 313.5l-.1 .4l-.2 .1l-.5 .1l0 -.5l.5 -.3zM175 319.9l.9 .2l-.2 .3l-.6 .3l-.6 -.5zM175.5 315.7l-.5 .4l-.3 .1l0 -.3l.4 -.2zM175.6 331.8l-.7 .1l.3 -.2zM176.3 331.7l0 .3l-.3 .1l-.3 0l.2 -.3l.2 -.1zM178.4 337l-.4 .5l-.7 .3l-.2 -.7l-.7 -.4l.8 -.3l.4 -.2l.3 .4zM176.7 333.2l.1 .7l-.9 -.1l.2 -.6zM178.9 337.5l.4 -.4l.3 .5l.3 .4l-.5 .2l-.2 .6l-.6 -.1l-.3 -.5l.3 -.5zM174.2 339.8l-.7 .1l-.7 0l-.7 -.2l.7 -.4l1.2 .1zM171.8 333.2l.6 0l.2 .4l.7 0l-.2 .6l-.4 .5l-.6 0l-.5 -.3l.2 -.6zM173.4 335.4l-.2 .3l-.1 -.5l.1 -.3l.3 0zM173.1 332.8l-.1 -.5l.3 -.6l.8 .3l.9 .2l-.2 .7l-1 .2zM148.4 325.8l.1 .4l-.2 .2l-.1 -.5zM147.5 327.3l.7 -.4l.5 .1l.2 .5l-.1 .7l-.7 .2l-.4 -.4zM150.6 323.7l.5 .8l.5 .5l0 .9l-.5 -.2l-.2 -.2l-.4 -.4l0 -.7zM154.8 322.4l.1 .5l.1 .6l-.5 -.2l-.3 -.3l.1 -.5zM154.6 325.2l-.7 -.8l1.2 -.4zM150.9 330.7l.8 -.2l.5 .1l-.3 .5l-.5 .4l-.7 .3l0 -.4l-.3 -.2zM153.1 330.3l-.3 .7l-.3 -.1zM153.5 330.7l-.3 1.3l-.5 -1zM148.4 328.1l-.1 .3l-.3 -.1l.1 -.3l.1 -.4l.3 .2zM145.4 330.2l.4 -.5l.2 .6l.2 .5l-.5 -.1l-.5 0zM146.8 328l-.6 .8l-.4 -1.1zM151.7 332.4l-.3 -.3l.2 -.4l.4 .1l.1 .2l-.1 .3zM150.7 338.8l.1 .4l-.1 .4l-.6 .5l-.6 -.1l-.5 0l0 -.4l.3 -.4l.7 -.1zM159.5 340.6l.1 -1l.6 .1l.3 .8l-.6 .3zM159.1 338.6l-.1 .4l-.2 .3l-.4 -.3l-.1 -.1l.2 -.4zM158.8 339.1l.4 -.3l0 .7l.1 .7l-.5 .4l-.5 .6l-.1 -.7l.1 -.6l.1 -.6zM156.3 340.7l.5 .4l-.4 .4l-.5 -.2l-.4 -.3l.2 -.4zM156.9 345.5l-.1 -.5l0 -.3l.2 -.6l.5 .2l.2 .3l.1 .4l.1 .5l-.5 .2zM159.9 347.5l.6 -.3l.3 .6l-.4 .6l-.7 -.1l-.1 -.5zM159.8 344.8l.3 .2l0 .3l-.3 -.1l-.2 -.1zM151.2 346.3l.4 -.2l.2 .3l.3 .4l-.7 0l-.3 .3l-.3 -.2l0 -.3l.1 -.2zM150.4 346.1l0 -.6l-.2 -.6l.3 0l.3 -.1l.3 .5l0 .7l-.4 0zM152.5 339.5l.2 .3l-.3 .3l-.2 .2l-.3 -.4l.4 -.4zM152.2 339.4l.2 .6l-1 .7l-.3 .5l-.5 .1l-.2 -.2l-.6 -.2l.8 -.7l.6 -.1zM147.8 338.1l-.9 .6l-.1 -.5zM142.2 307.7l-.5 .4l-.4 -.6l-.3 -.6l.5 -.5l.6 .2l.3 .1l.4 .3l.1 .7zM144.2 313.7l-.4 -.2l.5 -.8l.4 .4zM144.5 312l.2 -.3l.2 0l-.1 .7l-.2 0zM139.2 314.4l-.2 -.2l.5 -.3l.2 .1l.2 .1l-.6 .5zM143.8 316.6l0 1.1l-.4 .2l-.3 0l.1 -1l-.1 -.8l.3 -.1l.2 .2zM138.9 314.3l.7 -.3l0 .6zM138.2 310.3l0 .3l-.4 .1l-.4 -.2l.1 -.2zM138 316.7l-.1 .4l-.3 0l.2 -.4zM227.5 213.6l.1 -.2l.3 -.1l.5 .3l.2 .5l-.6 -.2zM229 214.4l.5 -.3l.4 .2l0 .2zM226.6 212.7l-.3 .4l-.4 -.2l-.1 -.7l.6 0l.4 0zM235.2 217.8l-.2 .4l-.4 -.3l-.3 -.3l.4 -.3l.4 .1zM230.6 214.9l.5 .7l-.5 .5l-.6 0l-.4 -.4l.4 -.4zM230.8 223.1l-.5 -.5l-.2 -.8l.8 -.2l.6 0l.6 .7l-.6 .7zM226.2 220.5l.8 -.8l.9 -.1l.1 .8l-.7 .8l-.8 0zM231.1 220.8l-.8 .3l-.9 .1l.5 -.6l.3 -.4l.8 -.2l.4 .3zM223.2 216.4l-.3 .2l-.4 -.3l.2 -.3zM222.2 218.3l.2 -.4l.6 0l-.2 .4l-.4 .5zM243.7 245l-.7 .1l-.4 -.4l0 -.4l.6 0l.6 .2l.5 .2l-.2 .2zM250.5 250.4l-.6 .6l-.5 .5l-.6 -.2l.2 -.6l.1 -.8l.8 .1zM246.8 250.2l-.2 .4l-.5 .6l-.7 .1l.4 -.7l-.2 -.4l.6 -.2l.3 -.1l.3 0zM245.4 248.6l.7 .4l-.4 .7l-.6 .4l-.5 -.5l-.4 -.6l.6 -.3zM240.1 246.8l1 -.6l-.1 .7l-.3 .8l-.7 .2l0 -.4zM241.6 251l-.4 -1.1l0 -.9l.5 1.1zM213.3 260.2l.4 -.6l.3 -.2l.2 .4l-.4 1l-.6 .3zM215.7 262.9l.2 .5l-1.3 .5l-.8 -.2l.2 -.5l.9 -.2zM218.1 265.8l.6 -.2l.2 .2l0 .3l-.1 .4l-.5 .3l-.6 -.1l0 -.4l.1 -.3zM213.1 265.5l.1 .2l-.1 .3l-.3 .1l-.2 -.3l.2 -.4zM209.8 267.4l.2 -.4l.8 -.4l1 0l-.3 .4l-.7 .2zM194.7 227.7l.3 .2l.2 .4l-.1 .7l-.6 0l-.3 -.6l-.1 -.7zM199.1 229.2l.4 .2l-.1 .5l-.2 .4l-.5 .4l-.4 -.5l.3 -.6l.1 -.3zM197.9 228.8l-.8 -.3l.4 -.3zM197.1 233.4l0 -.2l-.1 -.2l.2 -.3l.4 -.2l.6 -.2l.1 .2l-.2 .5l-.5 .2zM195.2 235.2l-.9 0l.3 -.4l.4 -.2l.9 -.4l0 .6l.2 .5zM194.6 233.3l.6 .1l.6 .2l-.3 .3l-.1 .5l-.8 -.1l-.1 -.4l-.4 -.4zM193.2 230.5l.1 .6l-.4 .4l-.4 -.5l-.1 -.5l0 -.5l.4 -.3l.6 .2zM196.7 234.1l-.4 .3l-.6 .1l-.5 -.2l0 -.3l.2 -.2l.2 -.4l.4 .3l.7 0zM199 239.9l.7 .1l.2 .9zM204.9 238.7l-.7 -.1l-.9 -.2l.5 -.7l.2 -.9l.7 .8zM202.7 239.8l.3 -.1l0 .7l-.4 -.1zM200.9 242.1l.6 .3l.6 .2l0 .3l-.1 .2l-.2 .4l-.7 -.6l-.2 -.3l-.5 -.4zM196.5 240l-.3 -.2l.3 -.5l.2 .4zM145.3 236.9l-.3 .1l-.1 -.6l.1 -.2l.2 .1zM146.4 237.6l.7 -.2l.5 -.2l.5 .7l-.7 .3l-.7 .2zM150.5 238.2l-.3 .3l-.3 .1l-.4 -.2l-.2 -.2l-.3 -.3l-.1 -.5l.6 -.1l.5 .5zM146.1 243.1l.5 -.3l1.1 .3l.8 .5l.1 .4l-.7 .1l-.8 -.3l-1 -.3zM144.4 239l.9 .2l.3 .6l-.3 .3l-.7 -.1l-.5 -.5zM144.5 240.9l-.6 0l-.4 -.2l-.4 -.4l.4 -.3l.8 .3zM143.9 241.4l.1 -.3l.4 -.1l0 .5l-.3 .1zM169.6 245.9l-.6 .1l-.4 .2l-.3 -.2l.1 -.5l.4 -.5l.5 .1l.5 .1zM168.5 246.7l.6 .5l-.8 .8l-.7 -.6zM170.4 247.5l-.1 -.7l.5 .3l.1 .6zM169 248.9l0 -.5l.7 -.1l-.2 .5zM169.4 251.5l.6 -.4l0 .5l-.9 .7zM169.4 245l-.6 .6l-.5 -.6zM163.8 247.5l-.2 -.5l.4 -.1l.6 .4l.1 .5l-.4 -.1zM211.8 218l.3 .8l-.8 -.4zM212.2 218.3l-.5 .5l-1.3 .2l-.4 -.4l.5 -.5l.9 -.5l.8 .2l1 .1zM215.4 222.2l-.3 -.5l-.3 -.5l.4 -.1l.3 -.3l.3 .6l.2 .5l-.2 .2zM212.8 222.2l.4 .6l-.5 .6l-.5 -.7l-.4 -.5l.5 -.7zM214.2 221.2l-.1 -.7l.4 0zM208.9 220.4l.2 -.5l.7 -.4l.7 .3l-.3 .6l-.8 .2zM209.1 220.7l.4 .5l-.4 .2zM232.5 215.1l.1 -.5l.5 .2l.5 .9l.4 .7l.2 .8l-.4 .1l-.7 -1l-.1 -.5zM232 223.6l.6 -.3l.8 -.1l.6 .2l-.1 .3l-.3 .1l-.4 .3l-.8 0l.2 -.3zM233.6 222.9l.5 .4l.6 .7l-.3 .3l-.8 -.7l-.7 -.4l-.1 -.7zM229 222.5l-.7 .1l.5 -1zM230.2 220.3l0 -.7l0 -.9l.7 .2l.5 .5l-.5 .5zM164.4 350.5l.4 .2l.4 .5l.3 .9l-.5 .1l-.3 -.5l-.5 -.6zM166.6 349.9l.4 .4l-.6 .2l-.7 -.7zM166 354.6l-.9 -.1l-.8 .1l-.8 -1l.4 -.5l1.1 .8zM163.6 355.9l.2 -.7l.7 -.8l.6 .1l-.1 .8l-.6 .8l-.7 .4zM157.1 357.2l-.2 -.2l.2 -.3l.2 0l.1 .2l-.2 .3zM160.5 354l0 -.5l.5 .2l-.1 .5zM159.1 351l-.7 -.3l.3 -.7l.5 -.6l.4 .5l-.2 .5zM159.1 351.2l-.8 .6l-1.2 0l-.4 -.3l0 -.5l1.3 -.1zM144.7 344.9l-1 .7l-.2 .6l-.6 0l0 -.2l-.8 0l1 -.6l.6 -.7l.1 .4zM147.7 349.1l-.3 .3l-1 .4l-.8 -.2l.2 -.4l1 -.2l1.3 -.5zM144.3 349.2l.9 .3l-.4 .5l-.5 .1l-.9 .1l-.2 -.6l.1 -.5l.6 0zM144.3 353.1l-.3 -.4l.2 -.3l.2 -.1l.2 .1l0 .4zM139.7 350.6l0 .3l-.4 .4l-.2 -.1l.4 -.6zM288.3 221.6l-.2 .7l-.6 0l-.4 -.4l.6 -.3zM281.4 226.6l-.4 .3l-.5 -.1l-.5 -.5l.6 -.4l.5 0l.4 .3zM278.2 222.2l.2 -.4l.4 0l-.1 .3l-.2 .6l-.6 .1zM278.6 226.4l-.3 .3l-.4 0l0 -.2l.6 -.4zM287.1 222.7l-.1 -.1l.1 -.2l.2 0l0 .2zM282.3 224.3l-.4 -.8l.3 -.5l.4 .7l.5 .8l-.4 .2zM278.3 227.7l-.4 -.3l.2 -.3l.1 -.4l.5 .1l.3 .5l.1 .3l-.1 .5l-.5 -.1zM277 227.6l.6 -.1l.3 .3l-.6 .2zM272.5 232.2l.1 .6l-.2 .1l-.2 -.9zM269.1 227.6l.1 .8l-.7 -.1l-.6 .1l-.1 -.7l.1 -.4l.4 .1zM268.7 231.3l.1 -.2l.4 0l.2 .5l-.3 .1l-.4 -.1zM267.7 235.2l-.3 .2l-.9 -.9zM265.3 234.1l.1 .4l-.2 .2l-.3 -.1l-.1 -.4l.2 -.1zM265.5 233.8l.2 .7l-.3 -.2l-.2 -.1l-.2 -.6l.2 .1zM264.5 237.1l.1 .4l-.4 .2l-.2 0l0 -.3l.2 -.3zM262.1 241l.4 -.2l.4 .4l-.5 .8l-.3 .2l-.2 -.6zM262.8 244.2l0 .3l-.8 -.3zM258.2 248l.5 .1l0 .4l0 .2l-.4 .3l-.3 -.5zM258 246.4l-.5 0l.2 -.5zM258.9 248.5l-.3 .4l-.6 -.3l0 -.5l.4 0zM255.3 251.4l0 .6l.1 .7l-.6 -.3l-.6 -.6l-.4 -.8l.5 -.2l.2 -.2l.5 0zM249.4 250.3l.3 -.2l.3 .5l-.1 .3zM250.2 251.5l-.4 -.3l.1 -.2l.2 0l.4 -.2l.6 .3l-.1 .3l-.2 .1zM248.1 256.4l.9 .1l-.7 .5l-1.3 -.2zM251.5 253.7l.5 .4l-.4 .3l-.6 .1l-.8 -.1l-.3 -.5l.5 -.2l.4 0zM249.8 260.3l-.2 .5l-.5 -.5l-.6 -.1l-.2 -.8l.6 -.4l.7 0l.1 .7zM251.4 258.6l-.5 1l-.5 -.8l.3 -1.1l.4 -1.1l.4 .9zM252 262.7l-.2 .6l-.2 .4l-.3 -.1l-.5 .2l-.2 -.5l.3 -.4l.2 -.5l.5 0zM250.7 266.6l.2 -.4l.5 0l.3 .1l.2 .2l.1 .3l0 .5l-.5 -.4l-.3 -.1zM252.8 269l.3 .7l-.4 0l-.8 -.4l-.2 -.7l-.2 -.5l.1 -.5l.8 .7zM251 268.1l-.3 .4l-.5 .6l-.1 -.5l-.4 -.2l.7 -.5l.4 0zM247.8 271.2l.5 -.5l.4 0l-.4 .6l-.4 .5l-.3 0zM248.5 273.8l.8 .6l-.3 .5l-.2 .1l-.4 -.2l-.3 -.6l-.3 -.8zM243.2 270.1l.4 -.3l.4 -.4l.1 .7l.4 .1l-.4 .2l-.1 .5l-.5 .1l-.2 -.4zM240.4 275.8l.2 .9l-.6 -.6l-.4 -.6l-.1 -.8l.3 -.4l.7 .7zM245.2 276.4l.3 .1l-.2 .2l-.3 .1l-.1 -.1zM240.5 279.5l-.2 .6l-.2 .7l-.3 -.7l-.1 -.8l.3 -.2l.3 -.6zM235.2 281.4l-.5 .1l-.6 0l-.4 -.2l-.2 -.2l.4 -.2l.7 .1l.7 -.1l-.1 .3zM235.8 281.2l-.2 .5l-.5 -.1l-.6 0l-.2 -.5l.3 -.4l.2 -.5l.5 .2l.2 .4zM235 283.9l-.2 .3l-.4 .1l-.5 -.2l.3 -.4l.1 -.3l.4 -.3l.4 .3zM233 285.3l.7 -.5l.1 .8zM234.8 286.2l-.3 .3l-.2 -.3l.3 -.5l.2 0zM231.3 286.4l-.2 .8l-.4 -.4l-.1 -.8l.1 -.5l.2 -.5l.4 .3zM231.4 288l-.4 .3l-.5 .2l.2 -.5l.4 -.2zM226.2 290.4l.2 -.5l.4 -.4l1 -.1l-.1 .6l.1 .6l-1.1 .1zM227.4 289.5l.6 .1l-.1 .3l-.6 -.1zM223.5 291.2l.1 .3l-.3 .4l-.4 -.6l-.5 -.3l0 -.4l.4 0l.3 -.5l.5 .7zM223.7 291l.4 -.7l.5 -.4l.7 -.5l.4 .3l-.1 .6l-.9 .2zM221.9 294.7l0 -.5l.4 -.2l.4 -.1l-.2 .7l-.4 .1zM221.7 294.3l-.1 .4l0 .3l-.2 .5l-.5 -.4l-.4 -.3l0 -.5l.2 -.6l.6 .2zM222.6 297.4l0 -.6l-.2 -.3l.6 -.5l.4 -.8l.3 0l-.1 .7l-.3 .6l-.3 .7zM219.6 294.9l-.9 .2l-.3 -.3l.4 -.4l.8 -.2l.8 0l.6 .1l-.2 .3l-.7 .2zM220 299.9l.3 -.5l.1 .5zM221.5 297.1l.1 -.6l.8 .4l.7 .5l-.9 .4l-.8 -.2zM222.9 304.8l-.4 -.4l.5 -.2zM221.4 299.9l.4 .3l-.3 .2l-.4 -.1zM219.3 306.9l.1 -.4l.4 .6zM220 304.9l-.2 .7l-.2 .6l-.5 .3l-.3 -.6l0 -.4l.1 -.6l.6 -.4zM218.6 307l-.4 0l-1 -.3l-.2 -.7l.8 .1l.6 .6zM216.2 309.2l.4 -.4l.5 -.3l.1 .2l-.1 .4l-.7 .3zM214.7 309.3l-.6 -.3l.3 -.2l.7 .4zM209.2 311.2l0 -.4l.4 -.4l0 .4zM212 310.9l.1 .1l-.1 .2l-.2 -.1l-.1 -.1l-.1 -.2zM211.3 314.9l-.5 -.8l.5 -.1l.4 .1l.1 .6l0 .6zM211.8 313.3l.2 .5l-.8 -.1l-.3 -.1l-.4 -.2l-.4 -.6l.7 -.2l.6 .4zM212 317.2l-.8 0l-.2 -1zM214.5 318.8l-.5 -.7l-.5 .1l0 -.8l0 -.7l.4 -.1l.4 -.2l.4 .8l-.3 .7zM209.7 317.1l-.3 -.6l.2 -.2l.2 .5zM207.2 319.5l-.1 .5l-.6 .3l-.3 -.3l-.1 -.4l.5 -.1zM206.9 319.4l-.3 .5l-.4 .1l-.7 .1l.4 -.5l.3 -.1zM205.2 319.2l.3 .5l.5 0l0 .6l-.7 .6l-.5 .1l-.5 .1l-.2 -.5l.7 -.6zM204.2 322.3l-.1 -.3l0 -.3l.2 -.1l.2 .7zM206.7 323.4l.8 -.7l-.2 .9l.1 .5l-.6 .3l-.3 -.2l-.4 -.3zM206.9 325.9l-.4 .5l-.4 -.3l.1 -.4l.3 0zM202.4 329.5l-.5 -.2l.4 -.4zM202.1 331l.2 .1l0 .6l-.3 .3l-.1 -.5l-.1 -.5zM203.9 329.6l.1 .1l-.3 .4l-.6 .2l.1 -.4l.4 -.4zM206 334.9l-.1 -.7l.7 .1zM203.2 340.6l-.2 -.5l.1 -.6l.5 -.4l.1 .8l-.1 .4zM205.2 339.6l-1.1 -.1l-1.2 .2l-.1 -.5l.3 -.3l.4 -.5l.9 .4l.2 .3zM201.1 339.6l-.4 .5l-.7 0l0 -.5l.2 -.3l.7 -.2zM197.4 340.3l-.2 -.4l.4 -.5l.3 .4l.3 .2l-.5 .3zM196.7 342.7l-.3 -.4l.6 -.3l.2 .6zM193.2 344.1l.5 -.2l0 .4zM192.4 343.7l0 -.9l.6 0l.4 .4l-.2 .6zM188.4 345.7l.3 .2l.2 .2l-.4 .2l-.4 -.1l-.1 -.2zM189.8 345.5l.4 .2l.2 .3l-.2 .5l-.6 .1l-.3 -.3l-.2 -.5zM184.5 343.5l.4 -.5l.5 -.5l1 -.1l-.2 .6l.2 .2l-.5 .2l-.7 .3zM181.7 348.1l-.4 .1l-.4 -.5l-.5 -.4l.4 -.2l.2 -.5l.4 .6l.2 .4zM181.6 346.7l0 .6l-.1 .9l-.7 1l-.1 -.7l0 -.4l0 -.8l.6 -.5zM182.4 349.9l-.3 -.2l.2 -.5l.3 .1l.3 .1l-.2 .3zM178.1 348.5l-.1 .4l-.4 .3l-.4 -.4l-.3 -.4l.5 -.3l.4 .1zM178.9 352l.4 -.3l.2 .5zM177.5 348.3l-.8 0l-.3 -.5l.3 -.3l.5 .2l.7 .4zM171.3 352.5l1.2 -.4l0 .7l-.8 .4zM169 354l-.6 .1l-.8 0l.4 -.5l.4 -.3l.5 .1l.4 .2zM174.3 352.6l0 .9l-.4 .2zM172.6 347.4l.3 -.2l-.1 .9l.2 .4l-.2 .8l-.3 .5l-.2 -.5l-.1 -.7l.1 -.9zM158.6 354l.8 .6l-.5 .3l-.6 -.3l0 -.4zM163.1 353.2l.8 .3l-.2 .8l-.7 -.3l-.5 -.6zM158.5 355.7l.2 -.6l.6 -.2l.3 .7l-.5 .4zM159.9 355.4l.3 .3l-.6 .9l-.3 -.5zM159.8 362.7l.6 .2l-.1 .5l-.5 -.2zM159.2 358l.2 -1l.8 .3zM161.8 360.1l.2 -.3l.2 .4l0 .3l-.4 -.1zM156.5 353.8l.5 -.4l.2 .3l-.8 .6zM36.4 300.8l-.3 -.2l0 -.4l.2 -.3l.3 .5zM41 303.3l.4 -.3l.2 .6l-.3 .8l-.4 .2l-.5 .3l.2 -.8l-.2 -.8zM36.8 301.5l.4 -.5l.4 -.1l.1 .3l-.2 .9l-.6 .1l-.5 0zM33.4 304.1l.8 -.5l.6 0l-.1 .4l-1 .4zM39.1 306.1l.8 .5l-.8 .2zM42.4 305.1l-.5 -.5l.6 -.5l.5 -.4l.1 .9l-.4 .6zM45.8 303.9l-1.1 .3l-.6 -.2l.7 -.5l.8 -.1l.5 0zM46.7 305.8l.9 0l.1 .7l-.3 .8l-.9 -.3l-.5 -.3l-.2 -.7zM47 306l.3 -.3l.4 .3l-.2 .5l-.1 .6l-.4 .2l-.2 -.4l0 -.4l0 -.3zM47.9 306.9l.9 .6l-.5 0zM50.3 305.1l.3 .2l.4 .4l-.6 .2l-.4 .4l-.1 -.5l-.3 -.3l.4 -.2zM53.5 303.7l-.2 .4l-.3 .3l-.3 -.1l.5 -.5zM54.9 299l-.4 .3l-.1 -.1l.2 -.4l.3 -.1zM52.6 300.2l.2 .4l-.2 .4l-1.1 .3l-.8 -.3l.7 -.6zM58.6 297.6l-.1 -.5l-.1 -.6l.4 -.2l.3 .3l.1 .3l.3 .4l-.3 .2l-.2 .2zM58 302.5l-.5 .2l-.4 .1l-.5 0l-.4 -.4l.4 -.5l.5 .1l.4 -.3l.3 .3zM63.1 295.2l-.3 0l-.5 -.5l-.4 -.7l.1 -.5l.6 .5l.6 .4l-.2 .4zM60 296.4l-.6 .3l.2 -.4zM60.5 295.8l-.2 -.6l.2 -.1l.2 0l0 .7zM61.7 293.3l.3 -.3l.6 .2l0 .4l-.4 .3zM64.3 294.6l-.2 -.4l.3 -.6l.7 -.4l.1 .8l-.5 .6zM69 289.9l.3 .1l.2 .3l-.5 .2l-.5 -.3zM67.4 296.6l-.2 .4l-.4 -.1l-.2 -.1l-.1 -.5l.6 -.1zM73.7 291.5l-1.2 .2l-1.4 .1l.9 -.6l.3 -.3l1.1 -.2l.8 .2zM70.1 299.3l-.6 -.1l-.8 -.2l.5 -.7l.5 -.2l.5 0l.4 .5zM71.1 293.9l-.3 0l-.1 -.4l-.3 -.2l.2 -.5l.3 .1l.2 0l.2 .3l0 .4zM66.9 299.1l-.2 .3l-.2 -.2l.1 -.3zM69.7 299.9l.1 -.6l.2 -.4l.3 -.4l.3 .4l.1 .3l-.1 .3l-.3 .5zM66.9 303.7l-.7 .1l-.4 -.5l.6 -.9l.6 -.5l.5 .2l-.4 .8zM65.4 303.1l.3 -.3l.1 .5l-.3 .2l-.2 -.2zM62.8 304.5l.3 -.3l.2 .3zM59.7 304l.5 -.1l.1 .4l-.4 .1zM59.8 307.6l-.7 .5l-.8 -.3l1.2 -.4zM62 308.6l-.6 .5l-.4 .2l-.4 0l-.3 -.2l.1 -.4l.4 -.4l.8 -.3zM59.3 309.5l-.3 -.4l.1 -.3l.4 .3l.2 .3zM60.5 310.5l-.6 -.4l1 -.1l.5 .4l.2 .4l-.7 -.1zM63 315.5l-.5 0l.5 -.3l.5 -.2l.1 .2zM65.2 312.7l-.1 .6l-1 .3l0 -.5zM64.3 314.9l-.1 .4l-.8 -.1zM68.5 318.3l.5 .5l-.2 .3l-.5 .1l-.7 -.7l-.1 -.7zM69.9 324.2l-.8 .2l-.9 0l-.1 -.4l-.4 -.4l.9 -.2l.7 .4zM70.7 327.5l-.2 .6l.2 .6l-.5 -.1l-.4 .3l-.4 -.6l.4 -.3l0 -.4l.4 -.3zM73.3 327.5l-.6 0l.3 -.6zM75.9 328.8l-.2 -.2l-.3 -.3l.4 -.2l.4 .1l-.2 .4zM73.5 331.6l-.3 .5l-.1 -.7zM75.7 329.7l.3 -.1l.3 .1l.4 .5l.5 .5l.3 .9l-.4 .1l-.6 -.9l-.4 -.3zM76.2 328.8l.3 -.1l.6 -.2l0 .5l.1 .4l-.5 .4l-.7 -.3l.1 -.5zM83.3 327.9l.4 .8l.1 .6l0 .8l-.7 -.8l-.3 -.6l-.5 -.9l.4 0zM81.7 330.5l0 .6l-.4 -.1l.1 -.4zM84.6 334.6l.5 .2l-.1 .7l-.7 -.7zM83.5 336.1l-.4 -.2l-.1 -.5l-.4 -.7l.4 -1.1l.4 -.3l.3 .7l-.2 .9zM83.6 336l.2 .1l.1 .3l-.8 .4l-.8 0l0 -.2l-.4 -.3l1 -.3zM83.8 339.1l-.3 -.8l.8 .1l.4 .6zM90.4 337.3l-.5 -.5l.4 -.2zM86.5 336.6l0 -.5l0 -.7l.7 .4l.3 .9l-.4 .4zM92 337.8l-.6 .2l0 -.7zM92.2 336.9l0 .2l-.4 0l-.2 -.2zM94.4 334.7l-.6 0l.1 -.5l.6 .1zM96.2 334.5l.5 0l.5 .2l.3 .9l-.9 -.2l-.7 -.2zM97.2 333.6l.4 -.9l.3 .2zM100.4 335.6l.3 .2l-.1 .3l-.3 0l-.3 -.3zM104.3 332.6l.8 .3l-.5 .5l-1 -.5zM101.4 333.6l-.4 -.8l-.2 -.6l.4 -.2l.7 .6l0 .8zM107.8 331.8l-1 -.1l-.9 -.7l-.4 -.7l.4 -.2l.6 .2l.8 .2l.7 .8zM105.1 330.5l.2 .8l-1.1 -.2zM107.9 326.1l-.8 -.2l-.6 -.4l.3 -.8l.9 -.5l.6 .9zM112.1 325.7l.5 -.8l.4 -.5l.6 0l-.5 .9l-.6 .9zM113.4 323.9l-.4 0l.2 -.5l.4 -.1l.2 .1l.2 .3zM117.5 322.8l.3 -.3l.6 -.4l.6 .5l-.6 .5l-.1 .6l-.8 .3l-.1 -.8zM116.4 324l-.3 .4l-.3 .3l-.3 -.5l.2 -.7l.4 .1zM118.7 324.5l.4 .2l.1 .3l-.5 .2l-.3 0l-.5 -.1l.3 -.4zM123.1 324.6l.7 .4l.5 .3l-.2 .4l-.8 -.1l-.5 -.6zM126 327.8l.1 -.2l.3 -.3l.3 .4l.2 .5l-.4 .2l-.2 .2l-.3 -.3l-.4 -.2zM126.6 325.1l.5 .5l-.1 .7l-.4 .6l-.6 -.5l-.1 -.5l-.3 -.6l.6 0zM127.6 331.1l-.4 .5l.1 -.8l.4 -.4zM121.8 332.3l-.7 .2l-.3 0l.2 -.5l.6 0zM122.9 334.3l.5 .5l.8 .3l-.2 .2l-.2 .2l-.4 -.1l-.3 -.3l-.5 -.4l-.3 -.4zM122 331.2l.1 -.7l.4 -.3l.6 .7l.3 .4l.5 .7l-.8 -.3l-.4 -.2zM119.2 335.8l.1 -.4l.9 .4l.6 .3l0 .3l-.3 .2l-.8 -.3zM121 339.5l-.2 -.5l.5 -.1l.3 .2l.2 .4l-.2 .3l-.4 .3zM119.2 342.2l.3 .4l0 .4l-.6 .1l-.3 -.4l0 -.5zM115.1 339.9l-.1 -.6l0 -.7l.6 -.9l0 .8l-.2 .6zM117.3 345.3l.9 .2l.3 .5l-.2 .2l-.6 .1l-.8 -.5l-.4 -.4l-.4 -.4l.6 0zM118 346.8l.1 -.3l.5 -.1l.3 0l-.5 .3l-.2 .2zM115.1 347.3l.5 -.5l.8 .1l0 .7l-.4 .4l-.7 .4l-.6 -.6zM118.3 349.7l-.4 1l-.5 -.3l.1 -.7l.4 -.6zM118 349.8l-.5 .2l-.5 .2l-.5 -.1l.4 -.6l.3 -.7l.7 0l.4 .4zM124.8 349.5l-.1 .5l-1 .4l-.4 .2l-.4 0l-.7 0l.3 -.4l.4 -.5l1 -.3zM122 351.1l-.6 .1l-.2 -.3l.1 -.3l.5 .2zM122.2 351.3l.2 -.4l.5 .2l.5 .2l.1 .6l-.4 .2l-.2 .4l-.5 -.1l0 -.6zM127 351.5l-.5 0l-.3 -.1l.1 -.2l.2 -.2l.3 .3zM122.8 355.1l.3 -.3l.3 0l-.2 .6l-.6 .5zM127.4 353.1l.4 .3l0 .5l-.3 .5l-.4 -.1l-.2 -.3l0 -.6zM134 360.9l-.1 -.6l.5 .2l.4 .6l-.1 .3l-.3 .2zM131.4 366.6l-.1 -.8l.6 .6l.4 .3l-.2 .5l-.5 .1zM135.4 358.7l-.4 .2l0 -.5l.2 -.6l.2 .3zM131.4 364.6l-.4 -.3l.5 -.4l.5 .2l.5 -.1l.4 .4l-.3 .4l-.6 .1l-.3 -.2zM131.8 362l.1 -.8l.6 .9l.3 .7l-.4 .4l-.3 -.6zM128.7 358.1l-.2 0l-.1 -.5l.1 -.6l.3 .3l.1 .7zM28.5 309.6l-.1 -.3l.3 -.3l.1 .2l.1 .2l-.2 .3zM33.5 300.5l-.2 -.4l.3 -.3l.8 .2l.2 .4l-.5 .1zM28.1 313.2l-.2 -.4l.3 -.3l.3 .1l.2 .2l.5 .5l-.6 .4zM28.9 312.2l.7 -.3l.4 -.2l.4 .2l.5 .3l-.2 .4l-.4 .5l-.6 0l-.5 -.3zM32.3 305.1l.7 .1l.4 .6l.4 .8l-.7 -.2l-.4 -.1l-.2 -.5zM23.4 319l0 -.5l.3 -.4l.5 -.6l-.1 .5l-.1 .6zM29.7 309.1l.2 .7l-.1 .7l-.3 -.1l-.4 -.2l-.3 -.9l.4 -.3l.2 -.8zM30.1 309.5l.2 -.6l.7 -.4l.4 .2l.1 .5l-.4 .6l-.8 .5l-.4 -.3zM28.6 316.9l0 .3l0 .2l-.2 .1l-.2 -.2l0 -.3zM32 307.1l-1.3 .7l.9 -1.1zM32.1 302.5l-.3 .7l-.7 -.1l-.1 -.5l0 -.7l.6 .2zM85.9 291.2l.9 -.3l-.4 .6l-.6 .3zM86.1 294.2l-.2 -.6l-.2 -.4l.2 -.3l.2 .3l.3 .5zM91.3 292.8l-.4 -.3l-.7 -.6l0 -.6l.6 .2l.4 .2l.2 .5l.1 .4zM92.6 292.3l-.5 -.2l-.1 -.5l.4 0l.4 .2zM93.3 296.8l.2 -.2l.5 .1l.2 .6l-.6 .2l-.3 -.3zM97.7 294.6l-.7 -.4l-.2 -.3l.1 -.4l.8 -.2l.6 .7zM95.4 298l.4 .3l0 .7l-.4 0l-.3 .1l-.6 -.3l.3 -.7l.3 -.2zM94.6 300l.4 -.2l.7 -.5l.1 .5l-.1 .3l-.5 .3l-.9 .2zM91.6 301l.2 -.2l.4 .3l.6 .2l-.1 .4l.2 .6l-.5 -.1l-.6 -.3l-.3 -.6zM92.9 300l.7 -.1l-.2 .5l-.1 .3l-.4 0l-.3 -.2l-.6 -.3l.4 -.3zM90.7 301.4l.3 -.4l.6 .6l-.6 .6zM87 298.8l.1 -.4l.2 -.1l.4 -.2l-.2 .4l-.1 .2zM87.5 295.8l-.2 .2l-.3 -.9zM90.8 317.6l-.5 1l-.9 1l-.4 -.6l.8 -1.1l1 -1.3zM94.5 315.8l-.2 .5l-.6 0l-.4 -.4l.1 -.5l.4 -.2l.4 .2zM94.2 321.3l-.5 -.6l.6 -.7l.5 .2zM92.5 322.9l.8 .5l.6 .9l-.5 .3l-1 -.7l-.5 -.8zM93 323.6l.1 .4l.1 .4l-.3 -.1l-.3 -.3l.1 -.4zM91.2 321.9l-.4 .6l-.7 .2l-.5 .3l0 -.3l.3 -.3l.1 -.6l.4 .2l.5 -.2zM87.4 319.5l.2 .5l-.4 -.1l-.2 -.4zM116.9 316.4l.2 -.8l.7 -.4l.6 -.7l-.1 .7l.2 .4l-.7 .8l-.7 .5zM121.8 312.7l.5 .7l.2 .5l-.7 -.3l-.5 -.2l-.5 -.7l.4 -.1zM122.1 317.4l-.1 -.5l.4 -.1l.6 .3l-.2 .6l-.3 .2zM118.4 316.8l.5 0l-.3 .6l-.5 0l-.2 -.2l.1 -.4zM116.6 317.5l.2 -.1l.2 .3l-.1 .5l-.4 -.3zM115.5 315.7l-.1 .3l-.3 .2l-.3 0l-.3 -.2l0 -.4l0 -.6l.6 -.1l.5 .4zM64.6 109.7l-.4 .2l-.6 -.4l.1 -.6l.7 0l.5 .5zM60.6 108.3l-.3 -.4l.3 -.6l.6 0l.1 .4l-.2 .4zM66 107.6l.6 .5l-.8 .3l-.6 .1l-.4 -.6l.2 -.7l.6 .1zM66.3 106.2l-.4 .3l-.1 -.2l.5 -.5zM70.2 105.3l.5 0l.5 .3l.2 .5l0 .4l-.6 .1l-.6 -.3l-.3 -.5l-.2 -.5zM69.6 108.7l-.2 -.4l.2 -.2l.5 0l.3 .5l-.4 .5zM76.1 105.5l.1 -.6l.6 -.2l.2 .2l-.6 .7zM75.7 105.3l-.2 -.9l.7 .7zM80.3 104.4l.1 -.5l.3 -.4l.3 .5l.2 .5l-.3 .8l-.6 -.3zM79.5 101.9l-.2 .4l-.1 .4l-.6 0l-.7 -.3l-.5 -.5l.7 -.2l.3 -.2l.7 -.1zM84.4 103.9l-.3 .4l-.2 .4l-.7 .2l-.1 -.1l-.1 -.2l.1 -.3l.6 -.2zM86.4 107.7l-.9 .2l.4 -.5l.5 -.2l.8 -.2l-.4 .4zM83.7 106.9l.2 -.3l.2 .1l-.2 .7l-.2 .3l-.3 -.2zM88.2 108.2l-.2 0l0 -.3l.4 -.7l.6 0l0 .3l-.2 .6zM91.6 111l-.7 .4l0 -.5zM91.3 111.9l.3 .5l-.3 0l-.4 -.2l-.4 -.5l.1 -.4zM90.8 113.1l.1 .3l.2 .3l-.3 -.1l-.2 0l-.2 -.4zM92.4 114.4l-.2 -.7l.3 0l.2 .1l.4 .1l.4 .8l-.2 .5l-.2 .2l-.4 -.5zM94.6 116l.2 .3l.2 .3l-.2 .9l-.7 .7l-.2 -.5l-.4 0l0 -.7l.7 -.5zM94.6 117.1l-.6 -.3l.1 -.5l.7 -.3l.6 .5l-.4 .5zM93.4 120.7l-.5 -1.3l-.4 -1.3l.5 .1l.3 .5l.4 1zM93.1 121.4l.2 -1.1l.4 -.5l.3 .4l-.3 .9zM89.7 122l.2 -.7l.5 -.5l.4 .5l.4 .4l-.4 .5l-.6 .1zM87.7 127.3l-.8 -.2l-.7 -.3l.3 -.8l.7 -.2l.5 .5zM90.2 127.1l-.3 .3l-.5 0l.4 -.5l.5 -.4zM85.4 126.2l-.7 -.6l.5 -.1l.7 .2l.8 .6l.1 .4l.3 .6l-.9 -.5l-.6 -.2zM87.5 125.8l.3 .6l-.2 .4l-.6 .2l-.4 -.8l.5 -.3zM80.4 128.9l.4 -.2l.3 -.1l.2 .6l.1 .8l-.5 -.3l-.2 -.2zM82.1 128.9l0 .5l-.2 .4l-.3 -.4l-.3 -.2l-.3 -.7l.1 -.7l.5 .4l.3 -.1zM79.4 128.2l-.2 .4l-.8 .1l-.1 -.3l.6 -.3zM77.2 131.4l-.1 -.7l.6 0l.3 .4l.2 .3l.5 .7l-.6 0l-.4 0l-.7 0zM71.1 130.9l.5 -.5l.4 0l.4 0l0 .4l0 .5l-.5 0l-.4 0zM70.8 127.2l.4 -.3l.7 .4l.6 .4l-.7 .1l-.9 -.1zM74.2 129.7l.1 -.8l.4 .1l.5 .2l-.5 .7l-.2 .5l-.3 -.2zM72.6 127.1l0 .2l-.5 .4l-.4 .1l.3 -.6l.7 -.5zM71.3 123.2l-.1 .3l-.2 .3l-.4 -.3l.2 -.4zM70.2 121.5l.3 -.4l.7 .5l.2 .6l0 .6l-.7 -.3l-.2 -.5zM74.9 120.1l.2 -.1l.4 0l.1 .4l-.2 .3l-.5 -.2zM71.8 116.8l.6 -.8l.3 .6l-.7 .9zM70.4 117.2l-.2 -.5l1 .1zM73.2 115.4l.5 -.5l.3 .7l-.1 .4l-.3 .6l-.7 -.1l.2 -.7zM69.2 116.2l-.5 0l-.6 -.3l-.8 -.4l-.5 -.8l.8 .1l.4 -.1l.8 .4l.2 .6zM67.9 116.2l-.5 -.1l-.4 .1l0 -.4l-.2 -.4l.4 -.1l.4 -.2l.2 .4l0 .3zM67 114.2l0 -.5l.4 0l.1 .4l.1 .6l-.4 0zM64.2 114.2l-.3 -.5l0 -.5l.5 -.3l.5 .5l0 .7zM58.1 126.8l-.6 0l-.1 -.4l.4 .1zM55.1 124.7l.4 -.6l.3 -.1l.1 .5l-.5 .5zM60.9 129.2l0 .5l.3 .6l-.4 .3l-.4 -.4l-.2 -.4l-.2 -.5l.2 -.3l.4 -.2zM60.2 130.2l.1 -.5l.2 .5zM61.2 127.9l.3 -.7l.4 0l.4 .2l-.3 .8l-.5 .3l-.2 -.2zM62.4 127.6l-.5 -.3l.6 -.2l.5 0l.4 0l.6 .3l-.6 .3l-.5 -.1zM66.1 125.8l.1 -.5l.3 -.1l.4 -.2l0 .7l-.4 .4zM64.7 130.5l.4 .2l0 .5l-.6 .1zM62.8 130.9l.2 .3l.1 .4l0 .9l-.5 0l-.4 0l-.1 -.8l.3 -.9zM60.3 134.5l-.7 -.3l-.2 -.3l-.2 -.3l.2 -.4l.7 .3l.3 .5zM59.5 133.7l-.4 -.2l-.1 -.9l.6 .5zM54.1 130.2l-.2 .4l-.3 .5l-.3 -.3l-.6 0l.3 -.8l.6 -.4l.5 .1zM57.2 129.9l.2 -.5l.5 -.2l.5 .3l.3 .3l-.1 .5l-.3 .5l-.6 0l-.2 -.5zM72.7 134l.4 .2l.1 .8l-.3 1l-.6 .5l-.2 -1.3zM75.3 134.9l.2 .7l-.7 0l-.4 -.7zM74.2 138.6l-.1 .5l-.3 .3l-.1 -.2l.2 -.4l.1 -.3zM71.6 137.9l-.2 .5l-.3 -.4l-.2 -.5l.4 -.1zM73.7 136.5l.2 .5l-.3 .5l-.1 -.6l0 -.4zM82.5 135l-.4 .1l.5 -1.1zM82.9 139.4l-.2 -.9l.2 -.8l.5 1l.3 .6l-.2 .7zM80.8 141.5l.1 .8l-.5 .5l-.2 -.1l-.3 -.1l.1 -.5l.3 -.8zM81 142.4l.4 -.4l.4 .6l-.3 .4zM82 138.6l-.4 -.3l-.8 -.3l.4 -.6l.6 -.1l.8 -.2l.3 .8l-.1 .7zM63.9 142.1l.1 .5l-.9 .1l-1.3 -.4l0 -.6l1.2 .2zM67.1 146.8l-.5 -.6l1 -.4l.2 .3zM66.1 143.6l-.5 0l.2 -.5l.3 -.3l.1 .5zM62.6 148.4l.6 -.4l-.1 .6zM61.8 146.5l.1 -.3l.3 -.1l.4 .1l.3 .2l-.5 .1zM103.6 91.5l-.4 -.5l.1 -.3l.4 .3l.1 .3zM105.5 90l-.2 .4l-.4 .1l-.3 -.1l-.1 -.3l.4 -.4zM111.2 88.6l-.4 .6l-.6 -.1l.2 -.8zM107.8 89.9l.5 -.3l.2 .4l-.2 .3l-.2 .4l-.5 .2l0 -.6l0 -.3zM109.9 89.5l.3 .4l-.1 .1l-.2 -.1l-.2 -.3zM112.8 89.9l-.3 .4l-.3 0l-.2 -.4l.4 -.3zM112.5 92.2l.4 .5l-.6 .6l-.7 -.2l-.5 -.1l-.2 -.6l.9 -.1zM112.5 93.8l-.5 .3l-.4 -.4l.2 -.4l.3 .1zM106.7 95.8l1.1 .4l.4 .5l.2 .5l-.6 0l-1.2 -.4l-.7 -.7zM108.5 96.7l-.5 .5l-.4 -.2l.2 -.5l1 -.4zM103.3 97.5l-.5 -.3l-.5 -.5l.8 -.1l.6 .1l.1 .6zM102.7 93.1l-.6 -.9l.4 -.4l.4 -.1l.7 .5l-.1 .8zM124.3 94.2l.5 .6l-.1 .3zM127.1 96.7l-.6 .7l-.4 .2l-.5 .3l-.1 -.3l-.4 -.1l.3 -.6l.6 -.5l.8 -.1zM129.1 94.7l-.4 .1l-.1 -.2l.2 -.4zM128.4 101.8l-.6 -.3l-.1 -.7l.5 .1l.4 .3l.2 .6zM124.5 101.2l.5 .2l0 .5l-.6 .2l-.3 -.5l-.1 -.3zM124.2 97.9l0 .9l-.6 .2l-.4 -.7l-.1 -.5l.3 -.5zM122.3 97.8l.4 .5l-1.1 .5l0 -.5zM124.5 105.1l-.2 -.1l0 -.3l.1 -.3l.2 .2l0 .4zM127.6 105.1l-.3 .6l-.4 .1l.1 -.6l-.1 -.5l.4 -.3l.3 -.2l.3 .2zM123.3 108.5l-.9 .1l-.2 -.3l.4 -.2l1.1 -.4l.2 .5zM124.3 111.8l-.6 0l.5 -.7l.7 -.6l.6 .1l-.7 .7zM122.6 106.1l-.3 .3l-.3 -.5l.2 -.4l0 -.6l.4 .4l.4 .2l-.3 .4zM69.6 165.8l-.4 .3l-.4 -.1l-.5 .1l-.3 -.6l.1 -.7l.7 .3l.5 .1zM73.4 162l-.4 .9l-.2 .3l-.4 .2l.1 -.9l.1 -1.3l.4 .4zM73.8 166.1l0 -.8l.3 .6l.2 .6l-.3 .2zM71.9 171l-.2 -.5l.1 -.7l.3 .2l.1 .6zM68.6 171.4l.4 -.6l.1 .9zM68.1 169.9l.1 -.4l.3 .1l.4 0l0 .5l.2 .6l-.4 -.1l-.2 -.3zM64.9 166.6l.4 .3l.2 .6l-.3 -.1l-.3 -.1l0 -.4zM77.5 153l1.2 .1l-1 .4l-.5 -.1zM80.1 159.1l-.5 -.7l.2 -.7l.5 -.3l.3 .8l.1 .9zM78 159.6l.8 -.4l.6 -.2l.2 .2l-.5 .5l-.6 .1l-.3 0zM77.4 156.7l.7 -.1l.5 -.2l.5 .5l-.2 .5l-.3 .5l-.7 .1l-.1 -.7zM76.9 158.5l-.5 .4l0 -.5l.4 -.4zM113.3 167l.6 -.8l.7 .4l.3 .4l-.3 .9l-1.1 -.1zM113.4 168.9l-.4 -.2l-.2 -.6l.5 -.3l.6 -.3l.7 .4l-.4 .9zM112.7 165.5l.4 0l.3 .2l-.4 .5l-.3 -.3zM119.4 168.6l-.1 .5l-.3 .5l-.5 -.2l-.1 -.3l0 -.3l.4 -.2zM115 171.9l-.3 .1l-.7 -.4l.4 -.2zM116.3 171.3l.2 -.8l.6 -.7l.4 -.2l.2 .2l0 .6l-.6 .3zM112 169.7l.3 .4l0 .5l-.5 -.1l-.2 -.3l-.1 -.6zM197.4 121.1l0 .3l-.4 -.1zM196.3 122.4l-.6 .9l-.5 0l-.5 -.1l.7 -.8l.8 -.4zM201 121.7l-.5 -.3l-.2 -.5l.2 -.4l.4 .5zM197.5 118.9l0 -.4l.8 .1l.2 .4l-.7 .3zM201.6 117.5l.1 -.3l.7 -.2l.4 .1l.4 .3l-.6 .3l-.6 0l-.6 .2zM203.5 117.8l.9 -.8l-.2 .7zM207 115.4l.4 -.8l.1 .6zM210.2 113.9l.4 -.3l.5 .5l.2 .7l0 .6l-.5 -.2l-.2 -.4zM210.4 116.4l-.3 -.6l-.4 -.8l.7 -.3l.4 .8l.2 .6zM214.9 117.5l.4 0l-.5 .6l-.5 .7l-.6 .2l.3 -.8l.5 -.5zM214.6 118.3l.3 .1l.1 .7zM217.6 116.4l0 .5l-.4 .5l-.5 0l.3 -.6zM218.6 115.4l.1 -.4l.3 -.1l.1 .7l-.2 0zM221.6 112.4l.2 .4l-.8 -.1l-.9 0l-.5 -.5l.9 -.1l.3 -.2l.5 .3zM224.4 113.9l-.3 0l-.3 -.2l.2 -.4l.3 -.3l.3 .4zM228.2 115.9l-.4 -.3l.3 -.4l.6 .2l-.1 .4zM227.4 118l.5 .1l-.2 .3l-.1 .4l-.5 0l-.2 -.2l-.1 -.4zM230.3 119.6l-.8 0l-.3 -.4l.5 -.3l.8 .3zM227.5 120.4l.4 -.4l.4 .4l-.2 .8l-.4 0l-.3 -.1zM228.5 124.7l.5 .4l-.5 .6l-.2 .6l-.6 .1l-.1 -.8l.3 -.4l.1 -.4zM227.7 125l.2 -.2l.2 -.2l.9 .2l-.2 .3l-.5 .1zM226.4 127.7l-.2 -.3l.4 -.5l.6 .4zM223.8 129.4l-.8 -.3l.5 -.2l.7 .1zM227.4 128.8l.2 .7l-.6 .3l-.3 -.5l0 -.6l.5 -.6zM229.4 134.1l-.7 -.4l.1 -.8l.3 -.7l.9 .3l.3 .7l-.2 .7zM223.7 130.7l.1 .4l-.5 .1l0 -.5zM224.8 130.7l-.2 .3l-.1 -.5zM220 127.9l.5 .2l.4 .5l.2 .6l-.5 -.1l-.6 -.7zM222.9 130l-.7 .8l-.5 0l.6 -.8zM216.3 129.7l.2 -1l.8 1.4zM217.3 136.1l-.1 -.3l0 -.3l.8 -.1l.7 .3l.4 .4l-.9 .1zM217.3 134.2l.8 .3l-.2 .5l-.8 -.1zM219.1 138.8l-.2 -.4l.3 -.2l.2 .2l.1 .4zM216.2 139.8l0 .4l0 .2l-.6 -.3l-.6 -.3l.4 -.1zM217.3 143.2l-1 .1l-.2 -.5l-.3 -.1l.4 -.2l.4 -.2l.8 .1l-.3 .3zM217 144l.1 .4l-.3 .1l-.6 -.7l.4 .1zM211.8 145.3l-.1 .5l-.5 -.1l.1 -.5zM212.2 149l.5 .2l-.3 .4l-.4 -.1zM212.5 149.8l.3 .4l-.4 .1l-.3 -.1l.2 -.3zM213.2 156.2l-.3 -.7l.9 .1l.4 .2l.5 .5l-.8 .3l-.8 .3zM209.8 160.1l-.6 -.3l.6 -.4l.3 -.2l.5 .1l.1 .2l.6 .4l-.5 .2l-.5 .3zM207.7 155.9l.4 .1l-.3 .4l-.7 -.1zM207.1 149.7l.6 .3l-.2 .3l-.6 -.2l-.3 -.5zM208 153.5l1 -.2l.9 -.3l0 .4l.3 .4l-.8 .4l-.9 0l.1 -.4zM206.8 148l-.2 .6l-.6 .1zM204.9 148.3l-.1 .5l-.7 -.2l-.6 -.1l-.1 -.5l-.1 -.5l.6 .1l.4 -.2l.7 .3zM203.8 142.6l.7 .4l.3 1l-.5 .1l-.4 -.8zM205.2 139.9l-.2 -.2l.1 -.5l.6 -.4l.1 .5l.3 .2l-.3 .3l-.3 .4zM206.5 135.3l.2 -.4l.2 .4l0 .3l-.2 .9l-.5 -.4zM205.3 132.6l0 .4l-.6 .1l-.4 -.1l.5 -.3zM204.7 131.8l-.2 .6l-.3 .1l-.3 -.1l.3 -.7l.3 -.5l.1 .3zM202.6 134.2l.5 0l-.2 .6zM203.1 127.5l.2 .4l-.2 .4l-.3 -.1l-.2 -.3l.2 -.2zM198.4 131.1l.5 -1l.5 .8zM199.1 126.7l-.5 -.1l.3 -.5zM197.9 125l-.2 .8l-.7 -.2l-.2 -.6l.3 -.6l.5 .2zM194.1 126.9l.2 0l0 .4l-.4 -.2zM225.5 115.7l-.1 .1l-.2 -.3l-.1 -.3l.3 -.1l.1 .4zM229 114.7l0 .6l-.5 -.1zM230.3 117.6l.2 -.2l.3 .3l.2 .5l-.3 .1l-.2 -.1zM231 119.3l-.2 .6l-.3 .2l-.2 -.1l0 -.3l.3 -.4l.4 -1l.3 .3zM234.8 123.7l.3 .8l.2 .7l-.3 .4l-.4 .2l-.1 -.9l0 -.6zM237 122.6l.2 .4l-.5 -.2l-.5 -.3l-.3 -.6l.5 0zM233.2 120l.1 .3l-.4 .1zM236.7 123.3l-.4 .6l-.1 -.7l.5 -.4zM239 125.2l-.5 .7l-.4 -.5l.5 -.5zM242.3 127l.3 .2l-.1 .5l-.2 .4l-.2 -.3l-.1 -.4zM242.2 126.7l-.1 .8l-.7 0l-.7 -.5l0 -.8l.5 -.7l.8 0l.5 .6zM249.3 128.8l0 .5l-.4 -.3l-.4 0l.1 -.5l.1 -.2l.3 -.1l.3 .1zM249.4 126.8l0 .3l-.7 .1l-.8 -.3l.6 -.1zM250.6 132l-.6 .3l-.1 -.4l.6 -.3l.2 -.4l.3 .1l.5 0l-.2 .5l-.4 .2zM246.9 129.4l.2 .2l-.1 .4l-.5 .4l-.4 -.5l.4 -.5zM244.4 127.1l.4 .2l.3 .4l.2 .4l-.1 .5l-.2 .3l-.3 -.2l-.2 -.5l-.3 -.6zM241.3 117l-.3 .2l-.6 -.4l.3 -.4l.3 -.6l.5 .8zM242.3 118.5l-.5 .1l-.4 -.3l.3 -.4l.4 -.3l.4 .4zM247.4 119.5l-.4 -.5l.3 -.1zM249.1 128.3l-.5 .1l-.5 .1l.2 -.8l.2 -.7l.4 .3zM250.4 127.1l1.2 -.3l.2 .3l-.5 .2zM237.5 112.1l-.7 0l.6 -.3l.4 -.4l.5 .2l-.2 .3l-.1 .5zM249.8 129.9l-.2 -.4l.6 0l.3 .2l-.1 .3l-.3 .3zM249.6 120.2l.2 .6l-1 -.3l-.9 -.2l.3 -.4l.3 -.1l.5 -.4l.8 .4zM251.3 128.4l.5 -.5l.5 -.1l-.1 .3l-.4 .4zM248.2 128.7l.1 -.3l.5 .2l-.2 .7l-.4 .3zM249.2 129l-.3 -.2l-.2 -.1l-.4 -.3l.2 -.3l.2 -.5l.6 .4l0 .6zM229.6 113.2l-.3 -.6l.6 -.2zM231.8 113.8l-.2 -.7l-.6 -.4l.4 -.6l.6 -.3l.5 .5l0 .4l.2 .4l-.5 .2zM224.5 110.9l.6 1.5l.5 1.1l-.6 -.2l-.5 -.6l-.5 -1.3zM232.2 115.1l0 -.6l.3 -.6l.4 -.2l.6 -.1l-.5 .8l-.3 .7zM229.6 112.9l-.4 .5l-.3 -.1l.1 -.6l.2 -.1zM225.1 115.1l-.4 -.6l0 -.6l.5 -.1l.4 -.2l.4 .4l.1 .6l-.2 .6zM226.5 115.5l-.5 .1l-.3 -.5l.3 -.4l.4 .2zM235.2 149.6l.3 -.7l.2 -.4l.3 0l0 .7l-.1 .9l-.4 .2zM237.9 144.8l0 1l-.9 -.8l-.8 -.7l.3 -.6l.8 .1zM239.9 141.7l-.6 -.5l-.1 -.7l.5 .4l.3 .3l.5 .5l.1 .6l-.5 -.4zM243.1 142.9l-.6 0l-.6 -1.1l.2 -.3l.6 0l.4 .8zM243.3 138.4l-.4 .2l-.6 .3l0 -.8l.6 -.5l.6 .2zM242.1 139.6l.5 0l.3 .1l.2 .6l-.4 .4l-.4 -.3zM250.3 140l-.1 .5l-.5 .4l-.5 0l-.5 -.1l.5 -.5l.3 -.5l.6 -.1zM249.6 139.3l-.2 -.6l.5 -.6l.2 .4l0 .7zM251.2 138.6l.5 .4l.3 .3l-.1 .3l-.3 .3l-.4 .1l-.7 -.1l-.4 -.6l.8 -.2zM253.4 140.1l-1.1 -.6l.1 -.9zM258.9 145.2l0 .3l-.8 .1l-.7 -.1l-.2 -.3l.8 -.2zM255.2 145l.3 .4l-.4 0zM258.1 147.8l-.2 .7l0 .5l-.4 0l-.5 .7l-.4 -.5l0 -.9l.5 -.5l.5 -.2zM257.7 146.4l-.1 .7l-.6 0l-.8 -.8l-.3 -1l.2 -.6l.8 .9zM258.1 152.6l0 -.5l.3 -.4l.4 .8l.2 .7l0 .8l-.5 -.7l-.3 -.2zM259.8 150.7l-.4 .6l-.2 -.6l.4 -.6zM259.3 156.1l-.5 .8l-1 .3l-.4 -.5l.9 -.9l.8 -.5l.5 .2zM259.1 153.3l-.4 -.2l-.4 0l-.5 -.6l.1 -.2l-.2 -.6l.5 .2l.4 .6l.4 .4zM255.1 154.3l-.3 .5l-1.3 -.4l0 -.4l.8 -.2l1.2 .1zM255.4 152.3l.4 .3l-.2 .6l-.4 -.4zM252.8 153.9l.4 0l.5 -.1l-.3 .5l-.2 .5l-.5 .2l-.1 -.3l-.2 -.4zM250.2 152.6l.5 .6l-.4 .7l-.3 .3l-.6 .2l-.5 -.5l.3 -.5l.3 -.5zM249.6 152.8l-.7 .7l.6 -1.1zM247.2 149.4l.5 .2l.1 .4l-.9 .1l-.4 -.2l-.7 -.2l.4 -.4zM245.5 153l-.2 .5l-.8 -.1l0 -.3zM239.5 151.9l.5 .5l0 .3l-.5 -.3zM238.8 151.3l-.4 -.1l-.5 -.3l0 -.4l.6 0l.6 .2l.2 .4l0 .2l.2 .4zM239.5 150.4l.5 .1l.2 -.3l.6 .4l0 .6l.3 .5l-.1 .3l-.5 -.2l-.6 -.6zM235.2 149.7l-.4 .8l-.5 .5l-.3 -.4l-.4 -.5l.4 -.9l.8 -.1zM235.5 149.5l-.6 -.4l0 -.8l.5 -.4l.7 .1l.3 .5l.1 .4l0 .4l-.5 .1zM251.6 139.8l.5 -.2l.3 .5l-.1 .6l-.6 -.4zM250.2 135.9l-.6 -.5l.4 -.2l.5 .1l.9 .5l-.5 .2zM254.6 140.6l.1 -.8l.6 .2l.5 .4l0 .8l-.3 .7l-.7 -.5zM253.1 150.2l.4 -.2l.4 .3l.2 .4l-.3 .2l0 .7l-.5 -.3l-.1 -.5l-.5 -.3zM259 147.7l.2 -.3l.5 .2l-.2 .9l-.5 -.3zM257.5 146.8l.1 -.3l.4 .1l.3 .1l.5 .1l-.2 .3l-.2 .3l-.5 -.3l-.6 0zM257.3 147.8l-.4 -.3l-.2 -.3l.1 -.1l.3 -.2l.2 .5zM262.8 148.5l-.2 .8l-.7 .6l-.6 .2l.5 -1.1l.6 -.6zM256.5 153.4l-.4 -.5l.1 -.9l.4 .1l.2 .6l.3 .8l-.4 .3zM266.7 153.9l-.5 .2l-.6 .4l0 -.4l0 -.4l.4 -.2l.7 -.5l-.1 .6zM268.4 151.3l-.5 -.2l0 -.8zM267.8 153l.5 -.6l1.3 0l-.5 .6zM263.2 153.9l-.3 -.3l-.1 -.5l.5 .1l.5 .4zM258.9 140.9l-.5 -.2l.4 -.5l.5 .1l.5 -.5l-.1 .6l.2 .4l-.4 .6l-.6 .1zM260.3 141.9l.4 0l.3 0l-.1 .3l.1 .6l-.4 .1l-.3 -.1l-.4 -.3zM265.1 145l.4 .9l-.7 .1zM265.3 143.1l.8 -1.1l.2 .7l.2 .6l-.8 .8l-.6 -.1zM268.8 148.5l-.4 .1l-.8 .1l.1 -.7l.2 -.5l.7 .4zM264.7 149.7l0 .8l-.7 -.9zM265.5 150.6l-.9 .2l0 -.9l.7 .1zM256.9 139.3l-.2 -.4l.1 -.4l.4 -.1l.4 0l0 .5l0 .4l-.3 .1zM261.1 144.3l-.5 .4l-.2 -.5zM261 135.7l-.7 -1.1l.1 -.5l.4 0l.5 .6l.9 1l-.5 .2zM255.7 136.4l.2 .6l-.5 .3l-.6 -.1l-.3 -.3l-.1 -.4l.4 -.2l.2 -.7l.4 .5zM251.1 137.3l.3 -.3l.2 .2l.2 .5l-.2 .9l-.2 -.8zM251.8 138.7l.1 -.5l.2 -.5l.4 .7l.5 .2l-.3 .5l.2 .9l-.5 0l-.2 -.8zM254.4 136.5l-.3 .7l-.3 .3l-.2 -.4l.3 -.6l.5 -.8zM218.8 165.4l-.3 .1l0 -.4l-.1 -.5l.4 -.5l.2 .6l.2 .3l-.2 .3zM219.8 162.1l.2 -.5l.8 -.3l.6 .3l.8 .1l-.5 .4l-.7 .1l-.5 .1zM223.3 160.3l-1 0l-.6 .1l-.2 -.5l.5 -.3l.8 -.6l.8 .5zM220.7 160l0 -.6l.7 .2zM227.3 161.1l.2 .3l-.2 .7l-.8 0l-.3 -.1l-.7 .1l.6 -.6l.4 -.2l.6 -.6zM227.2 159.9l-1.1 -.5l.6 -.6zM229 158.9l0 .8l0 .8l-.4 .2l-.3 -.7l-.2 -.6l0 -.5l.2 -.5l.3 .2zM227.6 162.2l-.5 -.4l.1 -.8l.4 -.2l.3 .7l.5 .6l-.4 .4zM232.4 160.8l.6 .3l.5 .6l-.3 .8l0 1.4l-.6 -.6l0 -1.2zM232.2 165.4l.9 .2l-.5 .3l-.4 -.1zM232.4 164.1l.5 -.8l.3 .1l-.2 .8l-.6 .7zM232.9 167.4l-.7 -.3l-.4 -.6l.8 0l.5 0l.5 .4l.4 .4l-.3 .3l-.2 .4zM232.6 171l.5 .5l.1 .6l-.9 -.6l-.5 -.5l-.8 -.6l.5 0l0 -.4l.7 .6zM236.9 170l.1 .4l-.1 .5l-.3 .9l-.6 0l-.1 -.5l0 -.4l.3 -.6l.4 -.4zM233.4 174.9l-.2 -.2l0 -.3l.2 -.2l.2 .3zM230.8 174.5l-.4 -.5l.3 -.4l.7 -.4l.4 .5l-.2 .5zM228.4 175.1l0 .6l-.6 0l-.7 .2l-.4 -.6l.7 -.4l.3 -.3l.7 -.1zM230.5 173.3l-.2 .3l-.1 -.4l.3 -.5l.2 -.2l.2 .3zM226.2 175l-.2 0l-.5 -.1l-.2 -.3l.6 0l.4 .2zM224.5 175.1l-.3 -1l.4 -.1l.3 1l.4 .6l-.2 .4l-.3 .1l-.4 -.2zM220.3 173.6l.3 -.9l.7 -.3l.4 .2l.2 .5l-.5 .8l-.8 .5zM222 177.1l-.7 -.2l.3 -.4l.4 -.1l.3 .5zM219.3 171.4l.8 .3l-.4 .8l-.5 -.4zM217.8 175l-.4 -.2l.1 -.5l-.1 -.7l.4 -.3l.5 -.1l.2 .6l-.4 .7zM218.4 170.6l-.5 .1l.4 -.3zM220.4 169.7l.2 -1.1l.6 1l.2 1l-.5 .6l-.8 -.6zM238.6 175.5l-.7 -.3l0 -.4l.9 0l0 .4zM236.5 173.3l-.8 0l-.1 -.6l.4 -.4l.4 -.2l.4 .4zM242.2 174.1l.4 -.1l.8 .2l-.4 .7l-.7 .1l-.4 -.6zM243.2 175.6l-.6 0l-.5 -.4l.5 -.4l.6 .2zM245.7 173.3l.4 .1l0 .5l-.5 .1zM245.7 173.1l-.8 .5l0 -.7l.5 -.7l.9 -.8l.1 .7zM247.2 175.9l.3 -.7l.4 .3zM244.9 180.8l.6 -.5l.6 -.8l.3 .2l-.4 .8l-.4 .6l-.6 .7l-.4 -.2zM244.1 183.6l-.4 .4l-.2 -1zM246.4 182.8l-.3 .3l-.5 -.3l-.3 -.6l.1 -.4l.1 -.8l.6 .9l.8 .5zM241.8 184.2l-.1 .3l-.5 .3l0 -.7l.3 -.7l.3 .5zM240 180l.2 -.5l.3 -.3l-.2 1zM237.2 179.7l0 -.6l.5 0l.9 .8l.4 1.2l-.9 -.4zM238.3 180.3l.7 -.2l.5 .6l-.5 .3l-.5 .2zM237.7 175.8l.6 0l.5 -.1l0 .6l.2 .6l-.6 .2l-.3 -.4l-.5 -.3zM238.7 174.5l.3 .2l.2 .3l.1 .3l0 .2l-.1 .5l-.5 -.6l0 -.4l-.1 -.3zM224.6 174.1l.2 .6l-.6 0zM226.3 179.2l.1 .6l-.6 .5l-.6 .5l-.5 -.2l.3 -.8l.6 -.3zM229 176.7l.4 .2l0 .3l-.1 .3l-.4 -.1l-.2 -.4l-.4 -.6zM230.2 180.1l.1 .3l-.1 .2l-.2 .2l-.5 .4l-.4 -.5l.1 -.4l.5 -.1l.2 -.3zM233.1 180.1l.1 .2l-.3 .3l-.5 .2l-.6 0l-.7 -.1l.6 -.3l-.1 -.4l.8 .1zM231.3 185l-.8 -.2l.5 -.4l.5 .1zM226 186.3l.1 -.5l.4 .4zM227 188l-.2 .7l-.4 -.1l.2 -.6zM226.4 183.3l.1 -.3l.3 0l.4 .4l.2 .5l-.3 .1l-.4 -.2l-.6 -.1zM223.3 184l-.2 .3l-.2 .1l-.6 .5l-.2 -.7l.1 -.8l.7 .1l.2 -.1l.5 0zM223.6 179.9l-.4 -.7l.3 -.1l.6 .6zM193.8 104.3l.1 -.5l.4 -.1l.2 -.3l.2 .4l.2 .3l.3 .6l-.5 0l-.4 -.1zM194.3 104.5l.2 .4l-.2 .2l-.6 .2l.1 -.5zM197.4 108.9l-.2 .2l-.3 .1l-.3 -.2l.1 -.5l.5 .1zM192.8 106.2l.5 -.2l-.1 .8l-.5 .5l-.3 -.1l-.3 0l.1 -.6l.4 -.2zM191.6 153.5l0 -.5l.1 -.3l.3 .4l.1 .5l-.2 .3zM192.7 151.2l1 .1l-.5 .5zM200.1 150.1l.1 .6l-.5 .4l-.6 -.1l.2 -.5l.3 -.2zM197.7 152.1l.1 -.2l.4 -.1l-.1 .4zM199.3 157.8l.5 -.3l-.1 .8zM198.2 157.7l.4 .1l.2 .6l-.2 .7l-.5 -.8l-.5 -.3l-.1 -.8zM199.5 163.6l-.4 .8l-.6 .2l-.2 0l-.2 -.2l0 -.5l.5 -.6l.3 .3zM197 157.8l.3 -.6l.6 .5l.5 -.1l-.1 .6l.2 .5l-.6 -.2l-.6 .4l-.3 -.6zM193.1 158.4l.6 .4l-.4 .2l-.2 .1l-.4 0l-.7 -.4l0 -.4l.6 .1zM192.9 158.8l1 -.1l1 .4l-.5 .5l-1.4 -.2l-.9 -.1l-.5 -.5zM187.4 158.3l0 -1.1l-.3 -1.1l.9 -.2l.1 1.1l-.1 .6zM250.3 165l.8 -.1l-.2 .6l-.5 .1zM254.3 167.9l-.2 .7l-1 .4l-.4 -.1l-.5 -.4l1.2 -.7zM257 163l1.1 .3l.3 .5l-.1 .5l-1.2 -.7l-.9 -.5zM255.1 167.7l.6 -.1l.4 .1l.1 .5l-.2 .3l-.2 .3l-.4 -.2l-.1 -.3zM254.1 167.7l0 -.7l.4 -.1l.3 .4l.6 .4l-.2 .6l-.1 .6l-.6 -.6zM189.4 143.9l.4 -.3l.5 .2l.3 .3l-.4 .3l-.1 .6l-.6 0l0 -.6zM191.4 143.8l.6 -.1l.5 .4l-.9 .4l-.8 .2l-.2 -.6zM190.9 146.8l.6 .4l.7 .4l-.3 .2l-.1 .3l-.6 -.2l-.6 -.5l-.1 -.5zM192.4 148.9l.1 -.4l.6 .2l-.2 .4zM190.2 151.8l.2 .5l-.7 .1l-.6 -.4l-.5 -.4l.3 -.3l.5 0l.4 .3zM185.6 146.3l.5 -.5l.2 .8l-.7 .7zM185.1 145.4l-.2 -.8l.6 .1l.5 0l.4 .7l0 .5l-.5 0zM184.5 149.3l-.5 .3l-.1 -.4l.4 -.3l.4 .1zM232.2 129.6l.6 -.1l.5 -.3l-.3 1l-.7 .4l-.3 -.1zM232.8 127.1l.1 1.3l-.7 -.4l-.1 -.9l-.1 -1.1l.6 .4zM236.3 129.3l.3 .6l.1 .4l-.2 -.1l-.3 -.5zM235.2 133.6l-.7 -.2l.5 -.5l1 -.3l.7 -.1l.6 .1l-.5 .4l-.5 .2zM231.1 134.7l.1 -.6l.4 -.4l.4 .3l-.3 .4zM229.5 130.2l-.2 .2l-.4 -.1l0 -.3l.4 -.2zM120.9 351.2l-.7 -.2l-.5 -.6l.3 -.6l.6 0l.1 .6zM129.1 352l-.3 -.3l0 -.3l.6 0l.3 .2l.2 .2l0 .2l-.3 .2zM123.6 350.4l-.7 -.2l.5 -.5l.8 .2zM130 352.4l-.6 .8l.2 -.7zM120.5 350.5l-.2 .6l-.7 -.4l0 -.6l0 -.6l.7 .1l.4 .5zM123.3 349.7l.6 .4l-.6 0l-.5 -.1l-.4 -.4l.6 -.1zM117.6 351.2l.2 .5l-.7 -.3zM136.9 354.1l-.2 .4l-1 0l-1.4 -.2l.4 -.5l1.1 .1zM139.8 354.8l0 -.4l.3 0l.2 .3l-.2 .2zM139.4 351.9l-.6 -.3l-.4 -.5l-.1 -.5l.1 -.6l.6 .5l.6 -.1l.5 .6l-.4 .5zM132.5 350.6l.1 -1l.5 .4l.2 .9l-.1 .7l-.4 .1l-.3 .1l0 -.7zM134.7 348.4l.2 .5l-.5 .5l-.5 -.3l-.2 -.5l.5 -.2zM143.7 352.3l-.2 -.8l.4 -.5l.5 .7l.2 .7l-.4 0zM141.8 351.5l.4 -.3l.4 -.3l.2 .5l-.2 .4l-.5 .1zM151.7 351.2l-.7 -.3l.3 -.8l.7 .2zM142.5 352l.3 .4l-.5 -.2zM148.9 350.6l.2 .8l-.8 -.8zM153.4 355.4l.2 -.4l.3 0l-.1 .6zM155.1 356.2l-.3 -.1l-.2 -.1l-.2 -.3l.3 -.2l.3 -.2l.3 .2l.1 .3l.4 .4zM146 354.9l.2 .4l-.3 .2l-.2 -.2l-.1 -.3zM160.8 351.3l-.3 -.1l-.1 -.2l.1 -.3l.3 -.4l.2 .4zM172.5 348.7l.5 .3l.2 .7l-.8 -.5zM167.8 349.1l1 .2l.7 .7l.6 .7l-1 -.2l-.6 -.7zM162.1 353.5l.2 -.4l.3 -.4l.1 .4l-.4 .6zM171 347l-.6 .2l-.4 -.6l.5 -.5l.6 .3zM168.8 348.1l.4 .1l.4 .3l-.1 .2l-.3 .1zM177 350.1l.1 .5l-.7 .7l-.6 .2l-.1 -.7l.6 -.8l.7 -.4zM178.2 344l.2 -.5l.2 .7l0 .5l.1 1l-.4 -.4l-.4 .2l.1 -1.1zM181.2 346.9l-.1 -1.1l.9 -.4l.5 .5l.3 .7l-.7 .5zM181.5 349.6l-.2 .3l-.5 -.8l.3 -.6zM182.8 345.5l.7 -1l.7 -.4l.1 .6l.1 .7l-.7 .2l-.4 .1zM187.1 344.9l-.3 -.6l.6 -.3l.9 -.1l.2 .6l-.4 .5zM184.4 352.8l-.2 -.5l0 -.8l.6 -.5l.4 .2l.3 .6l-.6 1zM186.6 343l-.4 -.4l.6 -.2l.2 .6zM177.2 345.8l.4 .8l-.5 .4l-.3 -1.1zM191.3 344.2l-.2 .1l-.1 -.1l-.1 -.3l.3 .1zM197.5 344.5l.3 -.5l.3 -.1l.2 .1l.3 .2l-.4 .8l-.4 -.1l-.5 .4zM197.2 343.4l-.8 .4l-.2 -.8l.7 -.4l.7 -.2l.5 .7zM199.7 347.1l-.4 .1l-.1 -.5l0 -.2l-.1 -.6l.5 .3l.5 .1l.1 .7zM192.2 352.5l-.3 .2l-.4 .1l-.2 -.3l.2 -.3l.4 0zM187.8 353.3l-.2 .7l-1.1 .7l-.7 -.3l.5 -.9l1 -.5zM189.2 352.9l.4 .3l.5 .5l.2 .8l-.5 -.1l-.4 -.1l-.3 -.6l-.2 -.6zM180.2 357.9l-.3 -.7l1.1 .4l-.1 .4zM176.8 358l.1 .3l-.3 .4l-.4 -.2l-.1 -.3l.3 -.3zM169 361l.3 .2l0 .7l-.5 -.3zM187 354l-.5 .2l-.4 .2l-.7 -.1l-.3 -.4l-.1 -.4l.6 -.2l.6 .3l.2 .2zM190.5 352l0 -.2l.7 0l.4 .3l-.8 .2zM188.3 354.7l-.5 -.2l.1 -.6l.4 -.1l.4 -.5l.2 .5l-.1 .3l.1 .6zM192.1 351.5l-.3 .4l-.7 -.3l-.2 -.2l0 -.5l.7 -.1l.4 .3zM174 360.9l-.9 .5l-.5 0l.2 -.4l.4 -.2l.9 -.5zM179 356.4l-.4 -.5l.6 -.2zM174 362.2l.2 .5l-.3 .6l-.6 .3l-.7 .2l-.4 -.3l.6 -.7l.5 -.5zM180.6 353.3l-.6 .2l.5 -.6zM165.5 363.4l.2 .8l-.5 -.2zM151.6 362.5l.7 .7l-.4 .2l-1 -.2l-.2 -.6l-.1 -.5zM167.5 362.6l.3 .2l0 .3l-.6 -.2l-.4 -.3l.3 -.1zM139.2 367.8l-.4 -.1l.2 -.5l.3 -.5l.6 .1l.1 .6l-.3 .5zM161 361.1l-.1 .5l-.3 .6l-.8 -.4l-.1 -.8l.6 -.3zM145.3 364.4l-.7 -.2l.7 -.3l.5 .2zM154.8 363l-.5 .3l0 .4l-.6 -.3l-.7 .1l-.4 -.3l.3 -.5l.8 0l.8 -.1zM154.5 358.7l-.6 .4l.1 -.7zM151.5 362.1l.7 -.5l.6 .3l.1 .8l-.6 .5l-.7 .4l-.2 -.7zM149.8 364l-.9 -.1l.4 -.4l.8 -.2l.3 .5zM152.6 362.2l-.4 .3l-.5 -.4l-.5 -.4l.7 .2zM166.7 360.1l-.7 -1l1 .4l.4 .3l1 1l-.9 -.2zM142.7 365.8l.3 .5l-.5 .5l-.3 -.4l.1 -.6zM156.9 360.7l-.1 -.5l.2 -.2l.3 0l0 .6zM131.7 362.3l-.4 .4l-1.1 -.4l-.4 -.7l.2 -.4l.9 .2l.9 .4zM132.6 363.2l.3 -.5l.5 .3l.3 .4l-.5 0zM128.2 359.8l.6 .4l-.3 .4l-.1 .3l-.3 .3l-.7 -.4l-.3 -.8l.4 -.2l.3 0zM120.8 360.5l.2 .5l-.5 .2l-.5 -.2l.4 -.8zM123.2 355.8l.2 .1l.1 .3l.1 .4l-.2 -.2l-.2 -.4zM131.1 361.8l.2 .3l-.3 .2l-.4 -.5l0 -.3zM122.3 356.5l.5 -.6l.2 .5zM121.5 360.2l-.3 .4l-.4 -.2l-.1 -.8l-.1 -.6l.3 -.4l.3 -.2l.4 .3l-.1 .8zM117.7 360.9l.7 .1l0 .6l0 .5l-.7 -.2l-.2 -.4l-.4 -.5zM136.5 363.4l.9 .6l-.1 .5l-1 -.5l-1.1 -.5l.3 -.4l.5 .1zM114.6 353.6l-.3 -.7l-.8 -.8l.2 -.5l.5 .1l.5 .8l.2 .4l.4 .6l-.5 -.2zM114.3 355.8l-.3 0l-.5 .1l-.3 -.4l.3 -.1l.5 0zM115.5 351.4l.2 -.3l.2 .3l.1 .4l-.1 0l-.2 0zM163.2 304.1l-.3 -.1l.1 -.7l.1 -.6l.4 -.3l.5 .4l-.2 1.1zM169.5 302.2l.1 -.4l.3 0l.1 .1l.2 .4l-.4 0zM169.4 302l-.7 .4l-.3 -.6l-.1 -.9l.7 -.1l.2 .5zM173.5 302.7l-.6 .3l-.5 -.2l-.5 -.4l.1 -.9l.7 -.1l.4 .5zM175.1 301.8l.5 -.2l.5 .3l-.3 .5l-.6 .3l-.4 -.2l.1 -.4zM176.4 307.4l-.3 .7l-.8 -.4l-.5 -.7l.5 -.4l.6 .4zM172.1 310.4l-.4 -.1l.4 -.9l.2 -.7l.5 -.4l0 .9l-.3 .7zM171.3 311.3l-.3 .6l-.3 -.3l-.3 -.3l.3 -.5l.3 .2zM166.3 307.7l-.3 .2l-.3 -.3l.4 -.3l.5 0zM164.2 307.8l.9 .2l-.6 .2l-.7 -.2l-.5 -.4zM180.7 318.9l1.1 -.3l-.6 .4zM178 317.7l.1 .4l-.2 -.1l-.3 -.3l.1 -.3zM178.6 318.2l.3 .7l-.7 0zM180 309.7l.2 -.4l.3 -.1l.2 .1l-.2 .3zM180.2 308.2l.3 .2l-.4 .3zM182.3 312l.4 .1l-.3 .2l-.5 -.1zM184.3 307.8l.5 -.2l-.1 .9l-.4 .5zM187.6 311.6l.3 -.5l.6 -.4l.6 -.6l.6 -.1l-.6 .8l-.3 .4l-.5 .6l-.2 -.2zM185.8 310l0 -.3l.4 -.4l.9 .6l.1 .6l-.6 .1l-.6 -.3zM186.7 315.1l-.7 0l-.5 -.4l.1 -.4l0 -.5l.6 -.4l.4 .6l.1 .5zM185.3 314.9l.7 -.5l.4 .5l-.5 .4l-.7 .3l-.3 -.4zM178.3 319.7l-.5 0l-.5 -.5l-.2 -.6l-.1 -.6l.6 .3l.3 .1l.5 .3l-.2 .4zM185.6 320l-.3 .4l-.7 -.1l-.3 -.5l.2 -.3l.7 -.2zM183.4 316.7l-.5 .1l-.3 -.2l0 -.6l.9 -.3l.7 -.3l-.1 .5l.6 .2l-.8 .5zM179.9 324.4l-.8 -.2l.4 -.4zM181.4 321.3l1.1 .7l-1.3 -.1zM176.7 321.3l.1 .5l-.8 .1l-.5 -.6l-.7 -.6l1 .1l.8 .1zM177.5 321.4l-.3 .1l-.5 -.2l.3 -.2l.4 -.1l.3 .2zM147.3 324.3l-.4 -.7l.1 -.3l.2 -.5l.8 .7l.3 .5l-.3 .4zM147.8 327.6l-.7 -.8l.4 -.3l.4 .6zM153.3 322l.4 .3l-.3 0l-.3 -.1l-.4 -.3l.3 -.1zM152.9 320.8l.7 .2l.1 .5l-.7 .3l-.8 -.4l-.5 -.4l.7 -.1zM153.2 326.9l0 -.4l.5 -.3l.4 .3l-.4 .5l-.3 .1zM153.3 326.5l-.2 .5l-.7 .8l-.8 .3l.6 -.9l.2 -.4l.5 -.3zM154.3 328l.4 -.2l.6 .1l.7 .4l-.3 .5l.1 .5l-.5 .2l-.6 -.6l-.7 -.4zM152 332.2l0 .8l-.5 -.1l-.5 .2l0 -.9l.2 -.4l.2 -.2l.3 0zM146.8 331.5l-.3 -.3l.1 -.6l.7 .1l.4 .5l-.3 .6zM145 329.9l.1 -.5l.5 -.4l.2 .5l0 .8l-.6 .3l-.3 -.2zM145.9 325.7l.2 .4l-.4 .3zM146.2 326.8l.2 .3l-.1 .5l-.3 .1l-.2 -.3l-.3 -.3l.2 -.6l.4 -.3zM153.2 331.7l.3 .5l-.3 .4l-.2 -.6zM157.5 335.4l0 .5l0 .3l-.7 -.1l-.5 -.1l-.1 -.3l-.2 -.5l.8 .1zM158.3 334.8l-.3 -.7l.4 -.2l.2 -.1l.4 .2l.3 .6l0 .8l-.6 0zM161.3 335.5l-.3 -.6l.5 -.1l.1 .6zM160.1 338.5l.2 .4l.6 .1l-.3 .5l-.3 .2l-.5 .3l-.2 -.6l-.1 -.3l-.1 -.7zM158.7 342.3l-.2 -1l.7 -.4l.5 -.9l.3 1l-.3 .9l-.5 .8zM156.2 341.9l-.5 -.4l1.1 .2l1 .3l-.9 .2zM153.5 347.5l-.4 -.2l0 -.4l.5 -.1l.3 .2l-.2 .3zM152.2 345.9l0 -.8l.4 -.4zM151.3 345.2l.3 .5l.4 .6l-.6 -.1l-.3 .3l-.3 -.6l-.5 -.6l.5 -.1zM150 340.4l-.6 0l-.5 0l-.4 -.4l.1 -.6l.5 -.2l.3 .2l.3 0l.3 .3zM148.9 336.3l.5 .4l-.5 .6l-.4 0zM133.6 333.2l-.6 -.1l.3 -.5zM138.3 335.8l.6 -.3l-.3 .5zM137 333.8l-.1 -.6l0 -.9l.5 .8l.2 .7l-.1 .9zM139.8 337.1l-.9 -.3l0 -.5l.9 .2zM138.3 338.4l.3 0l0 .3l0 .3l-.4 -.2l-.1 -.3zM134.3 341l-.4 -.8l1.1 .6l.6 .5l.4 .8l-1.1 -.4zM131.3 341.2l-.6 .4l-1 -.2l.6 -.3zM131.6 338.6l-.3 .4l-.3 -.7zM129.3 334.5l-.3 -.1l-.5 .1l-.1 -.5l.5 -.3l.3 -.3l.3 .3l.1 .4zM129.8 337.1l0 .5l-.3 .2l-.2 -.6l0 -.4l.3 .1zM142.3 309.7l-.4 .6l-.6 .5l0 -.6l.4 -.6l.4 -.2zM142.8 313.2l.4 -.3l-.1 .6zM144.5 313.4l.4 .1l.3 .4l-.4 .5l-.7 0l.1 -.7zM143.9 316.2l.1 -.7l.7 .2l.3 .2l-.1 .7l-.8 .1zM142.4 319.3l-1 -.8l-.5 -.8l.2 -.5l.7 .5l.8 .8zM142.3 313.4l-.8 .2l-.7 -.5l.7 -.1zM141.5 310.2l.3 0l.2 .2l.1 .5l-.4 -.1l-.4 -.2zM132 300.6l.7 -.2l.6 0l.6 .2l-.1 .6l-.5 .4l-.7 -.1l-.2 -.4zM132.7 300.6l-.5 .2l-.1 -.3l.6 -.3zM135.4 303.1l-.4 -.5l.3 -.3l1.1 .7l.1 .5l-.4 .2zM134.8 304.7l-.2 .4l-.5 -.4l-.3 -.6l.1 -.5l.5 .1l.4 .1l-.1 .5zM136 304.5l.3 -.3l.1 .5l-.3 .5l-.3 -.1zM131.8 306.6l.5 .4l.8 .3l.2 1.1l-.7 -.2l-.6 .1l-.4 -1zM134.6 307.7l-.3 .4l-.5 .1l-.4 -.3l-.3 -.3l-.3 -.4l.5 -.2l.5 0l.5 .3zM130.3 303.1l.6 .3l-.4 .5l-.2 .5l-.7 0l-.3 -.7l.5 -.5zM174.4 332.9l.4 -.5l.5 .4l-.4 .4l-.3 .1l-.5 -.1zM177 337l0 .7l-.5 .3l-.5 .1l-.2 -.4l.2 -.5l.1 -.5l.4 .1l.6 -.4zM177.7 335l-.3 .2l-.7 0l.4 -.6l.4 -.3l.6 0l.4 .5zM177.3 340.8l.5 -.1l.4 .2l-.2 .4l-.4 -.1zM170.8 334.4l.2 -.5l.5 -.2l.6 0l-.1 .8l.3 .4l-.5 .2l-.4 0l-.7 0zM173.9 332.9l-.6 .6l-.8 -.2l-.4 -.8l.9 -.3l.7 -.1z"/>
<path fill="#000" d="M170.7 233.2l0 -.3l.3 -.3l0 .3l-.2 .3zM158.6 232.8l.4 .1l-.4 .1l-.4 -.1zM178.3 233.1l.3 -.2l.4 0l-.2 .4l-.3 .2zM173.4 228.9l-.7 .4l-.3 -.1l.1 -.4l.7 -.3zM165.8 249l.1 -.2l.4 .3l0 .3zM159.1 243.3l-.4 0l-.3 -.3l.3 -.4l.3 .4zM176.2 235.1l-.3 -.7l.5 .1zM175.2 229.8l.4 .5l-.7 -.2zM196.9 226.8l-.3 -.6l.5 .2l.3 .3l.1 .5zM174.6 234.5l.7 -.1l.7 .2l.2 .4l-.6 -.1zM164.5 246.6l-.8 -.1l-.1 -1.1zM174.9 230.7l-.9 -.6l.3 -.1zM160.2 251.4l-.4 -.3l.3 .1zM192.6 243.2l-.7 -.3l.6 -.2l.6 .3zM176.7 238.2l.4 -.7l.6 .6l-.4 .5zM153.8 226l-.3 .7l-.7 -.2l.1 -.5l.3 -.4zM180.7 236.9l-.4 -.2l.4 -.3l.7 0l0 .4zM191.4 238.2l-.6 .1l.3 -.5zM159.7 257.3l-.7 0l.1 -.5zM168 245.5l-.4 -.4l.1 -.7l.8 -.2l.2 .5zM171.9 242.3l-.1 .3l-.4 -.1l-.2 -.6l.5 0zM159.6 239.2l.1 -.4l.1 -.2l.1 -.1l0 .4l-.1 .4zM182.7 231.4l.6 .2l-.5 .1l-.4 .3l-.4 -.3l0 -.3zM192.4 248.5l-.2 0l-.1 -.1l.1 -.1l.2 .1zM162.9 240.9l-.1 -.3l.1 -.1l.2 .2l.3 .3l-.2 .1zM173.9 246.8l.7 .4l-.3 .6l-.6 0zM178.2 239.4l0 .1l.1 .2l-.3 -.1l-.3 -.2l.2 -.1zM159 228l0 .2l-.5 .1l-.3 -.3l.4 -.3zM164.5 226.3l-.4 -.2l-.1 -.2l.5 .2l.2 .2zM181.6 250.8l.6 0l-.4 .4l-.5 .1l-.2 -.4zM153.7 243.4l.8 -.3l-.2 .9zM169.9 235.1l-.3 -.4l.2 -.2l.2 .3l.1 .3l-.1 .1zM175.4 237.1l.4 .2l0 .3l-.3 0zM191.1 243.3l1.3 .3l0 .6zM168.2 236.3l.3 .4l-.4 .1l-.4 -.2l-.1 -.3l.1 -.4zM176 241.4l-.4 -.1l-.2 -.2l-.3 -.3l.5 .1l.4 .3zM167.5 237.9l.3 1.1l-.8 -.7zM180.1 245.2l-.3 .5l-.2 -.5zM153.2 241.5l.3 -.1l0 .5zM187.7 245.1l.3 0l-.1 .1l-.2 0l-.2 -.1zM179 227.1l.6 .1l-.5 .2zM207.4 246.4l.4 0l.3 .3l-.4 .3l-.5 -.2zM149.2 235.5l0 .4l-.6 -.1l-.5 -.3l.5 -.2l.5 -.2zM172.7 231.4l.1 -.2l.3 .1l.4 .2l-.5 .1l-.4 .1zM168.4 228.1l.3 -.2l.3 .2zM150.1 252l-.2 .3l-.6 -.1zM178.2 255.2l.4 -.5l0 .5zM177 234.7l.4 .3l-.2 1l-.5 -.6zM173.4 241.2l.2 .4l-.4 -.3zM180.2 227.2l.3 .1l-.1 .3l-.2 .3l-.3 -.1l0 -.2zM178.5 251.2l-.6 .1l.6 -.5zM180.6 233.6l-.2 .2l-.2 -.1zM178.5 216.2l.5 -.2l.6 -.1l.2 .5l-.6 .1zM182.5 235.1l.2 -.2l.2 .1l-.2 .2l-.1 .3l0 -.2zM171 245.1l-.4 .1l-.1 -.1l.2 -.2l.4 0zM193.2 228.2l-.1 -.4l.2 -.2l.4 .1l0 .6zM179.2 245.4l.3 .8l-.9 1zM182.3 236.7l.3 -.5l.2 .3l0 .4l-.5 .3zM184.2 243.3l.3 -.3l.9 .3l-.3 .5l-.8 0zM168.5 237.2l-.1 .3l-.4 -.4zM163.1 252.4l-.4 -.5l-.4 -.5l.3 -.2l.2 0l.5 .7zM144.6 241.2l.2 .1l-.3 .2l-.3 0l.1 -.3zM183.1 246.7l-.2 -.3l.5 -.4l.5 -.2l.1 .2l-.3 .4zM147.2 253.6l.3 .1l-.1 .5l-.3 .5l-.5 .3l.1 -.9zM172.5 233.8l-.1 -.3l.5 -.1l.1 .2l0 .3zM172.5 237.7l-.9 -.1l0 -.4l.6 -.1l.7 .1zM177.4 250.3l-.4 -1l.6 .3zM161.5 218.7l-.7 .3l-.4 -.1l0 -.4l.8 -.3l.3 .2zM181.4 219.3l-.2 -.1l.2 -.2l.2 -.1l.1 .3l-.1 .1zM190.5 257.3l.4 -.2l.3 .2l-.4 .3zM175.4 228.7l-.4 .1l-.3 -.1l.3 -.3l.3 .1zM204.4 230.9l0 .3l-.5 -.5zM186.3 232.2l.1 -.7l.2 .8l.3 .7l-.3 -.2l-.3 -.2zM166.2 236.8l-.4 1.1l-.7 -.8zM170.9 229.5l.2 -.4l.2 -.1l-.1 .4zM173.1 238l.5 -.6l.2 .7zM146 237.3l0 .8l-.3 -.1zM178.7 242.6l.4 .2l-.3 .3l-.3 -.3zM174.7 238.7l.6 .4l-.3 .4zM157.2 230.3l.4 .4l.3 .3l-.3 0l-.4 -.2l-.2 -.3zM203.9 245.2l-.1 -.2l.2 0zM181.6 244.8l-.1 .6l-.6 -.4zM167.6 241.1l-.1 -.2l.4 0l.1 .2zM164.1 222.9l0 .9l-.5 -.2zM167.3 234.4l.2 -.3l.1 0l0 .2l-.2 .3zM168.7 231.8l.5 .2l0 .3l-.1 .2l-.5 -.4zM185.8 234l.4 -.2l.6 -.2l0 .7l-.5 .3l-.4 -.2zM177.6 239.3l.1 -.3l.1 -.1l.2 0l.4 .3l-.3 .1zM180.5 248.4l1.5 .2l-.5 .7zM168.3 238.4l.2 -.4l.1 .2zM158.8 222.9l.2 .7l-.5 -.4l-.4 -.7l.4 .1zM169.4 231.7l0 -.5l.5 .1zM170.7 233.1l.6 .1l-.6 .6zM179.8 239.5l.5 -.2l.2 .6zM182.6 229l0 .6l-.5 -.5zM185.7 234.7l-.7 .7l-.8 -.1l.8 -.5zM186.7 256.7l-.4 -.2l.7 -.1l.2 .2zM175.5 233.4l.1 -.3l.2 0l.1 .3l-.3 .1zM160.9 230.9l.5 0l.1 .2l-.1 .5l-.6 -.2l-.3 -.2zM171.7 240.2l-.1 .3l-.2 0l-.2 -.2l.1 -.2l.1 -.3zM153.5 230.3l-.8 -.1l.1 -.5l.8 .2zM170.3 251.2l-.1 -.3l.4 -.3l.1 .4zM170.4 231.2l.7 .7l-.6 -.1zM160.8 238.1l1.1 .1l-.9 .3l-1 0zM178.3 233.1l-.2 -.1l.2 -.3l.5 .1zM199.2 232.6l-.3 -.3l.4 .1l.5 .3zM136.8 237.4l.6 -.7l0 1.2zM143.9 236.6l-.3 .2l-.3 0l-.2 -.2l.3 0zM149.3 235.5l-.3 -.4l.3 -.4l.4 .2l0 .6zM158.1 241.2l.4 .1l-.3 .5zM159.2 248.7l.6 .3l-.2 .4l-.7 -.3zM208.2 237.8l-.3 .5l-.6 .2l-.1 -.3l.5 -.4zM188.3 238.2l-.3 -.2l0 -.2l.3 0l.3 .2zM167.2 228.8l.5 -.2l.5 .1l-.4 .3zM158 242.6l.1 -.6l.3 .2zM175.6 245.7l-.4 -.2l.6 -.1zM190.4 230.9l.3 0l.5 .1l.3 .3l-.4 .1l-.5 -.2zM143.2 239.2l.1 .4l-.3 .3l-.4 .1l-.2 -.4l.4 -.4zM184.3 233.9l-.1 0l0 -.2zM175 220.2l-.4 .9l-.8 -.1zM136.1 213.7l.5 .4l-.4 .1l-.3 0l-.1 -.4l-.2 -.5zM142.4 228.6l.1 -.9l.6 .1l.1 .7zM188.5 244.6l1.5 -.2l-1.2 .8zM199.5 241.4l-.3 -.2l.2 -.1zM169.8 235.5l.1 .3l-.3 .1l-.3 -.7zM155.8 244.4l-.2 -.3l.3 -.1l.7 .2l.2 .3l-.4 0zM178.3 236.4l.7 -.5l-.2 .7l-.4 .2zM171.1 240.5l-.4 .3l-.2 -.3l-.3 -.4l.5 -.2l.3 .1zM137.5 235.5l.3 -.3l.1 .6zM176.9 232.2l.4 .4l0 .6l-.4 .3l-.5 -.2l.3 -.5zM163.8 239.9l-.1 .9l-.4 -.3zM180.5 248.7l-.1 -.5l.2 -.3l.4 .3l0 .5zM173.9 243.4l-.7 0l.3 -.8l.6 .1zM147.9 225.5l-.3 .3l-.5 -.4l.2 -.2l.3 0zM154.9 238.2l.5 -.2l.4 -.2l0 .3l-.6 .2l-.2 .1zM176.6 235.6l-.1 -.1l.7 -.3zM173.1 244.3l.2 .4l0 .6l-.2 -.2zM173.3 235.2l.1 .7l-.8 -.2zM173.8 225.5l-.2 -.2l.1 -.2l.1 -.1l.2 .4l.1 .3zM176 246l-.3 .5l-.1 -.5l.1 -.4l.3 -.3l.3 .2zM173.9 229.7l-.1 .3l-.3 -.1l-.1 -.2l.2 -.3zM166.2 236.8l-.1 .4l-.1 -.3l0 -.4zM170.9 248.7l-.7 -.2l.1 -.3l.8 0l.7 .4zM154.2 245.7l-.3 .5l-.5 -.3zM181.9 238.6l.5 0l.1 .4l-.4 .1zM161.2 231.1l0 .3l-.2 .3l-.2 -.2l.2 -.6zM162.4 236.6l-.1 .3l-.2 -.2l0 -.4l.2 -.2zM190.1 242.6l-.1 .4l-.2 -.5l.1 -.4zM193.3 236.7l-.1 -.4l.4 0l.1 .5zM175.5 234.8l.6 -.7l0 .6l-.6 .7l-.6 .3zM152.6 233.8l.3 -.7l.3 .6l-.4 .7zM154 247l-.1 .3l-.7 -.2zM161.3 238.4l-.4 .3l-.3 .3l.1 -.3l.3 -.3zM188.9 237.2l-.2 -.1l-.1 -.5l.2 0l.2 .1zM179.6 224.7l-.2 .3l0 -.5zM161.4 236.7l-.2 0l0 -.3l.2 .1zM168 232.8l.7 -1l0 .9zM192.4 247.9l-.1 -.4l.3 0l.2 .4zM202.2 244.2l.5 .1l-.5 .5l-.5 .5l-.2 -.2l0 -.4zM159.9 237.9l.3 0l-.1 .3l-.4 -.1zM154.1 276.8l-.3 -.8l.2 -.5l.4 .5zM186.9 294.7l-.3 -.1l.4 -.5l.4 .2zM155.3 299.9l-.3 -.3l.4 -.6l.1 .4zM137.3 287l-.1 -.3l.7 .2zM155.3 272.6l-.8 0l.8 -.5l.6 .1zM154.1 285.2l-.1 .8l-.3 .3l-.1 -.7l.2 -.6zM162.5 276.1l-.3 .3l-.4 .1l-.4 0l.3 -.3l.5 -.2zM143.6 281.9l.9 .3l-.4 .2l-.8 -.2zM185.4 281.9l-.7 .2l-.7 -.1l.9 -.5zM143.4 268.2l-.6 -.6l.2 -.4l.6 .7zM176.9 272.1l.3 -.4l.4 0l.3 .5l-.5 .3l-.4 .1zM171.7 281.7l.1 .4l0 .6l-.4 -.4l.1 -.6zM161.3 277.3l.4 .7l-.2 .2l-.5 -.4l-.1 -.4zM166.9 288.4l.5 -.6l.4 .5zM162.5 276.4l.1 -.6l.2 0l.2 .5l-.3 .4zM143.3 279.6l-.2 -.1l-.1 -.2l.2 0l.2 .1zM151.9 272.5l.3 .3l-.2 .2l-.2 .3l-.2 -.4l-.1 -.4zM143.9 282.7l-.2 .3l-.3 .3l-.3 -.4l.2 -.3zM148.8 303.3l.1 -.3l.2 0l.2 .2l-.1 .2l-.2 -.1zM183.3 280.4l.4 0l-.2 .8l-.3 -.3zM161.3 281l.8 -.7l.4 .3l-.5 .6l-.5 .1zM136.3 286l.3 .4l-.9 .7l-.1 -.5zM159.8 284.2l.5 -.4l-.2 .6zM162.2 289.4l.2 .5l-.5 .3l-.3 -.9zM178.8 275.9l.5 1l-.9 -.8zM159.4 282.3l0 -.4l.5 0l.4 .1l-.4 .4l-.3 0zM182.7 292.9l-.2 .1l-.1 -.2l.1 -.3l.2 .1l.1 .1zM163.7 282.7l.3 0l-.3 .4l-.3 .2l-.3 0l.3 -.5zM157.5 271.5l-.3 .5l-.2 -.2l0 -.5l.3 -.6l.2 .3zM139.9 288.9l.1 .3l-.3 0l-.1 -.4zM159.3 273.8l.6 .4l.7 .4l-.6 .1l-.6 -.2l-.3 -.4zM194.5 276.2l.6 .5l-.1 .7l-.6 -.5zM168 286.6l-.2 .3l-.3 -.1l0 -.6l.4 -.1zM178 264.5l-.5 .7l-.3 -.3zM162.2 275.3l-.2 .3l-.4 -.1l.1 -.2zM171.9 287.9l.1 .6l-.9 .1zM136.6 288.2l.2 -.3l.3 -.2l0 .2l-.1 .2l-.2 .2zM141.2 279.4l-.5 -.1l.4 -.1zM148 296.5l-.4 .1l-.3 .2l-.3 -.3l.4 -.2l.4 -.2zM171.4 286.6l.6 .5l-.1 .5l-.1 .2l-.4 -.3l-.4 -.7zM165.2 270.5l.3 .1l-.2 .2l-.3 0l-.2 -.1l.2 -.2zM154.2 283.5l-.1 .1l0 -.2l.1 -.1l.1 0zM146.1 279.5l0 -.2l.2 -.1l.1 .1l0 .1l-.2 .1zM177 290.8l-.1 .9l-.7 -.9zM148.5 279l-.6 .1l.1 -.3l.7 -.1zM182.2 284.9l.8 -.1l-.5 .5zM179.1 288.9l.3 -.4l-.1 .4l-.2 .4zM151.9 283.6l-.3 .1l-.4 -.2l.3 -.2zM159.4 282.5l-.6 .6l-.6 -.3l.6 -.7zM163.3 296.2l-.3 -.4l.4 -.6l.2 .3zM162.7 287.3l-.4 .2l-.3 .2l-.2 -.2l.5 -.2l.3 -.2zM160.1 280.3l.6 .3l-.6 .2l-.9 -.1l.2 -.3zM161.5 276.5l.7 .1l.5 .7l-1 -.2zM131.7 293.2l.1 .2l-.1 .3l-.2 0l.1 -.2zM154.8 283.9l0 .5l-.3 .2l-.6 -.4l.5 -.4zM172.3 284.2l-.2 .5l-.5 -.2l-.2 -.5l.7 -.1zM161.8 286.8l-.1 -.2l.4 -.1l.6 .2l-.2 .2l-.1 .1zM158.6 293.1l.1 -.7l.5 .2zM167.8 275.5l0 -.2l.3 .2l.1 .2zM167.4 294.4l.1 .4l-.1 .2l-.3 -.1l-.2 -.4zM176.5 283.2l0 .5l-.5 0zM158.6 279.6l.2 -.3l.5 .1l.1 .6l-.5 -.1zM144.2 272.4l-.3 0l-.3 -.1l.1 -.2l.3 .1zM178.2 278.7l0 .2l-.1 0l-.2 -.1l.1 -.2l.2 0zM167 284.9l-.2 .1l-.1 .1l0 -.3l0 -.4l.3 -.1zM166.5 283.8l-.3 .3l-.4 -.1l0 -.4l.4 -.3zM166.6 266.9l-.3 .1l-.2 -.2l-.1 -.1l.3 -.1l.1 .1zM136.1 277.7l-.4 -.1l0 -.5l.6 .1l.4 .3zM170.5 274.4l.9 0l-.3 .6zM166.2 274.8l-.2 -.1l.2 -.2zM173.7 270.9l-.4 .2l-.3 -.4l.7 -.6l.3 .2zM175.3 297.3l-.2 .2l-.2 0l-.4 0l.1 -.2l.3 -.1zM150.3 277.6l-.2 .6l-.4 .2l0 -.4l0 -.2l.2 -.2zM165.4 286.9l-.3 .7l-.2 -.7zM168.1 299.1l-.5 0l-.1 -.4l.2 -.1l.5 0l.1 .3zM159.9 279.8l.3 -.2l.5 .1l.3 .3l-.4 0l-.4 .1zM159.1 281.3l.9 -.3l-.2 .4l-.6 .3zM164.6 279.4l-.1 -.3l.1 -.4l.3 .1l.4 .3l-.4 .3zM163.7 282l0 -.4l.5 -.1zM152.1 281.5l-.4 .2l.1 -.4zM173.7 296.8l.2 .1l0 .1l0 .2l-.2 -.1l-.1 -.1zM170.2 280.4l.1 0l0 .2l-.2 .3l-.2 -.3l.1 -.3zM162.7 280.2l0 .9l-.7 -.6zM164.8 299.4l.8 .4l-.3 .1zM186.5 281.7l.3 .2l-.4 .5l-.3 .2l.1 -.3zM161.1 288.7l.1 -.2l.5 0l0 .2zM154.2 271.1l.3 .2l0 .4l-.3 -.2l-.3 -.2zM136.7 304.7l.5 -.1l.4 .3l.2 .4l-.5 .2l-.6 -.2zM170.4 293.3l.4 -.1l0 .3l-.3 .1zM179.5 281l-.3 0l-.2 -.3l.6 -.2l.1 .2zM201 237.7l-.4 .5l-.3 -.1l0 -.3l.4 -.1zM200.4 230.4l-.7 -.1l.6 -.2zM216.6 208.3l-.5 .1l0 -.2l.5 -.2zM208.8 237.2l-.1 .2l-.3 0l.1 -.3l.3 -.1zM200.7 242.2l.6 .4l-.7 .1zM195.2 222.4l-.2 .3l-.2 -.2l.1 -.2zM207.8 222.4l-.8 -.5l.9 .2zM186.9 239.1l.2 .4l-.2 .2l-.7 -.2l-.1 -.6l.3 -.2zM202.2 239.5l.4 -.4l.4 .1l.5 .3l-.4 .6l-.6 -.1zM186.8 228.9l-.6 -.2l.3 -.4zM185.8 235.7l-.3 -.2l.1 -.4l.4 -.3l0 .4zM202.1 225.7l-.4 0l0 -.5zM186.9 252.9l.4 .2l-.4 .1zM194.1 237.7l.4 .1l0 .4l-.3 .5l-.1 -.5zM198 243.3l-.2 -.5l.9 .2l.4 .4zM217.8 228.2l.4 .3l-.4 .1zM187.2 222.6l.1 -.6l.6 .3l-.3 .6zM206.4 215.3l-.2 .6l-.4 0zM211.1 242.1l-.1 -.2l.1 -.2l.2 -.3l.2 .3l-.1 .3zM210.8 231l-.1 -.5l.3 .3l.3 .5l-.3 .3zM195.2 239l-.7 -.1l.6 -.5zM195.3 232.5l-.5 -1.4l.8 .4zM205.4 248.8l-.1 .4l-.1 .4l-.3 -.2l-.3 -.3l.4 -.2zM203.9 226.5l-.6 .3l.3 -.6l.5 -.5l.2 .5zM193.3 218.4l.9 .4l-.6 .8zM200.2 222.5l0 .2l-.1 -.1l-.3 -.3l.2 -.1l.1 0zM207.8 223.9l0 -.3l.2 -.3l0 .5zM174.7 224.9l-.6 0l0 -.7l.6 -.2l.1 .5zM214.8 223.4l.4 -.4l.2 -.1l.1 .1l-.1 .3l-.5 .4zM208 217.8l.3 -.3l0 .5zM190 213.8l.3 .6l-.2 .1zM190.2 241.4l-.3 .1l-.5 -.1l-.3 -.5l.6 .1l.3 -.1zM196.8 218.1l-.5 .5l-.3 -.4l.6 -.5zM211.4 234.2l0 -.4l.2 -.1l.5 .2l-.1 .6zM190.1 221.4l-.5 -.7l.3 -.2zM190.6 231.2l0 .2l-.1 .1l-.2 -.2l.1 -.2zM204.9 235.6l-.1 .2l-.2 -.4l.2 -.3zM185.9 230.5l-.5 -.5l.9 -.4l.4 .6zM189.2 231.1l.2 -.8l.4 .8zM198.4 215.5l-.3 .1l.2 -.4zM192.8 229.8l-.4 0l-.5 0l0 -.2l.5 -.1zM210.1 245.2l.6 .7l-.1 .1l-.9 -.4zM203.8 224.5l.3 -.1l0 .3l-.1 .4l-.4 -.3zM188.3 222.4l.6 .3l.1 .4l-.1 .2l-.3 -.4zM194 224.9l.2 .5l-.9 .1zM184.1 241.7l.1 -.3l.4 0l0 .6l-.3 0zM217.4 226l-.3 0l.1 -.4l.2 0zM197.8 240.1l-.2 -.4l-.1 -.4l.2 -.5l.4 .5l-.1 .6zM198 222.6l0 -.5l.3 .3zM203.2 232.9l.2 .5l0 .4l-.2 .2l-.2 -.5l-.2 -.5zM201.3 229.9l-.1 .3l-.3 .2l-.4 -.1l.5 -.4zM199.9 234.4l-.6 -.1l0 -.3l.7 .1zM221.6 243.3l-.8 -.2l.5 -.4zM205.1 225.6l.2 .1l.3 .1l0 .4l-.4 -.2l-.3 -.1zM215.4 245.1l.4 -.1l.4 .2l.1 .4l-.6 0zM207.2 231l-.1 -.6l.4 .1l0 .3zM204.3 234.8l.2 -.4l.4 .5l0 .5l-.5 -.2zM207.3 235.1l-.1 .3l-.2 -.1l-.1 -.3l.3 -.1zM208.4 234l-.4 -.3l.5 -.3l.2 .4zM214.9 229.4l-.5 .1l-.2 -.5zM132.8 250.7l-.3 .1l.1 -.3l.2 -.1l.1 .1zM126.2 248.8l.1 .3l-.2 .1l-.3 0l0 -.3l.1 -.2zM110.7 261.4l.5 -.2l.1 .5zM109 260.1l.2 -.2l.1 .3l0 .3l-.4 -.1zM115 250.6l-.3 0l.2 -.5zM108.9 236.2l.2 -.4l.2 .2zM77 268.2l-.6 .1l-.4 -.1l0 -.2l.6 0zM131.2 264.7l-.2 -.2l.1 -.3l.3 .3l0 .2zM117.6 220.3l-1 -.2l.8 -.6zM121.4 245.8l-.4 .5l-.1 -.6zM104.1 241.8l.2 .4l-.5 -.1zM128.5 256.5l-.1 -.6l.4 -.1l.3 .3l0 .5l-.3 .3zM134 250.5l.8 -.3l-.4 .5zM130.9 245.8l.7 1.3l-.9 -.9zM155.1 244.7l.2 -.1l.3 0l0 .3l-.2 0zM114.4 240.6l.2 .4l-.1 .3l-.4 -.1l.1 -.3zM112.6 254.3l-.6 .1l-.3 -.1l.1 -.4l.6 .1zM139.8 260.2l0 -.3l.3 -.3l.5 -.3l0 .4zM130.2 239l.2 .2l0 .5l-.3 -.3zM134.6 266.1l.1 -.4l.3 -.3l.5 0l-.3 .4zM97.1 243.6l0 -.2l.3 .1l.2 .3l0 .3l-.3 -.2zM119.7 270l.7 .4l-1.5 0zM101.7 258.7l-.1 -.3l.2 -.5l.6 -.2l-.1 .8zM102.6 232.4l.5 .9l-.9 -.4zM114.6 252.4l.5 .4l-.5 .1l-.6 -.6zM103.9 251.9l.5 .2l.3 .4l-.7 .5l-.3 -.5zM125.1 262.3l-.5 .1l-.1 -.3zM115.5 265l-.1 .4l-.9 -.5l-.3 -.8l.8 .4zM114.8 243.2l.4 -.3l.5 -.2l0 .3l-.6 .6l-.2 -.2zM115.9 277.7l.6 .5l-.5 .1l-.4 -.3zM110.2 254.4l-.5 -.5l.3 -.6l.6 .7zM155.3 272.9l-.1 -.2l0 -.2l.2 .1l.2 0l0 .3zM126.2 237.5l-.1 .2l-.2 .1l-.2 -.2l.2 -.2l.1 -.2zM145.4 256l-.3 .6l-.6 -.3l.1 -.5zM126.8 238.6l.6 .6l-.7 .2zM131.5 247.6l-.2 .7l-.5 -.8zM145.7 248.4l-.4 .1l-.1 -.6l.1 -.5l.4 .3zM113.3 241.4l.7 -.1l-.4 .4l-.7 .1zM108.7 235.2l-.5 .4l-.5 -.7l.7 -.2zM142.9 252.5l.1 .7l-.8 -.4zM112.9 223.6l.1 .2l-.4 0l-.2 -.2zM122.1 249.5l0 -.2l.3 .1l.2 .5l-.2 0zM107.4 253.3l.1 -.4l.2 .3zM104.1 250.3l.5 .1l-.3 .3l-.6 -.2zM87.9 246l.3 -.1l-.3 .3zM99.1 269.4l-.4 0l-.1 -.2l.3 -.2l.7 0zM125.1 270.8l0 .1l-.1 .2l-.2 -.1l0 -.2l.1 -.1zM134.7 242.7l.3 -.1l0 .3l-.1 .1l-.3 -.1zM110.1 251l-.2 -.1l-.1 -.2l.2 -.1l.2 .1zM132.4 236l.8 -.7l.1 .6zM104.3 237.7l.1 -.3l.1 -.1l.3 .1l0 .3l-.1 .3zM123.6 242.5l1 -.3l0 .4zM127.4 275.3l.5 -.2l-.2 .5zM120.1 267.8l.2 .2l0 .6l-.2 .6l-.3 -.9zM99.3 225.8l.2 -.4l.2 .1l0 .6l-.4 .2zM111.7 245.9l-1.2 .1l.4 -.5l.8 -.1zM89.8 235.6l-.3 .6l-.5 -.9zM144.1 245.2l.1 .5l-.4 -.5zM108.2 267.2l.1 .2l-.1 .2l-.2 -.2l.1 -.2zM119.9 257.9l.2 .4l-.5 .1l-.3 -.4zM110.4 237l-.3 0l-.2 -.5l.4 -.1zM133.1 271.1l.2 -.3l.3 -.2l0 .3l-.3 .4l-.2 .1zM121.2 248.4l.3 .1l-.1 .2l-.1 .2l-.1 -.2zM154.1 287.9l-.5 -.7l0 -.3l.3 .2l.4 .6zM144.9 268.6l-.2 -.3l.4 -.1l.3 .1l-.3 .2zM135.1 259.5l.1 -.4l.4 -.2l.1 .4zM114.3 235l0 -.4l.2 .2l0 .2zM130.8 247.7l-.2 -.4l.2 -.2l.3 .2l.3 .7zM99.7 244.4l0 -.4l.4 .4l0 .5zM109.9 242.4l-.5 .2l0 -.4l.5 -.3zM84.9 209.9l-.5 .1l.5 -.4zM177.4 193.6l-.3 -.4l.3 -.3zM121 209.5l-.7 0l-.3 -.3l-.1 -.5l.7 .2zM196.3 203.6l.2 -.2l.3 -.2l.1 .4l-.3 .4l-.4 0zM151.8 205.8l.3 .1l.1 .3l-.2 .1l-.3 -.1zM122.8 203.1l.2 -.4l.3 -.2l.1 .7l-.3 .3l-.2 .1zM161.2 193.1l.4 -.2l.3 .4l-.1 .2l-.3 .1l-.3 -.2zM153.7 176.7l-.3 -.6l1.1 -.1l.1 .5zM159.7 171.7l-.4 -.5l.5 .1l.4 .7zM155.9 188.3l-.8 .5l-.4 -.4l.5 -.3zM142.5 196.5l-.1 .3l-.3 -.1l0 -.2l.2 -.2l.2 0zM131.9 224.6l.5 .4l-.1 .4l-.5 -.5l-.7 -.5l.5 0zM133 195.5l-.4 .1l-.1 -.4l.3 -.1zM177.3 177.2l.3 -.4l.4 -.1l-.2 .3zM141.9 204.6l.5 .5l-.8 .3zM144.2 183.9l.1 -.6l.4 -.6l.5 .1l-.2 .7l-.4 .4zM157 167l-.8 .1l-.1 -.8l.6 .2zM158.5 208.3l.3 -.3l.1 .2l-.1 .2zM143.1 203.6l-.1 0l-.3 -.1l0 -.3l.3 -.1l.3 .3zM145.2 162.5l-.3 -.2l.4 -.1zM171.7 196.1l-.4 0l-.4 -.5l.3 -.1zM195 189.8l-.3 0l-.2 -.2l.2 -.2l.3 .1zM123.7 181.7l.4 -.1l.1 .2l-.1 .2l-.4 .1l0 -.2zM137.3 167.4l.3 .6l-.5 -.3zM169.5 167.1l-.6 -.1l.3 -.2zM166.3 180l.4 -.3l.3 -.1l.5 .1l-.2 .4l-.7 .2zM124.2 187.3l-.4 0l-.2 -.4l.3 -.1l.2 0l.3 .2zM169.1 181.5l.1 -.6l.5 -.1l0 .5zM146 190.8l.2 .9l-.6 -.7zM123.5 179.5l-.1 -.9l.3 .7zM119.1 225.2l-.1 -.1l.2 -.2l.2 .1l-.1 .2zM140.5 183.7l.3 0l0 .2l-.4 .4l-.1 -.3zM142.1 171.4l-.1 -.1l.2 0l.3 .1zM143.6 189.2l-.1 .4l-.5 -.2l.1 -.3l.3 -.3zM102.2 187.4l-.4 -.3l0 -.2l.3 .2l.4 .2zM169.1 207.1l.1 .3l-.5 .2l-.1 -.3l-.1 -.4l.6 -.2zM148.7 209.1l-.2 -.2l-.1 -.2l.1 -.4l.3 -.1l.1 .4zM121.5 185.9l-.2 .1l-.2 .1l-.1 -.2l.3 -.1l.2 -.1zM161.9 243.3l-.4 -.2l0 -.2l.4 0zM149.5 179.5l.3 -.2l.4 0l.4 .2l-.3 .1l-.5 0zM174.2 187.3l-.3 .2l-.4 0l0 -.2l.1 -.2l.2 .1zM131.2 208.9l.2 .2l0 .2l-.2 -.1l-.1 -.1zM115.2 202.2l-.1 -.1l0 -.2l.2 -.2l.2 .1l-.1 .3zM176.2 192.9l.2 -.6l.3 0l-.4 1zM144.5 205.7l-.9 .3l.2 -.7zM145.7 185.2l.3 .3l-.2 .6l-.3 .1l-.1 -.5l0 -.6zM108.8 207.8l-.2 -.5l.4 0l.1 .5zM161.7 172.7l-.6 .5l0 -.4zM144.3 168.6l.1 -.5l.3 -.1l-.2 .7zM107.7 171l.2 .1l-.2 .2l-.1 .2l-.1 -.2l.1 -.2zM177 211.5l.2 0l-.3 .3zM140 178.1l.5 -.6l.6 -.1l-.4 .6zM101 188.6l-.5 -.2l.2 -.2l.4 -.1l.4 .2zM140.5 196.8l-.1 -.1l.2 -.1l.2 0l-.2 .1zM134.3 192.9l.3 .4l-.4 .3l-.5 -.1l.2 -.5zM171.8 197.8l-.2 .1l-.1 -.4l.1 -.2l.2 .2zM179.6 197.8l0 -.4l.5 -.2l0 .7zM121.3 184.8l-.5 .4l-.6 0l.1 -.3l.5 -.2zM122.1 186.2l0 -.2l.2 -.1l.2 .1l0 .2zM154.1 184.2l.6 .4l-.1 .2l-.6 -.1l-.4 -.5zM160.9 180.3l.6 -.1l.4 .4l-.5 .1l-.4 0zM156.1 178.4l-.3 0l.1 -.3zM173.2 192.5l-1 0l.6 -.6zM143.7 148.3l.4 .1l-.2 .3l-.6 -.1zM133.9 189.5l.2 -.4l.5 .1l-.1 .4l-.3 .1zM107.3 172.4l-.5 0l.1 -.2l.4 -.3l.6 -.1l.2 .3zM191.5 157.6l.1 -.1l.2 .3l-.1 .2l-.2 0l-.2 -.2zM197.6 181.5l-.2 -.2l.3 -.2l.3 -.1l0 .3l0 .2zM176.7 211.5l.1 -.4l.5 0l-.2 .5zM135.7 189.1l.3 -.5l.3 .1l-.2 .4zM175.6 190.3l0 .1l-.2 0l-.2 -.2l0 -.1l.2 0zM157.7 170.5l-.5 .5l-.4 .1l.1 -.4l.5 -.6zM142.8 188.1l0 -.2l.1 -.2l.3 .3l-.1 .3zM142.5 195.4l-.3 -.4l.3 -.2l.2 0l.3 .4l-.2 .1zM187 170.2l-.1 .3l-.5 -.6l.1 -.3l.3 .1zM113.9 207.1l.3 -.2l-.2 .4l-.3 .2zM153 204.4l-.1 -.4l.1 -.2l.2 -.2l0 .3l0 .3zM173.4 177.6l-.5 .3l0 -.4zM163.4 200l0 .3l-.2 -.2l0 -.1l0 -.2l.1 .1zM107.2 185l-.1 .2l-.3 -.2zM116.5 170.7l0 .7l-.3 -.5l-.1 -.4l0 -.3l.3 -.2zM124.2 185.1l.6 .2l-.1 .4zM126.6 221.1l0 -.3l.5 -.4l.4 .1l-.2 .6l-.5 .2zM113.7 187.9l-.3 -.1l.1 -.2zM116.3 233.5l.2 -.1l.2 0l.1 .2l-.5 .2zM144 178l.1 .6l.1 .3l-.3 .1l-.4 0l.3 -.5zM115.8 204.4l-.5 -.3l.2 -.3l.7 .4zM147.6 213.3l-.4 .3l-.1 -.2l.2 -.1zM180.4 183.9l.1 .4l-.6 -.2zM129.5 197.5l.2 -.8l.4 .4zM222.4 236l.1 .4l-.3 .2l-.2 -.2l-.1 -.3l.2 -.1zM230 204.4l-.5 .3l-.1 -.5l.4 -.2zM240.1 228.6l-.1 .3l-.6 .1l-.1 -.3l.4 -.2zM235 239.3l-.3 .3l-.5 -.2l-.1 -.5zM225 253.3l-.4 -.6l.6 .2l.3 .5zM231.7 240.7l-.3 0l-.1 -.4l.3 -.1l.1 0l.2 .2zM228.2 201.2l-.5 .1l-.6 -.2l.5 -.5l-.1 -.5l.5 .3l.2 .1l.5 .3zM234 223.2l-.2 -.5l.4 .1l.1 .5zM234.3 192.9l.4 .3l-.2 .2l-.6 0zM227.4 180.2l-.1 .5l-.6 .4l.4 -.8zM225.8 215.6l-.1 .3l-.2 -.1l0 -.2zM226.6 232.1l.6 .9l.3 1.2l-.5 -.2l-.4 -.7l-.5 -1.1zM239 251.4l.4 -.4l.6 .2l.3 .3l.1 .3l-.1 .5l-.8 0l-.4 -.5zM238.3 185.7l-.8 .1l.2 -.5l.6 -.3zM230.6 215.4l.1 .6l-.4 .4l-.4 .1l0 -.7l.5 -.7zM228.9 188l-.6 .1l.2 -.4l.4 -.3l.3 .1l.1 .2zM238.3 213.4l.4 0l.2 .9zM231.3 188.2l.3 -.7l.6 .4l-.1 .6zM234.8 224.4l0 -.6l.2 -.3l.1 0l.1 .3l-.2 .4zM229.6 266.7l-.3 .5l-.2 -.3zM240.1 230.2l0 -.5l.8 .7l.1 .5l-.3 .1l-.5 -.4zM228.4 220.9l-.2 .4l-.4 .1l0 -.4zM228.5 209.3l.3 -.5l.5 .6l.2 .8l-.3 0l-.4 .1zM226.8 215l-.2 -.5l.5 0l.2 .2l-.1 .4zM227.9 243.4l0 -.3l.1 -.4l.4 0l.2 .4l.5 .4l-.3 .2l-.3 .1l-.4 0zM233.6 183l-.4 .1l.2 -.4l.2 -.3l.3 .2l-.1 .3zM235.2 190l-.2 -.3l.2 -.2l.2 .4zM246.1 214.6l.4 .7l-.4 .4l-.4 .3l-.4 -.5l0 -.7l.4 -.1zM228.2 241l-.4 -.2l.2 0l.3 0l.2 .1l.1 .2zM231.4 236.6l0 -.4l.6 .2l-.2 .3zM230 224.3l-.8 .3l-.3 0l-.1 -.2l.5 -.4l.6 -.4l.5 0zM223.9 211.5l-.1 -.4l.1 -.3l.3 -.2l.2 .4l0 .4zM234.6 208.2l.1 -.5l.2 -.1l.2 .1l-.2 .4zM231.1 229.8l.4 .1l-.2 .3l-.4 -.1zM228.8 228l0 .7l-.3 .1l-.2 -.3l.1 -.7l.1 -.3l.2 -.8l.1 .8zM233.1 228.5l-.1 -.4l.1 -.4l.2 .2l.1 .2l.1 .5zM232.6 222l0 -.5l.1 -.2l.3 .1l0 .4zM227.5 227.5l0 -.1l.2 -.2l.2 .1l.3 0l-.4 .2zM229.4 201.2l.6 -.4l.7 .5l-.6 .4zM233 228l.4 .3l0 .4l-.2 .4l-.4 -.3l-.3 -.4zM238.2 209.5l.7 -.2l-.1 .8zM233.1 245.6l-.4 0l-.6 .3l-.2 -.4l.2 -.4l.4 -.2l.3 0l.4 0l.1 .3zM232.7 259.6l.1 -.5l.2 -.3l.7 -.2l.3 .3l.4 .2l-.6 .5zM231 217l-.3 .1l-.4 -.2l-.1 -.4l.3 -.3l.3 -.3l.3 .1l.5 .3l0 .6zM237.3 251.8l.6 .1l-.2 .8l-.7 .1l-.2 -.5l.2 -.4zM226.9 244.4l.4 0l.3 -.2l.4 .4l-.2 .4l-.3 .3l-.5 -.4zM237.2 220.3l0 .2l0 .3l-.3 -.1l0 -.2l.1 -.2zM230.5 236.6l.5 -.4l.1 .7zM231.6 240l.2 .3l-.4 -.1l-.1 -.2zM229.8 220.4l0 .6l-.6 .2l-.1 -.6zM234.7 195.9l-.1 .3l-.6 .1l-.2 -.6l.7 -.3zM234 206.6l0 -.2l.3 0l.2 .1l.1 .2l-.3 0zM235.5 204.6l-.4 -.7l.8 -.1zM236.3 251.6l.3 .2l.1 .2l-.3 .2l-.3 -.2zM229.1 223.9l-.4 -.3l.3 -.1l.4 .2l.3 .3l0 .3zM239.1 247.5l.6 0l-.3 .7zM229.4 239.7l.2 -.4l.3 .4zM228.3 223.8l.4 .4l-.6 .1l-.7 -.2zM229.2 240l-.3 -.1l-.3 -.4l.3 -.2l.5 .1l0 .4zM233.9 225.1l.2 -.1l0 .4l0 .3l-.2 -.3zM224.7 292.8l-.2 .9l-.3 -.7zM215.9 295l.4 0l.4 0l0 .4l.1 .3l-.3 .1l-.3 .5l-.1 -.5l-.1 -.3zM212.3 297.2l-.5 -.3l-.5 -.3l.5 0l.3 .1l.3 .3zM214.7 298.8l.3 -.7l.3 -.1l0 .7l-.2 .6l-.4 .3zM235.6 283.9l.4 -.2l.4 0l-.4 .6l-.4 .1zM219.6 297.3l.1 -.4l.3 -.2l-.1 .5l-.3 .4zM213.2 292.5l.2 .3l-.1 .3l-.6 -.2l-.1 -.4l.2 0zM229.5 288.1l.3 -.1l.5 .1l-.3 .4l-.4 .1l-.4 -.2zM231.2 284.8l.3 -.2l.6 .6l-.3 .3l-.7 -.2zM213.6 291l-.3 -1.4l.3 -.6l.5 .9l.1 .7l-.1 .5zM224.6 287.2l-.6 -.1l.7 -.3zM207.4 303.4l-.2 -.2l-.1 -.4l.3 0l.5 .5l-.1 .3zM213.6 301.4l.4 .1l-.4 .3l-.2 -.1zM207.9 290.1l.8 .2l.6 .4l-.4 .2l-.9 -.3zM235.4 294l.7 .2l.8 .8l-.3 .2l-.6 -.4zM221.3 278.2l.5 -.2l0 .2l.1 .1l-.4 .2l-.1 -.1zM214.9 295.3l.8 .1l-.4 .6l-.5 -.2zM223.2 287.4l.2 -.2l.4 .2l.2 .1l.3 .4l-.4 .1l-.4 -.1l-.3 -.2zM217.9 291.8l-.5 .3l-.5 -.1l-.4 -.1l-.3 -.4l.1 -.4l.4 0l.5 .3zM231.2 280.7l-.2 .4l-.6 -.3l.2 -.4l.6 -.4zM223 289.7l.4 -.5l.8 -.3l.4 .2l-.4 .6l-.4 .6l-.6 0l-.3 -.2zM220.9 298.4l.2 .9l-.2 .6l-.3 -.5l-.4 -.6l.2 -.7zM226.4 293l.1 -.8l.6 .7zM218.7 288l-.5 -.4l.4 -.4zM223 276.9l.7 -.2l-.2 .6zM223.8 292.2l0 .6l-.6 -.1l-.2 -.3zM236.6 298.1l-.2 .5l-.2 0l0 -.5zM226.8 302.2l-.5 -.3l-.3 -.4l-.2 -.5l.2 -.3l.6 .2l.5 .6l-.2 .3zM219.9 279l.3 .3l.3 .5l-.5 .2l-.5 -.4l.1 -.5zM224.2 286.4l-.3 .2l-.3 -.9l.5 -.4zM79.7 171.7l-.6 .4l-.1 -.4l-.2 -.2l.7 -.2l.3 0zM69 173.4l.5 .4l-.4 .3l-.4 -.5zM78.7 166.3l-.2 -.1l.2 -.8l.4 .1l-.1 .4zM64 173.5l.4 .3l-.1 .4l-.4 -.2zM79.4 174.4l.4 .4l-.3 .3l-.1 .1l-.2 .4l-.4 -.4l0 -.4l0 -.5l.2 -.2zM77.2 165.8l-.4 -.1l0 -.4l.6 -.1l.4 .2zM65.5 173.6l.3 -.5l.3 -.4l.3 .2l-.1 .5l-.4 .3zM76.1 174.3l-.1 .5l-.6 -.2zM54.5 172.3l.3 .3l-.5 .2zM67.8 168.4l.4 -.2l.1 .1zM72.8 176.4l.1 .4l-.5 .3l.1 -.6zM69.7 183.8l.4 .1l-.1 .5l-.5 .1zM69.1 185.5l-.5 -.6l.1 -.5l.5 .4l.4 .6l0 .4zM73.6 163.1l-.2 .9l-.5 .2l-.3 0l0 -.5l.5 -.6zM78.1 175.3l.4 -.1l.1 .3l0 .3l-.3 -.1l-.1 -.2zM71.5 170.2l.2 -.1l.1 -.2l.5 .1l0 .1l-.3 .1zM53.9 193.6l-.2 .1l0 -.3l.3 -.1l.1 .1zM72.1 174.4l0 .2l-.3 0l-.6 -.3l-.2 -.4l.7 .3zM68.7 163.6l.1 -.6l0 -.2l-.1 -.4l.5 -.3l.1 .5l.4 .2l-.1 .4l-.3 .4zM76.7 189.3l.1 .6l-.6 -.2l-.2 -.5l.4 -.3zM65.8 184.8l.2 .4l-.3 .3l-.4 -.4l-.3 -.6l.5 -.2zM65.6 174l.2 -.6l.8 -.1l.8 .1l-1 .5zM77.6 173.7l.5 .1l.5 .1l0 .3l-.6 -.1zM76.6 172l0 -.4l.3 .2zM61.1 173.6l-.4 .2l0 -.4l.3 -.3l.4 .2zM76.5 249.2l-.2 .4l-.3 .2l-.4 -.7l-.2 -.7l0 -.7l.5 0l.2 .8zM74.6 260.8l-.2 -.6l.5 -.1zM81.7 261.4l.3 -.8l.3 0l.3 .2l-.5 .5zM78 276l-.2 -.1l-.1 -.3l.3 -.3l.3 .2l0 .4zM62.1 264l-.4 .2l-.4 -.1l-.3 -.2l.1 -.3l.4 .2zM54.1 254l.3 -.3l.2 .2l.2 .6l-.6 0zM75.5 263l.3 0l-.1 .3l-.4 0zM55.5 251.3l.6 -1.3l.4 .5zM64.2 262.7l-.7 -.6l.5 -.1zM81.9 282.2l.2 .4l-.4 .4l-.2 -.6zM69.8 276.8l.1 .4l-.6 0zM75.3 237.5l.7 .2l-.6 .7zM62.2 245.6l.4 -.9l.1 .7zM60 271.7l-.5 -.7l.4 -.2l.4 .8zM69.7 268.1l-1.1 0l-1 -.7l1.1 0zM62.5 270.7l-.5 .3l-.2 -.3l.7 -.4zM75 279.8l-.3 .1l0 -.3l.1 -.1zM76.5 258.6l.3 -.2l.3 .1l-.1 .3l-.3 .1l-.3 .1zM83.1 257.1l.5 -.4l.4 .2l.1 .5l-.6 .2zM56.5 250.5l.9 -.1l0 .6l-.9 .1l-.5 -.1zM73 250.6l0 .3l-.2 0l-.3 -.2l.2 -.2zM59.3 283l.1 -.5l.4 -.3l-.1 .7zM62.8 265.5l.6 -.7l.4 .3l-1.1 1.1zM76.4 262l.6 -.6l-.1 .7zM75 289.4l-.3 -.1l.2 -.2l.4 0l.4 .1l-.3 .1zM174.8 341l0 -.5l.5 .3l.1 .3l0 .4zM174.1 325.3l-.4 -.2l0 -.3l.5 .2zM149.9 340.7l.5 0l.1 .3l-.1 .3l-.4 0l-.2 -.3zM129.1 330.9l.1 -.3l.3 .2l.1 .2l-.1 .2l-.2 -.2zM150.8 340.5l.3 -.1l.4 .1l.1 .5l-.3 .4l-.4 0l-.3 -.2l-.2 -.5zM164.7 333.6l-.1 .4l-.3 -.2zM157.5 326.5l-.4 -.6l.3 -.3l.3 .1l.4 .4l-.2 .5zM174.8 330.8l-.3 0l0 -.4zM176.4 334.1l.1 .5l-.6 .2l-.4 -.4l.1 -.6zM133.3 327.4l.6 .3l0 .5l-.3 .4l-.5 -.2l-.2 -.5zM206.6 331.7l.2 .1l-.1 .3l-.3 -.1l-.2 0l.1 -.3zM161 334.9l.2 -.5l.3 .4zM126 333.1l0 -.5l1 .2zM125.3 328.1l.6 .1l-.6 .5zM164.8 327.6l-.3 -.1l.3 -.4zM132.6 332.5l-.1 -.3l0 -.4l.4 -.1l.3 .4l.5 .2l-.3 .3l-.3 .1l-.3 .1zM167.7 332.8l-.1 -.3l.1 -.2l.3 .1l-.1 .2zM152.4 341.9l.3 0l-.3 .3l-.3 -.1l.1 -.2zM130.6 337.8l.6 .5l-.4 .4l-.2 .1l-.3 -.2l0 -.4zM112.2 336.6l.5 .1l.3 .4l0 .4l-.5 -.2l-.3 -.3zM108.7 334.9l-.5 -.7l.5 -.1l.4 .5zM162.8 328.5l-.5 -.2l.5 0zM142.2 339.6l0 .3l-.7 .5l-.7 -.1l.7 -.5zM161.3 342l0 -.8l.2 -.3l.5 0l.1 .7l-.2 .4zM177.7 340.6l.1 -.3l.3 .4l.1 .2l-.4 -.1zM129.3 341.5l.1 .4l-.6 .4l-.5 0l.2 -.5zM159.6 333.5l.7 -.9l.3 .5zM110.1 338.4l.6 .2l-.4 .6l-.4 -.2zM145.1 330.7l-.2 .3l-.7 -.1l-.5 -.3l-.5 -.4l.5 -.2l.7 .1l.6 0l.1 .4zM155.7 321.6l-.1 -.3l0 -.3l.2 .1l.1 .3l-.1 .3zM110.8 345.6l-.3 -.3l.5 -.2l.4 .1l-.1 .3zM149.5 344.9l.4 0l.3 .7l-.6 .1zM145.5 334.7l.1 -.3l.3 0l.2 .3l-.1 .2l-.4 .3zM141.6 320.3l0 -.2l.4 -.2l.2 0l0 .2l-.2 .1zM145 335.2l.5 .5l-.2 .4l-.6 -.3l-.3 -.4l.1 -.3zM198.5 330l-.1 .4l0 .3l-.4 -.1l-.5 -.2l-.5 -.4l.1 -.5l.7 .2zM141 326.4l.1 -.2l.2 -.1l.1 .2l.1 .3l-.3 .1zM120.7 349.1l-.3 -.4l.3 -.6l.6 .3zM140.6 339l-.3 .6l-.1 -.6zM150.9 340.4l-.2 -.4l.3 0l.4 .3l-.2 .3zM178.1 130.8l-.4 .1l-.7 .1l.6 -.5l.6 -.5l0 .5zM225.9 109.4l-.6 -.2l.1 -.2l.9 .1zM240 120l.4 -.1l.1 .4l-.3 .4l-.5 -.2l0 -.4zM222.8 142l.2 .3l-.8 -.3l-.7 -.1l-.5 -.5l.5 -.1l.9 .3zM232.3 113.2l-.3 -.9l.6 .3zM222.9 146.2l-.3 .5l-.4 .1l-.3 -.1l-.5 -.5l.7 -.1zM223 146.2l.4 .1l-.8 .6l-.3 -.2zM196.5 122.5l-.1 .6l-.5 .4l-.6 -.1l.2 -.6l.3 -.5zM236 130.6l-.3 -.3l.5 .1zM219.6 141.2l.5 .9l.1 1l-.5 0l-.5 -.9l-.1 -1.1zM214 129.6l-.3 -.1l-.1 -.7l.3 -.3l.3 -.4l-.1 .9zM189.4 126.2l-.5 .1l-.1 -.3l.3 -.3l.7 .2zM246.5 140.6l.4 .1l-.1 .2l-.6 .1zM224.5 143.9l.4 .3l-.4 .3l-.4 -.1l-.2 -.2l.2 -.5zM224.9 116.9l-.5 -.6l.9 .2zM195.1 124.7l-.2 0l-.3 -.4l.1 -.4l.2 .1l.2 .2zM247.4 132.7l-.9 0l.5 -.4zM225.1 126.4l-.1 .8l-.5 -1.3zM222.5 138.3l-.4 0l0 -.2l.2 -.1zM215.2 129.2l-.5 -.6l.6 0zM213.9 112.5l.3 -.3l.2 .1l.2 .1l-.1 .3l-.2 -.1zM223 119.3l-.3 -.4l.3 -.3l.3 .4zM204.5 126.8l-.5 1l-.3 -.6zM226.5 140.2l.2 -.2l.2 -.2l.3 .2l.3 .4l.1 .4l-.1 .5l-.4 -.3l-.3 -.3zM230.1 127.8l-.3 .1l-.3 -.1l0 -.3l.3 -.2l.3 .2zM247.7 125l.2 -.3l.3 .2l-.3 .3l-.2 0zM208.2 142.5l.5 .3l-.4 .1l-.6 -.2zM222.2 135.4l-.1 .6l-.5 .5l-.3 -.6l.5 -.7zM214 153.3l-.7 0l.3 -.8l.7 -.3l.2 .4zM214 131.9l.4 .5l-.3 .3l-.3 0l-.1 -.3zM200.9 117.1l-.6 .2l-.2 -.1l-.3 0l.2 -.5l.3 -.3l.4 -.4l0 .4l.2 .1zM210.7 135.7l0 .5l-.1 .3l-.2 -.4l.1 -.3zM243 144.7l0 .1l-.1 .2l-.2 0l0 -.2l.1 -.2zM210.8 128.6l.2 .2l-.2 .2l-.7 .1l.1 -.4zM224.3 146.5l-.5 .2l-.6 -.4l.3 -.3l.6 .3zM190.5 139.4l-.1 .2l-.2 -.2l.1 -.2zM228.7 138.2l-.3 -.2l-.3 -.6l.3 -.3l.4 .4zM204.3 125.7l-.1 .3l-.4 0l-.3 -.5l-.1 -.4l-.1 -.2l-.2 -.8l.5 .3l.3 .7zM191.9 147l1.1 -.5l-.4 .9zM262.2 99l-.1 .8l-.3 -.5l-.1 -.4l-.2 -.6l.1 -.8l.4 -.1l.3 .8zM96.2 113.4l.3 -.4l.2 0l.3 .2l-.4 .3zM73.4 139.4l.5 .1l-.3 .6l-.5 .8l-.2 -.7l-.2 -.6zM84.7 107.1l.1 -.4l.3 0l.2 .5l0 .4l-.1 .1l-.3 0zM91.5 142.2l.1 -.4l.4 0l.2 .4l-.3 .1zM83.3 121.7l.4 .2l-.1 .7l-.4 .4l-.3 -.1l-.1 -.3l-.3 -.2l.3 -.5l.3 0zM86.3 134.8l-.2 -.3l-.1 -.6l.3 -.1l.3 .7l0 .5zM89.6 125.4l-.1 .7l-.5 0l-.3 -.5l.1 -.7l.4 .2zM108.1 117l.3 0l0 .4zM91.8 119.8l-.4 -.4l.1 -.4l.6 .6l.1 .4zM93.6 108.8l-.5 0l-.3 -.2l.7 -.2l.3 0zM104.8 114.9l.6 .3l.3 .4l-.1 .3l-.4 -.4zM99.8 117.8l-.2 .5l-.2 .3l-.2 -.5l.1 -.5l.2 -.4zM96.3 120.4l.3 .1l.3 .3l-.1 .2l-.4 -.2l0 -.2zM73.5 131.8l-.1 -.3l.1 -.3l.4 .2l.2 .3l-.3 .2zM91.2 123.2l-.1 -.2l.5 -.2l.4 .2l-.3 .2zM91.6 118.2l.5 .4l-.6 0l-.4 .1l-.4 -.4l.2 -.4l.5 .1zM103.3 128.8l-.1 -.7l.4 -.5l.2 -.1l.4 -.5l0 .9l-.1 .8l-.4 -.2zM99.5 157.3l-.2 -.1l-.2 -.3l-.3 -.5l.4 -.2l.1 -.4l.1 .4l.2 .2l.2 .7zM72.5 125.5l.6 0l-.1 .3zM95.6 116.4l.6 0l.5 .1l.6 .2l.2 .4l-1 -.2l-.6 .1l-.5 -.3zM81.1 145l.5 .1l-.2 .4l-.4 .3l-.3 -.6zM102 119.3l.3 .2l0 .3l-.4 .4l-.4 -.1l.2 -.4zM86.3 140l.4 -.5l.5 0l.2 .6l.1 .5l-.3 .6l-.4 -.5l-.4 -.1zM90.5 119.2l-.2 -.3l.2 -.1l.3 .1l.1 .2l0 .2zM83.4 134.8l.4 -.2l.4 -.1l0 .5l-.2 .6l-.4 0l-.2 .1l-.3 -.1z"/>
<path fill="#fff" d="M184.2 233l.7 -.1l-.4 .6l-.8 0zM176 241.4l.5 .4l-.5 .4l-.4 -.5zM177.7 243.2l.2 -.4l.2 .5l.2 .3l0 .5l-.3 .4l-.3 -.7l-.3 -.1l-.1 -.5zM153.7 244.1l.3 -.2l.3 0l.2 .2l-.2 .2zM180 238.3l-.2 .6l-.5 -.1l-.1 -.3l.3 -.3zM154.3 242.7l.6 -.2l-.3 .7zM167.5 240.7l-.4 -.3l-.1 -.6l.7 .3l.4 .9zM159.7 244.9l.3 -.6l.8 .6l-.6 .6zM187.2 241.1l-.2 -.2l.3 0l.2 .1l0 .2l-.2 .1zM173.6 238.7l.2 .2l-.2 .3l-.4 -.3zM169.4 245.7l-.3 -.3l.4 -.1l.2 .1l.3 .5l-.4 .1zM177.8 247l-.2 -.6l1.3 .4zM178.5 238.8l-.2 .4l-.8 .4l-.5 -.1l.1 -.4l.7 -.6l.7 0zM178.7 246.2l-.2 -.4l.5 -.7l.2 .7zM170.2 236.3l-.4 -.2l.2 -.5l.4 .2zM170.8 245.5l-.1 -.8l.3 -.1l.3 .7l0 .5l0 .5l0 .7l-.4 -.1l-.2 -.9zM156.9 237.5l-.6 -.4l-.3 -.4l.3 -.6l.5 .2l.6 0l-.1 .6zM171.1 241.2l-.5 .5l-.1 -.4l.5 -.6zM175.9 241l.1 -.2l.4 .1l.4 .4l-.3 .1l-.4 -.1zM176.5 247.5l.2 .5l-.6 .5l0 -.5zM161.8 240.9l.4 .4l-.6 .6l-.3 -.4l0 -.4zM171.8 238.8l-.4 .2l-.4 0l.2 -.5l.4 0zM177.2 234.1l.3 -.1l.2 .3l.3 .5l-.7 -.2l-.4 -.3zM167.8 240.9l-.2 -.4l.5 -.2l.5 .2l-.4 .5l-.3 .5zM164.2 239.5l.7 .1l.6 .2l-.7 .3l-.4 -.2zM181.5 236.4l.3 .2l.1 .3l-.7 .2l-.3 -.4zM171.7 249.5l-.4 0l-.5 -.2l-.3 -.4l.9 .1l.5 .3zM179.6 245.5l1 -.4l.1 .6l-1 .1zM169.9 243.7l-.4 .2l-.2 -.4l.2 -.2zM175.4 244.1l-.3 -.1l-.1 -.3l.1 -.3l.2 -.4l.3 .4l.5 0l-.3 .4l0 .5zM171.8 240l.3 -.4l.1 .5l-.3 .1zM157.7 242.3l-.4 -.6l.4 0zM168.3 237.1l.4 .4l.6 0l-.3 .3l-.1 .4l-.5 .1l-.5 -.2l-.3 -.3l.5 -.3zM177.9 237.4l0 .6l-.6 -.4l.1 -.5l.4 -.3zM158.9 246l-.2 .2l-.3 -.2l0 -.2l.5 0zM191 245.8l-.3 -.2l-.7 -.2l.7 -.5l.7 .2l.4 .2l-.3 .4zM159.6 239.9l-.3 .1l-.8 -.6l.3 -.2l.6 .1zM176.4 241.8l-.5 0l-.2 -.4l-.3 -.3l.4 .1l.3 0l.6 .1l.4 .4l.1 .4zM163.2 242.9l-.3 .6l-.4 -.4zM174.1 237.7l-.1 .4l-.4 -.5zM179 237.2l.4 0l.3 .8l-.3 .3l-.3 -.1l-.5 -.3l.3 -.4zM180.1 242.2l.4 .1l.2 .2l-.1 .4l-.3 -.2l-.1 -.1zM170.4 236.9l.5 .3l-.4 .2zM163.7 249.1l.3 .3l.2 .4l-.2 .4l-.5 .1l-.3 0l-.3 -.2l0 -.4l.4 -.2zM177.1 243.7l.4 .2l.2 .6l-.2 .3l-.4 -.2l-.4 -.3l0 -.5zM161.4 246.7l-.8 .1l.2 -.3l0 -.2l.6 -.1l.9 .1l-.2 .4zM167.4 235l.5 -.2l.6 .1l0 .7l-.7 .2l-.2 -.4zM181 241.7l-.3 0l-.2 -.2l-.3 -.4l.1 -.7l.5 .1l.2 .6zM171.2 235.3l.3 -.1l.2 .3l-.4 .2zM170.5 237.4l.9 .1l-.3 .7zM175.8 235.8l.4 .5l-.4 .7l-.4 .2l-.1 -.7l.1 -.4zM152.2 244.3l-.4 -.3l.3 -.2l.4 .1l.2 .3l-.1 .4zM174.3 241.1l-.1 .4l-.1 .3l-.3 .5l-.2 -.6l.1 -.6l.1 -.6l.4 0zM162.3 240.6l.5 -.1l-.5 1.1l-.3 -.2zM177.2 238l.6 -.5l.6 .2l.2 .3l-.4 .3l-.4 0zM175 238.6l-1.3 .2l.1 -.4zM168.9 234.9l.7 .5l-.5 .5zM165.8 241.9l.5 -1l.2 .4l-.3 1zM182 241.3l.2 -.5l.4 .1l.2 .3l-.1 .5l-.4 -.1zM168.8 241.9l.1 -.5l.5 0l.4 .3l0 .4l0 .4l-.4 -.2l-.4 0zM174.4 232.1l.1 -.4l.4 -.1l.1 .5l.3 .7l-.6 .2l-.5 -.2zM144.3 232.9l-.2 .6l-.5 .5l-.7 0l0 -.5l.7 -.4zM162.9 238.3l.4 -1.3l.5 .4zM168.4 236.1l.5 0l.3 .2l.4 .3l-.5 .1l-.6 .1l-.2 -.3zM166.5 239.4l0 -.7l.3 .2zM165.8 238.5l.6 .6l-.1 .3l-.5 -.4zM160.5 244.8l-1.1 .2l.1 -.5l1.1 -.1l1 -.1l-.2 .4zM164.2 236.1l.3 .3l-.5 .4l-.5 -.3l-.3 -.3l.3 -.2l.5 -.4zM169.6 243.9l0 .7l-.2 .4l-.2 .1l-.2 -.2l0 -.5l.2 -.5zM161.3 245.3l-.5 -.1l0 -.6l.1 -.6l.4 0l0 .6z"/>
<path fill="#fff" d="M105.7 334.1l1.1 -.7l1.4 -.5l.7 -1.7l1.4 .8l1.5 .5l1.9 -.3l-.1 1.5l.7 1.5l.1 .9l-.7 1.9l-.2 1.2l-1.5 1.2l-1.3 .2l-1.7 .1l-.9 -.2l-.5 -1.1l-1 -1l-.8 -.4l-.5 -2.2zM206.4 123l1.6 -.7l.6 .1l1.1 .3l.6 1.2l-.6 .2l-.5 1.7l-.5 -.2l-1.3 .3l-.9 -1.1l.2 -1zM242.9 145.1l.9 -.2l.8 -.4l.9 .9l.9 .5l-1.5 1l-.7 .3l-.9 -.8l.4 -.2z"/>
</g></g>
<circle cx="142.55" cy="220.4" r="134.7" fill="none" stroke="#dd1f38" stroke-width="1.3"/>
<ellipse cx="142.7" cy="220.75" rx="98.3" ry="99.5" fill="none" stroke="#00b050" stroke-width="2.4"/>
<ellipse cx="143.1" cy="220.15" rx="78.6" ry="78.85" fill="none" stroke="#ff0000" stroke-width="2.4"/>
<rect x="360.2" y="85.7" width="309.4" height="271.1" fill="#fff"/>
<path d="M414.1 85.7V356.8M468.1 85.7V356.8M522 85.7V356.8M576 85.7V356.8M629.9 85.7V356.8M360.2 322.9H669.6M360.2 289H669.6M360.2 255.1H669.6M360.2 221.2H669.6M360.2 187.4H669.6M360.2 153.5H669.6M360.2 119.6H669.6" stroke="#bcbcbc" stroke-width="1" fill="none"/>
<g clip-path="url(#ax1)">
<polyline fill="none" stroke="#1f77b4" stroke-width="1.85" stroke-linejoin="round" points="360.2,356.8 366.5,356.8 372.8,48 379.1,235.8 385.5,265.2 391.8,266.1 398.1,185.1 404.4,139.3 410.7,144.2 417,150.5 423.3,160.6 429.7,171.1 436,167.8 442.3,170.2 448.6,170.6 454.9,176.2 461.2,180 467.5,180 473.9,185.1 480.2,192.1 486.5,198.7 492.8,203.3 499.1,207.8 505.4,209.8 511.7,215.4 518.1,217.8 524.4,222.1 530.7,227.5 537,231.3 543.3,236.7 549.6,239.4 555.9,240.5 562.3,240.2 568.6,238.6 574.9,236.7 581.2,235.3 587.5,234.5 593.8,231.3 600.1,228.6 606.5,226.4 612.8,224.8 619.1,221.3 625.4,215.1 631.7,209.1 638,202.4 644.3,192.1 650.7,182.7 657,171.3 663.3,161.9 669.6,151.9"/>
<g fill="#1f77b4"><circle cx="360.2" cy="356.8" r="4.2"/><circle cx="366.5" cy="356.8" r="4.2"/><circle cx="372.8" cy="48" r="4.2"/><circle cx="379.1" cy="235.8" r="4.2"/><circle cx="385.5" cy="265.2" r="4.2"/><circle cx="391.8" cy="266.1" r="4.2"/><circle cx="398.1" cy="185.1" r="4.2"/><circle cx="404.4" cy="139.3" r="4.2"/><circle cx="410.7" cy="144.2" r="4.2"/><circle cx="417" cy="150.5" r="4.2"/><circle cx="423.3" cy="160.6" r="4.2"/><circle cx="429.7" cy="171.1" r="4.2"/><circle cx="436" cy="167.8" r="4.2"/><circle cx="442.3" cy="170.2" r="4.2"/><circle cx="448.6" cy="170.6" r="4.2"/><circle cx="454.9" cy="176.2" r="4.2"/><circle cx="461.2" cy="180" r="4.2"/><circle cx="467.5" cy="180" r="4.2"/><circle cx="473.9" cy="185.1" r="4.2"/><circle cx="480.2" cy="192.1" r="4.2"/><circle cx="486.5" cy="198.7" r="4.2"/><circle cx="492.8" cy="203.3" r="4.2"/><circle cx="499.1" cy="207.8" r="4.2"/><circle cx="505.4" cy="209.8" r="4.2"/><circle cx="511.7" cy="215.4" r="4.2"/><circle cx="518.1" cy="217.8" r="4.2"/><circle cx="524.4" cy="222.1" r="4.2"/><circle cx="530.7" cy="227.5" r="4.2"/><circle cx="537" cy="231.3" r="4.2"/><circle cx="543.3" cy="236.7" r="4.2"/><circle cx="549.6" cy="239.4" r="4.2"/><circle cx="555.9" cy="240.5" r="4.2"/><circle cx="562.3" cy="240.2" r="4.2"/><circle cx="568.6" cy="238.6" r="4.2"/><circle cx="574.9" cy="236.7" r="4.2"/><circle cx="581.2" cy="235.3" r="4.2"/><circle cx="587.5" cy="234.5" r="4.2"/><circle cx="593.8" cy="231.3" r="4.2"/><circle cx="600.1" cy="228.6" r="4.2"/><circle cx="606.5" cy="226.4" r="4.2"/><circle cx="612.8" cy="224.8" r="4.2"/><circle cx="619.1" cy="221.3" r="4.2"/><circle cx="625.4" cy="215.1" r="4.2"/><circle cx="631.7" cy="209.1" r="4.2"/><circle cx="638" cy="202.4" r="4.2"/><circle cx="644.3" cy="192.1" r="4.2"/><circle cx="650.7" cy="182.7" r="4.2"/><circle cx="657" cy="171.3" r="4.2"/><circle cx="663.3" cy="161.9" r="4.2"/><circle cx="669.6" cy="151.9" r="4.2"/></g>
<path d="M541.4 85.7V356.8" stroke="#ff0000" stroke-width="2.2"/>
<path d="M587.3 85.7V356.8" stroke="#00b050" stroke-width="2.2"/>
</g>
<rect x="360.2" y="85.7" width="309.4" height="271.1" fill="none" stroke="#151515" stroke-width="1.15"/>
<path d="M360.2 356.8v4.2M414.1 356.8v4.2M468.1 356.8v4.2M522 356.8v4.2M576 356.8v4.2M629.9 356.8v4.2M360.2 356.8h-4.2M360.2 322.9h-4.2M360.2 289h-4.2M360.2 255.1h-4.2M360.2 221.2h-4.2M360.2 187.4h-4.2M360.2 153.5h-4.2M360.2 119.6h-4.2M360.2 85.7h-4.2" stroke="#151515" stroke-width="1" fill="none"/>
<g font-family="DejaVu Sans, Liberation Sans, sans-serif" font-size="12.0" fill="#151515" stroke="#151515" stroke-width="0.25">
<text x="360.2" y="374.9" text-anchor="middle">0</text>
<text x="414.1" y="374.9" text-anchor="middle">500</text>
<text x="468.1" y="374.9" text-anchor="middle">1000</text>
<text x="522" y="374.9" text-anchor="middle">1500</text>
<text x="576" y="374.9" text-anchor="middle">2000</text>
<text x="629.9" y="374.9" text-anchor="middle">2500</text>
<text x="350.9" y="361.5" text-anchor="end">0.000</text>
<text x="350.9" y="327.6" text-anchor="end">0.025</text>
<text x="350.9" y="293.7" text-anchor="end">0.050</text>
<text x="350.9" y="259.8" text-anchor="end">0.075</text>
<text x="350.9" y="225.9" text-anchor="end">0.100</text>
<text x="350.9" y="192" text-anchor="end">0.125</text>
<text x="350.9" y="158.2" text-anchor="end">0.150</text>
<text x="350.9" y="124.3" text-anchor="end">0.175</text>
<text x="350.9" y="90.4" text-anchor="end">0.200</text>
<text x="514.5" y="391.2" text-anchor="middle" font-size="12.30">Radius (pixels)</text>
<text transform="translate(308.4 221.5) rotate(-90)" text-anchor="middle" font-size="12.18">Porosity (v/v)</text>
</g>
<g font-family="DejaVu Sans, Liberation Sans, sans-serif" font-size="14.75" fill="#151515" stroke="#151515" stroke-width="0.25" text-anchor="middle">
<text x="143" y="78.1">Binary Image</text>
<text x="514.3" y="78.1">REV Ratio</text>
<text x="317" y="61">D1 Radial Top</text>
</g>
<g clip-path="url(#clip2)"><g filter="url(#soft)">
<path fill="#000" d="M127.1 473.5l1.4 .4l1.1 -1.1l1.1 -.2l2.1 0l1.6 -.1l1.2 .2l.3 1.1l.5 1.7l0 1l-.3 1.8l-1.2 .3l-.6 .8l-1.5 .5l-1.4 -.7l-1.6 -1.2l-2.3 -.4l-.4 -1.8l-.3 -.4zM120 490.8l1.3 -1.2l.5 0l1.2 -.4l1.5 -.9l1.4 1.1l1.4 0l1.7 .9l.9 1.5l-.7 1.9l-.1 1.8l1.1 1.5l-.9 .7l-1.2 1.9l-.1 1.6l-.8 .5l-.8 -1.3l-.4 -.9l-1 -1.1l-1.8 -1.6l-.3 -.6l-1.7 -1.8l-1 -1.1l0 -1.1zM99.9 483.4l1.1 .7l1.8 -.5l1 -1.3l1.6 2.7l0 1.2l-.9 .9l-2 .3l-.6 -.3l-1.2 -2zM108 479.4l1 .9l2 .6l.7 .6l.7 .9l.9 1.1l1.4 0l.5 1.5l-1.1 -.7l-2.2 -.4l-1.3 -.2l-.9 -1.4l.3 .1l-1.7 -1.2zM108.8 528.4l.9 -.2l1 0l1.1 0l1.4 .3l1.4 -.4l-.8 1.3l.3 1l-.9 1.3l.2 1.1l-1 -.6l-.9 .6l-1.2 -.8l-.1 -.8l-1 -.8l.1 -1.1zM90.6 554.2l.1 0l2.5 -.4l.1 .5l2.2 .9l1.4 -.2l1 2l1.6 .4l-1.3 1.8l-1.3 -.1l-1.7 -.9l-1 .5l-.8 -.3l-1.3 -1.1l-.7 -1.8l-.5 0zM70.2 572.6l1.1 .3l.3 -.7l1.1 0l.7 .8l-.2 .4l.1 1.3l.7 1.1l-1.2 .2l-1.7 .2l-.7 -.2l.2 -1.1l-.2 -1zM107.2 572.2l1 -.7l1.2 -.1l.8 .1l1 -1.1l.1 1.8l-.7 1l0 .7l-.3 1.4l.6 1.2l-1.6 -.8l-1.1 -.4l-1 -.1l.5 -1.6l-.3 -.4zM32 593.1l1.1 -.7l1.2 -.4l-.3 1.6l.3 .4l-.1 .9l.8 1.2l-1.2 -.1l-1.5 1.1l-.1 -1.5l-.2 -.9l0 -.4zM87 587.6l1.2 .1l1.1 -.6l.7 -.2l1.1 -.2l0 1l-.3 .9l.2 1.7l-.1 .6l.8 1.4l-1.4 .1l-1 -.6l-1 0l-1.5 -.1l.3 -.7l-.1 -1.4l0 -.4zM25 600.7l1 0l1.6 -.8l.7 .5l.7 .4l-.6 .8l.5 1.1l-1.5 .6l-.6 -.2l-1.3 -.3l-.3 -.9zM36.2 565.8l1 -.5l.7 -.2l1 .1l.5 1.1l-.2 .8l.4 1.1l-1.7 .4l-.6 -.5l-.9 -.2l-.1 -.3l-.4 -.9zM60.3 609.2l.7 -.5l2.1 -.5l1.1 -1.8l.5 -.3l2.3 -.3l.8 -1l1.7 -1l.6 -.2l1.6 -.4l.7 -.8l1.7 .1l1.9 -1.2l1.1 -.5l.2 -1.1l1.2 -1l1.8 -.4l2.3 .4l1.6 -.3l.6 .3l2.1 .6l-.3 1.5l-1 .7l-1.3 1.8l-1 .1l-1 .4l-.8 1.2l-1.1 .4l-2.1 .2l-1.5 .8l.1 1.9l-2 -.1l-1.3 .3l-.3 1.7l-1.9 .2l-.9 -.6l-2.2 0l-1.5 -.8l-.5 -.2l-2.1 1.1l-1.1 -1.2l-1.2 .8zM129.8 539.5l1.6 -.7l.2 -.1l1.1 .2l.5 1.6l-.5 1.5l-1.1 -.3l-1.3 -.5l-.3 -1.2zM77.7 587l.7 -.2l.8 -.2l1.2 .4l-.6 .7l-.1 1.5l0 .9l-.7 -.1l-1.5 .2l-.4 -1l.5 -1.7zM115 598.4l2.2 -.2l-.6 1l.2 1.4l.4 .9l.2 .9l-1.5 -.1l-.7 -1.1l.5 -.6l.1 -1.2zM52 528.8l.6 0l.9 -.6l1.2 -.3l0 1.4l.7 1.2l-.1 .4l-.7 -.1l-1.5 .8l-.4 -.4l-.8 -.8l.1 -.5zM72.3 509.2l.8 -.3l1.5 .5l.1 .6l-.2 1.1l.7 1.3l-1.1 -.1l-1.7 -.1l-.4 -1l.3 -.9zM50.9 515.1l1.3 -.7l.5 -.7l1.4 0l.1 1l0 1l.4 1.3l-1.2 -.3l-.5 .6l-1.3 0l-.1 -.6l-.7 -.8zM63.1 589.5l1.1 0l1.2 -.2l1.3 .6l.3 1.3l-.1 .4l-.7 .8l-1.5 .1l-.5 0l-.9 -1.2zM102.5 560.5l1.3 -.5l1 -.1l.2 1.4l-.2 1.5l-.4 -.3l-1.9 -.2l0 -1.2zM114.2 560.9l2.2 .1l-.5 .8l.3 1.6l.1 .4l-2.1 .3l.4 -1.4l-.3 -.4zM135.6 561.2l1.5 -.2l.4 1.1l-.1 1.6l-1.5 .2l-.5 -1.8zM192.2 545.4l-.6 -1.3l1.4 -1.6l.8 -1.5l.4 -.6l-.6 -1.4l1.5 -.3l2.1 -1.6l1.4 .2l1.1 -1.2l.6 -1l.2 -2.6l.1 -1.1l.1 -1.1l1.2 -.9l.3 -1.4l.8 -2l1.7 1l1.6 .6l2 1.4l.8 -.4l1.8 -.1l1.3 .2l1.1 .1l-1.3 1.5l-.1 .7l0 1.9l-1.3 1.2l-1.2 .3l-1.4 .4l-1.1 1.1l-1.4 .6l-.1 .3l-1.1 1.7l-.7 2.1l.6 .6l1.3 .7l1.8 1.5l.5 1l1.7 .4l.8 1l1.4 1.2l1.2 .7l.3 .8l1 1.9l-.2 1.8l-.9 -.4l-1.5 1.4l-1.7 .7l-.7 -.4l-2 -.1l-1.6 -.8l-.2 -.2l-2 -.9l-1.7 0l-1.4 -.5l-1 -1.1l-1.1 -.6l-1.7 0l-1.5 -.5l-1.1 -.1l-.5 -1.2zM174.4 478.3l2.2 -1.6l.6 .5l1.5 -.2l.9 1.3l.5 1.3l.7 .7l1.2 1.3l1.7 0l2.2 1.2l-1.6 2.2l-1.1 .7l-1.3 -.2l-1.2 -.6l-1.1 .5l-1.1 -1.4l-1.5 -.9l-.5 -1.8l-.4 -.2l-.3 -2.4zM163.4 484.6l1.3 -.3l1.5 .9l1.1 -.4l0 1.2l1.2 1.6l-.5 2.3l-1.4 .4l-.9 .8l-.3 -.9l-1.4 -1.1l.1 -1.9l-.6 -1.4zM210.3 490.5l.2 .3l1.4 .3l1.2 .4l1.4 0l-.9 .9l-.3 1.4l-1.4 -.2l-1 -.4l-.5 -.6l-.7 -.9zM157.6 505.1l1.4 -.3l.9 -.4l.9 -.6l.9 1.3l.2 1l.2 1.4l-1.1 -.2l-1.7 .1l-.3 .2l-.7 -.8l-.2 -1.4zM221 507.8l1.2 .3l1.5 -.4l1.9 .4l.9 .1l1.1 1.5l1.6 -.1l1.7 1.2l1.7 .8l-.1 1.1l1.1 1.8l.8 1.5l-1.9 -.2l-1.3 -.6l-1.5 -.1l-1.7 -.5l-.2 -2l-1.6 .2l-1.5 -1.3l-.8 -.4l-.1 -1.1l-2.1 -1.2zM241.5 515.7l1 .7l2.4 .2l.7 .9l.9 1.4l1.6 1.1l.3 1.2l1.6 1.1l.5 .8l1.6 1.2l.9 1.7l1.1 .9l1.2 1l-.3 .9l2.1 .8l-1.7 .1l-1 -1.9l-1.5 .5l-2.3 -1.3l-1.1 -.9l-.2 -.7l-1.9 -1.3l-.5 -1.5l-1.5 -.6l-1.4 .4l-1.5 -1.1l.3 -1.3l-1.3 -.9l.2 -1.5zM238.6 536.6l1.1 .6l2.1 1.2l1.2 .6l.4 .8l.5 2.2l1.2 .7l.5 1.4l.8 1.7l.1 1.1l1.4 1.2l.5 1.1l1.1 -.1l-.2 2.1l-1.2 .9l-1.9 -1.4l.1 -.7l-1.9 .1l-.6 -1.6l-.2 -1.8l-1.1 -.9l-.5 -1.4l-1.1 -1.1l-.7 -1.5l-.2 -.5l-1 -2.3l.2 -.1zM246.5 553.7l2.5 1.9l1.3 .3l.4 1.5l-1.1 1.2l.7 2.7l.4 1.4l-1.5 -1.5l-.9 -.9l0 -1.8l-.3 -1.3l-.2 -1.7zM245.5 583.2l2.1 -.3l1.4 .1l1 -.8l1.5 1.7l.3 .9l.1 1.8l1.2 1.3l1.8 -.5l2.1 .4l1 -.5l2.3 1.1l1.5 .8l.7 .5l-.4 .9l.1 1.4l-.8 1.3l.6 2.1l-1.7 .1l-.9 -.6l-2.1 -.1l-.9 0l-1.3 -1.3l-.6 -1.5l-1.2 -.9l-1.5 .6l-1.7 -1.2l-1.7 .7l-1 -.7l-1.9 -1.8l.3 -1.5l-.5 -1.3l1.1 -1.5zM171.7 546.4l1.7 -.4l.4 -1.1l1.8 -.9l.8 -.4l1.3 -1.2l.1 1l1.1 1.9l-1.4 .4l-.4 2l-1.8 -.2l.3 1l-1.7 -.8zM180.5 558.1l1.3 -1.2l.7 -.7l2.3 .1l1 -1.3l.9 1.1l1.9 -.1l1 .6l.9 .8l2.3 .4l.2 .5l1.6 -.2l1.3 .7l-1.8 1.2l-1.3 .2l-.5 0l-1.9 .1l-.2 -.5l-2.5 1.1l-.4 -.8l-1.6 .7l-1.3 -.6l-2.3 .4l-1.3 1.1l.5 -2.5zM148.8 527.8l1.5 .4l.4 .8l1.5 .6l1.1 .2l2 .5l1.6 .4l.6 1l-1 1.2l-1 -.7l-2 .8l-1.8 -1.7l-.6 .1l-1.9 -.3l.4 -.9zM215.1 603.5l1.8 .2l1 .6l.6 -.5l2.1 -.2l.6 .4l1.7 .8l1.2 -.4l1.2 1.3l1.2 .1l-1.5 1l-.5 0l-1.8 .2l-1.1 1.1l-1.7 -.7l-.6 .4l-1.3 .3l-1.1 -1.1l-1.1 -1.6zM146.8 580.6l.5 -.1l1.6 0l.4 -.4l.1 1.3l.1 .9l.3 1.6l-1.6 -.3l-.4 .3l-1.2 -.1l0 -1.4l.3 -1.2zM166.8 594.5l.7 -.7l.9 .7l.3 .7l.2 .9l-.8 1l.8 .9l-1.3 .1l-.9 .6l-.1 -1.5l-.4 -1.2l.2 -1zM219.2 584.4l.8 .2l1.8 .8l.4 -.1l1.2 .5l-.6 1.3l-.4 1.1l-1.5 -.5l-.7 -.5l-.7 -.8l-.3 -.9zM177.5 529.4l.6 0l1.3 -.1l.7 -.7l1.6 -.1l-1.1 .8l0 1.3l-.4 1.2l-1.7 .2l-1 -.5l-.4 -.8zM190.4 508.5l1.4 -.3l1.6 -.1l-.2 1l.4 .3l-.1 1.3l.7 1.3l-2 -.1l-.8 -.1l-.3 -.9l-.2 -.4l-.1 -.9zM220.8 532.6l.5 .1l1.8 .1l-.1 .8l.1 1.6l-.1 .4l-1.1 .5l-.9 -1l-.8 -.2l.7 -.9zM173.6 514.9l1.3 -.5l.8 0l1.6 -.1l1.2 .7l-.4 1l-.6 1l.4 1l-1.5 -.4l-1.3 .4l-.9 -.2l.3 -1.7l-.7 -.7zM158.4 566.3l.9 .7l.7 .7l.9 -.1l-.5 .7l.1 1.8l-1.7 -.8l-.3 -.2l-.5 -1.2zM200.4 507.3l.9 -.2l.8 0l.6 .9l.4 .4l0 1.2l-1.8 .4l-.7 .4l-.3 -.8l.5 -1zM213.7 524l1.6 .1l1.1 -.4l.4 .3l.4 .6l-.8 1.2l-.5 .9l-1 .1l-1 .4l-.1 -.9l.2 -1.3zM182.3 551.1l.9 -.9l.9 -.5l.8 -.3l0 1.1l.1 1.7l.3 .7l-1.2 .4l-1.5 .3l-.2 -.6l-.2 -1.3zM174.2 585.4l.2 .3l1.5 -1l.3 .3l.3 1l.9 .3l-1.4 .3l-.3 .4l-.9 .5l-.8 -.6zM207.9 589.2l1.5 -.1l1.3 -.9l-.2 1.2l.2 .8l0 1.6l-1 -.2l-1 .3l-.9 -.4l0 -.8l.1 -.6zM267.1 596.9l1.6 -.1l.5 0l-.1 .9l.1 1.5l.5 1.5l-1.4 .1l-1.4 -.3l.2 -1.4l.4 -.7zM58.7 632.9l.6 -.5l1.1 -.4l2.1 0l1.3 -.5l.5 1.3l1.2 .2l1.5 1.1l.1 .4l.5 1.9l-.1 1.3l-.3 .7l-2.2 1.3l-1.6 -.8l-.4 1.1l-1.6 .4l-.4 -1l-1.2 -1l-2.1 -1.2l.4 -2.4l.2 -.5zM73 624.9l1.6 .1l1.6 -.4l1.4 -.6l1 -.7l.4 2.3l-.8 1.3l.8 1.5l.4 1.4l-.8 1.1l-1.3 .8l-1 1.4l-.9 -1.5l-1.3 -.6l-1.3 -1.6l0 -.8l.3 -2.3zM66.2 642.5l1.4 .2l1.3 -.1l.8 -.8l.6 1.8l2.1 .9l1.2 .3l.3 1.6l.5 .9l.7 2.3l.1 .4l-1.5 .1l-2 -.7l-1.2 .7l-.5 -1.9l-1.7 .3l-1.7 -.9l0 -2l-.5 -1.5zM82.7 643l1.3 .1l1.7 .5l.6 -1.4l2.1 .9l1.2 .7l.6 .1l1.5 1l-1 1.6l-.5 1.4l-1.2 .3l-1 0l-2 -.1l-1.1 .2l-.8 -1.2l-1.4 -1.2l.3 -1.4zM90.9 660.4l2.1 .4l1.3 .4l1.1 -.3l.6 .9l.3 2.4l1.7 .4l.7 2.2l1.3 .1l.4 1.6l.1 1.4l.9 2.2l-.4 .6l2.5 .1l.6 .6l1.3 .4l1.1 .6l1.6 2l1.5 1.6l-2.1 1.4l-.9 .6l-.6 .3l-1.2 .4l-.8 -.5l-1.5 -.5l-2.2 -.5l-.5 -.7l-.7 -1.6l-.4 -1.9l-.1 -.5l-1 -1.9l-.8 -1.4l-.5 -.6l-1.6 -1.9l-.6 -1.2l-.6 -1.4l-.5 -.9l-.1 -1.4l-1.8 -.8zM114.9 692.4l.7 .5l1.5 .8l0 .5l-.2 1.3l-.2 2.2l0 .5l1.5 1.9l-2 1.8l-1.7 .3l.2 -1.1l-.3 -2.1l.7 -.1l-.7 -1.8l.6 -1l-.5 -1.9zM133.4 684.3l.9 -.8l0 -1.1l2 -1.4l-.3 -1.7l2 .6l1.2 1.9l-.3 .1l-.7 2.5l-.5 .3l.1 1.6l-2.2 1.4l-.6 -.5l-1.5 -1.2zM116.2 654.7l1.1 -.4l2.2 -1.1l.2 -.9l2.2 0l.9 1.2l-.9 .6l-1.5 .4l-1.5 1.5l-.6 -.2zM60.3 609l1.9 -.4l.7 .2l2.3 -.2l1.4 -.9l1.2 -.4l1.6 .1l1.2 -.8l.5 -.7l1.1 -.6l1.8 .1l1.3 -.3l2.1 1l1.3 .5l-1.7 .7l-1.4 1l-.4 1.1l-.8 1.2l-2.6 .7l-1.3 -1l-1.7 .5l-1.1 -.1l-.8 1.3l-2 -.8l-.9 .5l-1.2 .3l-.9 -.6zM110.3 609l.5 .4l1.4 -.9l1.2 .2l1 -.7l-.1 1.5l1.1 .8l-.2 1.2l-1.2 .3l-.9 .1l-.5 .7l-1.6 -.3l-.4 -.6l.3 -1.8zM14.7 623.4l1.1 -1.2l.8 -.4l.5 .3l1.3 -.7l.4 -.5l.6 1.3l.9 .9l-1.5 0l-.8 1l-.4 .5l-1.5 .8l-.5 -1.2l-.1 -.9zM142.3 625.5l2.7 .7l0 2l-.4 1.4l-.2 .6l.7 2.1l.1 1.2l-.3 .7l-2.2 .7l.3 -2.2l-.5 -.3l.5 -2.3l-.6 -.7l.8 -1.6zM130.1 626.1l.9 .3l1.2 0l.2 .7l-.1 1.9l-.8 -.1l-1.5 .2l.2 -2zM98.7 638.2l.4 -.3l1.6 -.4l.9 -.4l1.2 -.1l1.1 -.4l0 1.7l-.4 1.2l-1.4 -.5l-1 1l-1.5 -.4l-1.1 .5l0 -1.3zM76.7 653.1l1.5 -.2l2.1 -1l-.5 1.9l.6 .5l0 1.8l1.7 1.3l-1.3 .3l-2.7 .9l.9 -2.1l-1.1 -1.5l.2 -.3zM215.4 698.7l.9 -.4l2.2 .8l1 -.5l1.6 0l.4 .5l1.1 -1.1l1 -1.7l1 -.2l1.1 .8l2.4 -.6l.5 1l-.4 .7l.1 2.1l.2 1.4l0 1l.7 .5l.1 2.1l1.3 .9l-.2 .1l1.7 1.9l.9 2.1l.6 1.1l-2 -.5l-1.2 1.3l-.8 .2l-1.2 -.3l-1 -1.4l-1.8 -.4l-.7 -.7l-.7 -1.2l-1.1 -.8l-.6 -1.2l-1.9 -.9l-.2 -.3l-.8 -1.1l-1.4 -.3l-1.5 -1l-.3 -1.7l-.8 -1.3zM219.9 661.4l1 -1.1l1.2 -.9l1.3 -1l1.5 1.7l.8 1.6l.9 .9l.5 .6l-.7 1.9l-.4 1.9l-1.1 -.7l-1.7 .2l-2.1 1.1l-.9 -1.3l-1.4 -2.3l.4 -1.5zM220.9 640.3l1.9 -1.5l2 -.5l1.2 -1.1l-.2 2.4l.6 .4l-.3 2.5l-.1 1.5l-.6 1.5l0 .2l-1.6 -.6l-1.7 -1l.5 -.7l-1.5 -2.6zM270.8 635.9l1.5 -.8l2.1 .6l1 -.5l1.2 .2l-.9 1.3l.2 1.1l.2 2.7l0 1.1l0 .7l-.2 2.1l-1.9 .4l-1.3 .8l-.2 -1.8l.4 -1.1l-.5 -1.7l-.1 -1.2l-1 -2l-.1 -.6zM263 663.8l.4 0l1.6 -.1l1.4 0l.6 -.8l.1 1.6l.3 .9l1 1l-1.8 1l-.6 -.2l-1.1 .7l-.3 -.5l-1 -1.5l-.1 -.4zM239.3 681.8l.9 .4l1.2 -1l2.6 -.8l.4 -.5l.1 1.8l.5 1.6l.6 .6l-1.7 1.2l-1 1.2l-.7 .1l-.9 -1.9l-1.2 -1.2zM162.7 722.7l.7 -.7l2.4 -1.3l1.3 1.8l.7 1.1l-.6 1.8l.4 .7l-.3 2.8l-.7 .6l-1.6 .1l-1.6 .2l.1 -1.2l-1.1 -2l.1 -1.6l-.6 -1.6zM197.9 627.8l1.6 -1.4l2 .6l.1 -.9l2.2 .4l.8 1l1.6 1.7l-2.2 1.1l-.6 -.5l-1.6 0l-.9 0l-1.6 -1.7zM242.4 622.6l2.2 -.6l0 -.3l2.6 -.9l.6 -.2l1.8 1.7l1 -.4l1.2 .9l.2 1.1l-.8 2.5l-1.1 -.4l-1.6 0l-.7 -.5l-1.3 -1l-2.2 -.6l-1.2 -1.5zM266.2 612.1l.7 -.2l1.7 .5l1.4 -.4l1.9 -.7l.7 1.7l-.4 1.1l1.7 1.9l-2.2 -.6l-1.4 1.6l-.6 -1l-1.6 -1.1l-.9 -.1l-.1 -1.4zM174.8 648.1l1.3 -.1l.7 .1l1 -.4l.7 .3l.6 1.4l0 .9l-.8 .8l-1 .1l-1.7 .5l.3 -.9l-.7 -1.3zM156.8 660.9l.8 0l1 .4l1.3 .2l.5 .7l.5 .8l0 .8l-1 .2l-1.4 -.3l-1.3 .3l0 -1l-.5 -1zM160.3 643.8l.5 .6l1.8 0l.8 0l.9 -.5l-.3 1.7l.6 .9l-1.2 -.5l-1 -.2l-.5 .5l-1.2 .3l.1 -1.1zM147.3 618.5l1 .4l1.5 -.6l1.1 .4l.8 -.1l1.1 -.2l-.4 1.8l.7 .4l-.9 .4l-1.6 -.5l-1 .8l-.3 0l-1.6 -.6l0 -.5zM144 631.5l.9 0l1.1 -1l-.4 1.3l-.1 .5l.4 1.4l-.4 .6l-.1 1l-1.5 .1l-.3 -1.2l.6 -1.3zM149.8 687.7l1 -.4l.1 -.1l1.2 .3l.2 .3l-.6 1.1l.4 .8l-.4 1l-.2 1.4l-.8 .2l-1.5 -.3l-.1 -1l.6 -.9l-.3 -1.1l-.1 -.3zM192 674.6l.7 .5l1.6 -.6l.4 -.4l.2 1.2l0 1.1l-.1 1l-1.6 -.1l-.6 .6l-.3 -.8l-.6 -1.4zM228.2 621.9l.3 -.2l1 -.3l2 -.4l1 -.1l-.1 1.1l-.8 .2l.3 1.3l-.2 1.1l-1 .1l-.8 .4l-1.4 .2l-.2 -1l-.4 -1.1zM212.3 632.9l.9 -.1l1.2 -.2l1.2 -.2l-1 .7l-.1 1l.2 .9l-.5 .4l-1.1 .7l-1.1 -.2l0 -.8l.2 -1.4zM183.5 731.4l1 -.4l1 -.6l.9 -.1l1.4 -.3l-.9 1.2l-.2 .7l-1.1 .4l-.9 .7l-1.1 -.1l-.2 -.6zM140.2 625.3l.8 -1l.7 .4l1.2 -.9l-.2 1l-.5 1.5l.2 .6l-1.3 1l-1.2 .1l.2 -.8l.3 -1.4zM236.5 649.1l1 .6l1.3 -.4l-.3 .8l-.3 1.2l-.7 .3l-1.1 .2l.3 -.9zM192.9 657.6l1.4 .5l.4 -.7l1.5 -.3l-.6 1.3l.3 1.6l-1.3 0l-.9 -.1l-.5 -.9zM254.6 651.1l.5 -1.4l1.4 -1.6l-.1 1.7l-.2 1.7l0 1.5l-.4 1.3l-.9 .1l.2 -1.7l-.5 -.5zM215.4 604.8l1.4 0l1.6 .7l.6 .4l1.5 -.6l1.7 .4l.7 -.4l1.1 .7l1.6 1.4l1 1.1l-1.1 -1.1l-2 .9l-1.4 .1l-1.5 -1.3l-1.3 .3l-.6 -.5l-1.2 .2l-1.6 -1.6zM221 615.9l1.2 -.4l1.1 -.9l.4 .2l1.6 -.4l1 -.8l.5 -.2l.8 1.7l-1.4 .5l-.9 .2l-1 .6l-.5 1.1l-1.4 .3l-.3 -1.4zM61.2 499.8l.6 -.2l1.7 -1.7l.5 -.7l1.8 -.6l1.4 -.6l1.8 -.7l.4 -.8l1.3 -1l1.8 -1.5l1.2 .3l1.4 -.7l.5 1.5l-.6 .1l.2 1.6l-.9 1.5l-.7 2l-.8 1.6l-.6 1.2l0 1.7l-1.6 .6l-2.2 .9l-1.8 -1.3l-1.4 -1.5l-1.2 .3l-.9 .8l-.5 -.8l-1.7 -1l-.5 -1.4l-.9 -.8l-1.6 -.1l1.4 -1l.6 -1.2l1.7 -.7l.4 -.3l1 -.9l1.4 -.8l1.7 -1.9l-.1 -.2l1.3 -.5l2.1 -1.2l.6 -1.4l1 -.3l-1.4 1.3l-.6 .4l-1.3 .8l.3 .9l-1.7 1.4l-1 1.6l-.2 1.4l-1.7 .2l-.9 1.3l-.9 1zM27.6 537.8l.3 -1.6l2 -1.6l-.1 -1.2l.9 -.9l1.6 -.9l0 -1l.3 -.9l1.8 -.7l.5 -1.8l.5 -1l1.7 -.9l.6 -1.6l.6 -1.1l.9 -.5l1.7 -1.6l1 -.7l.3 -1l1.1 -.5l.7 -1l1 .9l1.5 1.1l0 .8l1.3 2.3l.8 .6l1.3 -.2l1.8 1.3l1.2 1.8l.8 .8l.6 1.4l.9 .5l1.5 2.4l-1.4 -1.1l-.7 .1l-2.1 -1l-.3 -2l-1.6 -.4l-2.2 0l-.8 -.5l-2.6 -.8l-1.6 1.3l-1.2 .5l-1 .2l-.6 1.3l-.9 3l-1.5 .6l-1.1 2l.3 2l-1.3 .1l-1.1 .9l-.8 2.8l.2 1.5l-1.1 -1.7l-.7 -1.8l-1.5 .8l-2.1 -.6l-1.4 0l-1 .5l-.8 -.9l-2.1 0l.8 -.6l.7 -1.8l.3 -.2l1.3 -1.5l.9 -.8l0 -1.1l1.1 -1.2l.7 -1.6l1.4 -.9l.5 -.2l.4 -1l.8 -2.3l.8 -1.1l1.2 -.6l.9 -.2l.8 -1.2l.1 -1.9l1.5 -.3l.1 -1.2l1.1 -1.4l.1 1.9l-.5 .4l-.8 1.4l-1.2 .6l-.2 1.6l-.5 1.7l-1.2 .4l0 1.9l-1.4 .4l-.8 1.5l-.3 1.2l-.5 .8l-.7 1.3l-.3 .9l-.7 1.8l-.9 .7l-.6 1.1zM14 570.3l.2 -1.5l.5 -1.6l.1 -1.2l1.2 -1.7l.2 -1.3l.9 -2.2l-.4 -.2l1.2 -1.5l-.1 -1.2l1.6 -1.6l-.1 -2.5l.7 -.5l2.3 0l.3 1l.7 2.4l.7 2l1.7 .4l.9 .9l-1.6 .6l-.6 1.4l-.7 2.2l-.6 .8l-.6 1.5l-1.5 .6l-.1 1.8l-.6 1.6l-.7 1.2l.4 1l-.6 2l-2.4 0l-.6 .5l-1.7 -.7l-1.6 -.2l-1 .1l-.2 -1l.6 -1.8l-.4 -.5l.9 -2.4l.1 -.7l.3 -1l-.5 -1.1l.6 -1.4l.1 -2.2l0 -1.5l.7 -.7l.6 -1.6l.2 -1.4l.5 -.6l.4 -1.9l-.5 -.7l.4 .8l-.6 1.4l.6 1.3l-1.1 1.3l.1 2.3l.4 .4l-1 1.1l.2 2.7l0 .7l.2 1.7l-.3 1.3zM66.4 525.4l.4 -.7l1.5 -.1l1 -.2l.7 .5l0 0l1 1.4l.8 .1l-.8 .8l-.4 1.3l-1.3 1l-.2 -1.1l-1.5 -.3l-.5 .1l-.7 -1.2l.2 -.4zM77.6 512.6l1.4 -.9l.8 .2l1.3 -.2l-.1 .7l.9 1.3l0 1.5l-.3 .5l-.8 0l-1.1 .6l-1.1 -1.1l.2 -.7l-.3 -1.3zM71.4 509.9l1.2 -.1l1 -.4l.5 1.2l-.5 1.2l.6 1.3l-1 .3l-.7 .5l-.5 -1.3l-.4 -1.6zM62.9 538.9l.9 -.1l2.3 -.7l1.3 .7l1.1 1.1l2.1 .7l1.1 .2l.6 1.5l1.6 .9l1 -1.2l2.5 .1l.5 .2l2.8 .4l.6 1.4l1.8 .3l-2.1 1.7l-.3 -1l-1.7 -.4l-1.5 .2l-2 0l-2.5 .4l-.7 0l-2.2 -1.5l-1.3 -.4l-1.8 .5l-1.6 -.3l-1.7 -1.7l-.1 -.2l-.8 -2zM51.4 556.9l1.2 -.4l1.2 .7l.8 1.6l0 1.9l.7 .8l-.6 2.2l-1.1 -1.2l-.7 -1.3l-.4 -1.3l-1.1 -1zM35.9 565.8l1.1 .2l.9 0l1.2 -.7l-.4 1.1l.5 1.5l-1.7 -.3l-.9 .3l0 -1.2zM43.7 533.6l1.1 -.9l1.4 0l-.2 .6l1.2 1.5l.2 .9l-1.3 .5l-1.1 .4l-.2 -1.3l-.7 -.8zM53 513.4l1.5 -.4l.6 .5l1.5 -.5l.6 1l.5 .6l-.3 .5l-.1 .8l-1 .1l-.7 .3l-1.3 -.8l-.6 -1.1zM50.4 564.3l.7 0l.5 0l.7 .4l-.7 1.6l-1.6 -.2l-.3 -.6zM46.8 702l.4 -1.6l1.6 -1.7l1.8 .5l2 .7l.8 1.5l2.1 .3l.5 1.7l1.5 0l1.1 1l2.3 1.7l1.4 .4l1.4 2.2l.6 -1.1l2 .1l.3 .4l1 1.5l.8 1.6l.7 1.4l1 1.6l.6 1.8l.2 1.3l.6 1.7l2.9 1.6l0 -1.1l0 -1.9l-.4 -1.2l.7 -2l-.5 -1.5l.4 -.6l1.6 -2l.7 1.7l.6 1.5l.2 1.2l.9 1.3l.5 .3l1.2 1.6l.6 2.3l1.2 .3l1.2 1.3l1.1 1.7l1.8 1l1.7 1.6l-.3 1.2l1 .9l.7 .8l-.2 1.6l.2 1.8l-.4 1l-.1 1.1l-1.6 .1l-.5 -.6l-2.4 .4l-.5 .5l-1 0l-2.1 -.6l-1.2 -.1l-1 -.2l-1.8 .7l-1.2 -.4l-1.2 .7l-.7 -.5l-2 -.5l-1 1l-1.9 .2l-1.3 -.5l-.5 .2l-1.4 -.3l-1.8 -.8l-.8 -.6l-.5 -1.2l-.5 -1.7l-.8 -.1l-1.6 -1.8l-1.1 -.2l-.3 -1.8l-1.4 -.1l0 -1.6l-1.3 -1.4l-1.4 -.1l-1 -1l-.1 -.9l-.9 -1.9l-1.7 -.3l-.2 -.7l-.7 -2.2l-1.8 .1l-.7 -1l-.7 -1.2l-1.5 -1.1l.3 -1.2l-2.1 -.8l-.3 -1.1l-.7 -1.4l-.8 -.4l-1.8 -1.2l-.8 -.7l.3 -1.8l-1.4 -.9l-.8 -.4l1.2 -.1l1.5 0l.5 -.7l1.2 .3l1.2 -.7l2.6 -.1l1.4 .6zM35.9 669.6l1.4 -.5l.4 0l2.4 .3l.9 .9l1.8 1.3l1.5 -.1l-1.5 2.2l-.4 1.5l-1.2 .8l-1 .2l-1.5 -1.3l-2 -1.3l-.8 -.5l.6 -1.1z"/>
<path fill="#000" d="M163.5 553.3l-.1 1.1l-.3 -.6zM46.1 657.8l-.4 -.3l.3 -.2l.3 0l.2 .4l-.1 .4zM125.7 659l-.1 -.3l.5 .2l.4 .3l.2 .3l.1 .5l-.8 -.5zM158.6 685.1l-.6 .4l-.4 .8l0 -.6l-.3 -.4l.5 -.9l.3 .2l.1 .2zM39.8 625.5l-.1 -.2l.5 -.5l.5 -.2l.9 -.5l-.4 .6l0 .5l-1 .5zM83.4 701.1l.5 .5l.4 .5l.2 .9l-.8 -.5l-.3 -.9zM43.1 539.1l-.6 -.3l-.2 -.3l-.2 -.3l.3 -.2l.5 -.3l.3 .5l0 .4zM199.6 667.9l.1 -.3l.4 0l-.1 .6zM144.7 602.6l-.2 .1l-.1 -.3l0 -.4l.4 -.1l0 .4zM169.3 524.8l-.2 -.2l0 -.5l.2 -.4l.2 0l.3 -.2l.1 .7l-.1 .7l-.2 .5zM68.7 559.6l.5 1.4l-.8 -.5zM142.8 566.5l.4 .4l.1 .2l-.3 0l-.3 -.3zM134.2 611.8l-.4 .6l-.8 -.3l-.2 -.6l.6 -.3l.4 -.2l.3 .3zM197.3 550.4l.1 -1l.7 -.6l-.1 1.2zM205.5 630.9l-.1 .9l-.4 -.9zM43.5 544.5l.1 -.4l1.1 -.3l.7 .3l-.3 .4l-.9 .3zM206.2 516.1l-.2 -.3l.2 -.5l.3 .4l.1 .3zM165.7 586.5l-.4 1.2l-.5 -.1l.3 -1.1zM93.5 532.3l.5 -.2l1.2 .4l.4 .6l.3 .5l-1.1 -.4l-.6 0l-.7 -.5zM184.6 494.9l.7 .2l-.2 .3l-.5 -.1zM72.9 495.8l.5 .3l-.7 .1zM168.1 518.9l-.1 -.3l.2 -.1l.3 0l-.1 .2zM137.7 719.3l.9 -.3l-.2 .7l.1 .8l-1.1 .3l.2 -.9zM83.2 569.5l-.4 .2l-.2 -.3l0 -.4l.4 .1zM206.6 569.7l.6 -.3l.1 .3l-.4 .6l-.3 -.1zM247.3 636.1l-.5 -.4l0 -.8l-.5 -.7l.5 -.3l.5 .4l.4 .2l.1 .5l-.2 .4zM261.6 660.9l-.3 -.2l-.5 -.1l.3 -.2l.6 -.1l.5 0l.9 0l-.6 .3l-.2 .2zM49 596.1l-.3 -.4l.4 -.5l.4 -.4l.5 .2l.1 .5l-.3 .3l-.3 .4zM130.1 590.7l.4 .1l.4 .1l0 .4l-.2 .5l-.5 0l-.2 -.3l-.1 -.3zM141.6 514l.1 .8l-.5 .1l-.6 -.5l.2 -.7zM182.7 715l-.4 -.2l-.5 -.3l.7 0l.2 -.3l.7 0l.1 .5l-.2 .2l-.2 .2zM276.2 632.1l0 .6l-1.2 -.1l.7 -.5zM95.9 559.7l-.5 -1.1l.6 0l.8 .9l.1 .9l-.5 0zM163.9 667.5l.3 -.4l.5 .3l-.4 .6zM274.7 575.6l-.2 -.5l.3 -.6l.2 -.8l.4 .3l.2 .6l-.2 .9l-.4 .2zM95.9 635.2l.5 0l.3 .7l-.1 1l-.8 .8l-.5 -1l-.8 -.1l.3 -.9l.4 -.8zM256.4 644.8l-.2 -.4l.5 -.6l.6 -.5l.7 .1l-.2 .6l-.4 .4l-.4 .2zM68.1 592.1l.5 -.3l.1 .9zM189.5 667.4l.5 -.5l1.1 -.4l-.4 .7l-.7 .9l-1 0zM175 480.2l-.1 -.4l0 -.4l.3 -.4l0 .7l0 .5zM22.3 594.6l-.5 -.3l.1 -.6l.5 -.4l.2 .5l0 .3zM155.5 493.2l.3 -.3l.1 .2l-.1 .2l-.2 .1l-.2 .2zM128.2 668.7l.6 0l.1 .3l-.2 .2l-.6 -.2zM233.7 679l0 -.3l1 .1l.6 .5l-.4 .3l-.8 -.1zM142.3 601.2l.3 .2l.2 .5l.2 .7l-.2 .4l-.4 -.6l-.4 -.2l-.1 -.7l.2 -.3zM175.4 480.6l.8 .4l-1 .3l-.8 -.5zM146.3 607.6l-.2 .9l-.3 .5l-.4 .5l-.1 -.6l-.2 -.4l.2 -.6l.3 -.8l.2 .6zM94.7 634.5l-.4 -.7l.3 -.2l.5 .3zM142.6 475.6l.3 -.3l.3 -.1l.3 .1l.1 .1l-.4 .3zM126.9 617.9l.2 .2l.2 .2l-.2 0l-.3 0zM102.9 661.3l-.2 -.4l.4 -.1zM178.7 643.8l.5 0l.7 .3l-.5 .5l-.9 -.3zM141.3 498.9l.3 -.2l.3 .1l.4 .4l-.2 .4l-.5 -.1zM204.1 611.2l.5 .3l0 .6l-.6 .3l-.5 -.2l-.2 -.4l.2 -.3l.1 -.3zM250.5 581.5l-.1 .3l-.2 .2l0 -.1l0 -.2l.2 -.4zM134.8 661l-.1 .7l-.6 .2l-.4 -.5l.3 -.4zM89.4 490.9l-.4 .3l-.4 .2l0 -.5l.4 -.4zM172.1 573.9l.4 .5l.2 .6l-.5 -.6zM11.5 591.2l.4 .5l-.5 0l-.4 .1l-.4 -.4l0 -.4l.1 -.4l.4 -.1l.4 .3zM130.2 595.3l-.8 .1l.4 -.6l.8 -.1zM129 640.8l.7 .1l-.7 .1zM229.6 626.2l-.3 .7l-.5 -.1l.4 -.5zM179.5 540.3l.5 -.3l.6 .1l.1 .8l-.5 .5l-.6 .4l-.2 -.8zM199.1 508.7l-.3 -.3l.1 -.4l.5 -.6l.5 0l-.2 .8zM107.3 547.2l-.2 -.2l.2 -.4l.3 .1l0 .4l-.1 .4zM43.3 554.8l-.4 -.1l-.1 -.2l.2 0l.2 0l.2 .2zM166 699.9l.1 .2l-.3 .1l-.3 0l.2 -.2l.2 -.2zM44.3 521.7l.2 -.3l.2 .4l.1 .4l-.4 -.1l-.3 -.1zM52.9 676.9l.2 -.2l.3 -.1l.3 .5l.4 .4l-.6 -.3zM39.9 583.2l.3 .1l.2 .4l-.1 .3l-.4 -.4zM157.4 510.3l-.7 .1l.6 -.7l.5 -.4l1.1 -.8l-.2 .6l-.6 .6zM132.4 476.2l-.2 -.2l.1 -.3l.1 .3zM241.8 544.6l.4 .1l.5 .1l.1 .7l-.5 .2l-.5 -.2l-.1 -.5zM169.9 664.1l.3 -.2l.2 .4l-.5 .3zM170.8 487.4l-.2 -.8l.4 -.4l.4 .8zM134.1 486.6l-.8 0l.1 -.3l.1 -.4l.7 .3l.3 .2zM40.2 667.6l.2 .8l-.5 .9l-.5 .1l-.2 -.5l.3 -.8zM258.8 575.7l.2 -.6l.5 .7zM90.4 599.7l-.1 -.8l.8 .2l-.1 .5zM81.1 587.9l.3 .4l-.2 1.2l-.6 .9l-.3 -.4l-.5 .1l.4 -1.2l.4 -.8zM179.8 631.5l.3 .3l-.2 .5l-.4 -.4l-.1 -.2l.1 -.4zM181.5 577.1l.5 .7l-.9 -.5zM66.2 677.9l.5 .3l0 .5l-.4 .8l-.5 -.5l-.3 -.7zM188.6 572.2l-.8 -.3l.3 -.3zM160.4 475.2l-.6 .1l0 -.9l-.2 -1l.7 .7l.5 .8zM114.9 727l.3 .6l.1 .4l-.5 -.1l-.2 -.7zM227.8 561.7l-.2 -.3l.3 -.5zM32.2 633.5l-.3 .1l0 -.8l.4 -.4l.3 .2l-.2 .6zM207.8 625.2l.4 -.1l.2 .8l.3 .8l-.5 -.5l-.5 -.2l-.1 -.7zM161.6 610.3l.3 -.2l1.2 -.2l-.2 .5l0 .4l-1.3 0zM127.5 720.2l-.3 -.4l.1 -.5l.4 .1l.5 0l.2 .6l-.5 .1zM263.2 647.6l.7 -.6l.8 -.1l-.2 .5l-.4 .4l-.7 .6l-.1 -.5zM189.6 688.6l.2 -.3l.4 -.1l.2 .3l.3 .5l-.6 0l-.3 .3l-.5 -.2zM257.1 629.6l.1 .3l-.4 -.2zM127 635.9l.3 .4l-.5 .6l-.4 -.2l-.1 -.3l.3 -.4zM31.5 635.8l-.3 -.1l-.3 -.4l.7 -.4l.2 .3l0 .3zM75.8 572.6l-.8 .2l.3 -.5l.3 -.4l.6 .2l.3 .4zM41.6 686.8l.4 .1l-.2 .2l-.3 0l-.1 -.2zM192.6 627l-.1 -.2l.2 -.3l.4 .1l-.2 .2zM163.5 604l-.1 .5l-.5 -.2l-.4 -.1l0 -.4l0 -.4l.3 -.2l.4 .1l.3 .3zM84 539.2l-.2 .6l-.3 .3l-.6 .5l-.1 -.6l.2 -.7l.5 -.1zM179.7 478.8l.6 0l.4 -.3l.2 .4l.1 .4l-.1 .4l-.5 0l-.6 .3l-.1 -.6zM130.2 576.7l.9 -.7l.5 .1l-.3 .6zM22 558l.6 -.1l.1 .8l-.7 .1l-.4 .2l-.2 -.5l.2 -.6zM118.6 548l.6 .7l-.4 .7l-.4 .1l-.6 -.2l.2 -.8zM86.8 564l-.9 -.6l.8 -.2l.5 .4zM99.1 530.9l.5 .1l-.2 .4l-.3 .3l-.3 -.4zM191.2 608.4l-.2 -.1l.2 -.4l.1 .1zM152.2 597.6l-.3 .6l-.1 .3l-.5 .1l-.5 0l0 -.4l.5 -.5zM191.3 646.6l-.3 .4l-.3 -.5zM236.2 601.4l0 .3l-.4 -.2l-.5 -.8l.5 0zM192 592l-.2 -.6l.6 -.1l.5 0l.7 .4l-.4 .5l-.5 .2l-.4 -.1zM207.4 609.2l.6 -.4l.7 0l.3 .3l-.6 .4l-.5 -.1zM247.8 669l-.1 -.8l.5 -.2l.3 .2l.5 .3l-.5 .3zM179.2 531.9l.4 .1l-.3 .3l-.3 -.2zM85.2 516.1l.9 0l.4 .5l-.3 .4l-.5 .5l-.8 -.7zM173.3 513.5l.3 .1l.2 .2l-.2 .1l-.3 -.1l-.3 -.2zM127 649.4l-.1 .6l-.4 .2l-.2 -.7l.1 -.5l.1 -.5l.4 .3zM152.9 532.6l-.3 -.3l.1 -.3l.4 -.1l.5 .2l-.4 .3zM168.7 597.7l-.3 0l-.2 -.4l0 -.3l.1 -.1l.1 -.5l.4 .6l.3 .4l.1 .5zM121.6 710.6l.2 -.7l.6 -.3l.3 -.3l.3 -.1l0 .4l-.1 .5l-.5 .3l-.3 0zM224.9 541.3l.8 -.4l-.2 .8zM107.7 590.4l.1 .9l-.4 -.4l-.1 -.6l0 -.5l.3 -.2zM53.8 677.7l.6 .1l0 .3l-.4 .3l-.4 -.2l-.2 -.3zM214.2 535.6l-.6 0l-.7 0l.8 -.8l.7 -1l.2 .7zM30.9 653.8l-.4 -.8l.2 -.5l.6 .2l.5 .3l.3 .7l-.2 .4l-.4 .1zM143.4 660.8l-.3 -.1l-.2 -.2l.4 -.4l.2 .3zM131.1 667.6l-.4 -.2l-.3 -.5l-.1 -.5l.4 -.3l.5 .1l.5 .3l.1 .6l-.2 .4zM166.2 735.7l-.1 .1l-.1 -.2l0 -.2l.2 .1zM211.8 642.2l.5 .4l.1 .4l-.7 -.2l-.7 -.2l-.2 -.5l.3 -.3zM57.6 581.3l.6 -.1l-.1 .3l-.5 .1zM202.1 565.9l.4 .8l-.5 -.1zM252.4 570.9l-.5 .1l-.2 -.1l.2 -.4l.6 -.8l.2 .4l.6 .1zM113.2 553.7l.3 .7l0 .4l-.3 0l-.3 -.4l-.3 -.7zM217.3 714l.1 .3l0 .3l-.1 -.1l-.2 -.2l0 -.4zM139.1 477.5l-.3 .8l-.7 -.3l.1 -1.1l-.3 -.8l.6 .2l.5 -.4l.1 1zM220.1 504.4l-.3 -.5l.1 -.8l.4 .6zM212.9 715.4l.5 -.4l.4 .2l.3 .6l-.4 .8l-.5 -.3l-.5 -.2zM119.8 631.5l-.4 .3l-.4 -.3l.2 -.4l.4 0zM54.7 561.3l.4 .4l-.4 .4l-.3 .1l-.3 -.2l0 -.5zM121.8 608.8l-.6 -.3l-.6 -.9l.7 .4zM31.9 587.3l.4 .1l.2 .4l-.4 .2l-.4 -.3zM94.6 561.7l-.1 .5l-.5 -.1l-.2 -.2l.2 -.4zM37.3 529.7l.3 .1l-.2 .3l-.3 -.2zM204.2 549.3l.4 -.3l.4 .1l.1 .2l-.5 .1l-.4 .1zM229.4 615.2l-.3 -.2l0 -.2l.1 -.2l.3 -.5l.6 .3l0 .4l-.1 .4zM139.5 716.3l.4 0l.1 .3zM76.9 516.2l.1 -.4l.4 -.2l.1 .4l-.3 .2zM144.1 562.9l.4 .3l.2 .7l-.2 .7l-.4 .2l-.2 -.4l-.2 -.8zM104.9 497.8l.4 .3l-.1 .5l-.6 -.6zM162.4 619.1l1.1 .5l-.8 .1zM171.9 497.7l.6 -.1l-.2 .6l-.1 .5l-.6 -.1l-.2 -.6zM145.1 691l.4 .1l-.7 .5zM269.4 583.8l0 .4l-.1 .3l-.2 .1l-.3 -.2l0 -.4l.1 -.5l.3 .1zM128.4 606l.2 -.5l.1 -.4l.3 -.1l.5 -.1l-.2 .7l-.3 .5l-.3 0zM155.4 609.9l-.3 -.2l-.4 0l-.3 -.4l.5 -.2l.2 -.2l.6 -.4l0 .6l-.1 .4zM151.8 622.7l.3 -.3l.3 -.1l.2 .1l-.2 .3l-.3 .1zM162.8 573.2l-.2 .2l-.3 -.5zM137.1 671.6l-.1 .3l-.3 -.4l.3 -.1zM95.7 598.5l-.1 .2l-.3 -.2l-.3 -.2l.4 -.1l.3 .2zM125.6 643.3l-.5 -.4l.5 -.1zM153.7 631.1l.2 -.5l.5 .4l.4 .5l-.5 0l-.4 -.1zM101.9 531.6l-.8 -.4l-.3 -.5l.8 .2l.9 .4l.1 .4zM105.6 547.6l.2 -.3l.4 .3l0 .3zM70.6 693.4l.6 -.1l.7 -.4l-.1 .5l.7 .3l-.6 .4l-.6 -.1l-.5 0l0 -.2zM61.4 505.6l-.7 .2l-.5 .2l-.5 .1l.8 -.6l.3 -.3l.6 -.5l.4 .1l0 .3zM41.4 661.4l-.3 -.4l.1 -.3l.3 -.4l.8 .7l.5 .6l-.9 -.1zM215.4 562.1l.2 -.6l.5 .3l-.3 .4zM128.9 693.9l.2 .7l-.5 -.2l-.2 -.2l-.2 -.4l.2 -.3l.1 -.3l.2 .1l.5 .1zM197.6 698.8l.5 -.3l.6 .5l-.7 .3zM122.2 729.4l.4 .6l-.9 .2l-.2 -.9zM122.9 717.9l.6 -.1l-.2 .5l-.1 .2l-.5 .2l-.1 -.6zM82.1 724.7l.7 -.4l.5 -.2l.2 .3l.3 .4l-.9 .2zM60.4 547.2l-.5 0l-.1 .3l-.5 -.5l-.1 -.4l-.3 -.5l.4 0l.4 0l.4 .5zM46.9 651l-.2 .5l-.3 .3l-.1 -.4l.4 -.5zM127.3 654.7l.4 0l-.3 .4zM145.8 588.4l-.1 -.2l.1 -.1l.3 0l0 .3zM156 498.5l.4 -.2l.6 .3l.5 .6l-.6 .3l-.8 -.6zM230.1 568.3l-.6 -.1l-.2 -.5l.4 -.4l.5 .1l0 .4zM144.5 567.6l.2 .3l-.3 .5l-.4 0l-.1 -.3l.3 -.3zM76.5 696.5l-.7 -.1l-.4 -.2l.1 -.4l-.1 -.6l.6 -.1l.6 .2l-.2 .6zM59.6 709.6l0 -.4l.3 -.9l.3 .6l0 .4l-.4 .8zM179.8 681.9l.8 -.9l.3 .4l.2 .3l-.7 .5l-.7 1l.2 -.9zM83.2 551.3l.3 .7l.1 .5l.1 .6l-.1 .8l-.4 -.1l-.2 -.7l.1 -.6l-.2 -.9zM111.7 626.2l-.7 .4l.5 -1l.7 -.5zM210.9 676.9l.4 -.2l.4 .2zM183.9 679.5l-.7 -.5l.3 -.4l.5 -.1l.2 .7zM142.6 614.2l.6 0l0 .5l0 .5l-.6 -.1l-.3 -.5zM83.8 623.2l.2 -.4l.3 .8zM191.5 674.6l.4 .3l-.4 .2zM235.9 546l.7 .7l-1 .3zM122 647.2l-.1 .5l-.4 .1l-.7 -.7l.1 -.3l.2 -.3zM170.4 480.1l.4 .1l.4 .3l-.5 .5l-.8 .2l-.3 -.3l.1 -.3l.1 -.5zM64.3 705.2l.3 .2l.1 .3l0 .3l-.3 .2l-.3 -.3l-.6 -.1l.2 -.4l.1 -.6zM225.2 538.3l-.3 .3l-.4 0l.2 -.8l.2 -.7l.2 .4zM95.4 617.4l0 -.3l.1 -.3l.3 .3l-.1 .3zM25.6 565.3l.4 -.2l.2 .4l0 .2l-.3 .3l-.3 -.4zM87 562.9l-.6 -.4l.6 0zM264 602.9l.2 -.5l.5 -.2l.4 .1l-.5 .6zM211 587.9l0 .3l-.1 .2l-.3 -.2l-.1 -.3l.2 -.1zM69.5 530.7l-.5 -.3l.6 -1l.1 .9zM166.5 525.9l.3 -.2l.5 .8l.4 .5l-.1 .3l-.2 .4l-.4 -.8l-.7 -.7zM75.6 655.5l.2 -.4l.5 -.5l0 .7l-.2 .4zM168.7 638.6l.3 .4l-.6 .8l-.7 0l.2 -.7l-.1 -.7l.7 -.5zM244.3 692.1l-.6 -.2l.4 -.4l.6 -.1l.4 .2l.3 .4l-.5 .4l-.5 0zM144 608.4l.3 -.5l.3 .4l-.3 1.2l-.4 .6l0 -1.1zM122.8 652.4l-.1 .3l-.4 0l-.3 -.2l.3 -.4l.3 .2zM162.7 618.8l-.5 .2l0 -.5zM63.7 508.7l-.1 -.5l.3 -.3l.7 0l.3 .5l-.5 .5zM67.3 634.1l-.4 .6l-.2 -.2l0 -.4l.3 -.5l.2 -.4l.5 -.5l.2 .2l-.1 .7zM165.6 639.9l.6 0l-.1 .5zM248.9 666.7l.1 .5l-.6 .5l-.5 -.1l.2 -.5zM241.9 619.4l.8 -.2l.7 0l.2 .9l-.4 .9l-.8 -.1l-.5 -.5zM74.5 693.8l-.9 .4l-.2 -.3l0 -.4l.7 -.5l.9 -.6l.2 .4l-.2 .5zM81.5 501.7l-.5 -.1l-.2 -.4l.1 -.4l.5 .4zM219 721.5l0 .7l-.4 .3l-.1 -.4l0 -.5l.2 -.4zM221.3 691.5l.6 -.5l.7 0l.1 .4l-.1 .3l-.4 .3l-.6 .1l-.1 -.3zM216.8 676.7l.4 -.3l.4 0l.2 .3l-.5 .4l-.4 -.1zM135.4 667.5l-.3 .1l-.4 -.2l0 -.5l.3 -.1l.4 .2zM252.2 634.9l-.5 .1l.2 -.6zM143.8 589.6l-.4 .2l-.2 -.3l.2 -.3zM60.1 660.7l.9 -.1l-.2 .4zM176.6 504.9l-.8 -.4l.4 -.4zM256.8 619.1l-.1 .5l-.3 .4l-.4 -.5l.1 -.7l0 -.4l.2 0l.1 0l.2 .2zM150.9 587.3l.6 .3l.1 .2l-.4 -.1zM212.7 682l-.3 .7l-.3 .5l-.5 -.6l0 -.9l.5 -.1zM188.8 561.8l-.4 .1l-.1 -.3l-.3 -.2l.4 -.4l.6 .1l.2 .3l.1 .3zM13.5 590.5l0 -.2l.3 -.2l0 .1zM272.4 633.2l-.4 .5l-.5 0l-.4 -.5l.8 -.4l.7 -.4zM162 480.4l.5 .5l-.4 .4l-.6 .2l-.1 -.7zM159.3 655.1l-.3 0l.1 -.2l0 -.1l.4 .1l.1 .2zM160 631.8l-.1 -.1l-.1 -.3l0 -.4l.2 .1l.2 .4zM193.2 632.3l.2 -.8l.5 .4zM155.1 645l.6 0l.6 .2l.4 .4l-.7 .2l-.5 0l-.5 0l0 -.4zM181.7 687.2l-.7 -.5l0 -.4l.7 .4zM12.5 593.9l.5 0l.4 0l-.4 .3l-.5 .2l-.1 -.2zM38.6 534l.2 -.9l.2 .8zM164.1 680.5l-.6 -.2l-.1 -.3l.6 .1zM216.7 596.7l-.5 -.6l.1 -.3l.5 .3l.4 .6l0 .4zM245 609.7l-.6 .3l0 -.4l.3 -.6l.5 -.1l.6 -.3l0 .4l-.2 .7zM183.5 737.7l.5 -.2l.6 .4l.6 .3l-.6 .1l-.6 -.2l-.8 -.2zM11.2 600.9l.4 -.4l.1 .6l-.2 .3zM219.4 510.4l-.6 -.4l-.6 -.5l0 -.7l.7 .9zM128.3 608.4l.5 -.1l-.3 .3zM173.2 525.4l-.5 -.1l-.2 -.4l.3 -.1l.4 .2zM225.3 642.7l.1 1l-.3 .8l-.3 -.3l-.3 -.2l.2 -.7l.2 -.6zM28.3 558.3l.4 .4l.3 .5l-.2 .3l-.4 -.6zM73.7 687.7l-.5 .2l-.3 -.3l.3 -.4l.5 -.2zM97.3 607.3l-.4 -.4l-.4 -.5l.4 -.5l.4 .4l.2 .5zM94.1 683.8l.4 -.5l.7 .3l-.2 .7l-.6 .3l-.4 -.4zM198.3 618.8l-.3 .1l-.3 -.4l.5 -.4l.4 .3l0 .3zM165.4 506.7l.5 .5l-.4 .3l-.3 .6l-.7 -.6l.3 -.6l.2 -.4zM86.3 669.6l-.4 .5l-.4 -.5zM82 575.9l-.3 -.4l.3 0zM197.1 665.3l.1 .5l-.2 .1l-.1 -.2l.1 -.2zM127.8 640.3l-.7 .8l-.4 -.3l.5 -.5zM232.9 695.6l-.5 .1l0 -.5l1 -.1zM121.9 589.5l0 .3l.1 .3l-.6 0l-.7 -.1l-.1 -.4l.6 -.2zM128.8 664.7l-.5 .4l-.4 -.6zM163.9 490.2l.4 .4l-.2 .6l-.5 -.1l-.5 -.3l.3 -.6zM67.2 677l.2 -.6l.3 .5l-.1 .4l-.5 .4zM25.3 652.9l-.3 0l-.3 -.3l.2 -.4l.4 .2zM21 626.7l.4 .4l-.3 .3l-.5 -.3l0 -.4zM145.2 735.3l-.8 0l-.8 -.3l-.4 -.5l.9 -.1l.5 -.3l.8 .3l.3 .6zM125.1 647.2l.2 -.2l.3 .5l-.5 .2zM116.9 553.3l.2 -.6l.5 -.1l.6 .1l-.5 .6l-.6 .5zM47.4 592.4l-.1 -.5l.3 .1l.2 .5l-.1 .2zM127.2 621.4l-.1 -.4l.6 -.2l.6 .2l0 .4l.4 .3l-.6 .1l-.4 .3l-.2 -.5zM230.5 663.8l.6 .3l-.3 .5l-.3 .3l-.4 -.7l0 -.6zM73.7 509.6l.4 .4l.3 .6l-.2 .4l-.9 -.7l-.2 -.8zM103.7 637.4l-.5 .3l-.1 -.6l.4 -.3l.3 0l.1 .3zM255.3 611.6l-.1 .5l-.5 .4l-.6 -.4l.1 -.7l.4 -.3l.3 0l.4 0zM192.3 647.1l.3 .4l-.2 .5l-.6 0l-.3 -.4l.2 -.5zM250.3 674l.5 .2l-.3 .3l-.3 .1l-.1 -.4zM158.4 499l-.1 -.3l-.3 -.2l.5 -.1l.4 .2l0 .2zM66.7 687.3l.1 .5l-.4 -.4zM78.8 522.9l.3 -.3l.3 .5l.4 .5l-.5 .4l-.6 -.2l0 -.6zM138.6 581.5l.4 .3l-.7 .5l-.3 -.1zM136.9 692.1l.8 .1l-.3 .5zM142.5 674.9l.7 .5l.4 .6l-.5 -.1l-.3 -.1l-.2 -.3zM83.4 574.6l-.3 .4l-.4 -.3l-.5 -.2l.3 -.5l.2 -.6l.4 .4l.3 .1l.3 .4zM112.9 508.7l-.6 -.1l-.4 -.5l-.6 -.3l.2 -.1l.2 -.2l.5 .3l.4 .3l.7 .5zM203.1 502.3l.2 .2l-.1 .4l-.4 .3l-.1 -.4l.1 -.4zM109.2 636l-.6 -.1l.4 -.4l.5 -.1zM88.5 622l.8 .4l-.1 .4l-.6 -.2l-.4 -.3l-.1 -.3zM206.1 577.6l0 -.6l-.5 -.4l.4 -.2l.4 -.1l.2 .4l.4 .2l.1 .6l-.6 -.3zM24.8 593l-.3 .8l-.2 -.3l.2 -.6zM76.1 667.3l.8 0l1 .3l-.4 .2l-.5 .2l-.5 -.3zM222 689.5l.2 1.4l-1.2 -.4l-.9 -1.8l.4 -.9l1 .8zM110.4 623.7l-.6 -.1l.4 -.4l.3 -.2l.3 .3l.2 .3zM117.3 629.8l.7 -.5l.5 .7l-.5 .4zM47.2 587.1l-.3 0l.3 -.3l.3 .1zM108.7 703.8l.4 0l.1 .4l-.2 .3l-.4 -.1l-.2 -.4zM188 735.4l-.7 .4l-.8 .6l.1 -1l.8 -.6l.7 -.4zM62.3 549.2l.1 .5l-.4 .1l-.5 -.3l.4 -.3zM172.4 508.2l.6 .1l.6 1l-.6 -.1zM109.9 646.3l.5 .2l-.6 .3zM161 489.2l.1 -.4l.4 -.2l.5 -.4l.5 .1l-.5 .5l-.2 .2l-.4 .2zM97.8 601.1l.2 .4l-.8 -.1l-.6 -.2l.4 -.2zM95.7 619.2l.2 .5l0 .8l-.4 .3l-.7 -.2l0 -1.1l.3 -.9zM197.9 602.7l-.3 -.4l-.1 -.6l.5 .1l.3 .2l-.1 .4zM159.6 720.7l.2 -.7l0 -1l.4 .2l.1 .8l-.1 .6l0 1l-.3 -.6zM269.7 628.8l-.2 .5l-.8 .3l-.4 -.7l.4 -.6l.6 -.6l.3 .7zM117.9 536.7l-.6 0l-.4 -.2l.3 -.7l.2 -.3l.2 -.1l.3 0l0 .5zM214.1 534.6l-.5 .4l-.4 -.4l.1 -.5l.5 -.4l.4 .3zM236.4 530.1l.2 .5l-.2 .3l-.5 -.5l-.4 -.7l.6 .1zM259.6 670l0 .5l-.4 -.2l-.1 -.3zM145.1 684.9l.4 .1l.7 .7l-.4 .2l-.5 -.3l-.3 -.4zM187.4 494.2l.5 .9l-.7 -.1zM74.6 551.7l-.7 .8l.1 -.9zM97.1 693.3l.7 .4l.2 .6l-.6 .1l-.4 -.1l-.6 -.3l.1 -.6zM83.4 610.2l.1 -.5l.3 -.4l.7 .1l-.1 .6l.2 .3l-.1 .6l-.5 -.3l-.3 -.1zM101.3 660.1l-.8 -.7l.1 -.6l.9 .8zM91.3 650.5l-.3 -.1l.4 -.3zM127.3 612.9l.4 -.4l.7 .6l-.2 .5zM71.1 625.5l-.1 -.2l0 -.4l.3 .2l.2 .4l-.1 .3zM51.3 661.3l-.3 0l0 -.2l-.1 -.4l.3 .2l.3 .1zM159 589.3l-.4 .3l-.4 -.3l.4 -.9l.4 -.7l.4 .3l.1 .8zM46.5 529.3l-.2 -.7l.3 0l.3 0l.4 0l.3 .7l-.5 0l-.1 .5zM196.5 620.4l.5 .3l.3 .5l-.6 -.4zM134.7 684.4l-1.1 .4l.1 -.4l.6 -.3zM47.6 588.2l.4 .1l-.3 .3l-.2 -.2zM53.2 693.8l.7 -.2l-.3 .9zM57 600.6l.4 .2l.3 0l-.1 .4l-.1 .2l-.2 .3l-.3 -.3l-.5 -.1l.1 -.5zM154 520.6l.4 .2l.1 .3l.2 .5l-.4 -.4l-.2 -.3zM132 635.5l-.6 1.2l-.5 .5l-.3 -.7l.2 -1.5l.8 -.2zM66.2 694l-.1 .1l-.1 .2l0 -.4l0 -.4l.2 .1zM151.2 553.5l.7 .1l-.3 .5l-.4 .2l-.5 .1l0 -.5l0 -.4zM162.9 474.6l-.5 .3l-.8 -.5l.4 -.3zM212.2 524.4l.3 .9l-.1 .5l-.4 .1l-.5 -.9l-.1 -.5l-.2 -.4l.2 -.2l.3 -.2zM59 656.1l-.5 .2l0 -.4l.4 -.1zM50.2 533.1l.4 -.1l0 .5l0 .4l-.5 -.1l-.3 -.4zM167.6 696.4l.9 -.4l-.4 .5zM227.3 648.3l-.5 .7l.1 -.9l.3 -.8l.5 -.3l.1 .7zM111 610l-.5 -.3l.6 -.3zM153.7 473.3l0 -.4l.7 .2l.6 .1l0 .4l-.2 .3l-.5 -.3l-.4 -.1zM184.3 524.6l.8 .2l-.7 .1zM105.9 529.4l.7 -.3l-.5 .9l-.5 0zM271.2 612.5l.1 .2l-.3 .1l-.1 -.2l0 -.1l.2 -.1zM182.4 560.4l-.6 -.3l.1 -.8l.5 -.2l.3 .4l.1 .4zM168.6 507.8l.2 .3l-.2 .1l-.3 -.4l0 -.3zM169.4 736.5l1 -.9l1.6 -.3l1.8 -.2l-1 .8l-.4 .5l-1.7 .5zM124 577.9l-.6 0l.2 -.7l.6 .2zM166.1 614.6l.5 0l-.4 .4zM78.8 525.8l-.1 -.4l.4 -.2l.4 -.4l-.1 .7l-.3 .5zM189.5 684.4l-.8 .1l-.4 -.4l-.7 -.5l.8 -.6l.6 0l.6 0l.4 .7zM192.8 680l-.1 -.5l.7 .2l.8 .6l-.6 .2zM179.8 504.4l.4 -.5l.7 -.1l.2 .4l.2 .4l-.1 .5l-.7 .2l-.3 -.5zM88.8 645.1l.1 -.4l.2 .1l.1 .3l-.2 .1zM70.3 563.1l.7 .1l-.3 .4l-.5 .5l-.9 -.4l.6 -.5zM159.4 609.4l.3 -.1l.3 .2l.1 .5l-.3 -.2zM95 611.2l-.3 .1l-.3 0l.6 -.4l.3 -.1zM100.6 544.1l-.6 .2l-.3 -.5zM91.8 487.6l.6 -.2l.5 -.2l.1 .7l-.2 .6l-.4 .5l-.2 -.8zM225.4 584.1l-.2 .4l-.2 -.2l-.1 -.3l.2 -.6l.5 .2zM139.8 659.4l.4 .2l-.2 .2l-.2 0l-.4 -.2l.1 -.3zM148.8 617.8l.1 -.3l.2 .2l0 .3zM152.5 594.1l-.6 .5l-.1 -.8zM141.9 652.5l.4 0l.4 .3l-.1 .4l-.3 .7l-.4 -.7l-.3 -.3zM112.9 652.9l0 .4l-1 .1l-.9 -.1l.8 -.4l.8 -.2zM21.8 569l.4 .2l-.8 .3l-.8 .3l.1 -.4l.4 -.4zM37.4 655.3l.4 .5l-.4 .6l-.8 -.2l0 -.6l0 -.4l.4 -.3zM63.6 527l.2 -.1l.5 0l.5 .4l-.4 .2l-.6 -.2zM106.9 719.8l.1 .6l-.5 -.5l-.1 -.5zM111.7 652.8l.9 .9l.6 .6l.2 .8l0 .6l-.8 -.6l-1.1 -.4l.2 -1zM171.1 622.4l.2 -.4l.3 .1l.1 .3l-.2 .3zM118.9 722.5l-.2 .4l-.2 -.4zM254.6 660.2l.1 1l-.8 .1zM20.4 646.3l-.4 -.3l-.6 -.8l.3 -.6l.6 .2l.5 .8l-.2 .4zM86.9 704.2l-.5 -.4l.1 -.2l.4 0l.5 .3zM21.3 560.5l-.5 .3l-.3 -.5l.1 -.4l.3 -.1l.6 .2zM174.8 525.4l0 -.4l.2 -.4l.7 -.4l.1 .6l.1 .2l-.1 .5l-.7 .2zM170 547.7l-.3 -.4l.3 -.3l.4 0l.3 .1l.6 .3l-.5 .3l-.3 .1zM133 610.2l.2 -.2l.5 -.1l-.1 .3zM15.9 601.8l-.2 .4l-.2 -.2l0 -.4l.3 -.2zM142.6 580.5l0 -.3l.3 -.2l.2 .2l-.1 .4l-.2 .1zM47.9 673.6l.6 -.3l.5 .1l-.2 .4l-.1 .2l-.3 .3l-.7 .1l-.3 -.2l.4 -.3zM82.8 525.6l-.7 .4l-1.1 .2l.2 -.5l.2 -.2l.7 -.2l.9 -.1zM107.1 496.1l.4 -.1l.2 .2l.1 .4l-.5 0zM182.2 568.5l-.3 .5l-.3 -.5l.3 -.3z"/>
<path fill="#000" d="M209 636.3l-.8 -.6l.4 -.5l.6 0l.5 .1l.2 .5l-.4 .2zM62.6 522.5l-.2 1.2l-.5 .7l-1 .2l-1.4 -1l-.2 -1.7l.3 -1.1l.8 -.6l1 1.5zM32.7 658.1l.3 1.1l-.4 1l-.6 -.3l0 -.8l.1 -.9zM103.6 615.2l-.4 -.7l.8 0l.1 .8zM53.1 583.6l.7 -.3l.2 .4l.6 0l-.4 .8l-.7 .6l-.9 .2l-.5 -.2l.5 -.9zM71.8 556.6l.5 -.4l.7 -.2l.8 0l.2 .3l-.6 .4l-.3 .2l-.4 .1l-.4 -.1zM113.4 630.6l.3 .3l.4 .3l-.4 .2l-.4 .4l-.2 -.7l-.3 -.6zM52.7 653l-.8 -.6l-.9 -.8l.2 -1l0 -.8l.7 -.1l.9 1.4l-.1 1zM234.6 586.5l.3 -.3l.5 0l.5 .3l-.2 .5l-.5 .1l-.4 .5l-.4 -.4l-.1 -.4zM171.8 678.3l-.4 .1l-.5 -.1l-.2 -.6l.2 -.3l.1 -.4l.4 .2l.5 .1l.3 .7zM72 616.8l.9 -.8l.4 -.4l.6 0l1.3 -.2l-1 .8l-.2 .8l-1 -.1zM229.1 632.5l-.5 1.1l-.7 1.3l-1.4 .7l-1.7 .4l1.2 -2.1l2.1 -1.6zM112.7 515l.3 .7l-.8 .8l-.5 .3l-.7 .2l-.1 -1l1 -.6zM182.1 512.1l-.2 -.6l-.6 -.6l.4 -.5l1 .3l.8 .7l0 .7l-.8 -.2zM111.9 687.9l.6 -.2l.5 -.1l.6 .2l-.1 .4l.2 .3l-.5 -.1l-.4 0l-.8 -.1zM85.3 609.3l-.3 -.8l1.3 -.6l1.8 .3l.7 .8l-1.4 .6zM65.5 617.9l-.8 .4l-.8 -.8l-.7 -.7l0 -.9l.4 -.6l.8 .1l.9 .4l0 1zM84.1 654.3l1.1 -.2l.8 .9l-.6 .9l-1 .3l-.1 -1zM29.3 625.6l.4 -.7l.9 .2l-.3 .7l-.2 .7l-.8 -.1zM52.7 665.7l-.2 .4l-.4 .2l-.8 .2l.6 -1l-.1 -.8l.5 -.5l.7 .1l0 .9zM56.1 635.2l.5 -.2l.6 .2l.1 1.2l-.1 1l-.6 .4l-.4 -1l-.1 -.7zM84.8 608.7l-.8 -.2l0 -.7l.5 -.6l.5 -.9l.6 .5l1.1 -.2l-.7 .9l-.1 .9zM79.2 585.7l.2 .6l-.5 .3l-.6 .1l-.3 -.7l-.4 -.7l.3 -.7l.9 .1zM175 646.5l-1.2 .6l-.8 .2l-.2 -.6l.8 -1.2l1.1 -.7l.5 .2l0 .5zM154.8 520.4l.3 1l-.9 -.2l-.4 1l-.2 -1.2l-.2 -.5l-.1 -.8l.5 0l.4 .3zM114.5 643l1.2 .1l.6 .7l.4 .3l.3 .5l-1.1 -.2l-.8 0l-1 -.5l.4 -.3zM131.6 697.3l.6 -.4l.3 .6l.1 .5l-.4 .3l-.4 .5l-.5 -.6zM201.9 628.2l0 -.7l1.2 .8l.7 .6l1 .7l-.7 0l.4 .9l-1.1 -1.1l-.9 -.4zM149.4 558l.2 .1l.4 .2l-.7 1l-.5 .1l-.2 0l0 -.4l-.2 -.4l.7 -1zM106.9 584.5l.5 .5l.1 .8l-.1 .5l-.5 -.5l-.2 -.9zM147.7 622.4l.7 .6l-.3 .4l-.3 .3l-.8 -.2l-.5 -1.3l.7 0zM113.4 707.3l.2 -.7l.5 .1l.5 .2l-.1 .7l-.7 .5l-.5 -.3zM180.8 575.4l.5 0l.4 .7l-.2 .6l0 1.1l-.5 -1.1l-.4 -.7zM34.4 581.1l.1 -.5l.3 -.4l.5 0l.7 .2l-.1 .7l-.4 .3l-.3 .1l-.4 0zM112.2 710.9l-1.2 -.1l-1 -1.2l.5 -1.1l1.2 .9l1.1 .7zM63.7 656.8l.5 -.4l.6 .2l.7 .7l.5 1.1l-.5 .4l-.8 -1zM54 629.4l.4 -.6l.3 -.2l.3 .1l.4 .4l-.4 1.2l-.6 -.2l-.7 .4zM211.5 617.3l.4 0l.4 .4l-.1 .4l-.3 0l-.6 -.4zM239.1 600.1l-.8 .2l-.6 .4l-.3 -.6l-.4 -.5l.8 -.5l.5 -.5l.5 .4l.5 .3zM80.6 664l-.3 -.5l.5 0l.4 .3l.2 .2l.5 .4l-.4 .2l-.5 -.1l-.4 -.2zM188.2 692.8l-.7 .7l-.2 -1.1l.1 -.9l.8 -.5l.3 .9zM154.3 597.6l.6 .1l.1 .6l0 .4l.1 .8l-.8 .2l-.3 -.7l0 -.5l-.4 -.8zM169 604.8l-.7 1.1l-.2 -1.4l.3 -2.3l1 -.8l.2 2.1zM219.9 593.6l.7 -.2l.6 -.2l.2 .7l-.1 .4l-.4 .2l-.6 -.2zM211 549.9l-.7 .3l.2 -1l-.3 -.8l.6 -.6l.7 .1l.2 1l-.1 .9zM129 641.3l-.7 .7l-1.2 .1l-1 .3l-.2 -.4l.8 -.6l1.2 -.6l.4 .4zM23.3 631.3l-.5 -.9l.7 -1.1l1.4 .2l.2 1l-.9 .5zM123.7 665.8l-.5 .6l-.3 -.3l.8 -.9zM41.5 542.8l.2 .9l0 .9l-.8 .3l-.1 -.6l.1 -.7zM262.9 619.5l-.4 0l-.4 -.5l.5 -.3l.5 .2l.6 .2l-.4 .5zM95 685l-.8 -.7l-.5 -1.4l.3 -.6l.2 -1l.6 1.5l.3 .7l.5 1.4zM223.7 625.5l.6 .6l-.8 -.2zM116.2 569.6l-.7 -.8l.5 -.8l.5 -.9l1 .7l.3 1l-.4 .6l-.5 .7zM144 705l.5 .7l-1 .1zM181.7 581.1l.8 0l.8 .6l.7 .8l-.6 .5l-1.2 .2l-.5 -1.2l-.7 -.7zM215.7 718.8l.8 -.4l.6 -.5l.5 .5l0 .3l-.1 .3l-.5 .2l-1 .1zM127.5 632.2l.2 -.3l1.1 .1l1.1 .6l-.9 .3l-.7 .1l-1.3 -.4zM101.4 502.2l-2.3 .3l.6 -2.1l1.2 -1.3l2.2 -.1l-.6 2zM76.2 552.3l-.6 -.6l-.9 -.1l.8 -1l.5 -.1l.3 .3l.3 .6zM174.1 702.7l.5 .5l.4 .6l-.3 .6l-.2 .7l-.4 -.3l-.3 -.6l-.2 -.8zM61.2 694.5l.4 .4l.6 -.1l-.1 .5l-.5 .1l-.3 .6l-.3 -.4l-.3 -.3l.2 -.3zM184.5 592.7l-.2 .4l-.1 .7l-.5 -.3l-.4 -.2l.2 -.5l0 -.4l.4 0l.5 -.3zM227.6 625.2l-.1 -.4l.2 -.3l.4 -.2l.7 -.1l.1 .5l.1 .3l-.3 .3l-.5 0zM221.8 642.4l-.4 -.8l.3 -1l1.2 .1l.8 .8l.3 1.1l-.9 .4l-.8 .1zM83.3 591.4l.7 -.2l-.4 .6l-.5 .4l-.5 .6l-.6 0l.3 -.6l-.2 -.4l.8 -.1zM160.8 582.1l-.6 .5l-.9 .6l-.7 -.4l-.2 -.6l.7 -.6l.9 -.4l.9 .2zM142.2 490l-.9 -.8l.6 -.2l.6 .4l.3 .3l.3 .3l0 .4l-.3 .1l-.3 -.2zM235.9 559.7l.5 -.6l.6 -.6l.9 -.1l-.1 .8l.1 .3l-.5 .3l-.5 .4l-.2 -.4zM124.6 512.6l-.2 .6l-.4 -.5l0 -.6l-.4 -1l.5 0l.5 -.2l0 .9l.1 .5zM122.5 636l-.7 .3l-.4 -.2l.4 -1.1l1.4 -.5l.4 .6zM173.5 592.3l-.6 -.2l-.1 -.4l.5 -.1l.6 .2l0 .4zM135 705.6l.5 .2l0 .5l-.7 .4l-.6 -.2l-1 -.4l.9 -.6zM178.2 526.3l-.6 -.4l.4 -.6l.7 -.5l1.2 .1l0 .8l-.8 .5zM235.5 627.8l.8 1.1l.8 1.3l-.9 -.3l-.6 -.2l-.6 -.9l-.3 -1zM50.9 534.9l.5 -.2l.6 .3l.7 -.1l.5 .7l-.4 .4l-.7 -.4l-.8 0zM240.8 679.7l1.8 .2l.1 1.8l-2.1 1.5l-1.3 .2l-1.3 -.2l1.1 -1.8zM88.7 667.3l-.1 .8l-.3 1.4l-.5 -1.6l-.4 -1.7l.9 .3zM168 523.1l-.2 1l-.8 -.3l-.7 -1.6l.5 -1.1l1.1 .9zM107.6 531.9l.4 -.7l.5 -.3l.6 0l.5 .3l0 .6l-.5 .3l-.5 0l-.3 -.1zM48.4 590.9l-.4 .1l-.7 -.5l-.5 -.6l1 .3l.4 .4zM22.8 623.9l.1 -1.2l.9 1.4l.3 1.5l-.3 .7l-.7 -1l-.4 -.8zM65.6 670.3l.4 -.7l1.1 .3l.6 1l-.3 .5l-.3 .5l-.6 -.7zM185.9 612.6l-.4 .3l-.3 -.7l.1 -.7l.6 -.5l.7 1.1zM115.8 508.8l.4 .6l-.1 .6l-.1 .5l-.4 -1l-.2 -.8zM82.3 633.4l1.4 -.3l1 .2l.9 1l-1.4 .5l-.7 -.6zM146.3 558.3l.4 -1.2l.3 -.6l.3 .2l.3 .8l-.6 .9zM179.4 554.2l-.7 -.2l-.8 0l.5 -.6l.2 -.4l.4 .3l.3 .2zM70 698l-.5 -.6l.1 -.4l.5 -.5l.9 .2l-.6 .6zM63.7 629.9l-.4 -.6l-.2 -.2l-.3 -.8l.4 -.5l.3 .2l.2 .1l0 .7zM73.1 643.9l0 .8l-.8 -.4l-1.1 -.5l.5 -.8l.8 .1l.6 .1zM196.7 638.3l0 .5l-.5 .1l-.5 .7l-.2 -.6l-.4 -.4l.4 -.6l.6 -.2l.7 -.1zM44.4 543.2l-.8 -.2l-.3 -.8l-.3 -.8l.9 .3l.6 .6l.4 .7zM190.3 555.5l.3 .5l.7 .5l-.6 .2l-.5 0l-.5 -.1l-.2 -.5l.1 -.6zM167.2 710.5l-1.3 -.8l.1 -1.3l.4 -1.1l1.4 -1l1.2 1.1l-.4 1.2l-.4 .7zM79.9 580.9l-.2 -.4l-.2 -.2l.1 -.5l.5 .1l.7 -.1l0 .5l-.2 .4zM217.4 580.6l-.2 -.6l.5 -.7l.8 -.2l.6 -.3l.4 .2l-.9 .7l-.5 .8zM131.7 613.4l-1 -.6l-.4 -.5l.4 -.4l.7 -.7l.5 1.1zM99.8 715.4l.6 -.2l.5 -.1l.8 .6l-.5 .6l-.4 .5l-.7 -.5zM123.2 542.8l.6 -.1l0 1.3zM151.4 659.8l-.2 .5l-1.2 .1l-1.4 -.2l.3 -.8l1.7 -.1zM74.1 525.9l-.4 .3l-.7 -.1l0 -.5l-.1 -.4l.4 -.2l.5 .1l.3 .3zM195.6 510.5l.2 -.5l.4 .2l.4 .3l-.3 .6l-.5 .3l-.4 -.5zM110.2 704.4l-.7 -.2l.3 -.6l.9 .3zM190.6 556.8l.4 -.2l.4 .7l-.1 .3l-.5 .3l-.7 -.9zM114 664.5l.8 1.4l-.8 -.1l-.5 -.2l-1 -1.1l.6 -.5l.4 -.4zM230.6 653l.1 -.7l.3 -.9l.3 .8l-.1 .9l-.4 .5zM270.3 620l.2 1.2l-.3 1.5l-1.5 0l-.4 -1.2l-.3 -1.2l1.1 -.5zM83.4 632.4l-1.2 .7l-.9 -.2l-.6 -.7l.6 -1.2l1.2 -.3l1.1 .4zM64.7 646.3l-.7 -1.2l.4 -.3l.8 .8l.4 1.1l.4 1l-.6 -.1l-.6 -.5zM55.9 660.5l.8 1l-1.4 -.1l-1.2 -1l-.2 -.6l.8 .1zM206.6 506.7l.4 -.5l.5 .4l.5 .2l-.6 .3l-.6 .3l-.6 -.1l-.3 -.4zM45.2 599.2l.1 .6l-.4 -.4l-.4 -.3l.3 -.5l.3 .3zM55.2 546.3l.3 -.6l.5 .6l.2 .8l-.6 .2l-.3 -.2l-.6 -.4zM53 608.2l.5 .2l.4 .2l.4 .5l-1.1 -.1l-.8 .3l-.5 -.4l.5 -.5zM169.2 581.4l.4 1l.1 .6l.1 1.4l-.8 -.2l-.4 -.5l-.1 -1.2zM139.8 495.4l.9 -.4l.7 .4l-.6 .8l-1.5 .5l-.3 -.5l0 -.4zM118.2 724.9l-.6 .2l-.6 .2l-.5 -.2l.9 -.6l.5 -.1l.3 .1zM98.3 524.7l-.4 -1.2l-.5 -1.5l.7 0l.9 1.6l-.4 .6zM96.5 662.9l-.8 1l.1 -.7l-.7 .2l.5 -.8l.7 -.8l1 -.7l-.3 .9l.1 .3zM225.2 618.6l.5 -.7l.8 0l1 .1l-.1 .9l-.9 .4l-.6 -.3zM157.5 627.1l.2 1l.1 .5l-.3 .2l-.5 -.4l-.2 -.6l-.6 -1.1l.6 .1zM161.8 597.1l.5 -.8l.5 -.1l.4 .1l.3 .4l.1 .9l-.8 -.1l-.7 .5zM85 563.2l.4 -.3l.3 .7l0 .9l-.3 .2l-.3 .3l-.1 -1zM80.8 676.1l-.7 .7l-.2 -1l-.3 -.8l.9 -.5l1 .2l.3 1.1zM56.6 528.4l-.4 -.7l.3 -.5l.5 .2l1 .5l-.8 .5zM143.3 712.5l-.8 .2l.6 -1.3l1.1 -.8l.5 .4l-.6 1.3zM220.3 528.5l.8 .3l.3 .5l-.3 .5l-1.3 -.4l-.1 -.7l.1 -.2zM129.1 649.7l.4 -.4l.6 .1l.3 .2l-.9 .3l-.8 .1zM128.4 672.6l-.3 -.3l.5 -.4l.6 -.2l.5 .3l0 .4l-.5 .4l-.4 -.1zM44.6 537.4l.2 .7l-.9 .2zM139.6 531.7l-.3 .3l-.2 -.3l.2 -.6l.4 .1zM143.2 592.7l.7 .3l.3 .6l-.1 .4l-.5 0l-.6 .1l0 -.6l.1 -.3zM85.9 657.3l-.7 .6l-.8 .2l-.3 -.6l.6 -.6l.9 -.1zM244.2 581l-.5 .1l-.3 -.3l.5 -.7l.7 -.4l1.2 -.7l.1 .7l-.8 1zM224.5 682.6l0 .6l-.7 -.9l.3 -.2zM210.2 602.3l.3 1.3l-1.1 .8l-1 -.6l-.6 -1l1.1 -1zM108.3 504.5l.5 .6l-.1 .5l-.7 -.2l-1 -.7l-.3 -1.2l.9 -.3zM195.1 514.4l1.6 -.9l1.8 2l.4 2l-1.7 0l-1.2 -.8l-.9 -1zM231.3 669.3l-.1 -.5l.6 -.3l.7 0l.5 .1l-.3 .4l-.2 .3l-.6 0zM154.5 699.3l.5 -.3l.3 .3l-.2 .5zM176.9 667.5l-.3 -.5l1.2 -.4l1.2 0l.3 .5l-1.2 .5zM214.8 651.7l-1 -.4l1.2 -.4l.7 -.4l1.2 .1l-.1 .7l-.2 .7l-1.1 -.3zM143.9 734.9l.2 .8l-.1 .8l-.7 .1l-.7 -.4l.2 -.8l-.2 -.8l.6 0zM255.6 647.6l-.3 .7l-1 -1.2l-1 -1.3l1.2 .2l1.5 .8zM160.9 540.5l-.1 .7l-.6 .4l-.2 -.6l.1 -.7l.3 -.5l.3 -.6l.2 .5l.5 .1zM129.2 715.5l-1.2 .9l-1.3 .4l.1 -1.2l.3 -.6l.6 -.2l.8 -.1zM212.1 678.3l.6 -.8l1.1 -.4l1.1 .2l.5 .6l-.7 .5l-.6 .7l-.8 -.5zM21.8 608.6l.1 1.2l.2 .7l-.5 -.1l-.6 0l-.4 -1.1l.4 -.8zM104.1 552.8l-.7 -.1l-.7 -.3l-.2 -.6l-.8 -.8l.4 -.2l.7 0l.6 .8l0 .4zM143.9 672.8l.4 1.5l-.2 1.2l-.8 -1l-.6 -1.1l-.5 -1.7l.5 -.6l.7 .7z"/>
<path fill="#000" d="M130.3 472.6l-.5 0l-.4 -.5l.3 -.4l.6 .2l.2 .5zM132.9 473l.3 0l.1 .2l-.2 .2l-.3 0l.1 -.2zM129 471.6l1 -.7l.6 -.1l.8 -.2l-.1 .6l-1.1 .6l-.8 .1zM127.9 475l.2 -.6l.8 .4l1.1 .4l-1.1 .2l-.7 0l-.5 -.2zM135.4 474.1l-.1 -.6l.4 -.2l.1 .5zM136.6 472.6l-.2 -.6l.9 .5l.8 0l-.3 .4l.1 .3l-.4 0l-.7 .2l-.4 -.5zM133.3 480.1l-.3 -.5l.1 -.2l.3 0l.5 .6l-.3 .1zM133.7 475.6l-.6 -.2l-.5 -.4l.2 -.7l.7 .4l.4 .5zM132.3 475.1l.3 .4l-.5 .2l-.3 -.2l0 -.5zM131.3 480.2l-.8 .3l-.4 .2l-.7 0l-.3 -.6l.2 -.5l.7 .1l.3 .2zM129.1 475.1l.5 .4l-.7 -.1zM120.3 488l-1 -.2l-.7 .1l-.5 -.3l.2 -.2l.4 -.3l.9 0l.9 .2l-.5 .3zM124.2 486.8l.2 .7l-.4 .3l-.4 -.7l.1 -.6l.3 -.4zM124.5 487.2l-.2 .5l-.5 .4l-.1 -.4zM130.1 487.9l-.4 .7l-.6 .6l-.7 .3l-.2 -.4l.5 -.8l.8 -.4zM128.1 487l-.4 -.1l.1 -.4l.5 -.5l.5 -.2l.2 .3l-.1 .2l.2 .3l-.6 .4zM129.7 490.3l.3 -1.2l.4 -.5l.4 .4l.1 1.4l-.5 .7l-.4 .1zM130.9 490.7l.4 -.2l-.2 .5l-.2 0zM130.7 495.4l0 .3l-.3 .1l-.3 0l-.4 -.3l.2 -.4l.4 -.2l.6 -.1zM130.2 500.3l-.3 .6l-.3 -.5zM129.8 500.5l.3 -.3l.6 .3l.4 .3l.8 .3l.2 .5l-.6 0l-.5 -.1l-.4 -.5zM128.9 499.8l.4 .1l.5 .6l.1 .7l-.5 .1l-.4 -.4l-.6 -.2l-.2 -.7l.2 -.4zM125.3 501.7l-.8 0l0 -.3l.6 -.3l.8 .3zM124.9 499.5l-.1 .4l-.8 .4l-.5 -.3l.1 -.3l.4 -.5l.6 .1zM128.4 500.2l.5 -.3l.1 .6l-.3 .6l-.6 .1l0 -.7zM122.2 496.9l.2 0l.1 .3l-.1 .4l-.3 0l0 -.4zM119.8 495.9l.2 .4l-.3 .3l-.5 .2l0 -.6l.1 -.6zM117.8 494.4l-.6 -.1l.4 -.4zM119.5 494.7l-.8 -.3l.4 -.8l.5 .5zM101.2 478.8l-.3 .7l.3 .7l-.4 .3l-.5 -.1l-.3 -.5l-.1 -.8l.4 -.3l.4 -.2zM100.9 485.3l-.6 .1l0 -1zM105.8 485l-.6 -.8l.4 -.9l.7 .3l.1 .7l.1 .9zM105.7 487.5l.1 .4l-.7 .2l-.5 .1l.4 -.5l.3 -.5zM104.6 488.6l-.3 -.4l.2 -.4l.4 .3zM98.7 485.2l.2 .4l-.6 -.2zM97.1 487l-.5 -.5l.4 -.6l.3 -.3l.3 .4l.2 .3l-.2 .2zM110.3 477.1l.1 .5l-.5 -.1l-.5 -.3l.4 -.4zM109.6 480.7l-.4 -.7l0 -1.1l.6 .3l.4 .6l-.1 .9zM114.5 481.1l-.3 -.3l-.2 -.3l.5 -.4l.8 0l.5 .2l-.1 .3l-.5 .2zM113.7 481.1l-.4 .3l-.4 -.3zM113.5 486.5l.3 -.2l.1 .3l-.3 .5l-.4 .3zM112.1 483.6l.2 .4l0 .6l-.5 .6l-.5 0l0 -.7l.3 -.6zM110.6 481.6l.2 -.1l.2 -.2l.4 .5l.3 .3l.4 .6l-.3 0l-.5 -.3l-.5 -.3zM108.6 483.5l.4 .1l.1 .4l-.4 .4l-.5 .2l.1 -.5zM110.7 525.1l-.6 -.1l.5 -.2zM112.5 526.6l.8 -.1l0 1zM109.3 526l.2 .3l-.1 .3l-.4 .1l-.2 -.2l.2 -.3zM114.4 528.5l.1 .6l-.6 -.5zM111.1 532.9l-.5 .7l-.6 .4l.2 -1l.4 -1l.3 .3zM112.3 534.8l.7 .1l-.6 .4zM106.1 530.9l0 -.4l.5 0zM106.9 529.7l.3 .2l.3 .5l-.4 .5l-.7 .1l-.3 -.6l0 -.4l.1 -.3l.3 -.1zM92.6 554.9l-.5 -.2l-.2 -.5l.4 -.3l.6 .5zM93 552.4l.1 .4l-.6 0l-1 -.3l-.2 -.6l.5 0l.4 -.1l.6 .2zM97 556.8l-.1 .5l.3 .4l-.1 .4l-1 -.1l-.4 -.6l-.1 -.3l0 -.4l.6 0zM99.5 555l.3 .5l-.6 .3l-.1 .4l-.4 -.1l-.2 -.3l-.3 -.4l.3 -.3l.4 0zM100.6 558l.8 .6l0 .4l-.5 -.2l-.4 -.3l-.2 -.4zM93.8 556.9l.4 -1.1l.5 .7zM93 559.2l.3 -.1l.3 .2l0 .5l-.4 -.2zM88.7 555.3l.9 .1l.2 .5l-.8 .3l-.8 -.4zM90.2 557.7l.3 .6l-.5 .3l-.2 -.4zM89 560.6l.7 -.2l-.4 .7zM70.9 570.7l.6 .6l-.8 .4l-.6 -.2l-.5 -.8l.9 -.6zM69.9 571.4l-.2 .5l-.6 0l.4 -.6zM75.4 573l-.3 .4l-1 -.3l.5 -.6zM74.7 572.9l.8 .6l-.4 .7l-.5 .8l-.5 -.8l-.1 -.8zM72.3 578.8l-.4 .5l-.6 -.2l.1 -.7l.3 -.3l.5 -.1zM69.4 574.9l.4 -.7l.3 .7l-.2 1zM67.9 574.4l-.3 -.3l.5 0l.4 .3l0 .2l-.4 0zM107.9 569.8l.1 .4l-.5 -.1l-.3 -.2l.4 -.4zM108.8 571.1l.6 .4l.5 .2l-.3 .2l-.4 0l-.4 -.3zM111.6 576.3l.4 0l.5 .1l.1 .3l-.4 0l-.6 -.2zM112.1 574.4l.8 -.4l.1 .4l0 .3l-.1 .4l-.5 .4l-.5 .2l.2 -.5l-.5 -.2zM111.2 573.4l-.3 -.3l.6 -.1l.5 .1l-.2 .3zM109.5 576.1l.1 .5l-.5 .3l-.4 -.5zM110 577.7l-.1 .4l-.5 -.5l.1 -.4zM106 574.4l-.6 .1l0 -.8zM32.6 592.1l-.5 -.6l1.2 0l1.1 .5l.3 .6l-1.3 0zM35.1 595.1l.3 -.2l.7 .3l-.2 .5l-.6 .3l-.6 -.6zM36.6 595.1l-.4 .4l.1 -.6zM34 597.9l.5 .2l-.4 .4l-.3 .2l-.7 .3l-.5 -.1l-.4 -.2l.3 -.3l.6 -.4zM32.8 595.5l0 -1.1l.7 -.2l.3 .9l.2 .5l-.1 .8l-.6 0zM90 588.3l.4 -.8l.5 -.3l.1 .9l-.2 .5l-.4 .2zM87.3 587.6l-.1 .1l-.3 0l-.6 -.3l-.3 -.6l0 -.5l.5 0l.5 .5l.3 .4zM92.8 590.4l-.4 -.1l-.5 -.2l.2 -.5l.2 -.7l.5 .8zM93.4 589.3l.4 .6l.3 .7l-.3 1l-.4 -.7l-.4 -.6zM90.6 594.7l-.3 -.5l.3 -.8l.3 -.1l.2 .5l-.2 .7zM87.9 594.7l-.4 .2l-.8 0l0 -.5l.7 -.2zM86.3 588.7l-.5 .1l-.8 -.1l.4 -.8l.1 -.9l.8 .1l.5 .6l-.1 .7zM85.8 590.6l-.6 .1l.5 -1.3l.2 -.9l.6 -.4l.2 1l-.3 1.5zM63 609l-.4 .1l-.5 -.2l.1 -.5l.4 -.4l.4 -.3l.5 -.1l.4 .5l-.2 .7zM61.7 609l.6 0l.1 .6l-.7 .6l-.5 .1l-.2 -.3l-.1 -.7zM65.2 608.5l-.2 .2l-.5 -.1l0 -.5l-.2 -.3l.2 -.4l.5 .2l.4 .2l-.2 .4zM65.4 603.6l.1 .9l-.3 .5l-.3 -.4l0 -.7zM73.3 600.2l.2 .4l-.2 0zM70.4 601.4l-.4 -.4l.8 0l.4 .2l.3 .2l-.1 .3l-.8 .1zM68.8 602.7l.3 -.3l.4 -.3l.8 .1l-.2 .8l-.6 .3l-.8 .1zM77.1 597.2l-.6 .4l-.3 -.7l.7 -.3zM71.7 598.1l.1 -.5l.4 -.1l-.1 .7zM78.7 598.3l-.3 -.4l-.4 -.3l.3 -.3l.3 -.3l.6 .1l.4 .4l0 .4l-.3 .3zM75.9 599.9l-.2 .3l-.2 .3l-.2 -.3l.1 -.3l.3 0zM85.5 597l-.5 .7l-.6 -.5l-.7 0l0 -.8l.5 -.4l.5 0l.4 .4zM81.3 599.9l.4 .1l-.2 .8l-.2 .3l-.4 .1l.1 -.6zM81.1 597.3l-.1 .7l-.5 .2zM85.7 601.1l.3 -.3l.5 .9l.4 .8l-.5 0l-.8 -.8zM86.6 603l-.5 -.5l.8 -.1l.5 .4zM87.9 600.4l-.7 .4l-.2 -.8l.5 -.5zM79.7 606.9l-.2 -.3l-.2 -.2l.3 -.3l.5 .1l-.1 .3zM77.9 604.1l-.2 .3l-.3 -.4zM86.2 608.2l-.8 .9l-.4 -.2l-.1 -.4l.2 -.6l.4 -.5l.7 -.3zM73.4 610.4l.4 -.6l.1 .4l-.2 .5l-.3 0zM76.5 610.2l.5 .3l-.8 .3zM66.4 610l1.1 -.1l1.1 .2l-.4 .7l-1 .4l-1 -.5zM67.4 611.8l-.2 -.4l.6 -.9l.5 .1l.3 .1l.6 -.2l-.7 .8l-.4 .7l-.7 .3zM65.7 614l.6 .5l-.3 .1l-.4 -.2l-.4 -.6zM68.6 610.5l.8 .1l.4 -.2l.9 .3l-.1 .5l-.2 .5l-.8 -.3l-.8 -.3zM65.3 608.5l.1 -.2l.3 .1l.4 .1l.3 .4l.3 .4l-.3 0l-.2 .1l-.6 -.4zM68.1 610.5l.8 -.2l-.2 .6l0 .3l-.4 0l-.7 .1l.1 -.5l-.1 -.5zM116 596.2l.4 .3l-.3 .1l-.4 .1l-.6 -.3l.3 -.2zM116.9 600.1l.6 .3l-.7 .4l-.4 -.1l.1 -.3zM117.3 603.6l-.6 .3l.1 -.3l.5 -.4l.1 .1zM113.5 599.6l-.5 .1l0 -.7l.7 -.1l.1 .3zM112.4 600.6l.3 -.7l.7 .1l-.1 .4l-.3 .6l-.9 .2zM53.1 525.6l.8 .2l.1 .8l-.4 .4l-.7 -.2l-.1 -.6zM55.9 529.9l.3 -.1l.3 -.1l0 .4l-.2 .2l-.3 0zM57.1 529.2l.2 .4l-.4 .1l-.2 -.2l-.2 -.2l.3 -.1zM52.8 529.7l-.3 -.3l.3 -.5l.5 .6zM54.5 533.2l.2 -.2l.3 -.1l.6 .1l0 .6l-.4 .5l-.5 -.4l-.5 0zM50.8 531.8l-.4 -.8l0 -.9l.7 .8l.5 .6l-.3 .4l-.1 .2zM52.2 512.9l.6 0l-1.1 .9zM53.3 515.1l-.4 .3l-.5 .4l-.8 .2l-.5 -.2l.6 -.4l.1 -.4l.5 .1l.8 -.4zM49.3 516.3l-.1 -.7l.5 0l.5 .3l.5 .5l0 .7l-.3 .4l-.5 -.6l-.5 0zM55.8 514.1l.6 .3l-.7 .5zM55.3 519.5l-.4 .3l-.3 .1l-.2 -.4l.1 -.3l.2 -.5l.6 .1zM49.3 515.8l-.1 -.3l.2 -.1l.4 .1l-.1 .3zM66.9 586.9l-.6 .4l-.5 .1l-.7 -.1l1 -.8l1 -.2zM66.3 589.1l-.5 1.1l-.4 -.2l.5 -1.1zM65.6 589.7l.3 -.1l.2 -.1l.4 .1l.4 .6l.2 .8l-.7 -.5l-.3 .4l-.3 -.6zM68.3 590.5l-.2 -.2l.1 -.4l.3 0l.1 .3l0 .4zM66 595.7l.6 .5l-.5 .2l-.4 0l-.3 -.4l0 -.3zM62.2 593l-.7 0l-.3 .2l-.7 -.3l-.2 -.6l.3 -.3l.3 -.1l.5 .4zM64.7 591.8l.5 -.2l.4 .4l.4 .4l-.4 .5l-.5 .1l-.6 .2l-.2 -.6l.2 -.4zM194 542.9l-.3 .3l-.1 -.4l-.5 -.2l.4 -.4l.3 -.5l.3 .4l.4 .2l0 .5zM191.3 542.9l.1 -.3l.4 .3l0 .4zM194.4 546l-.5 .3l0 -.5zM195.8 537.9l-.7 -.1l.1 -.4l.9 .2l.4 .3zM196.9 533l-.5 -.5l-.1 -1.1l.3 -.5l.4 .8l.4 .3l-.2 .6l-.1 .4zM194.7 536.7l-.4 .5l-.1 -1zM196.8 533.4l-.2 .1l-.4 -.8l.4 -.1zM198.6 534.4l-.3 -.6l.2 -.7l.1 -.8l.6 -.6l.1 .8l.3 .4l-.4 .8zM200.5 525.2l0 .5l-.2 .5l-.3 .3l-.5 .5l.1 -.5l-.2 -.3l.4 -.5l.5 -.6zM202.4 528.3l-.7 -.3l-.4 -.6l-.1 -.3l-.4 -.6l.8 .4l.3 .4l.3 .4zM203.1 529l.1 -.3l0 -.3l.8 -.4l.4 .1l-.2 .3l-.3 .5zM207.8 526.9l-.2 .3l-.5 -.1l-.3 -.1l.5 -.2zM206.2 525.4l.3 .4l-.5 0zM211.7 527.3l-.1 -.8l.7 .3l.1 .8zM210.9 529.4l-.3 -.2l.2 -.2l.2 0l.4 .3l-.2 .2zM212.5 532.8l.3 .1l-.2 .2l-.3 .1l-.3 -.2l.3 -.2zM211.9 530.4l-.4 -.2l-.2 -.9l0 -.8l.4 .4l.3 .5l.1 .7zM205.7 533.9l-.2 .1l-.4 0l-.7 -.1l-.1 -.5l.1 -.4l.8 .2l.3 .3l.2 .2zM211.8 535.6l-.3 0l-.1 -.4l.4 0zM205.7 536.2l-.2 -.3l.4 -.3l.2 .3zM206.2 540.4l.3 .8l-.5 .1l-.6 0l-.2 -.8l0 -.5l.4 -.3zM204.1 537.4l-.5 0l0 -.8l.7 -.1zM204.4 538.9l.3 .3l.6 .6l0 .4l0 .5l-.7 -.5l-.4 -.6l-.8 -.9l.8 .3zM206.1 539.6l-.2 .5l-.2 .4l-.2 -.7l-.3 -.3l.2 -.6l0 -.8l.3 0l.3 .6zM205.5 540.3l-.9 .2l-.8 .1l.1 -.7l.8 -.5l.7 -.1l-.1 .4zM211.1 545.3l.1 .4l-.7 0l-.5 -.1l.5 -.4l.5 -.2zM209.5 546.9l.3 .7l-.1 .8l-.7 -.7l-.1 -.5l.1 -.6zM207.7 543.8l-.1 -.8l.1 -.5l.6 -.4l.2 .7l-.2 .4zM214.5 548.6l-1 .1l.2 -.3l.4 -.4l.7 0l.3 .2zM215.4 550.2l-.5 -.7l.1 -.5l.4 -.1l.6 .2l.6 .7l-.5 .4zM208.8 550.3l.4 0l.1 .6l.4 .6l-.6 -.1l-.3 .5l-.2 -.6l-.1 -.4l-.1 -.5zM211.9 553.4l.7 -.2l.6 -.1l.4 .8l-.7 .6l-.7 -.4zM211.5 551.6l-1 -.1l.5 -.5l.8 .1zM203.9 553.2l-.4 .5l-.3 .3l-.4 0l.1 -.4l.4 -.2zM207.5 556.3l-.3 .2l-.2 0l-.1 -.4l.7 -.7l.2 .2l.3 .1zM207.8 555.1l-.8 -.6l.3 -.4l.8 .2zM201.8 552.8l.3 -.3l.6 .3l.4 .3l-.3 .4l-.7 -.3zM203.9 551.6l-.8 -.1l.5 -.8zM198 550.2l.5 .9l-.8 -.3zM194.8 549.1l-.7 -.1l-.2 -.3l0 -.3l.6 -.3l1 .1l-.5 .5zM193 546.2l.6 -.1l.7 -.2l-.3 .7l-.5 .5l-.8 -.1zM192 546.7l-.3 .4l-.6 -.3l.5 -.7zM177.1 478.1l-.7 -.1l-.5 -.4l-.5 -.5l.4 -.4l.4 -.1l.5 -.1l.5 .3l-.4 .5zM176.5 474.3l.4 .5l-.5 .5l-.6 .3l-.6 -.3l0 -.6l.6 -.2zM183 475.9l-.5 -.1l.4 -.1zM181.7 476.1l.2 -.5l.5 -.4l.5 .4l0 .4l.3 .6l-.8 .4l-.6 -.4zM181.1 478.8l.4 -.2l.4 .3l0 .5l-.1 .4l-.5 .2l-.3 -.3l-.4 -.2l.1 -.5zM181.6 481.6l.4 .9l.4 .7l-.3 .1l-.5 -.6l-.4 -.5l.2 -.2zM182.8 479.8l.6 .6l-.6 .3l-.7 -.6zM186 484.2l-.7 .4l.1 -.7l.5 -.6l.5 -.2l.6 -.1l-.5 .7l-.2 .4zM186.4 483.4l-.5 .5l-.5 0l-.1 -.4l.4 -.5l.3 .2zM180.6 487.4l-.7 .7l-.1 -.8zM182.2 489l-.5 .6l-.2 .3l-.6 .1l-.3 -.4l0 -.5l.8 .1zM179.3 481.4l.5 -.8l.7 .5l.7 .4l-.4 .8l-.6 .4l-.7 -.5zM178.2 485.2l-.5 .1l.6 -.7zM175.8 477.8l-.2 .3l-.2 -.1l.2 -.3zM174.8 482.2l.2 -.3l.2 .3zM167.7 485.1l-.9 .7l-.7 -.2l-.6 -.4l1.1 -.5l1 -.3zM165.9 484l.6 .4l-.2 .7l-.6 0l-.5 -.1l.1 -.6zM169.7 487.8l-.3 -.3l.4 -.5l.4 .4zM169 487.3l.3 -.4l.5 .1l.1 .7l-.1 .7l-.5 0l-.5 .4l-.1 -.7l-.2 -.6zM167.6 491.7l.8 -.2l-.4 .3zM164.3 491.2l-.3 -.5l.2 -.3l.5 0l.2 .7zM166 485.5l-.5 .5l0 -.7l0 -.9l.6 -.4l.7 -.1l-.5 1.1zM164.8 488.3l0 1.3l-.4 .7l-.5 -.6l-.1 -1.1l.4 -.6l.4 -.6zM213.5 488.4l.1 .6l-.4 .3l-.3 -.3l.1 -.4zM214.4 488.8l-.3 .4l-.3 .6l-.5 -.2l.1 -.6l-.3 -.7l.7 .1l.5 -.1zM214.9 492.4l-.4 -.1l0 -.3l-.1 -.4l.4 .3l.2 .2zM210.6 494.8l.3 -.4l.5 .4l0 .3l-.2 .3l-.4 -.2zM209 491.4l-.5 0l-.5 -.2l.1 -.5l.1 -.8l.6 .7l.4 .4zM159.6 505.8l.1 .4l-.3 .2l-.4 -.3zM161.3 504.9l-.1 .1l-.3 .1l-.4 0l.2 -.3l.5 -.1zM160.9 507.5l.1 -.3l.7 .4zM158.8 510.5l-.2 -.5l.2 -.4l.3 .1l.3 -.4l.3 .5l.1 .5l-.4 .1l-.2 -.1zM158.9 509.6l-.8 .4l.2 -.7l.5 -.7l.6 .1l.8 -.5l-.4 .7l-.3 .7zM154.7 506.9l-.1 -.3l.7 -.1zM223.9 507.4l-.9 -.4l-.2 -.5l.1 -.4l.6 .1l.5 .5zM223.6 508.2l.2 .1l.3 .3l-.2 .3l-.5 -.3l0 -.2zM231.8 508.1l-.6 -.6l-.1 -.8l.5 .2l.8 .7l-.3 .3zM227 510.4l.5 -.1l.3 0l.5 0l.2 .4l-.4 .3l-.2 .1l-.6 .4l-.3 -.6zM229.9 508.8l.7 -.1l-.2 .7l-.2 .3l-.5 .6l-.1 -1l0 -.3zM235.3 510.9l-.1 .2l-.7 .2l0 -.3l.6 -.3zM233.8 513.3l.5 -.1l.2 .2l-.5 .3l-.4 -.1zM234.2 516l.5 .4l0 .4l-.5 .4l-.7 -.7l0 -.6zM229.3 516.2l.2 -.9l.6 -.1l.1 .3l-.2 .8l-1 .8zM225.3 512.8l-.3 0l-.1 -.3l.1 -.5l.6 0l.2 .6zM226.7 515.6l.3 -.4l.5 .6l-.7 .2zM222.5 510.6l-.9 .5l.5 -.9zM220.9 511.7l-.2 0l-.3 -.2l0 -.2l.3 0l.3 .2zM220.6 509.7l.3 .6l-.3 .5l-.5 -.3l0 -.6zM244.2 516.6l-.3 -.4l.2 -.9l.6 .5l.7 -.1l0 .8l-.5 .6l-.4 -.2zM244.7 518.6l.7 .2l-1.1 .3zM248 518.9l-.5 -.3l-.4 -.5l.7 -.2l.7 .6zM249.2 520.7l.5 0l-.2 .3l-.6 .1zM252.5 524.1l.8 .3l.9 .3l.4 .8l-.4 .3l-1.1 -.8zM251 521.9l.2 -.7l.4 -.4l.2 -.3l.5 -.3l.2 .5l-.4 .8l-.6 .3zM256.3 525.9l.1 .7l-.3 .2l-.4 .1l-.1 -.6l.1 -.3l.1 -.3l.2 -.1zM256.4 527.9l-.2 .4l-.6 -.1l-.1 -.5l-.2 -.6l.8 .1l.7 .1zM256.6 526l-.1 .6l-.7 -.1l-.4 .1l0 -.5l-.5 -.6l.8 .1l.4 .1zM255.7 531.1l-.5 -.8l-.6 -.7l.5 -.1l.3 -.1l.5 .4l.3 .9zM247.7 529.2l.3 -.3l.2 -.5l.4 -.1l.2 .4l-.1 .4l-.2 .3l-.3 0l-.3 0zM244.6 525.1l.3 -.1l.3 -.1l.6 -.2l.4 .5l-.1 .4l-.3 .1l-.5 .3l-.8 -.3zM250.7 525.1l.2 -.4l.4 -.2l.3 .3l.2 .3l-.5 .1zM243.4 522.8l.3 -.2l.4 .1l.7 .3l-.1 .4l-.6 -.1zM243.3 523.6l-.4 -.4l.5 -.3l.4 .4zM244.5 520.3l.2 -.5l-.1 -.3l.3 -.1l.6 -.1l0 .7l.5 .6l-.4 .1l-.5 .3zM238.7 519.3l-.3 -.2l.1 -.5l.5 -.5l.6 -.7l.4 .1l.3 .2l-.3 .7l-.6 .4zM238.1 536.6l.5 -.1l.5 .1l-.3 .3l-.5 0zM240.3 533l.6 .1l.3 .3l-.9 .1l-.4 -.2zM245.4 542.5l.5 -.3l.2 .1l.6 0l-.1 .4l-.7 .3l-.4 .1l-.7 .2l.3 -.5zM243.2 542.4l-.2 -.3l.5 .3l0 .1l-.1 .2zM248.6 542.2l.3 .2l0 .2l-.4 .3l-.9 -.2l-.2 -.6l.7 0zM249.7 547.4l-.2 .1l-.1 -.4l.2 -.5l.3 0l0 .6zM246.9 545.5l-.2 -.3l-.2 -.4l.3 -.2l.2 0l.5 -.1l-.1 .5l.1 .5l-.4 0zM251.4 552.9l.2 .5l-.9 -.2zM246.4 551.8l-.5 .6l-.6 0l.5 -.8zM246.9 551.4l.3 .4l-.6 .3l-.4 -.5l.1 -.3l.3 -.1zM242.5 547.6l-.7 -.1l.4 -.7zM239.8 547.1l.5 .3l-.4 .2zM243.1 546.8l-.8 .1l-.3 -.3l-.6 -.6l.9 -.2l.6 -.3l.5 .5zM238.8 544.6l-.7 -.4l.5 -.8zM239.3 544.1l-.9 -.1l.4 -.7zM240.3 542l-.5 .3l-.5 .3l-.7 -.1l-.1 -.3l.3 -.3l.7 -.2l.8 0zM250.4 553.9l-.5 .4l-.2 -.5zM249.6 554.5l-.1 -.6l.2 -.7l.6 .3l.3 .3l0 .4l-.3 .2l-.4 .6zM251.4 556.9l-.5 -.4l.5 -.4l.3 -.5l.7 .1l.2 .5l-.3 .5zM251.8 559.2l-.6 -.6l1.1 .4zM253.6 560.1l.8 -.1l-.4 .9zM248.3 561l-.5 .4l-.5 -.3l.4 -.6zM246.2 562.4l-.4 -.7l.8 -.1l.6 .2l.2 .6l-.6 .6zM245 554l.4 -.2l.5 .4l.4 .6l-.6 .3l-.9 -.1l-.3 -.7zM246.5 557.6l0 1.5l-.6 -.7zM247 558.2l-.3 .2l-.7 0l-.4 -.4l-.1 -.4l.7 .1l.4 -.1l.3 .2l.1 .2zM247.3 579.7l.5 -.2l-.2 .6l-.5 .4l-.6 .2l.3 -.5zM248.6 583l.6 0l-.2 .7zM251.8 583.7l0 .4l-.3 .3l-.4 -.3l-.2 -.5l.5 -.1zM251.4 583.4l0 -.4l-.1 -.4l.3 -.2l.3 -.4l0 .4l.2 .2l-.1 .7l-.4 .4zM252.7 582.1l-.5 .4l-.3 -.7l0 -.8l.4 -.3l.5 .3l.5 .5l-.4 .5zM258.4 587.5l-.9 -.4l-.3 -.6l1.1 .1l.5 .5l.2 .3zM255.8 585.8l.4 -.3l.4 .1l-.2 .5l-.3 .5l-.4 .2l-.2 -.3l-.1 -.3zM256.2 585l-.4 -.1l.1 -.3l.3 -.1l.3 .3zM262.5 587.5l-.8 .2l-1.1 .1l1.1 -.5l.7 -.5l.9 .1zM261.6 588.9l0 -.3l.5 -.1l.8 .1l-.8 .7zM265 591.4l-.6 .1l.5 -.9zM262.9 590.6l0 -.5l.3 -.3l.5 .2l.1 .5l-.4 .1zM261 596.7l-.8 -.8l.7 .1zM261.1 596.6l-.2 -.4l.7 -.2zM254.2 593.2l-1.1 -.3l.6 -.4l.9 .5zM258.6 589.5l.7 .2l0 .7l-.7 .1l-.3 -.5zM250.4 595.4l-.3 -1l.4 -.7l.6 -.8l.3 1.1l-.4 .8zM252.7 593.1l.5 -.1l.6 .8l-.8 -.2zM246.8 590.7l.7 -.1l.3 .3l.7 0l-.1 .3l-.7 0l-.5 .1l-.5 -.1l-.3 -.3zM244.2 592.2l.8 -.4l.8 -.4l.5 .4l-.9 .5l-.9 .3zM246.9 585.3l-.1 .7l-.1 .9l-.4 -.1l-.2 -.5l.2 -.9l.4 -.4zM248.2 589.4l-.4 -.3l.5 -.3zM174.5 543.5l.5 .4l-.1 .4l0 .4l-.5 -.4l-.2 -.2l-.4 -.4l.1 -.5zM176.2 544.1l-.3 .3l-.3 .5l-.9 .1l-.6 -.2l.5 -.4l.5 -.2l.5 -.2zM174.9 539.8l.8 .4l.6 1.2l.1 1.1l-.6 .1l-.5 -1.4zM176.6 544.6l-.6 -.1l-.3 -.8l.7 -.3l.4 0l.2 .3l.3 .8zM173.5 546.5l.8 .3l.4 .3l-.2 .4l-.8 -.2zM176.8 547.6l.1 .4l-.5 .2l-.4 -.3l.3 -.5zM172.3 548l-.5 -.3l-.2 -.3l.3 -.4l.6 -.3l.2 .7zM174.9 549.3l-.8 -.2l-.1 -.4l-.4 -.4l.7 -.1l.7 -.4l.8 .4l-.5 .6zM181 556.1l-.4 .4l-.3 0l.1 -.4l.5 -.4zM185.2 554l.1 .3l.3 .3l-1 .5l-.6 .3l-.9 .4l.8 -.9l.1 -.3l.6 -.5zM184.4 554.4l.1 .5l-.5 .4l-.4 -.3l-.5 -.1l-.2 -.5l.5 -.4l.4 -.3l.5 .3zM190.7 554.4l.7 -.7l-.1 .7l-.3 .4l-.3 0zM188.8 553.4l.2 .7l-.4 .5l-.1 -1zM194.6 558.9l-1 1.1l-.2 -.3zM194.9 556.9l.3 -.1l.6 .2l.6 .6l-.6 .1zM193.3 555.6l-.4 -1l.5 0zM195 561.3l-.3 -.3l-.1 -.6l.3 -.2l.2 .2l0 .4zM195.7 560.8l-.9 .1l-.4 .1l.2 -.4l.5 -.6l.6 .2zM194.5 562.4l-.1 -.8l.1 -.6l.4 -.1l.3 .9l.1 1l-.4 .1zM189.2 562.3l.1 -.4l.3 -.6l.8 -.1l-.2 .7l0 .5l-.6 .1zM188.1 561l.8 -.1l-.5 .5zM184.5 560.8l.2 -.8l.3 .3l.1 .5l-.1 .5l-.3 -.1zM185 563.6l-.2 -1.1l-.2 -.6l.3 -.5l.6 .4l.4 .8l-.4 .4zM182.5 560.1l.1 -.5l.3 -.5l.6 .1l.5 .2l-.6 .5zM150.4 527.2l.5 -.3l.4 -.1l0 .8l.2 .4l-.2 .7l-.4 .7l-.2 -.8l-.3 -.4zM149 526.7l.5 -.3l.2 -.5l.7 .6l.3 .6l-.4 .2l-.5 0zM155.1 528.1l-.6 .4l0 -.7zM156.3 529.4l-.6 -.4l.4 -.6l.4 .4zM157.8 533.1l-.7 .1l-.1 -.4l.4 -.3zM158 534.3l.8 .2l0 .5l-.2 .3l-.6 -.2l-.4 -.2l0 -.3l.1 -.1zM154.5 532.6l.6 -.2l-.1 .6l-.3 .2l-.2 -.2zM153.1 536.4l-.1 .3l-.3 .7l-.2 -.6l-.2 -.4l.2 -.5l.2 -.4l.3 0l.1 .5zM151.3 528.4l.1 1l-1.1 .1l-.4 -.8l.5 -.4l.6 -.7zM149.5 529.6l.2 -.8l.4 .1l.3 .9l-.4 .7l-.3 .2l-.4 -.1zM217.2 602.1l-.1 .4l-.3 -.3l-.3 -.3l.3 -.2l.3 0zM216 605l.7 .6l-.8 -.2zM220 605l.6 -.4l.5 .8l-.3 .5zM227.1 603.7l-.5 .5l-.2 -.2l.2 -.3l.3 -.2zM220.6 603.1l.4 .1l.5 .2l.1 .4l-.4 -.1l-.3 -.3zM226.3 604.4l-.2 .9l-.5 0l.3 -.6zM223.3 607.3l.7 .2l1 .9l.1 .8l-.9 -.4l-.9 -.3l-.6 -1zM218.2 605.4l0 .6l-.3 -.2l-.2 -.5l.2 -.3zM220.4 608.3l.4 -.3l.2 .4zM213.5 603.8l.3 -.1l.1 .3l-.1 .6l-.5 .6l-.3 0l0 -.4l.2 -.5zM167.7 592.8l.6 .2l.8 .4l-.4 .2l-.5 0l-.6 -.5zM170.8 595l.3 .4l.6 .5l-.2 .6l-.7 0l-.6 -.3l-.7 -.4l.5 -.5l.4 -.1zM169.1 596.7l-.1 -.5l.5 -.2l.7 -.3l-.2 .7l-.4 .5zM167.5 597.8l.3 .8l-.3 .8l-.7 -.1l-.1 -.5l.1 -.5zM165.9 596.8l.1 -.4l.3 -.1l.1 .4l-.2 .4zM221.1 582.5l-.3 -.3l.1 -.5l.4 -.2l.1 .6zM221.2 582.4l-.5 -.5l-.1 -.5l.1 -.7l.7 -.9l.5 .4l0 1.1zM223.4 585.7l-.6 .5l-.4 0l-.4 -.4l.2 -.9l.7 -.2zM223.1 586.9l-.7 .6l0 -.9zM217.7 585.6l1 .2l-.1 .6l-.6 -.1l-.8 -.3l-.1 -.4zM213.8 585.7l.1 -.4l.9 -.2l.9 0l0 .3l.5 .3l-1 .2l-.5 -.2zM178.4 528.8l-.3 -.1l-.4 -.5l.6 -.3l.4 .4zM178.7 526.3l-.1 .4l-.2 0l0 -.3l.2 -.5zM179.7 529.3l0 -.5l.5 -.1l.2 .3l.4 .1l-.3 .4l-.3 .3l-.6 0zM181.4 530.3l-.3 -.1l.1 -.5l.4 -.2l.1 .4zM180.6 532.7l-1.1 -.1l-1.1 .3l.4 -.6l.3 -.2l.5 -.2l1 -.2l-.4 .5zM175.1 532.5l-.4 -.6l.2 -.9l.8 -.2l.5 .4l0 .8l-.5 .2zM192 509.4l-.2 -.3l.7 -.1zM195 508.5l.1 -.8l.3 .3zM192.2 512.8l.1 .3l-.3 .3l-.2 0l-.1 -.4l.3 -.2zM188.9 512.9l.4 -.8l.4 .2l-.2 .4zM193.2 508.6l.1 .7l-.1 .4l0 .7l-.5 0l-.3 -.5l.2 -.6l.1 -.7zM176.1 515.7l-.2 .5l-.2 .1l-.4 -.1l.1 -.6l.3 -.3zM178.5 517l-.1 -.5l.4 -.2l.3 -.1l.7 -.2l.2 .6l-.3 .7l-.6 .2l-.6 0zM178.9 518.6l-.3 .2l-.6 -.3l.2 -.7l.7 -.2l.1 .7zM176.4 519.7l.1 -.5l.1 -.5l.4 -.3l.2 .1l.4 0l-.3 .5l-.2 .4l-.3 .2zM175.8 517.8l-.1 .7l-.4 -.6zM170.8 514.7l.3 .2l.2 .3l-.3 .3l-.3 -.3l-.2 -.2zM182 549.2l-.4 -.4l.6 -.4l.4 .1l.4 .2l0 .4l-.3 .5l-.5 -.1zM187.9 551.5l.4 .3l-.1 .5l-.1 .2l-.3 -.1l-.2 -.2l-.3 -.4l0 -.5l.2 -.3zM186 555.3l.5 .2l-.7 .2l-.6 0l-.8 -.1l.7 -.5l.8 -.2zM181.9 553.2l.4 .4l-.6 .1l-.2 .2l-.5 .1l-.1 -.4l-.1 -.3l.3 -.1l.3 -.4zM267.4 594.2l-.2 -.3l.2 -.3zM271.7 597.9l-1.2 .1l.5 -.5l.4 -.3l.8 -.4l.3 .5l.9 .3l-1.1 .1zM268 598.7l-.4 .1l0 -.3l.5 -.1zM267.6 604l-.2 -.4l-.2 -.6l.7 -.1l0 .6zM265.1 599.4l-.6 .3l-.1 -.3l.6 -.5l.5 .1zM60 628.8l.5 0l.5 .5l.2 .9l-.5 .1l-.5 -.6zM60.7 633.4l-.2 .3l-.3 -.3l-.2 -.4l-.1 -.4l.2 -.2l.2 0l.3 .2l.6 .6zM60.1 631.7l.2 .4l-.7 -.2zM65 630.6l-.3 -.4l.4 -.4l.5 0l.1 .5l-.3 .5zM68.5 630.2l0 -.2l.4 -.4l.6 -.1l.4 .3l-.5 .5l-.9 .4zM70.5 637.1l-.1 .6l-.4 .1l-.5 .4l0 -.5l.3 -.5l.1 -.6l.3 .2l.2 0zM65.6 637.1l-.2 .2l-.4 .3l-1.2 0l-.2 -.4l0 -.3l.8 -.1l.6 0l1.4 -.1zM62.5 640.1l.6 0l0 .3l-.6 .1l-.2 -.1l-.2 -.2zM62 641.3l.2 -.5l.4 0l.2 .4l-.3 .4zM59.1 640.4l-.3 .6l-.2 -.4zM58.2 637.6l0 .4l-.6 -.4l-.6 -.3l-.4 -.6l.8 .3l.5 .1zM55.3 633.4l-.4 .7l-.3 -.2l0 -.5zM58 632l.2 .3l0 .3l-.3 .3l-.3 .4l-.9 .6l.1 -.5l-.3 -.3l.9 -.4zM76.8 621.3l-.2 -.4l.3 -.2l.4 .1l.4 .2l.2 .3l-.3 .2l-.2 .2l-.3 -.2zM74.3 626.3l-.1 .6l-.6 0l.2 -.7zM76.6 622.2l-.1 -.3l-.2 -.4l.6 -.2l.4 .3l.4 .2l-.1 .3l-.5 0zM77.6 626l.5 -.3l-.1 .3l-.4 .3l-.2 -.1zM82.5 627.1l.6 .5l-.9 .2l-.4 .1l-.4 -.3l.5 -.4l.4 -.4zM77.3 625.9l0 .4l-.4 .1l-.1 -.2l-.1 -.3l.3 -.1zM78.1 633.9l.5 .4l-.5 .6l-.4 -.8zM80 631.5l-.4 -.1l0 -.4l.3 -.1l.3 .2zM73.2 630.7l-.5 -.3l.3 -.4l.5 -.2l.3 .4l-.1 .6zM74.3 630.2l.5 -.1l-.2 .6l-.5 .7l-.6 .3l-.5 0l.6 -.8l.2 -.6zM72.7 626.4l-.4 -.9l.7 .2l.5 .8l-.3 .3zM73.2 626.4l-.4 0l-.4 -.5l.3 -.2zM67.4 640.1l-.4 .1l-.4 0l0 -.4l0 -.3l.3 -.3l.5 0l-.1 .4l.2 .2zM69.3 643.3l-.6 .1l0 -.6l.3 -.3l.5 -.2l.2 .7zM70.6 641.2l.3 -.4l1.1 .4l-.7 .2zM70.1 646.8l-.1 -.4l.3 -.5l.3 -.4l.2 .3l-.3 .6zM71.4 641.3l-.2 .5l-.3 -.1l-.2 -.5l.1 -.7l.3 -.7l.4 .1l.2 .7zM75.8 647.1l.2 -.4l.6 .2l-.4 .7zM75.1 648.7l.5 .2l-.5 .7zM73.3 645.8l.8 -.2l.3 .5l-.4 .6l-.8 .3l-.2 -.3l-.1 -.2zM71.5 650.7l0 -.5l.5 .2l0 .6zM68.7 651.9l-.4 .2l.3 -.8zM67.7 646l-.3 .1l-.2 -.4l.6 0zM67.8 649.1l.1 -.3l.3 .3l.2 .8l-.2 .2l-.4 -.5zM65.1 647l.5 -.6l.1 .3l-.4 .8zM64.7 646.9l.2 .4l-.3 .3l-.2 -.4zM87.5 642.1l.1 .2l-.4 .4l-.1 -.2zM85.7 642l.1 .6l-.6 .1l0 -.6zM89.1 642.7l-.3 -.5l.7 .3l.5 .5zM86.1 647.1l-.2 -.3l.3 -.2l.8 .2l-.2 .4zM89.3 645.4l.5 -.2l-.4 .9l-.4 .3zM90 646l-.7 .2l-.4 -.2l-.1 -.4l.7 -.3l1 -.2l-.3 .5zM86.8 647.2l-.7 .1l-.2 -.3l.5 -.6l.7 -.5l.4 .4zM84.8 648.8l-.3 .6l-.6 -.3l-.2 -.5l.3 -.4l.1 -.4l.6 -.2l.5 .4l-.2 .5zM80.8 644.2l.1 .4l-.3 .2l-.2 .1l0 -.3l.2 -.4zM82.2 646.8l.3 .9l-.4 .3l-.6 .5l-.5 -.9l.6 -.4zM91.6 661.5l-.5 .2l-.2 -.3l.1 -.2l.2 -.2l.2 .2zM94 656.3l0 .6l-.4 .4l-.3 .7l0 -.7l0 -.3l.1 -.4l.3 -.7zM97.5 660.8l0 -.4l-.2 -.5l.3 -.4l.7 .2l.1 .4l.2 .4l0 .5l-.6 -.3zM97.1 665.9l-.9 .3l0 -.8zM97.9 662.8l.4 -.1l.5 0l0 .6l.4 .5l-.6 .2l-.3 -.3l-.6 .1l-.2 -.6zM96.9 660.7l0 .2l-.7 .1l-.4 -.3l-.6 -.3l.6 0l.7 -.1zM101.3 669.1l.8 .4l.8 .4l.1 .5l-.7 .1l-1 -.3l-.9 -.6l.7 -.2zM99.2 667.7l.4 -.4l.3 -.4l.6 .1l.1 .6l-.5 .2l-.5 .4zM106.7 669.2l.2 .3l-.3 .6l-.3 -.3l-.2 -.4zM104.2 673.4l.7 -.6l-.3 .7l-.4 .7l-.7 .4l.2 -.8zM110 677.6l-.6 -.2l0 -.3l.7 .1zM105.8 677.7l.3 .4l-.3 .8l-.8 -.3l-.3 -.9l.3 -.6l.6 0zM104.2 678.6l.2 .1l0 .7l-.2 0l-.2 -.3l.1 -.4zM105.2 677.3l-.1 .6l-.4 .5l-.5 -.2l0 -.5l-.2 -.3l.4 -.5l.5 0zM102.1 681.2l.1 -.4l.3 -.3l.2 .4l-.2 .5zM103.3 682.6l.7 -.3l-.3 1.4zM95.8 673.9l.6 .2l-.1 .8l-.3 .7l-.8 1.1l.1 -1.3zM96.9 674.2l-.1 .5l-.6 0l-.3 -.4l.4 -.3l.4 -.3zM98.5 679.2l.5 -.3l.6 -.2l-.2 .5l-.3 .5l-.6 .6l-.5 .1l.1 -.5l-.1 -.3zM97 672.5l.6 .2l-.5 .9l-1.2 .5l.1 -.9l.4 -.5zM95.4 672.9l.6 -.1l.3 .3l-1 .1zM97.6 670.9l.5 .2l.2 .4l-.7 -.2l-.3 -.2zM92.9 665.2l.2 .6l-.1 .6l-.5 -.2l-.2 -.3l-.1 -.7zM90.7 666.6l.4 -.6l.7 .3l.3 .5l-.1 .6l-.5 .4l-.7 0l-.5 -.6zM91.2 664.6l.6 -.6l.7 -.4l.1 1l-.3 1.1l-1 0zM114.9 692.4l-.3 -.4l.4 -.1l.4 .2l.5 .5l-.5 .2zM114 698.5l.2 .3l-.3 .6zM116.3 700.4l0 .6l-.5 -.2l-.5 0l-.1 -.6l.5 -.2l.4 -.3l.7 0zM114.4 699.1l.5 -.2l.5 .2l.1 .3l-.6 0zM114.8 702.4l0 -.6l.5 .4l.4 -.1l-.1 .4l-.1 .6l-.5 -.2l-.2 -.2zM117.1 702.3l-.6 -.4l-.4 -.3l.3 -.5l.2 -.3l.4 0l.4 .1l0 .4l.2 .6zM113.7 699.7l1 .3l-.8 .4l-.5 -.3zM112.3 699.4l.4 .2l.4 .2l-.1 .5l-.7 .1l-.6 -.2l.2 -.5zM113.3 702.5l-.3 -.6l-.1 -.5l.6 0l.2 .5zM113.3 694l.6 .5l-.7 -.1zM136 683.3l-.3 -.7l1 .4zM137.8 683l-.6 .6l-1.1 -.2l-.5 -.2l.3 -.4l1.1 0zM132.3 681.3l-.5 -.3l-.9 -.4l.3 -.3l.2 -.3l.8 .4l.6 .5l-.3 .2zM138.2 679.8l-.2 .4l-.3 -.6zM140 682.6l.2 .5l-.2 .7l-.7 -.2l-.1 -.7l.2 -.7zM141.3 683.4l.1 .5l-.5 0l-.3 -.3l.1 -.4zM141 685.5l.1 -.3l.4 0l-.1 .3l-.2 .4zM137.5 687.1l-.1 .4l-.7 -.4l-.5 -.1l-.3 -.5l.6 0l.4 -.2l.2 .4zM136 688.8l.4 -.2l.2 .3l-.3 .3l-.5 .2l-.5 -.4zM129.8 686.3l-.4 -.2l-.2 -.5l.1 -.3l.5 .2zM135.4 686l0 .4l0 .5l-.3 -.1l-.2 -.2l0 -.3l-.3 -.7l.4 .2l.2 -.1zM117.7 654.2l.6 -.3l0 .6l-.2 .3l-.6 .4l-.4 -.6zM118.7 655.8l-.6 0l.3 -.5zM118.3 650l.7 -.5l.5 .6l.2 .3l-.2 .5l-.7 .4l-.1 -.7zM121.1 653.2l.1 .5l.1 .5l-.6 0l-.4 .2l-.6 0l.3 -.5l-.1 -.5l.6 0zM119.4 655.4l.1 -.8l.8 .4zM122.8 655.2l.3 -.4l.3 .4l-.3 .3zM116.7 657.1l.2 -.2l.4 .2l.3 .6l0 .6l-.6 -.5zM63.5 608.8l-.4 -.1l-.2 .2l-.4 -.4l-.7 -.4l.1 -.4l.8 .4l.4 -.1l.1 .4zM66.7 606.1l-.5 -.4l0 -.6l.3 .1zM61.9 608.5l0 -.5l.5 .1l0 .5l.1 .2l.2 .6l-.5 -.4l-.5 .2l0 -.5zM72.2 606.2l-.2 .1l-.3 -.5l-.4 -.4l-.2 -.6l.3 -.2l.3 -.1l.4 .7l.5 .8zM68.5 605.8l0 -.6l.9 -.2l-.1 .7l.3 .6l-.7 -.1l-.5 0zM67.4 604.6l.3 .7l-.4 0zM76.2 608l0 -.5l.2 .1l.1 .5zM74.5 604.3l.3 -.3l.3 .4l-.1 .4l-.6 .1zM75.8 610.6l.7 .1l-.7 .5l-.4 .3l-.9 .2l.5 -.5l.1 -.4zM77.3 608.3l.2 .1l.2 .1l-.3 .1l-.4 0l-.1 -.2zM75.1 606.1l0 .7l-.2 -.7zM69.1 611.7l-.2 .5l-.5 -.3l-.3 -.4l.4 -.2l.5 0zM70.9 613.4l-.8 -.4l.7 -.1l.5 .3zM71.4 611.1l.1 .7l-.6 .1l0 -.5zM64.9 615.1l0 -.5l0 -.5l.4 -.1l.5 -.2l.2 .5l0 .5l-.3 .3l-.4 .3zM65.6 613.8l-.4 -.5l.2 -.2l.3 .2zM60.3 611.8l0 -.5l-.2 -.4l.4 -.1l.3 -.1l.6 .1l-.4 .6l0 .4l-.4 -.2zM61.2 610l-.1 .4l-.5 .2l-.2 -.6l.4 -.3zM110.8 607.2l-.2 -.6l.5 .1l.4 .3l-.3 .5zM111.1 609.3l-.2 -.4l-.1 -.3l.1 -.2l.3 -.4l.3 .4l.5 .4l-.3 .5zM115.4 609.2l.6 .2l.1 .3l-.4 0zM116 612.1l-.4 -.2l-.3 -.3l.4 .1l.3 .2zM111.4 614.3l0 -.5l.2 -.7l.5 .4l.6 .3l-.6 .5zM108 612.5l-.2 .5l-.7 -.6zM108.7 610.2l0 .5l-.5 .3l.2 -.7l.2 -.4zM17.4 620l.4 .1l-.2 .3l-.2 .1l-.2 -.3l.1 -.2zM18 619.4l-.1 .6l-.4 -.4l-.7 0l.1 -.6l.3 -.5l.7 -.3l.7 .2l-.1 .7zM22.5 621.4l.2 .5l-1.2 .6l.4 -.9zM20 621.5l0 .5l-.1 .7l-.6 -.3l-.3 -.3l.4 -.7zM17 624.9l.6 .3l-.8 .3zM19.5 627.5l-.7 -.5l.5 -.7l.6 .1l.8 .1l-.5 .8zM14.2 625.2l-.5 .1l-.5 -.3l-.5 -.3l0 -.4l.9 .2l.6 .2l.6 .3zM142 625.3l.7 -.3l.6 0l-.2 .5l-.3 .7l-.5 -.3l-.3 -.1zM146.1 625.8l.8 .3l.6 .4l.5 .5l-.2 .2l-.6 -.2l-.5 0l-.3 -.4l-.1 -.4zM146.7 634.4l.3 -.9l.1 .7zM147.5 626.8l-.4 -.5l.5 .1l.5 .2l.5 .5l-.4 .1zM145.7 633.5l.6 -.6l.4 -.1l0 .3l-.4 .6l-.3 -.1zM143.6 634.6l.2 .5l-.4 -.2l-.2 -.2l.2 -.2zM143.3 632.1l0 .7l-.3 .4l-.7 -.6l0 -.8l.1 -.2l.2 -.5zM140.9 627.4l-.4 -.4l.6 -.2l.5 -.5l.3 .5l0 .3l-.2 .4l-.6 .5zM139.6 634.3l.3 -.6l.7 -.1l-.3 .5zM99.3 639.9l-.1 .9l-1 -.1l.2 -.8l.1 -.7l.9 -.1zM101.6 636.4l-.2 -.4l.7 -.6l.4 -.8l.5 .3l.7 0l-.5 .7l-.6 .5l-.6 .5zM104.7 638.6l-.2 .1l-.4 -.2l.5 -.1zM101.4 640.5l.9 .2l-.2 .5zM102.2 641l-1.1 .1l.5 -.6l.6 -.6l1 .1l.7 .3l-.6 .6zM97.6 639l-.2 .2l-.2 .3l0 -.5l0 -.2l.2 0zM77.5 649.7l-.1 -.5l.2 -.3l.2 .3l.1 .7l-.3 .4zM82.5 653.2l.7 .3l-.8 .5l-1.1 .4l.1 -.7l.4 -.2zM82 653.1l.6 .7l.1 .8l-.5 .2l-.4 -.2l-.2 -.2l-.6 -.4l0 -.6l.6 .1zM79.8 660.6l.5 .3l0 .4l.4 .5l-.6 -.1l-.4 .1l-.2 -.3l.1 -.4zM81 653.2l.2 .9l.6 .4l-.3 .7l-.5 0l-.3 -.4l-.3 -.4l.3 -.4zM78.1 653.4l.4 -.3l.2 .3l-.2 .3l-.7 0zM75.9 654.5l.7 0l.5 .7l0 .5l-.2 .5l-.8 -.4l-.6 -.7zM78.8 652.6l.7 -.3l0 .5l-.3 .5l-.8 .3l-.3 -.4l.3 -.4zM216.5 700.9l.5 .3l-.5 .3zM219.5 697.6l.8 -.2l0 .6zM218.9 696.3l.6 0l-.2 .7zM222.3 694.2l.7 .2l-.4 .5l-.5 -.1zM223.3 696.4l-.2 .2l-.3 0l-.1 -.4l.2 -.2l.2 -.6l.5 .2l.1 .5zM225.8 695.2l-.1 .4l-.5 -.5l-.3 -.7l.3 -.1l.4 .4zM227.6 698.9l.5 .3l-.1 .5l-.2 -.3zM228.8 697.3l.5 -.6l.7 0l.5 .5l-.7 .5l-.6 0zM231.7 701.3l-.6 .2l-.2 -.5l.2 -.5l.5 -.4l.4 .4l.2 .5zM227.9 705.2l.7 -.1l.7 .3l.5 .3l-.9 .2l-.9 .1l-.9 -.3l0 -.4zM229.2 705.9l-.5 -1l.4 -.3l.6 .9l0 .9zM233.3 709.4l.4 -.2l.7 -.1l1 .4l.4 .5l-.8 .1l-.6 .1l-.9 -.4zM234.9 707.4l0 1.1l-.5 0l-.2 -1l-.4 -1l.3 -.7l.4 1zM231.5 712.7l-1 0l.3 -.5l1.1 0l-.1 .4zM231.6 711.4l.3 -.3l.4 -.2l.6 .1l-.1 .7l.2 .8l-.5 .5l-.6 -.1l-.2 -.9zM224.4 711.5l-.6 -.8l.8 -.1l.9 .8l.7 .6l-.3 .3l-.9 0zM223.6 711.3l.1 -.6l.3 .4l-.2 .6zM224.3 711.6l.7 .5l.5 .8l-.5 .1l-.5 0l-.1 -.7zM224.5 707.5l-.6 0l-.4 -.3l-.1 -.5l.1 -.6l.6 -.3l.6 0l0 .7l.2 .5zM222.5 708.6l-.1 .8l-.8 -.2zM221.7 706.7l0 .8l-.1 .6l-.2 1.1l-.4 -.6l-.1 -.7l.1 -.4l.2 -.9zM218.8 705.2l0 .3l-.5 -.1l-.3 -.4l.5 0zM217.5 706.1l-.6 -.2l0 -.2l.4 .1zM211.9 700.8l.7 .4l-.6 0l-.4 -.2l-.1 -.3zM212.4 700.1l-.1 -.5l.7 0l.7 .2l.1 .6l.2 .4l0 .6l-.7 -.6l-.7 -.1zM223.9 662.4l.1 -.6l.4 .2zM221.2 658.9l-.3 .4l-.4 -.1l-.3 -.6l.2 -.8l.5 .3l.3 0l.2 .3zM223.3 661.1l.4 .3l.2 .3l-.3 .2l-.4 0l-.2 -.4zM222.3 659.9l.2 -.9l1 -.1l-.1 .7l-.2 .7l-.8 .4zM224.4 660.3l-.1 .2l-.3 0l-.1 -.6l.1 -.5l.3 .4zM224.8 658.6l.4 0l0 .6l-.5 .5l-.1 -.4zM228 663l.3 .6l.2 .6l-.3 .5l-.6 -.6l-.1 -.9zM224.8 662.5l.2 .1l0 .2l-.3 -.1zM226.3 666.6l.1 .3l.1 .3l-1 0l-.3 -.3l-.4 -.1l-.3 -.4l.7 -.1l.7 .1zM225.8 667.4l-.2 -.4l-.2 -.3l.5 -.3l.4 .3l-.1 .3zM221.7 666l.1 -.7l.5 -.4l.3 .3l.4 .3l-.4 .6l-.4 -.1zM218.2 662.2l0 .4l-.4 .3l-.1 -.5zM218.4 661.4l.8 .2l-.7 .5l-1.2 .1l-.4 -.4l.6 -.6zM222.4 640.8l-.4 0l-.3 -.3l.4 -.6l.6 .3zM225.5 639.9l.3 -.7l.5 -.7l.3 .8l.2 .7l-.7 .4zM227.3 636.6l-.1 .9l-.3 .9l-.4 0l-.4 .3l-.1 -.5l.3 -1l.5 -.4zM221.8 639.9l-.4 .3l-.6 -.4l.7 -1l.8 -.2l-.2 .8zM229.1 645.4l-.1 .3l-.5 -.3zM226.8 644.4l-.4 .7l-.3 -.7zM226.1 646.2l-1 0l-.6 .1l-.5 -.6l-.2 -.5l1.2 .2zM220.6 641.7l-.6 .3l-.2 -.4l-.2 -.6l.7 0l.3 -.2l.2 .2l0 .3l0 .2zM223.1 642.9l-.2 -.4l0 -.5l.5 .3l0 .4zM272.8 635.1l-.7 .1l.5 -.5l.4 .1zM272.8 635.1l-.5 -.4l-.2 -.3l.4 -.6l.6 0l.5 .5zM272.8 634.7l.4 -.5l.4 .4l-.2 .5zM278.4 639.3l.1 .4l-.3 0l-.1 -.5zM276.7 640.5l.5 -.4l.5 .4l.1 .8l-.5 .4l-.5 .1l-.5 -.5zM274.4 642.1l.1 .4l-.3 .1l-.2 0l0 -.2l.1 -.2zM274.8 647.3l-.1 .4l-.3 .1l-.5 -.7l.4 -.2zM276.1 646.4l-.5 1.1l-.2 -.7zM272.4 641.4l.4 .2l.4 .1l-.2 .3l-.3 .2l-.3 -.2zM272.3 644.8l-.9 -.5l.5 -.3l.5 -.2l1 .4l.4 .7l-.5 .4zM270.7 644l.4 .1l-.2 .2l-.3 -.1zM272.9 636l-.3 -.6l-.1 -.9l.4 .3l.5 .5l0 .9zM265.2 661.4l.6 -.1l-.3 .5l.3 .5l-.8 .1l-.4 -.3l-.3 -.1l0 -.4l.4 -.2zM266.5 662.4l-.9 .8l-1 .4l0 -.7l.8 -.8l.6 0zM268.2 664.3l-.6 0l-.1 -.7l-.2 -.4l.3 -.4l.5 -.5l.5 .6l-.1 .8zM271.5 665.1l-.4 -.1l.3 -.3zM267.4 669.7l-.5 -.1l.1 -.5l.4 -.2l.4 .5zM263.3 668.4l.1 -.7l.3 .5zM266.6 666.5l.2 0l-.1 .5l-.2 .2l0 -.2l0 -.3zM241.9 680.4l.2 .3l-.6 0zM242.4 679.5l-.2 -.5l0 -.5l.1 -.6l.3 .2l.2 .5l-.1 .6zM240.6 679l.1 .5l-.3 .3l-.1 -.4zM245.3 681.4l.4 .2l-.3 .7l-.1 .6l-.2 -.4l-.2 -.4l.2 -.4zM247 683.4l.2 .4l-.6 .7l-.2 -.4zM245.6 685.9l-1 .5l-.2 -.7zM246.5 685.8l-.4 .5l-.4 -.2l.5 -.6l.5 -.3zM241.3 685.8l-1.1 .1l-.7 -.2l0 -.5l1.1 -.2l.3 .4zM239.5 683.6l-.5 0l-.3 -.2l-.1 -.3l.1 -.8l.6 -.7l.4 .6l0 .6zM162.2 719.4l.2 -.4l.8 .7l-.1 .6l.2 .5l0 .6l-.7 -1l-.8 -.4l-.2 -.8zM164.8 721.4l.6 -.2l.4 .3l.4 .3l-.6 .3l-.3 .1l-.6 .1l-.3 -.4zM168.8 724.2l.2 .4l-.6 -.4zM168.5 724.6l-.2 .3l-.6 -.2l-.2 -.2l-.1 -.2l-.1 -.3l.6 0l.8 0l.2 .4zM166.1 725.7l-.6 0l-.4 -.3l-.6 -.7l.5 -.4l.4 0l.4 .1l.4 .6zM163.6 730.7l-.1 .7l-.4 .1l-.2 -.6l.1 -.4l.1 -.5l.3 -.2l.3 .1l0 .5zM161.2 724.5l.4 0l.1 1.1l-.2 .6l-.4 -.9l-.4 -.8zM162.6 728.8l.1 -.4l.3 -.2l.3 .1l.4 0l0 .6l-.2 .5l-.4 -.4l-.2 -.1zM159.7 727.4l.8 .4l.4 .3l0 .5l-.4 0l-.6 -.3zM200.2 625.4l.2 -.2l.1 -.3l.4 .2l0 .2l-.2 .2zM203.4 627.8l.3 0l-.3 .5l-.2 -.2zM205 626.5l-.4 .2l-.7 0l.1 -.4l.3 -.3l.5 -.2l.4 .2l-.1 .3zM207.8 626.4l-.1 .4l-.4 .1l-.5 0l-.2 -.5l.2 -.5l.4 -.4l.5 .4zM204.2 630.6l.3 .6l-.2 .4l-.3 0l-.4 .1l-.4 -.6l.1 -.5l.4 -.2zM203.5 630.6l-.4 -.2l.4 -.2l.4 0zM200.3 627.8l-.2 -.4l0 -.2l.3 .1l.1 .4zM194.5 630.7l.5 .2l.5 .3l-.7 .1l-.5 -.2l-.1 -.2zM243.3 620.9l.1 -.4l.4 -.1l.2 .3l.1 .4l-.5 .4l-.6 0zM246.3 617.1l.6 .4l-.7 .1zM250.1 620.1l-.5 .1l-.5 .1l0 -.6l.4 -.2l.4 0zM249.9 621.2l-.5 -.3l-.1 -.8l.7 -.4l.3 .6l0 .5zM249.9 625.8l.2 -.4l.1 -.4l.5 0l-.1 .3l-.1 .3zM252.1 623.4l.4 .1l.4 .6l.2 .7l-.1 .4l-.2 .2l-.5 -.2l-.3 -.7l.1 -.5zM249.8 624.6l.3 .5l-.5 .1l-.4 .2l-.1 -.4l-.1 -.3l.3 -.3zM248.3 626.9l-.7 -.3l-.2 -.8l.7 -.2l.8 0l.1 .8zM242.6 626.1l-.1 -.7l.8 -.1l0 .8zM245.7 624.5l.3 -.1l.6 .1l.4 .6l-.3 .1l0 .5l-.5 -.5l-.5 -.3zM268.4 610.9l-.1 -.1l-.2 -.3l.3 -.1l.3 .1l-.1 .3zM267 613.3l-.3 -.3l-.4 -.3l.4 -.2l-.1 -.7l.5 .2l.1 .6l.3 .4l-.1 .4zM266.9 613.6l-.4 -1l-.6 -.5l.4 -.2l-.1 -.8l.6 .6l.6 .4l.3 .8l-.2 .6zM272.9 614.1l.7 -.2l0 .4l-.6 .2l-.8 0l.3 -.3zM271.8 613.9l.5 .3l-.2 .3l-.2 -.1l-.4 -.2zM272.8 615.8l.4 .4l-.3 .5l-.5 -.2zM272.9 618.4l-.3 .3l-.6 -.1l-.6 -.4l.5 -.2zM269.9 616.3l0 -.5l.4 -.1l.3 .3l0 .4l-.3 .5zM269.2 617.1l-.6 .5l-.6 -.2l-.1 -.4l-.1 -.6l.7 -.2l.5 .3zM267.4 611.5l.8 .4l.4 .7l-.7 -.1l0 .5l-.7 -.5l-.2 -.5l0 -.2l-.1 -.4zM173.8 648.1l1.3 -.5l.7 .3l-.1 .6l-1.2 .6l-1.1 -.2zM177.2 646.4l-.5 -.3l.3 -.4l.9 .3zM178.2 648l-.7 0l.4 -.5l.5 -.2l.7 0l-.2 .6zM176.4 653l.9 0l.3 .5l-.2 .6l-.8 -.2l-.6 -.3zM175.1 648.2l.5 .5l-.3 .8l.1 1l-.5 -.3l-.4 -.6l0 -.9l.1 -.9zM173.7 649l.5 .3l-.2 .4l-.4 .2l-.3 -.4l-.3 -.6zM158.3 659.3l-.3 .7l-.3 .2l-.3 -.5l-.5 -.8l.4 -.6l.6 .1zM155.6 658.8l.5 -.3l.6 -.3l.5 .6l-.6 .4l-.3 .5l-.5 -.4zM161.1 663.2l-.1 -.3l.3 -.4l.3 -.1l.4 -.1l-.2 .4l-.1 .4l-.4 .4zM158.9 662.8l-.6 .7l-.8 .1l0 -.8l.7 -.5l.5 0zM159.6 663.9l-.4 0l.2 -.6l.4 .2zM158.8 663.5l-.4 -.1l.2 -.5l.6 -.3l.7 -.2l-.5 .7zM161.2 641.4l.4 0l.3 .1l-.2 .7l-.3 .2zM165.1 643.2l-.3 .7l-.5 0zM165.7 645.3l0 -.3l-.1 -.3l.3 .1l.1 .1l0 .3zM163.4 647l.5 -.2l.9 .2l-.4 .5l-.4 .3l-.7 -.1l-.1 -.4zM164.4 648.5l-.5 .7l-.2 -.6zM159.8 646.8l-.8 0l-.4 -.7l.3 -.8l.7 -.2l.1 .9zM148.4 617.9l.3 .4l-.2 .7l-.6 -.2l.1 -.8zM151.9 616.3l.6 .5l-.5 .4l-.5 -.7zM153.2 616.6l0 .4l-.6 0l-.3 .1l-.3 -.2l-.2 -.3l.4 -.1l.3 -.1l.2 .1zM154.8 618.8l-.7 .1l.5 -.7zM152.4 622.4l-.6 -.1l-.1 -.5l-.1 -.5l.4 -.4l.4 .5l.3 .3l.3 .6zM150.3 622.3l-.3 .1l-.4 .2l-.3 -.4l.5 -.1l.3 -.1zM145.2 619.7l.5 -.4l.2 .6l0 .3l.1 .5l-.6 .1l-.3 -.4l-.4 -.4zM145.4 633.7l.4 -.4l.3 -.2l.7 .3l.1 .7l.2 .8l-.7 -.5l-.4 0zM147.9 633.7l0 -.3l.5 .1l-.1 .6zM146.5 633.4l.5 -.2l.3 .1l.4 .1l-.1 .4l-.5 .4l-.4 0l-.6 .1l.4 -.5zM143.7 636.5l-.4 -.4l.5 0zM141.9 633l.3 .1l.4 .1l-.2 .2l-.3 .2l-.3 -.2zM141.8 633l.1 -.4l.5 -.4l.1 .5l-.2 .3zM151.4 685.7l.5 -.3l.1 -.3l.5 0l.3 .7l-.2 .4l-.2 .2l-.3 -.3zM154.7 688.6l.5 -.1l.1 .4l-.4 .3l-.5 0zM152.6 687l.2 -.6l.4 .8l-.2 .4zM150.1 691.8l0 .8l.2 .6l-.1 .7l-.3 -.6l-.1 -.1l-.1 -.3l0 -.5l.1 -.7zM147.4 689.8l-.3 -.1l-.1 -.5l.4 .2l.4 .1l-.1 .4zM148.2 691.8l-.7 -.5l.1 -.8l.3 -.2l.3 .6zM230.1 620.2l0 .7l-.1 .4l-.6 0l-.8 -.6l.3 -.5l.4 -.2zM229 621.4l-.3 .1l-.4 .1l0 -.3l.5 -.1l.4 0zM231.2 622.6l.2 .1l.3 .5l-.5 .3l-.5 -.2l.1 -.7zM229.4 626l-.1 -1l.6 -.4l.2 .8l.4 .8l-.5 .3zM225.9 625.2l.5 -.5l.3 .3l-.4 .6l-.4 -.1zM224.4 622.2l.1 -.4l.3 .2l-.1 .4zM213.6 631.4l0 -.5l.1 -.5l.8 -.2l-.1 .7l-.3 .6zM215.9 633.8l-.3 -.4l.4 -.3l.3 .4zM213.4 637.2l0 -.3l.2 -.3l.2 .3l.1 .2l-.2 .3zM211.9 637.2l-.4 -.9l-.1 -1l.3 -.4l.3 .1l.4 -.1l0 1l.2 .9l-.3 .2zM186.9 726.3l-.7 .5l-1 -.1l-.1 -.7l-.1 -.6l.8 -.4l.5 .7zM184.6 733l.7 .4l-.3 .9l-1.1 .2l-.2 -.6l-.2 -.7zM186 731.7l-.5 -.7l.2 -.5l.3 -.3l.6 1.2l-.4 .3zM187.2 734.2l.5 -.1l-.1 .4zM186.2 730.2l.6 .1l-.6 .6l-.1 .6l-.6 0l-.5 0l.1 -.6l.4 -.7zM141.7 625.3l-.2 -.8l.2 -1l.4 .9zM143.9 626.9l-.2 -.2l.5 -.2l.4 -.3l.2 .2l.5 .1l-.8 .4l-.4 .4l-.5 0zM141.5 630.3l-.4 -.1l.1 -.3l.3 -.3l.3 .2l.4 .4zM138 627.2l-.8 .6l-.5 .2l-.9 0l.2 -.8l1 -.7l.8 .1zM253.1 647.5l.8 -.3l.6 .5l-.2 .4l-.5 .4l-.5 -.5zM258 650.6l-.2 -.7l-.3 -.8l.8 .6l.5 .8l-.2 .2zM257.3 652.1l-.4 -.3l.2 -.4l.5 -.1l.3 .3l.4 .2l-.4 .3l-.1 .3l-.4 .2zM256.9 649.4l-.2 -.6l.7 -.1l.4 .6zM259 655.9l-.4 -.1l0 -.3l.1 -.2l.2 .1zM254.4 654.6l0 -.4l.1 -1l.3 .8l.1 .6l0 .8l-.4 -.1zM253.2 653.2l.4 -.3l-.1 .7l-.4 .5l-.1 -.2l-.1 -.2zM219.7 604.9l-.2 -.5l.3 -.1l.5 .4zM221.6 604.3l0 .5l-.5 -.5l.1 -.2zM218.5 609.2l-.7 .1l-.5 -.2l0 -.6l.5 -.2l.4 .3zM224.1 607.4l.5 .4l-.3 .2zM225.5 609.4l.2 -.8l0 -.7l.8 -.2l.4 .4l.1 .8l-.7 .3zM226.8 609.2l-.1 .5l-.7 .6l-.5 -.1l-.6 0l.4 -.4l.4 -.6l.9 -.3zM219.4 608.7l.3 .3l0 .5l-.4 -.1l-.5 0l.3 -.4zM219.7 610.2l-.3 -.5l.6 -.1l.4 .5zM224 612.1l-.2 -.8l.2 -.5l.5 .4l.2 1.2l-.2 1zM215.8 606.6l-.3 .3l-.7 .2l.1 -.8l0 -.4l.4 -.4l.6 0l-.1 .7zM217.4 608.4l-.4 -.7l.2 -.5l.3 0l.4 .2l.1 .4l.1 .8zM222.6 613.9l0 -.3l.1 -.5l.6 .1l.4 .4l-.2 .4l0 .8l-.8 -.2zM223.4 613.2l0 -.4l.6 -.2l.3 0l.6 -.1l.1 .3l.4 .5l-.8 -.1l-.5 .1zM227.8 614.1l-.4 -.3l-.1 -.3l.4 -.1l.6 .1l-.3 .3zM227.8 618.4l-.4 .1l0 -.3l.2 -.1l.2 -.1l.2 .3zM226.1 616.1l-.2 .5l-.2 -.3l0 -.2l.3 -.4zM221 619.1l-.6 -.8l-.1 -.7l0 -.6l.2 -.3l.6 .6l.4 1l-.5 0zM64.9 496.2l-.4 .3l-.3 -.2l.2 -.7l-.1 -.7l.4 -.3l.3 .2l0 .7zM64.7 497.2l-.5 -.7l0 -.5l.7 -.1l.9 .8l-.1 .7zM62.2 497.8l-.5 -.2l-.4 -.3l.1 -.5l.2 -.6l.5 .3l.3 .3l-.1 .4zM72.1 494.8l-.6 -.1l-.2 -.5l.5 -.5l.5 .1l0 .5zM65.5 492.8l.6 .2l.6 .2l.4 .6l-.1 .6l-.7 .1l-.7 -.1l.1 -.7l-.5 -.5zM66.8 494.8l.2 .4l-.2 .4l-.7 -.3l-.8 -.4l-.5 -.7l.8 -.1l.7 .1zM70.2 491.3l.2 -.3l.5 -.1l.4 -.1l.8 -.2l0 .3l-.8 .3l-.5 .2l-.2 -.1zM74 491.3l-.3 .6l-.7 -.5l.6 -.5zM76.1 494.2l.4 -.1l.3 .2l-.1 .4l-.3 .1zM80.9 493.6l-.8 -.2l-.5 -.6l.1 -1l.8 -.3l.3 1zM73.7 498.4l-.3 -.5l.2 -.3l.3 .2l.2 .3l0 .5zM72.3 501.5l.1 -.5l.6 .2l-.3 .8zM73 500.7l-.4 -.2l-.1 -.2l.4 0l.1 .2zM70.3 506.1l.6 -.1l-.3 .5l-.2 .3l-.4 0l-.5 -.4l.3 -.6zM68.8 505.3l-.5 -.7l.5 -.4l.3 -.2l.5 .1l.3 .7l-.3 .4l-.3 .6zM67.1 503.6l.6 .6l-.6 .1l-.7 -.6zM67.3 504.6l-1 .2l0 -.5l.7 0zM63.4 504.9l.8 0l.1 .5l-.6 .2l-.6 -.1zM63.9 500.1l-.3 -.6l.4 .2l.5 0l0 .7l-.2 .2l-.3 -.1zM58.6 498.8l-.7 -.4l.4 -.8l.8 -.1l.8 .4l-.1 .9l-.7 .2zM57.2 500.8l.4 -.6l.1 .3zM60.8 502.3l0 -.3l.3 -.5l0 .5l-.2 .4zM65.7 490.1l-.6 .2l-.6 -.5l0 -.4l.2 -.3l.5 .1l.3 .4zM60.7 495.1l-.2 .7l-.7 -.3l-.7 0l.4 -.5l-.1 -.5l.7 .2l.7 -.4l.4 .4zM69.2 488.8l-.7 .3l-.4 -.3l.2 -.5l.4 -.4l.5 .2zM60.6 500.3l-.2 -.5l0 -.4l-.1 -.8l.6 .4l.6 -.4l.2 .7l-.3 .6l-.3 .5zM66.5 491.2l.2 -.7l.6 -.7l.5 .1l.1 .3l-.2 .4l-.2 .3l-.6 .5zM66.9 488l-.3 .3l-.2 -.5zM69.5 490.6l.3 0l.2 .4l-.1 .6l-.3 -.4zM58.7 496.9l.3 .9l-.4 -.1l-.6 -1zM69.8 491l.4 -.4l.4 -.3l.8 .1l.3 .3l-.7 .4zM70.1 491.3l.6 .1l.4 .4l0 .5l0 .7l-.7 .2l-.4 -.4l-.7 -.4l.6 -.5zM68.1 491.7l-.4 .8l-.4 -.5zM67.7 494.3l-.6 -.3l-.3 0l-.6 -.3l.2 -.5l.3 -.5l.6 0l.5 .4l-.1 .6zM66 495.7l-.6 -.1l-.4 -.2l.3 -.4l.5 .1zM63.9 497.5l.1 .6l-.4 .5l-.9 0l-.2 -.9l.7 -.2zM65.3 493.3l.1 .2l.2 .5l-.4 -.3l-.4 -.4l.2 -.1zM27.7 536.8l-.6 .8l-.7 .1l.8 -.9zM29.5 533.4l.4 .2l-.6 .3l-.4 .1l-.6 .1l.2 -.4l.2 -.6zM28.3 535.9l-.1 -.2l.3 -.2l.2 .4zM32 530l-.1 -.6l.6 0l.3 .3l-.3 .3zM29 528.5l-.3 -.9l.6 .2l.3 .3l.2 .8l-.5 -.1zM31.7 527.9l.4 -.2l.5 .2l-.5 .3zM39.1 522.7l.5 .1l-.2 .3l-.5 0zM34.4 526.5l-.2 -.1l-.1 -.4l-.3 -.8l.4 -.1l.3 0l.1 .9zM38.1 522.6l.4 .2l-.3 .7zM40.4 519.2l.8 -.3l.8 .2l-.3 .7l-1 0l-1.2 0zM39.4 520.6l-.5 -.1l-.4 -.8l.3 -.3l.4 .2l.4 -.3l.4 .8l0 .5l-.3 .1zM41.7 518l-.2 .7l-.3 .2l-.1 -.3l.1 -.5l.2 -.2zM47.2 517.5l.5 0l-.3 .3zM46 518.3l.6 .1l.1 .4l-.7 0l-.4 -.2l-.4 -.2l.4 -.2zM47.7 521.6l-.8 .3l.3 -.5l.9 -.3zM49.6 518.7l-.1 -.9l.5 -.4l.3 .5l-.1 .8l-.4 .9zM49.5 522.4l-.4 .2l-.4 -.3l0 -.7l.3 -.4l.4 -.2l.3 .3l.4 .4l-.1 .7zM49.3 521.9l-.3 .2l-.5 -.4l.1 -.4l.4 .3zM54.7 522l-.9 .2l-.4 0l-.5 0l-.2 -.3l.9 -.4l.8 -.4l.6 .1l.3 .3zM55 523.6l.6 .4l-.2 .5l-.7 .2l-.3 -.3l-.3 -.5zM55.4 525.8l.2 .1l.3 .2l-.4 .7l-.8 .1l-.3 -.2l-.2 -.3l.7 -.3zM55.9 529.1l.6 .6l-.4 0l-.5 -.2l-.2 -.5zM55.5 528.2l.3 .3l0 .6l-.7 0l-.2 -.7zM55.7 530.1l-.5 .2l-.4 -.4l.1 -.5l0 -.4l.4 -.2l.4 0l.6 .3l-.2 .6zM55 531.7l-.2 -.5l1 -.9l-.1 .8zM51.5 529.8l-.4 -.8l.6 0l.4 .3l.3 .7l-.5 .4zM52.3 529.1l-.5 .1l-.2 -.9l-.1 -.6l.4 -.2l.5 .5l0 .6zM50.3 527.4l.5 .1l.2 .4l-.7 .3l-.6 -.2l-.2 -.3l-.6 -.2l.6 -.3l.5 .1zM50.1 527.5l.3 .6l.3 .6l-.3 -.1l-.3 -.2l-.2 -.6zM48.3 528.1l-.4 -.4l-.2 -.4l.2 -.2l.3 .2l.2 .5zM47.2 527.4l-.6 -.2l-.1 -.8l1 -.1l.8 .5l-.7 .6zM44.4 526.3l-.4 .6l-.2 .5l-.3 -.3l-.3 -.2l-.1 -.6l.6 0zM43.1 529.5l.4 0l-.1 .3l-.8 .2zM41.3 530.1l-.2 .5l-.3 -.2l-.1 -.5l.1 -.8l.5 0l.2 .4zM40.6 529.8l.1 .3l-.8 .5l-.4 -.2l.4 -.5l.5 -.3zM38.6 532.7l0 -.7l.2 -.6l.5 .3l.3 .1l.1 .3l.2 .5l-.2 .4l-.5 -.2zM39.1 533.8l.5 0l.6 -.3l-.2 .5l0 .2l-.1 .5l-.4 -.2l-.5 .1l.3 -.4zM41.9 535.1l-.4 .7l-.2 -.5l-.4 .1l.1 -.6l.2 -.5l.4 -.4l.1 .5l.3 .1zM36.7 538.3l.2 -.5l.3 -.6l.1 .5l.1 .5l-.4 .3zM35.3 538.2l.4 .3l.1 .3l-.1 .1l-.2 -.2zM33.5 541.3l-.6 0l-.8 .1l-.7 -.3l1 -.3l0 -.6l1 .1l.4 .4l.1 .3zM30.6 541.6l-.2 0l.1 -.4l.4 -.1l.3 -.1l-.2 .5zM30.6 537.1l.6 .7l-.8 0zM26.6 538.7l.4 0l-.5 .6zM24.2 540.7l.3 -.9l.2 .8zM23.8 540.4l-.6 .3l-.3 -.2l.7 -.6l.1 -.3l.5 -.4l.4 0l0 .3l-.2 .5zM28.1 535.7l-.6 .2l-.6 -.3l.6 -.3zM35.9 521.4l-.4 -.1l-.2 -.4l0 -.5l.5 .2l.1 .4zM27.1 530.8l.8 -.2l-.2 .6l-.1 .8l-1 .3l.2 -.9zM38.2 521.2l-.7 -.2l-.7 -.7l.4 -.6l.5 .1l.7 .5zM23.8 536l.9 -.5l.3 .5zM31 528.7l.2 .5l-1 .3l-1.4 -.1l-.3 -.6l1.3 -.1zM29.3 533l-.4 -.3l0 -.6l.5 .4zM26.4 531l-1 .3l.3 -.6zM26.8 528.5l-.6 -.1l0 -.5l.8 .1l.6 .3zM35.3 524.7l-.3 -.5l-.5 -.5l.6 -.1l.6 .5l.7 .5l-.3 .4zM35.7 520.7l-.3 -.3l0 -.2l-.1 -.3l.2 -.4l.6 0l.1 .5l.4 .3l-.4 .4zM28.7 526.3l-.5 .2l-.5 -.4l.6 -.1l.7 0zM30.1 534.7l-.5 .4l-.6 -.3l.4 -.5l.3 -.2l.3 .2zM30 536.1l-.8 -.1l-.5 -.4l.5 -.5l.7 -.7l.7 .7zM30.4 536l-.4 -.3l.2 -.4l.4 .4zM41.1 518.2l.5 .5l-.4 .1l-.5 -.3l-.4 -.2l0 -.3l.2 -.2l.2 0l.5 0zM32.5 528l-.4 .5l-.3 -.6zM30.7 535.7l-.4 .2l-.6 .1l-.1 -.8l-.5 -.6l.6 0l.4 -.1l.4 .2l.2 .5zM39.3 519.1l.3 -.4l.2 0l-.1 .4l-.3 .3l-.3 .1zM32.4 532.1l.1 -.4l.2 0l.1 .1l.1 .4l-.2 -.1zM34.6 530.4l-.4 .2l.3 -.6zM29.4 536.3l-.4 -.1l0 -.5l.5 .2l.1 .2zM36.7 524.8l0 .5l-.6 .3l-.3 0l0 -.2l.3 -.4zM11.2 568.6l.9 .2l.4 .7l-.1 .7l-.7 .2l-.7 -.8zM13.3 568.7l.6 -.6l.5 0l0 .4l-.4 .5l-.8 .6l-.4 -.2zM13.1 562.9l.3 -.2l.4 .9l0 1l-.4 -.4l-.3 -.4zM17.8 561.7l-.6 .4l.3 -.6l.3 -.2l.1 .1zM18 563.7l-.4 -.2l.2 -.4l.2 -.3l.4 .2l0 .4zM15.5 562.3l.5 -.1l-.2 .5l-.1 .3l-.4 .2l-.5 0l.2 -.6l.1 -.7zM19.7 557.9l-.5 .4l-.6 0l-.4 -.1l0 -.4l.4 -.3l.5 -.4l.3 .4zM19.1 552.8l0 .6l-.8 .4l-.6 -.2l0 -.5l-.5 -.5l.7 -.2l.6 .2zM19 554.1l-1.1 -.2l.5 -.3l-.4 -.4l1 .4l.8 .1l-.1 .3l.2 .4zM20.8 554.1l.3 .5l-.5 .2l-.5 -.1l.1 -.5zM21.8 551.6l.1 -.3l.3 -.2l.1 .3l.1 .4l-.4 0zM24.2 555.5l-.6 -.1l-.6 -.2l.3 -.6l-.3 -.6l.7 -.3l.6 .3l.5 .5l-.5 .4zM25.8 555.4l1.2 -.7l1 -.3l-.2 .6l-.8 .5l-1.2 .6zM24.5 560.4l-.3 -.5l.7 -.4l.8 -.2l0 .7l-.3 .4l-.7 .6zM26.8 560.5l-.3 -.7l0 -.5l0 -.6l.2 -1.2l.5 .3l-.1 1l0 .7zM26.5 564.7l-.4 -.2l-.6 -1l.7 -.5l.6 .8l.3 .9zM26.6 563.1l-.6 .7l-.5 .5l-.1 -.5l0 -.4l.5 -.5l.6 -.8l.2 .3zM27 565.7l-.2 .4l-.5 -.1l0 -.5l.1 -.4l.3 .2zM24 564.6l.4 -.2l.4 .9l-.4 .2l-.3 -.4zM24.8 568.2l.7 0l-.5 .7l-.8 0zM20.6 569.9l-.3 -.2l-.1 -.2l.3 -.3l.8 -.3l-.1 .5l-.1 .3zM19.6 572.4l0 -.4l.2 -.3l.6 -.3l.1 .4l-.3 .5zM19.8 574.5l.4 .8l-.8 -.1zM14.1 575.6l0 .4l-.7 .1l-.6 -.3l.1 -.4l-.4 -.6l.9 .3l.4 .2zM14.1 577l.3 .5l.4 .4l-.5 .4l-.5 -.2l-.2 -.3l-.1 -.7zM18 574.1l.1 -.5l.5 .1l.2 .4zM15.5 557.6l.5 -.6l.4 -.4l.5 -.3l.1 .5l-.5 .7l-.3 .4l-.3 .2l0 -.3zM11.9 571.7l.5 .2l.2 .5l-.7 -.3zM14.2 559.8l.3 -.1l.1 .3l-.1 .2l-.4 0zM13.3 561.3l-.2 .6l-.3 -.2l-.4 -.4l-.1 -.8l.4 -.1zM17.5 557l-.3 -.4l.4 -.4l.3 -.4l.4 .3l-.1 .7l-.4 .2zM11.8 561.9l.5 .5l-.9 .5zM14.6 557l-.2 .4l-.2 .1l-.5 -.2l-.2 -.6l.6 .1zM15.5 568.1l-.1 .4l-.2 -.3l-.2 -.6l.3 -.2l.2 0zM17.5 561.3l-.6 -.4l-.3 -.7l0 -.5l.5 .2l.4 -.2l.5 .4l0 .6l-.1 .4zM15.6 559.6l.8 .6l-.9 .3zM14.3 554.7l.5 .2l.3 .5l0 .4l-.3 0l-.3 -.5zM18.4 567.2l-.4 0l-.2 -.7l.3 .1zM16.4 556.6l.4 -.2l0 .9l-.1 .4l-.2 -.2l-.2 -.4zM15.9 562l-.6 -.1l-.4 -.6l.6 -.3l.3 -.5l.7 .4l-.1 .7zM14.8 569.6l.6 -.1l.4 .4l.5 .3l-.5 .2l-.7 -.1l-.4 -.4zM15.2 567.7l.3 .4l-.5 .5l-.2 -.7zM16.6 569.3l-.4 -.1l-.1 -.3l.4 -.1zM16 555.8l-.3 .6l-.6 -.9l.6 -.5zM67.8 521.8l.3 .4l0 .6l-.9 .5l-.1 -.6l-.1 -.4zM65.9 523.7l-.8 -.1l.6 -.6l.6 -.2l.2 .4l-.1 .5zM70.6 523.8l.1 -.9l.4 .3l.3 .5l-.2 .5l-.4 .6zM69.9 528.7l1 -.5l1.1 -.4l-.3 .6l-.1 .6l-1 .2l-1.2 .3zM65.1 534l-.7 .1l-.1 -.7l-.2 -.5l.6 -.5l.3 .6l.3 .4zM69.6 530.2l-.4 .5l-.4 -.2l-.2 -.3l.4 -.5l.3 .3zM69.9 526.8l-.5 -.5l.1 -.8l.7 -.3l.7 .5l-.2 1.1zM80.5 510.8l-.9 .1l-.7 -.1l-.8 .1l-.3 -.4l-.3 -.4l1 -.1l.8 .2l.5 .2zM78.4 508.9l.1 -.4l.6 -.2l.1 .4l-.2 .3l-.6 .4zM81.4 512.5l-.7 -.9l.9 .5zM82.6 512.9l-.6 -.1l.3 -.7zM80.6 512.8l.2 -.2l.1 0l.3 .1l.1 .3l-.3 0zM74.8 512.8l.8 .5l-.5 .6l-.7 0l-.9 -.5l.8 -.4zM76.9 515.7l1.1 -.5l.7 .2l-.6 .6l-.8 .5l-.4 -.3zM73.8 512.9l-.5 .3l-.4 -.2l.6 -.2zM76.7 510.2l.5 .4l-.5 1.1l-.8 .1l-.6 .2l-.1 -.7l.7 -.7zM74.6 512l.5 .3l-.1 .8l-.7 -.2l-.5 -.4l.4 -.4zM74.7 515.9l-.6 0l.4 -.7zM71.1 509.7l.2 .4l.3 .3l-.6 .7l-.9 .4l-.4 -.3l0 -.5l.2 -.5l.7 -.4zM75.5 509.4l-.6 .1l-.2 -.1l.4 -.2zM64.3 535.9l-.3 .1l-.1 -.4l.3 -.1l.5 0zM63.3 538.2l.4 -.6l.5 -.1l-.1 .8l-.5 .1zM68.2 538.6l.7 .5l-.3 .5l-.9 -.2l-.9 -.4l.7 -.3zM71.5 540.2l-.5 0l0 -.3l.5 0zM75.2 539.7l.4 .3l.2 .2l-.1 .3l-.7 -.1l-.5 .1l-.8 0l.1 -.4l.9 -.1zM74.8 541.3l-.1 .4l-.4 .3l-.5 .3l-.1 -.4l-.5 -.1l.4 -.6l.7 -.4l.5 .1zM76.2 541.1l-.1 .6l.2 .7l-1 0l-.7 -.6l0 -.7l.8 -.2zM79 541.7l-.9 -.5l.4 -.4l.6 .3zM80.3 543.3l.2 .8l-.4 .2l-.2 -.8zM82.3 543l-.8 .7l-.4 -.5zM79.4 546.6l.2 -.3l.4 0l.5 .3l.3 .4l-.6 .1zM78.6 548l.2 -.5l.4 -.4l.2 .7l.1 .3l-.2 .6l-.5 -.2zM76.4 547l-.5 -.1l.3 -.5l.4 -.1l.4 0l0 .4l0 .4l-.4 .3zM74.6 544.8l.3 .3l.2 .6l-.1 .5l-.3 -.6l-.3 -.5zM72.7 543.6l-.5 .1l-.2 -.5l.2 -.6l.5 -.1l.4 0l.2 .4l-.4 .3zM68.8 544.7l.9 -.6l.8 -.5l.1 .3l.3 .2l-.8 .5l-.9 .4zM68.5 545.7l-.3 -.3l.5 0l.4 .1l.1 .2l-.4 .1zM67.1 540.9l-.4 -.1l-.2 -.6l.4 -.2l.5 .2l0 .5zM61.7 540.5l.3 .7l-.3 .3l-.3 -.3l-.2 -.4l.2 -.4l.1 -.1zM64.9 542.7l-.5 .4l0 -.9l.4 -.5l.3 -.1l.5 -.7l0 .8l-.2 .6l-.2 .8zM53.4 555l-.3 .5l-.5 -.6zM55.1 560.6l-.5 -.3l-.2 -.4l0 -.4l.5 -.3l.6 -.1l0 .6l.2 .2l-.3 .2zM55.9 558l.3 -.6l0 -.7l.4 .1l.4 -.2l0 .5l-.3 .5l-.2 .7l-.2 -.4zM54.9 560.9l-.6 .2l.2 -.7l-.1 -.3l0 -.6l.5 .4l.4 .1l.5 .4l-.4 .5zM53.2 564.7l.3 .8l-.5 -.5l-.5 -.8l.3 -.2zM53 561l.2 .5l.5 .4l-.2 .1l-.4 0l-.7 -.2l-.5 -.5l.6 0l.1 -.2zM47.1 558.9l.2 0l-.1 .4l-.1 0zM44.4 530.9l.5 .5l-.1 .6zM46.8 535.9l-.5 .3l-.4 -.6zM45.6 537.3l-.5 -.5l.4 -.4l.4 -.3l.5 .5l.3 .5l-.6 0zM41.9 534.2l1.3 0l.7 .5l-.2 .5l-1.4 -.1l-1.3 0l.2 -.5zM43.8 536.1l1 .4l-.6 .5l-.6 -.6zM55.2 513.3l0 -.6l.6 -.1l.2 .7l-.4 .3zM54.3 512.4l.4 .6l-.4 .4l-.5 .2l-.1 -1zM56.5 514.7l-.3 -.1l.8 -.4l.6 .2l-.7 .4zM56.2 516.5l-.7 .2l0 -.8l.4 -.7l.5 .2l.3 .3l-.2 .4zM53.7 515.4l.5 .1l.3 .4l-.5 .3l-.6 -.1zM52.9 516.7l.1 -.6l.1 -.4l.6 0l0 .5l0 .8zM47.1 701.4l-.3 0l-.3 -.3l.1 -.3l.4 -.1l.4 .5zM49 698.1l.4 -.3l.3 .1l0 .6l-.3 .2l-.2 -.1zM50 700.1l.4 0l-.1 .4l-.2 .2l-.3 -.1l-.3 -.2zM56.5 698.4l.3 .4l-.7 .2l-.8 -.1l-.6 -.2l.4 -.4l.4 -.1l.4 -.1l.6 .1zM52.1 702.1l-.1 -.4l.1 -.5l.5 0l.3 .3l.2 .3l0 .4l-.5 0l-.2 -.1zM55.5 701.8l.3 -1.2l.5 -.3l.3 .3l-.1 1l-.4 .6l-.3 .1zM56.7 702l.3 .3l-.4 .3l-.4 -.3zM58.4 704l1 -.7l.8 .1l-.5 .9l-.9 .3l-.9 .3zM62.6 703.4l.2 -.4l.2 -.2l.3 .1l.1 .5l.2 .6l-.4 0l-.4 .7l-.1 -.8zM62.9 705.2l.5 0l.7 .2l-.3 .7l-.9 0l-.1 -.6zM64.9 708.6l-.3 .4l0 -.5l.3 -.2zM67.9 709.5l-.6 0l0 -.6l.4 -.3l.3 -.6l.5 .3l.2 .6l0 .5l-.5 0zM71.2 709l0 1l-.3 .5l-.2 .2l-.4 .5l.2 -1l.1 -.4l.2 -.2zM69.7 712.1l.2 .4l-.4 .1zM70.2 712.9l.7 -.4l.6 .5l-.2 .6l-.1 .6l-.8 .2l-.3 -.8zM71 715.4l.4 -.1l.2 -.3l.5 .4l.6 .4l-.6 .1l-.6 0zM71.9 717.7l.3 .2l-.3 .2l-.3 -.3zM70.8 720.3l-.7 -.6l0 -.7l.5 0l.6 -.1l.1 .7l.1 .6zM73 718.5l0 .6l-.4 .9l-.6 0l.3 -1.2l.5 -.4zM72.8 720.2l-.4 -.7l-.1 -.4l.3 -.3l.3 .6l.5 .6zM71.6 717.3l.5 -.1l.7 -.4l.3 .7l-.2 .8l-.7 0l-.5 0l-.1 -.5zM71.6 715.2l.6 -.9l-.3 1.4zM72 714.5l-.1 -.5l.2 -.1l.3 .5l0 .7zM71.7 710.3l.6 .5l0 .5l-.7 -.4zM76.6 711.9l.4 -.2l.3 -.6l.3 .6l.3 .6l-.6 .2l-.3 -.4zM78.6 711.8l-.2 .2l-.4 .3l-.5 -.4l.1 -.4l-.1 -.6l.7 .2l.3 .4zM79 713.1l-.4 -.4l.4 0l.4 -.2l.5 .5l-.3 .3l-.3 .3zM80.2 717.4l-.6 .3l-.2 -.4l.2 -.5l.1 -.3l.4 -.4l.5 .2l0 .5l-.1 .4zM79.5 717.1l.4 .2l0 .7l-.2 .4l-.2 .2l-.2 -.2l-.4 0l.2 -.4l0 -.7zM84.9 720.3l-.2 .2l-.2 -.8zM82 720.8l.2 -.6l.3 -.1l-.2 .7zM86.9 723.6l.3 -.1l.2 0l0 .4l-.2 .2l-.2 -.1zM83.8 725.1l1 -.6l.3 .5l0 .7l-.9 .2l-.4 -.2zM91 725.5l-.1 .4l-.2 -.1l-.2 -.3l.2 -.6l.3 .2zM89.4 733.8l.5 .5l.7 .3l-.6 .5l-.6 -.1l-.7 -.1l.2 -.6zM92.3 734.1l-.4 -.4l.2 -.5l.4 -.2l.3 0l.1 .3l0 .3l-.1 .3l-.3 .6zM89.3 729.1l.4 .1l.3 .2l-.8 .2l-.3 -.2zM71.3 735.7l-.6 .5l-.8 -.8l.6 -.3zM82.4 737.6l.4 -.1l.3 .3l.1 .2l-.6 .1l-.2 -.3zM82 737.6l.1 -1.2l.4 -.1l.4 -.5l0 .9l-.1 .7l-.4 .8zM85.4 737.5l-.1 -.2l-.2 -.3l.6 -.4l.8 -.2l.1 .4l0 .4l-.8 .3zM84.6 737.8l-.3 .6l-.2 -.3l-.2 -.5l.3 -.8l.3 .5zM79.8 734.7l.4 -.2l.7 .4l.4 .8l-.7 0l-.6 -.5zM83.4 737.4l-.1 -1l-.1 -.6l.2 -.9l.4 .4l.6 .3l-.6 .7zM72.3 734.4l-.3 .2l-.3 -.4zM82.1 737l-.7 -.3l-.2 -.7l.2 -.2l.6 .4zM66 736.2l-.2 -.4l-.4 -.4l.6 -.2l.3 -.2l.4 .2l.4 .3l-.5 .3l-.2 .2zM41.2 700l.3 -.6l.3 .5l.1 .5l.1 .7l-.1 .8l-.3 .2l-.4 -.3l0 -.9zM42.3 699.9l0 .6l-.5 .9l-.6 .8l0 -.9l-.4 .1l.4 -1l.5 -.9l.2 .6zM37.5 702.4l0 -.6l.1 -.7l.3 .2l.3 .1l0 .5l.2 .5l-.3 .2l-.3 0zM39.9 700.4l0 .7l-.6 .4l-.4 -.6l-.5 -.2l.1 -.5l.4 -.2l.6 -.2zM37.4 703.9l.1 -.2l.2 0l0 .2zM36.8 667.2l.6 .4l-.7 .4l-.6 .4l-.1 -.5l-.3 -.4l.3 -.6l.7 -.4zM35.8 668.4l.5 -.1l-.1 .5l0 .3l-.1 .6l-.6 -.3l-.3 -.3l.1 -.4l0 -.5zM38.9 666.6l.3 -.3l.4 .2l-.1 .9l-.4 -.1zM42.3 669.5l.7 -.1l.4 .5l-.8 .3l-.8 .4l-.2 -.6l.2 -.4zM45.4 669.8l.4 .6l-.2 .4l-.4 -.2l-.4 -.3l.3 -.2zM44.9 674l-.2 -.6l.6 0l-.1 .5zM42 676.8l.1 -.3l-.5 -.4l.6 -.2l.7 -.2l-.1 .6l.5 .2l-.3 .5l-.6 -.2zM43.8 677.5l-.3 .1l-.4 -.1l-.5 -.1l-.2 -.4l.8 0l.4 -.2l.7 .1l.3 .5zM36.2 675.3l.3 .1l-.3 .8l-.2 1.2l-.3 -.5l-.3 -.3l.3 -.8l.2 -.6zM37.6 674.1l-.3 -.4l.3 -.5l.8 .1l.9 .2l-.6 .4zM32.8 674.2l-.4 0l-.5 -.2l.1 -.1l.2 0l.4 .1zM37.2 674.1l-.4 .2l-.5 -.4l-.1 -.5l.2 -.2l.4 .4z"/>
<path fill="#000" d="M40.1 672.9l0 -.5l.2 -.1l.1 .6zM39.9 674.6l-.6 -.6l.2 -.4l.6 .5l.4 .4zM36.1 675.5l.4 -.1l-.1 .5l-.4 .1zM39.3 679.4l-.4 -.3l.2 -.5l.1 -.3l.1 -.6l.3 .5l.6 -.1l-.3 .5l0 .6zM36.7 668.1l-.3 .3l-.5 .2l-.7 -.3l.3 -.4l.6 .1zM39.3 669.8l.5 .2l-.2 .3l-.2 .4l-.7 -.2l-.5 0l.1 -.2l-.1 -.3l.5 -.1zM41 670.8l.7 -.1l.1 .6l-.3 .4l-.6 .2l-.3 -.7zM34.8 670.2l.4 .3l-.2 .4l-.4 0l-.3 -.1l.2 -.3zM38.1 673.3l.8 .2l-.9 .2zM41.7 674.9l-.1 -.4l.2 -.3l.2 -.1l.5 -.2l.1 .6l-.2 .4l-.4 .2zM36.2 672.3l-.1 .6l-.3 -.4l0 -.8zM40.3 674.7l-.3 0l-.1 -.2l0 -.2l.3 -.4l.4 .4zM37.3 673.4l0 -.5l0 -.7l.5 .1l.2 .6l-.2 .5l-.2 .1zM38.2 673.5l-.4 .2l-.3 -.6l.2 -.3l.3 -.3l.3 .6zM37.9 674.7l.1 -.6l.5 -.4l.5 .1l0 .6l-.6 .2zM42.2 671.2l0 -.3l-.2 -.4l.8 .1l.5 .3l.2 .2l.8 .4l-.6 .1l-.7 -.3zM41.9 674.6l-.6 .2l-.2 .2l-.5 .1l0 -.4l-.1 -.4l.3 -.2l.3 .1l.3 .1zM37.6 674.4l-.2 -.3l-.2 -.4l.3 -.2l.3 .1l.3 -.1l.3 .3l-.1 .4l-.2 .5zM40.1 668.9l.4 -1.4l.6 1.3zM38.8 673.8l.9 -.3l.7 .2l-.4 .4l-.9 0zM38.3 669.1l-.7 -.1l.3 -.3zM43.4 675.3l0 -.4l.2 0l.2 .3l0 .6l-.2 -.2zM37 674.4l.6 -.6l-.1 .7l-.6 .2zM38.7 674.1l-.7 -.2l-.1 -.4l.5 -.3l.7 -.4l.7 .3l0 .3l-.6 .3zM40.2 675.7l.3 .3l-.1 .4l-.3 .1l-.5 .2l-.5 -.4l.5 -.5l.2 -.6zM38.2 676l-.1 -.4l.2 -.6l.5 -.4l.1 .5l-.1 .6zM41.8 674.9l.5 .4l0 .3l.1 .4l-.7 -.2l-.2 -.5l-.4 -.5zM39.6 673l-.3 -.2l-.3 -.4l.6 -.4l.4 .1l.2 .4zM38.2 672.3l.5 .1l.3 .3l-.2 .5l-.7 -.2zM40.4 668.6l.7 .8l-.3 .5l-1.1 -.7l-.4 -.5l-.1 -.6zM40.2 670.5l.1 -.3l0 -.4l.4 .1l.1 .3l-.3 .3zM43.4 669.7l-.7 -.1l.5 -.8zM38.1 671l-.3 .6l-.1 .8l-.4 -.5l-.1 -.5l.3 -.3zM37.4 670.6l.3 .3l-.8 .3zM40.6 669.1l0 1l-.3 .6l-.3 -.2zM40.2 671.4l.4 .3l-.3 .4l-.6 -.3zM38.6 672.7l-.4 -.2l.2 -.3l.6 -.5l.6 .4l-.4 .4zM43.4 669.5l-.9 .3l.2 -.5zM33.4 675.2l.6 -.2l.4 .2l-.8 .1zM43.2 671.9l.6 -.5l.6 .4l-.1 .7l-.6 -.3zM39.7 671l-.1 .7l-.4 .4l-.7 .1l.3 -.7l.3 -.4zM43.1 675.6l.6 .1l-.1 .4zM35.8 670.1l-.9 .2l.4 -.4l-.1 -.4l1 -.2l.9 -.1l.1 .4l-.5 .4zM41.9 673.7l-.7 0l-.6 .1l0 -.5l.3 -.3l.4 .1l.6 0zM41.2 671.6l.4 .1l.2 -.1l.1 .3l0 .2l0 .6l-.3 -.1l-.3 -.1l-.3 -.3zM34.7 669.3l-.1 -.7l.1 -.6l.3 -.4l.2 0l.1 .4l-.1 1.1zM37.9 675.7l-.3 .5l-.8 0zM42.3 672.7l-.3 .3l-.1 -.4l-.1 -.6l.3 -.2l.3 0zM40.1 673l1 -.2l.3 .4l-.9 .4l-.6 .1l-.3 -.1l0 -.1l0 -.3zM39.8 677.2l-.5 -.5l.1 -.6l.3 .1l.4 .1l.3 .9l-.2 .5zM50.2 669.3l.5 -.1l.3 .4l-.6 0zM47 675.9l.8 -.5l.6 .1l-.5 .6zM48.6 674.5l-.3 -.8l-.1 -1.1l.6 .4l.2 1.1l.1 .9zM50.4 673.5l-.4 -.4l-.1 -.6l.3 0l.6 .4l.6 .8l-.2 .4l-.3 .2zM47.8 671.8l.3 -.2l.2 .7l-.2 .3zM47.5 675.8l-.6 -.7l.3 -.2l.3 -.2l.4 .5l.3 .8l-.1 .3l-.4 -.3zM48.8 673.6l-.8 .2l0 -.5l.5 -.1zM44.3 669.2l.2 -.3l.1 .5l-.1 .2l-.2 -.2zM48 672l.3 .8l-.5 .1l-.4 -1.1zM50 676.2l-1.1 0l-.6 -.3l-.7 -.4l1.1 -.3l1.1 .4zM48.7 670l-.2 .2l-.3 -.2l-.1 -.2l.5 -.1l.4 .1zM48.3 670.9l.2 .2l-.2 .2l-.6 -.2l-.2 -.5zM48.7 669.9l.5 0l-.1 1l-.7 -.1zM55.1 671.6l-.6 .5l-.4 0l-.8 .2l.6 -.8l.7 -.1l.6 -.2zM46.1 673.8l-.4 -.1l-.1 -.3l.2 -.1l.4 .1zM51.6 672l.1 .3l-.1 .5l-.5 -.4l0 -.5zM48 682.5l-.4 -.1l-.5 0l-.3 -.4l-.2 -.4l.4 .1l.3 -.1l.7 .3l.4 .5zM50.3 670.6l.6 .7l-.8 -.1zM51.8 667.1l.7 .5l-.2 .5l0 .5l-.5 -.3l-.8 .1l-.1 -.6l.4 -.4zM50.4 672.9l.3 .5l-.9 -.3l0 -.3zM49.8 665.6l.7 -.7l.5 -.5l.3 .2l.1 .2l-.4 .4l-.4 .1zM46.1 677.2l0 -.7l.5 -.6l.6 .1l-.2 .7l0 .5l-.5 .3zM46.1 677.7l.3 .2l-.1 .3l-.2 .3l-.4 -.2l.1 -.5zM46 672.9l.4 -.6l.4 -.8l.1 .4l.1 .4l-.1 .5l-.3 .6l-.3 .2l0 -.6zM47.5 673.9l-.2 -.9l.6 -.7l.5 .5l-.1 1.2l-.5 .4zM48.8 668.4l0 -.2l.5 0l.4 .3l-.4 .1l-.3 0zM48.2 674l-.3 .3l-.5 0l.2 -.5l.2 -.5l.5 -.2l.3 .2l.2 .4zM44.2 676.8l0 -.5l.6 .3zM51.5 670.3l.2 .7l-.1 .5l-.3 -.5l-.1 -.7zM47.2 670.7l-.2 -.4l.3 -.3l.4 0l.1 .4l-.1 .7zM53.5 674.3l0 -.2l.1 -.4l.5 -.3l.4 .3l.2 .4l-.5 .3l-.4 0zM52.4 672.2l-1 -.4l-.6 .1l-.7 -.7l-.4 -.7l1 .4l.6 0l.4 .6zM51.6 668.9l-.2 .8l-.5 -.4l.4 -.8zM51.7 664.3l.2 .1l-.2 .2l-.3 .2l-.3 -.2l.3 -.4zM44.5 665.4l.3 .4l-.2 .5l-.5 -.2l0 -.5zM50.6 671l-.3 -.3l.1 -.5l.2 -.5l.3 -.2l.2 .2l.3 .2l-.4 .7zM47.2 669.9l.3 .4l.4 .5l-.2 .6l-.2 .3l-.3 -.5l-.4 0l.2 -.6l0 -.3zM51.9 672.1l-.1 .6l0 .5l-.3 .7l-.4 0l-.1 -.4l-.3 -.2l.4 -.5l.4 -.7zM46.9 670.5l-.6 0l-.1 -.5l.5 -.4l.4 .3zM55.2 667.7l.3 -.1l.1 .5l-.7 .7l-.5 .2l0 -.4l.2 -.4l.3 -.6zM46.4 672.1l.2 .2l-.2 .2l-.5 .1l0 -.4l.2 -.2zM49.7 674.4l-.4 -.3l0 -.4l.3 .2l.1 .4zM50.2 676.5l.9 .3l-.9 .2l-.3 .6l-.4 -.6l-.3 -.3l0 -.3l.6 -.1zM47.9 666.5l.5 -.2l.4 .6l.3 .5l-.2 .7l-.6 .2l-.5 -.4l-.6 -.5l.5 -.5zM50.2 671.2l.3 -.7l.4 -.5l.5 .2l-.1 .7l-.4 .4zM45.1 671.3l.4 -.5l.2 .6zM49.1 668.7l.3 -.8l.1 .8zM51.1 670.2l.4 -.4l-.1 .5zM52.1 669l-.1 .3l-.3 -.4l.2 -.5l.2 .2zM49.4 675.2l-.9 -.8l-.4 -.6l.7 .1l.6 .7zM48 669l-.7 .5l-.3 .1l-.3 -.4l.6 -.5l.6 -.5zM50.8 670.8l-.1 -.6l.2 -.6l.1 .6zM52 672.9l.3 .1l0 .6l-.6 -.2zM53.2 672.8l-.6 0l-.3 -.3l-.4 -.3l.1 -.5l.2 -.3l.4 .2l.4 0l-.1 .5zM47.7 675.4l.1 -.5l-.3 -.8l.5 .4l.7 .3l.4 1l0 .6l-.8 -.7zM50.5 674.2l0 -.5l-.2 -.6l.4 -.1l.4 .2l.4 .4l-.2 .5l-.1 .4l-.4 0zM49.1 672.1l.5 .1l-.5 .5l-.6 .6l.2 -.5zM50.9 672.8l.7 -.6l0 .5l-.8 .5l-.4 .7l-.5 .1l-.1 -.4l.6 -.7zM47.6 672.9l0 .3l-.4 .3l-.3 -.4l0 -.4l.5 -.1zM51.2 672.7l-.2 -.4l.5 -.3l.5 .4l-.1 .3zM46.7 675l.3 -.2l.2 .6zM50.2 678.4l-.4 .3l-.7 .2l.8 -.7zM45 673.3l.2 -.6l.3 -.5l.4 .1l.1 .3l-.3 .4zM50.4 671.7l0 .4l-.7 -.2l-.8 -.1l.1 -.3l.7 -.1l.4 -.1l.6 .1l-.2 .2zM47.5 668.1l-.5 .2l-.5 .2l0 -.4l.3 -.2l.5 -.1zM46.3 675.5l.6 .2l-.7 .6l-.7 -.1l-.7 0l.7 -.4zM54 670l.7 .3l-.7 .3zM53.7 670l-.3 .3l-.5 -.2l.3 -.6zM46.9 667.5l.6 .4l-.1 .2l-.2 .2l-.6 -.3l.1 -.3zM48.4 673.1l.2 -.8l.4 -.2l.2 .5l0 .6l-.4 .1zM48.7 669.7l.2 -.5l.9 .3l-.1 .3zM52.4 670.5l-.5 .7l-.4 -.3l-.3 -.7l.4 -.6l.4 .5zM46.7 671l-1 -.1l.4 -.5l.9 0zM47.6 673.1l-.1 .3l-.4 -.2l.2 -.2zM52.9 673.5l.3 .2l.7 .2l-.1 .5l-.6 .4l-.6 -.3l-.3 -.3l-.2 -.4l.2 -.5zM50.9 669.3l.6 .1l-.3 .4zM47.8 674.4l.1 1l-.1 .8l-.2 .4l-.4 .9l-.1 -1l0 -.4l-.1 -.7l.3 -.9zM47.5 668.9l-.4 .1l-.4 -.2l-.7 -.4l.5 -.4l.7 0l.6 .5zM52.3 670.9l.3 .3l-.8 .5l-1 .4l.4 -.6l.4 -.3zM47.1 673.7l.7 -.3l.3 .4l0 .3l0 .4l-.7 -.1l-.3 -.1l-.9 0l.3 -.5zM52.7 667.7l.4 .1l-.2 1.2l-.6 0zM54.7 670l-.8 .3l-.3 -.7l.1 -.7l.7 -.1l.3 .2l.6 .4zM62.8 675l-.6 -.3l.8 -.3zM51.9 671.2l-.5 -.1l.5 -.3zM53.1 672.6l.1 -.3l.4 .1l.4 .1l.2 .3l-.4 0zM57.9 680l-.2 .3l-.4 .3l-.4 -.4l.2 -.2zM61.6 675.5l-.3 .6l-.7 .3l.1 -.6l.4 -.3zM55.4 677.1l.4 -.1l.7 .3l-.5 .8l-.6 .3l-.3 -.7zM59.8 682.3l-.6 0l0 -.5l.7 -.2l.4 .3zM50.9 673.1l-.3 -.5l.6 -.2l.4 .2l0 .4l-.1 .2l-.2 .4l-.3 -.2zM55.4 668.7l.6 .3l.4 .5l-.2 .4l-.6 0l-.7 0l-.3 -.5l.5 -.3zM54.3 675.3l-.5 -.6l.2 -.3l.8 .4zM53 682.2l.8 .2l-.5 1.1zM58.5 673.3l-.1 .8l-.2 -.6zM53.3 680.6l.5 0l.3 .6l.2 .5l-.3 .2l-.2 .3l-.5 0l-.3 -.6l.2 -.5zM55.3 671.7l.5 -.4l.3 .7l-.2 .8l-.6 -.2l-.7 -.3zM57.5 673.5l-.4 .4l-.4 .3l-.6 .2l-.1 -.3l-.2 -.4l.7 -.3l.5 0zM54.2 674.7l-.4 -.1l-.5 -.3l-.5 -.4l.3 -.4l-.1 -.4l.5 0l.3 .7l.3 .3zM55 665.8l-.3 .5l-.2 .4l-.3 .1l-.1 -.6l0 -.5l.2 -.7l.4 .1zM57.3 672.7l.4 -.1l.3 .5l-.2 .6l-.2 .5l-.3 -.5l-.4 0l.2 -.5l-.2 -.7zM51.9 673.6l-.3 -.3l0 -.7l.2 -.3l.5 .4l-.2 .7zM55.2 667.5l-.5 .4l-.4 -.2l.4 -.4l.7 -.1zM55.8 670.2l.1 .2l-.1 .2l-.3 .1l-.3 -.2l.3 -.3zM56.6 672.7l.4 -.1l.2 .4l.1 .9l-.6 -.1zM53.3 672.4l.5 .1l.1 .4l-.5 -.1zM53.4 677.3l-.7 .5l-.3 -.6zM55.4 669.6l-.9 -.2l-.5 -.3l.5 -.2l.1 -.2l.6 .1l.7 0l.2 .3l0 .2zM54.1 673.8l-.7 -.2l-.2 -.4l.1 -.3l.6 .5zM59.6 670.4l-.4 .6l-.6 -.2l.3 -.8zM54.7 670.4l0 -.3l0 -.4l.3 0l.1 .4l-.2 .2zM53.5 673.5l-.3 .7l-1 .2l.1 -.7l.5 -.5l.6 -.1zM56.5 677.7l-.2 -.5l-.2 -.3l.3 -.6l.6 -.2l.3 .5l-.5 .6zM54.4 675.7l-.5 -.6l-.6 -.5l.7 -.1l.3 0l.6 .4l.3 .7zM49.7 679.7l-.8 -.6l.7 -.1zM57.5 671.3l-.6 .5l.1 -.7zM55.1 670.8l.2 .5l-.5 -.1l-.2 -.4zM58.5 673.7l-.2 .2l-.4 0l0 -.5l.4 -.1l.2 .1zM57.1 670.1l.4 0l0 .4l0 .4l-.2 .2l-.4 .3l0 -.6l-.5 -.3l.3 -.4zM57.5 681.7l-.6 .1l-.1 -.9l.3 -.8l.5 .1l.5 .1l0 .9zM55.6 676.9l.2 -.4l.4 0l-.1 .4zM55.5 673.9l.6 .4l.3 .6l-.3 .5l-.3 .6l-.6 -.1l-.3 -.7l.2 -.7zM53.3 674.9l-.4 .3l-.5 -.3l.3 -.4l.4 .1l.2 .1zM58.3 679.6l.5 -.1l.3 .1l-.2 .2l-.3 .2l-.3 -.1zM56.2 669.1l-.2 .6l-.9 .4l0 -.6zM53 673.1l.7 0l-.1 .6l-.4 .3l-.8 0l-.1 -.7zM57.2 670.4l-.5 .3l-.2 .1l-.3 0l.4 -.5l.5 -.1zM51.4 673.3l.5 .9l-1.2 -.3zM50.5 680.7l.4 .6l0 1l-.5 .7l-.4 -.4l-.1 -.5l.1 -.8zM54.8 667.4l-.9 .8l.3 -.9l.7 -.7zM55.6 669.9l.3 -.6l.2 -.4l.4 .3l-.1 .8l-.1 .3l-.4 .2zM53.8 674.2l-.1 .3l-.5 .2l-.6 -.2l-.2 -.2l.2 -.1l.5 -.5zM52.9 669.3l-.3 .3l-.5 -.2l-.3 -.1l-.3 -.4l.2 -.2l.3 -.1l.4 .2zM54 673.3l-.7 -.2l-.3 -.4l.9 -.3l.6 0l.4 .2l-.1 .3zM53.8 676.8l-.3 0l-.2 -.6l.5 -.2l.5 .4zM53.6 674.8l-.8 -.1l.4 -.7zM56.5 672.4l.5 -.2l.5 -.1l.1 .5l-.5 .2l-.3 0zM53 672.2l.2 -.6l.6 -.4l0 .6l.1 .9l-.7 .7l-.3 -.4l-.3 0zM49.3 675.3l.1 -.3l.5 -.1l.4 .4l-.2 .6l-.6 .2l-.6 -.2zM55.9 670.3l-.2 -.8l.8 .4l-.1 .6zM54.8 675.8l.3 -.5l.2 .3l-.3 .6zM57.7 678.2l.4 -.2l.3 0l-.3 .4l-.3 .1zM57 677.7l-.5 -.3l.3 -.2l.4 .4zM55.2 669.9l-.3 .3l-.4 -.1l-.3 -.6l.2 -.5l.3 -.3l.5 .4zM52.8 674.8l.4 .6l-.4 .2l-.7 -.1l-.9 -.5l.6 -.2zM59.2 676.9l-.6 .2l-.7 -.2l-.4 -.5l-.4 -.6l.6 -.1l.7 -.1l.7 .6zM55.8 679.2l-.4 -.4l.4 -.2l.6 -.1l.3 .5l.4 .3l-.5 .1l-.1 .6l-.7 -.4zM56 676l-.4 .2l-.1 -.3l.2 -.2zM55.9 674.6l-.7 -1.1l1 .2zM56.5 673.4l-.2 .1l-.2 0l0 -.6l.1 -.2l.1 .1zM57.6 672.6l-.8 .9l.1 -.5zM50.6 669l.1 .5l0 .7l-.6 -.4l-.1 -.7l.2 -.3zM53.4 673.9l-.8 .1l-.6 .2l-.2 -.3l.3 -.4l.7 -.5l.6 .2l0 .3zM56 678.2l0 .4l.3 .6l-1.2 -.4l-.4 -.4l-.5 -.5l.8 .1zM50.8 669l.6 -.7l.7 0l-.5 .7zM51.3 670.6l-1 -.2l.5 -.7l1.1 .2l.7 .2l-.5 .4zM56.5 673.3l-.4 -.1l-.2 -.4l-.4 -.4l.1 -.5l.2 -.4l.5 .4l.3 .8zM55.2 673.1l.3 .1l.2 .3l-.1 .1l-.2 .1l-.1 -.3zM55.5 670.1l.3 -.6l.6 .2l-.1 .5l-.3 .4zM54.3 677.2l.3 -.6l.6 -.3l.7 -.1l.7 .1l-.2 .3l-.8 .3zM51.8 671.4l-.2 .5l-.5 .1l-.1 -.4l-.1 -.5l.4 .2zM51.3 677.1l.4 -.3l.3 .1l.6 -.1l.1 .8l-.2 .2l-.2 .2l-.4 -.4zM56.2 672.2l-.2 .5l-.6 .2l.2 -.9l.5 -.2zM56.9 670.6l.3 -.6l.1 -.7l.5 -.2l.6 -.6l-.2 .6l0 .4l-.3 .8l-.5 .1zM55.6 674.7l.2 .5l-.2 .2l-.4 -.1l.1 -.4zM52.7 676.7l.2 -.4l.4 -.3l.3 .6l-.5 .5zM50.9 672.9l.4 -.2l.6 .4l-.2 .5l-.5 .3l-.5 -.6zM58.5 676l.7 .3l.2 .2l-.3 .5l-.8 -.4zM58.2 674.3l-.7 .3l-.4 -.3l-.5 -.7l.6 -.4l.9 -.1zM52.3 675.2l-.2 -.5l.9 0l.7 .5l.4 .5l-.6 0l-.6 -.1zM55.7 671.2l.3 -.3l.3 .1l-.2 .3l-.3 .2l-.4 0zM53.7 674l-.2 .7l-.2 -.7zM55.1 677.1l.4 -.3l.6 -.4l-.4 .6l0 .4l-.5 .2l-.6 .4l-.2 -.3zM55.9 674.4l-.7 -.6l.7 -.3l.6 .4zM53.5 672.8l.8 -.2l.9 -.4l.2 1l-.8 .3l-.9 .2zM51.5 677.2l-.1 -.2l.2 -.3l.2 -.3l.4 0l.2 .3l0 .3l0 .4l-.6 -.1zM59.6 676.4l-.2 .3l-.6 -.6l.5 -.5zM57.7 672.3l-.3 -.3l-.3 -.4l.5 -.6l.5 .2l-.1 .6zM48.7 676.6l.7 -.1l.4 .3l-.7 .3zM58.8 672.3l-.6 .3l.1 -1zM54.4 671.9l.1 -.5l.3 -.8l.2 .4l-.1 .7l-.4 .6zM52.1 667.3l0 -.4l.5 0l.3 0l.5 .1l-.3 .6l-.5 .2l-.5 -.1zM55.5 681l-.6 -.4l-.4 -.3l0 -.5l.8 -.4l.7 .2l.9 .3l-1 .5zM55.6 673.4l.6 -.7l.3 -.5l.5 -.3l0 .8l0 .8l-.5 .8l-.5 -.3zM49 674.7l.3 -.4l.5 .1l0 .4l-.5 .1zM56.1 671.4l.1 -.8l.2 .4l0 .4l-.2 .5zM51.6 677.2l.2 .3l.1 .3l-.4 .4l-.3 -.4l0 -.5zM54.3 667.8l-.4 -.5l.7 0zM56.2 675.1l.4 -.4l.7 0l.2 .3l0 .1l.3 .3l-.7 .3l-.5 -.1l-.2 -.2zM52.2 668.3l.2 .4l-.6 .4zM57.1 679l-.4 .4l-.8 -.4l.7 -.5l.5 -.3l.5 .4zM52.6 672.9l-.4 -.5l.4 -.3l.6 -.1l.5 .5l.4 .6l-.6 .3l-.6 -.3zM50.6 679.4l-.3 -.1l-.4 -.4l-.1 -.5l-.2 -.7l.3 -.1l.5 .5l.3 .8zM51.4 680.3l-.2 0l-.2 -.3l.1 -.5l.3 -.2l.1 .5zM56.4 671.5l-.5 -.3l.3 -.5l.5 -.1l.1 .5zM56.1 672.3l1.1 -.2l-.6 .5l-.9 .4l-.6 .1l-.2 -.2l.3 -.3l.5 -.5zM58.7 669.7l-.4 0l-.5 .6l.2 -.8l.2 -.6l.3 -.3l.4 -.4l.2 .2l-.2 .6zM57.2 674.2l-.6 -.2l-.3 -.4l.3 -.4l.6 -.4l.4 .5l-.1 .4zM54 674.2l-.1 -.5l.1 -.5l.5 .7l.4 .6l-.4 0zM56.4 674.1l.5 -.5l.6 -.1l.1 1.3l-.5 .5l-.3 .5l-.5 -.4zM56.2 670.5l.5 -.6l.6 .4l-.1 .4l0 .6l-.6 .1l-.6 -.2zM56.3 668.5l-.6 -.1l-.4 -.6l.5 -.3l.5 .1l.3 .4zM52.3 682.2l.4 0l.6 .6l-.6 0l-.7 -.3zM53 673.5l.6 -.2l.6 .3l-.2 .5l-.4 .4l-.3 -.5zM53.5 684l-.3 .5l-.2 -.2l-.3 -.3l.2 -.3l.3 -.3zM54.8 675.2l-.3 .3l-.5 -.6l.1 -.4l.3 -.2l.6 .6zM58.8 670.1l0 .7l-.9 .1l-.7 -.3l.1 -.4l.5 -.6zM55.6 676.7l0 -.3l.1 -.2l.2 .1l.1 .5l-.3 0zM53.7 671.2l0 .4l-.2 0l-.1 -.3l.2 -.4zM54 666.5l.1 -.3l.4 .3zM58.3 672.6l.1 -.5l.5 -.1l.5 .3l.3 .5l-.3 .3l0 .4l-.4 -.3l-.4 -.2zM60.7 681.8l-.2 .5l-.6 -.1zM62.4 677.9l-.3 -.1l-.3 -.3l.3 -.2l.3 .4zM57.9 678.3l.4 -.7l.2 -.5l.2 .1l0 .6l-.2 1.1l-.4 -.3zM59.9 678l0 .5l-.3 .5l-.3 -.2l-.1 -.4l-.1 -.2l0 -.4l.3 -.5l.4 .2zM58.2 680.8l0 .6l-.4 .4l-.5 -.5l.2 -.5zM57.2 676.7l-.7 .7l-.2 -.5l.7 -.8l.7 -.2zM60.4 674.3l.1 .5l-.5 .2l-.2 -.7zM55.7 682.1l.9 .2l.4 .2l-.1 .2l-.3 .1l-.7 .3l-.8 -.4l-.2 -.4zM60.1 685.1l.5 .1l-.4 .4l-.4 .5l-.7 .1l-.6 0l.5 -.4l.4 -.3zM60 687.8l.1 -.5l.5 .5zM59.9 682.6l0 -.4l.3 -.2l.6 -.1l0 .6l0 .3l-.5 .2zM56.1 676.3l.7 .1l-.2 .6l-.6 -.2zM61.8 677.2l-.3 -.5l-.1 -.4l.4 -.3l.4 .3l.5 .4l-.2 .6zM63.8 680.5l-.3 .7l-.7 .2l-.6 0l-.3 -.6l.9 -.2zM63 679.1l-.4 -.5l.5 -.4l.2 .6zM55.7 674.7l.3 -.4l.6 0l-.5 .6zM66.4 679l.4 0l.1 .7l-.2 0l-.5 -.5zM61.5 676.9l-.2 -.3l-.3 -.1l0 -.5l.3 -.4l.4 .3l.6 -.1l-.1 .6l-.3 .3zM59.7 679.8l.3 -.7l.2 .2l.2 .4l-.2 1.2l-.3 -.6zM61.7 680.2l0 .5l-.1 .6l-.7 -.7l-.2 -.8l.2 -.2l.2 .1zM56.9 677l.7 -.2l.5 .4l-.3 .6l-.5 .2l-.9 .4l.2 -.9zM61.8 682.3l-.5 .3l-.6 0l.8 -.8l.4 .1zM58.7 677.8l-.2 .4l-.4 .3l-.4 -.4l.1 -.4l.2 -.4l.6 -.1zM58.7 681.6l.4 -.2l.7 .1l-.4 .3l-.3 .1l-.4 0zM62.6 680.3l-.2 .5l-.4 .6l-.3 -.2l.3 -.5zM56.5 682.9l.7 -.1l-.3 .5l-.4 .4l-.5 -.4zM58.2 677.2l.9 -.5l.3 .5l-.5 .7l-.4 .9l-.3 -.5l-.4 -.2zM62.2 682.5l.2 .5l-.4 .4l-.5 -.2l-.7 -.2l.6 -.5l0 -.6l.5 .4zM56.4 679.4l.4 -.1l.6 -.2l-.1 .5l.1 .3l-.1 .4l-.7 0l-.4 -.4zM60.6 679.5l.4 .2l-.1 .6l-.4 0l0 -.4zM59 681.2l-.2 -.8l.7 .6zM61.8 676.8l-1 -.2l.8 -.3l.6 .2zM59.3 680l0 -1l.5 -.1l-.2 1.1l-.2 .6zM60.2 671.2l.4 -.5l.5 .2l-.1 .4zM56.8 679.4l.1 1l-.3 .1l-.2 -.5zM61.1 686.2l-.2 -.5l.1 -.9l.4 -.1l.1 .7l-.1 .7zM54.4 685.7l.1 -.5l.4 -.3l0 .5l-.1 .5zM61.7 681.6l-.3 -.5l-.2 -.2l.4 -.1l.5 -.3l.7 .4l.1 .3l-.4 .2zM61.3 680.1l-.5 .3l-.5 -.2l.1 -.5l0 -.7l.7 .3l.4 .3zM62.1 679.2l-.2 .3l-.4 -.3l-.2 -.6l.2 -.4l.5 .6zM60.2 679.3l-.3 -.1l-.1 -.2l.1 -.4l.1 -.2l.2 .2zM62.1 682.9l-.5 .1l-.4 -.2l-.1 -.2l0 -.3l.6 .1l.4 .2zM62.9 677.5l.9 .1l.2 .4l.1 .3l-.1 .5l-.7 -.3l-.4 0l-.6 -.2l.2 -.4zM60.7 686.2l-.2 -.6l.7 -.2l.2 1.1zM64.1 678.4l-.3 -.3l.6 -.6l.4 -.5l.8 -.4l-.3 .6l.1 .2l-.5 .4zM57 681.1l.4 0l.3 .4l.2 .4l-.4 -.1l-.5 -.4zM55.9 680.2l0 -.5l-.3 -.2l.4 -.5l.4 -.3l.4 0l0 .6l-.4 .7zM61.1 677l.1 .1l.1 .3l-.4 .1l-.1 -.4zM58.7 679.5l0 -.7l.5 .5zM59.5 678.7l-.7 -.1l-.3 -.3l-.4 -.4l.5 -.2l.5 -.4l.4 .6zM60.8 681.5l.5 -.9l0 1.1l0 .7l-.5 1l-.1 -1zM59.7 681.2l-1.1 .2l.6 -.6zM57.9 676.6l-.7 0l0 -.5l.3 -.5l.3 .4zM61.3 674.1l-.6 -.1l-.4 -.2l.3 -.2l.5 .1l.5 .2zM59.6 681.2l.2 -.8l.3 -.5l.4 -.6l.2 .5l0 .4l-.1 .4l-.3 .2l-.2 .3zM61.8 677.7l.8 .2l0 .4l-.9 0l-.4 -.5zM60.9 683.3l-.1 .3l-.2 .1l-.3 -.5l.3 -.7l.3 .2zM58.2 684.5l-.3 .2l-.4 -.2l0 -.4l.5 -.2l.2 .3zM61.1 677.4l.7 -.1l.8 .3l.1 .8l-.8 0l-.4 0l-.5 -.3zM61.5 677.8l-.3 -.3l.3 -.2l.3 .2l.5 .3l-.5 .1zM60.4 674.4l.4 .3l0 .3l-.3 0l-.4 -.5zM63.8 684.4l-.2 .5l-.5 .1l-.3 -.3l0 -.3l0 -.3l.4 -.5l.2 .5zM55.8 680l.9 .2l-.3 1l-.7 -.5zM52.1 676.9l-.1 -.2l.4 -.1l.3 .1l.1 .3l-.5 0zM58.8 678.9l-.5 .3l.2 -1zM61 680.4l-.5 .2l-.4 -.6l0 -.6l.4 0l.4 0l.3 .4l-.1 .3zM56.1 682.9l.6 -.7l.5 .7zM60.4 680.3l-.2 .2l-.5 .3l.3 -.7l-.1 -.5l.5 -.1l.3 -.3l.1 .3l.2 .4zM59.5 676.4l.4 .6l-.7 -.3l-.4 -.2l-.7 -.8l.3 -.2l.7 .2zM59.7 676.7l0 -.5l.7 -.1l.5 .1l.4 .2l.1 .4l-.2 .5l-.7 -.5zM62.5 681.5l-.5 0l-.3 -.3l-.1 -.4l.3 -.1l.5 0l.3 .3l.2 .3l.1 .4zM58.3 684.4l0 -.8l.7 0zM59.2 680l-.7 .1l-.6 -.2l0 -.3l.6 -.3l.4 -.1l.7 -.2l.2 .3l-.2 .3zM59.7 678.5l-.1 -.4l.3 0l.4 .1l.1 .3l-.3 .2zM59.8 681.9l-.3 .7l-.3 -.9l0 -.6l0 -.6l.3 .1l.3 .2l.4 .5l-.3 .4zM59.4 680.5l-.1 .5l-.5 .1l.1 -.6l.3 -.6l.2 .2zM59.3 682.3l.2 .6l-.9 -.5l-.2 -.6zM63.8 678.1l.4 -.3l.2 .7l-.2 .5l-.1 .7l-.3 -.7l-.1 -.3l-.1 -.3l0 -.5zM61.9 681.3l-.8 .3l-.8 -.1l-.2 -.9l.7 -.3l.8 .1zM59.7 675.1l.2 .4l-.5 .5l-.6 .4l-.2 -.4l.1 -.3l.1 -.4l.3 0zM64.1 679.2l-.4 .5l-.2 -.6zM69.7 684.5l-.6 .2l-.2 -.3l.1 -.3l.5 .1zM64 680.3l.8 -.4l-.1 .9zM62.1 683.4l.6 0l.4 .5l-.2 .4l-.4 .1l-.4 -.3zM62.5 682.8l-.5 0l-.8 -.1l.5 -.3l0 -.6l.9 .1l.2 .6zM61.5 673.4l-.1 -.5l.2 -.5l.5 0l.4 .3l.3 .9l-.8 .1zM60.5 678l.5 .5l-.3 .5l-.5 .3l-.3 -.6l.3 -.4zM65.8 676.9l.4 -.2l.4 .1l0 .4l-.3 .3l-.3 -.3zM65.1 683.6l.2 -.7l-.1 -.3l.5 -.5l.3 0l.9 -.7l-.1 .6l-.4 .6l-.6 .4zM66.3 686.4l.4 -.4l.2 -.4l.9 0l.2 .5l-.5 .3l-.6 0zM64.5 679.6l-.3 .7l-.3 -.1l-.1 -.5l.4 -.6l.1 -.5l.3 -.2l.3 -.1l-.1 .7zM63.7 677l.2 .4l-.5 .2l-.7 -.1l.3 -.6zM70.9 683l.1 -.6l.5 .2l-.1 .4zM65.5 684.7l.3 .5l0 .5l-.4 -.4zM62.4 685.3l.3 -.1l.4 0l.4 .3l-.2 .6l-.5 0l-.6 .4l-.2 -.5l-.1 -.5zM70.6 685.9l-.8 .5l-.5 .5l-.2 -.2l0 -.4l.5 -.6l.4 -.1l.5 -.1zM63.6 684.8l.6 -.4l.3 .7l-.1 .4l-.6 .2l-.5 -.3zM66.9 677.5l.4 .1l.3 .6l.1 .5l.1 .7l-.3 .2l-.3 -.8l0 -.5zM68.2 682.7l.7 .1l.3 .3l.8 .5l-.2 .6l-.5 0l-.6 -.4zM67.1 689.9l-.2 -.3l.2 -.2l.5 0l.1 .5l-.3 .4zM62.5 678.8l.6 -.1l0 .5l-.7 .1l-.5 0zM63.5 686.8l.2 -.4l.6 0l-.1 .5zM63.9 680.4l.6 .2l-.4 .5l.2 .4l-.6 .1l-.4 .1l-.1 -.2l0 -.3l0 -.6zM64.6 683.1l-.3 -.6l.2 -.4l.6 -.3l.1 .9l-.1 .4zM61.8 686.9l-.4 -.5l-.4 -.4l.5 -.3l.3 -.6l.4 .5l.5 .1l0 .4l-.5 .2zM64.6 690.5l-.2 -.2l0 -.4l.5 .3l-.1 .3zM63.8 678.6l.1 .4l.2 .5l-.4 0l-.3 -.2l.1 -.5zM68.4 681.6l.8 -.1l.4 .6l-.5 .7l-.8 -.2l-.7 -.4zM64.1 684.7l-.1 .3l.1 .3l-.6 -.1l-.7 0l-.1 -.5l-.2 -.5l.7 .2l.5 -.2zM67.7 681.6l.7 -.2l.2 .5l.6 .7l-1 -.3l-.9 -.1l-.5 -.7zM68.3 675l-.2 .2l-.2 -.2l-.1 -.3l.3 -.1zM65.8 678l-.4 .3l-.6 -.1l0 -.5l.1 -.4l.6 -.2l.4 .5zM61.2 675l.5 .3l-.4 .1zM62.1 674.1l1.1 -.1l.5 .5l-.4 .6l-.8 .5l-.6 -.4l-.6 -.5zM67.6 684.2l.7 -.3l-.1 .4l-.1 .5l-.6 .2l.1 -.4zM68.6 688.6l.2 -.3l.2 -.4l.6 .4l.4 .4l-.2 .4l0 .4l-.5 -.1l-.3 -.4zM64.3 677.8l-.4 -.7l.6 -.1zM67.1 679l.2 -.3l.3 .5l-.2 .1zM62.4 686.5l-.9 -.4l.6 -.4zM67.6 679l-.9 0l.1 -.4l-.4 -.5l.9 .2l.5 .3l.1 .3zM62.8 680.3l-1.1 -.1l0 -.5l-.2 -.6l1.1 .3l1.2 .3l-.6 .4zM64.2 687.9l.6 -.3l.7 -.3l.1 .5l-.6 .4l-.5 .3l-.8 .1zM60.6 678.9l.7 -.7l.4 .3l-.4 .4zM67.5 681.1l.4 .1l.3 .2l.1 .4l-.7 -.1l-.7 0l-.1 -.4l.4 -.1zM67.6 679.5l-.5 .5l-.4 -.2l.4 -.4zM67.5 686.8l-.8 -.3l1.4 -.1zM66 687.1l-.6 -.7l.6 -.7zM66 680.6l.1 -.4l.5 0l-.2 .4zM61.7 686.1l.4 -.6l.8 -.4l.8 .1l.1 .5l-.8 .3l-.5 .2zM64.4 682.5l.6 -.3l-.4 1l-.5 .9l-.7 .7l-.2 -.5l.2 -.6l0 -.7l.7 -.8zM68.1 686.8l-.6 0l.4 -.5zM68 675.3l.7 .1l.1 .2l-.7 .1zM68.6 695.5l-.2 -.3l.2 -.3l.4 .1l-.1 .3zM65.5 673.2l-.5 0l-.2 -.4l.6 .1zM61.9 683.4l.2 .4l-.3 .3l-.4 -.2l-.3 -.2l.3 -.3zM62.4 684.1l-.1 -.2l-.1 -.5l.3 -.1l.1 .5zM69.2 677.8l.5 -.4l.6 -.3l.5 .5l0 .6l-.3 .5l-.8 -.2zM65 682.4l-.4 .5l-.5 -.6l.3 -.9zM67.7 680.9l-.4 -.3l-.3 -.5l.1 -.3l-.2 -.7l.4 .5l.3 0l.3 .6l-.3 .1zM71 678.1l.7 0l.6 .2l.7 .3l0 .6l-.8 0l-.9 0l-.3 -.6zM61.3 677.4l.4 -.8l.4 0l-.1 .7l-.1 .6l-.6 .4l-.6 .6l.1 -.7l0 -.3zM62.6 676.6l.4 -.1l.5 .1l0 .5l-.2 .6l-.6 -.2l-.4 -.4zM65.9 686.7l-.3 .3l-.4 0l.2 -.6l0 -.3l.3 -.2l.6 -.1l-.1 .7zM61.8 680.2l.3 -.5l.1 -.5l.6 .1l.7 .5l.4 .7l-.7 .2l-.7 0zM62.8 683l-.8 .1l0 -.5zM69.3 682.1l-.9 .2l-.6 -.7l.6 -.1l0 -.5l1.1 .5l.5 .5l.5 .6zM62.5 680l-.1 -.7l.6 -.2l.4 .1l.2 .5l-.4 .5zM65.5 684.1l.3 -.3l.4 -.1l.8 -.2l-.5 .7l-.4 .2l-.4 .4l-.7 0zM67.7 681.6l-.3 .5l-.5 0l-.5 -.3l0 -.5l.3 -.3l.5 .1zM63.5 678l-.6 .2l-.8 -.4l.5 -.2l.4 .1zM65.2 681.1l.7 -.3l.3 0l-.2 .3l-.8 .5zM64 680.2l-.4 -.4l.3 -.3l.6 .5zM61.1 683.3l.6 0l1.3 .1l-.6 .4l-.2 .5l-1.1 -.5l-.1 -.3zM68.1 685.3l.7 -.1l-.4 1l-.8 .7l-.5 0l.1 -.8zM62.8 680.4l-.6 -.5l.3 -.7l.7 -.3l.3 1.1l-.4 .5zM64.7 677.2l-.7 -.3l0 -.6l.5 -.3l.2 .5zM59.5 683.3l-.7 -.4l.5 -.5l.6 -.5l.3 .7l.1 .7zM67.1 683.8l-.2 .5l-.2 .3l-.4 .1l-.7 .3l-.3 -.7l.7 -.3l.1 -.6l.7 -.2zM67.1 680.9l.5 -.4l.3 0l.3 .2l-.7 .4zM65 684.5l-.2 -1.1l.6 .8zM64.8 675.4l-.6 .2l-.3 -.5l-.2 -.5l.6 0l.6 .2zM67.2 681.2l-.8 .1l-.9 -.5l-.7 -.4l-.1 -.5l.9 .1l.8 .4l.3 .3zM66.6 681.7l-.5 .2l-.4 -.3l-.3 -.6l.6 -.5l.5 0l.6 .2l.1 .6zM66.7 682.4l.3 .3l-.3 .6l-.4 .3l-.4 -.2l-.1 -.6l.5 -.5zM69.6 685.8l.8 -.1l0 .7l-.6 .2l-.5 -.3zM66.4 685l-.8 -.5l.7 -.3zM65 685.5l-.6 .1l-.1 -.4l.4 -.1l.5 -.2l0 .3zM64.8 680.9l-.2 -.4l.1 -.6l.5 .2l.5 .6l-.2 .6l-.4 -.1zM64.4 680.6l-.3 -.3l.8 -.4l.1 .6zM62.2 677.2l-.2 -.2l.6 0l.5 .2l-.2 .2l-.4 -.1zM65.6 681.3l-.3 -.2l-.3 -.4l.3 -.4l.3 -.3l.2 .5l.3 .2l-.1 .3l-.1 .3zM67.6 675l.3 .3l.1 .5l.2 .6l-.4 .1l-.5 -.2l-.2 -.6l0 -.7zM65.7 681.6l0 -.4l.4 -.2l.5 .3l-.3 .4l-.5 .5zM64.3 678.9l.6 .2l-.2 .4l-.7 .4l-1.1 .3l.3 -.7zM67.8 682.7l.5 -.2l.5 -.6l-.1 .8l.5 .2l-.5 .5l-.3 .1l-.4 .3l.1 -.6zM68 680.7l-.1 -.2l.2 -.4l.3 -.1l.1 .1l-.1 .3zM63.3 680.6l.2 .4l-.4 0l-.4 -.5l-.1 -.3l.2 -.2zM64.7 676.5l0 .2l-.5 .2l-.5 -.2l.6 -.2zM66.5 679.1l-.4 -.2l-.3 -.5l.8 .1l.5 .3zM66.3 677.2l.5 -.3l0 .9l-.2 .6l-.4 -.1zM64.2 677.3l.5 0l.3 .4l.1 .6l-.6 .3l-.6 -.3l0 -.6zM63.8 685l.4 -.2l.3 .4l0 .8l-.7 -.2l-.4 -.3zM68.2 682.9l.4 -.4l.2 .2l-.6 .8zM60.8 673.4l.4 -.2l.4 .3l.3 .4l-.6 .2l-.4 .4l-.5 -.1l.1 -.5l.1 -.3zM67.5 681.5l-.3 .2l-.3 -.3l-.2 -.5l.3 -.5l.5 .4l.3 .4zM65.6 683.3l-.5 -.2l-.2 -.6l.4 -.1l.2 -.1l.3 .2l.1 .2l.5 .5l-.5 0zM69 682.2l.4 .3l-.7 .2l-.5 -.1l-.6 0l0 -.4l.2 -.3l.8 -.3l.9 0zM66.3 681.3l.1 .8l-.5 -.2l-.4 .4l.1 -.8l-.3 -.5l.5 -.4l.4 -.3l0 .7zM62.6 672.8l-.3 .2l-.3 -.3l.2 -.4l.3 0l.3 .3zM66.3 678.8l.5 -.1l.2 .2l-.1 .4l-.4 .3l-.7 .1l-.3 -.5zM66.3 686.3l-.2 -.2l-.1 -.3l.3 -.2l.2 .3l0 .2zM64.6 693.2l.1 -.6l.3 -.2l0 .6zM64.9 669.3l-.7 .5l-.2 -.2l0 -.4l.4 -.7l.4 .2zM68.4 676.5l-.5 -.2l.2 -.6zM64.3 672.6l.5 0l.1 .3l-.5 0zM64 682.8l.2 -.4l.6 -.1l.4 .3l-.6 .3zM68.5 675.5l-.2 .5l-.3 .6l-.5 -.6l-.3 -.4l.4 -.3l.5 -.3zM63.7 677.6l.6 .4l0 .6l-.9 .1l-.3 -.6zM64.1 680.6l.3 -.7l1.1 .1l.8 .4l-.5 .5l-.9 .1zM66.3 690.8l-.8 .1l-.3 -.3l0 -.4l1.1 -.1l.3 .4zM63.7 678.2l.2 -.4l.1 -.6l.5 -.1l.2 .8l.2 .5l-.3 .2l-.3 0l-.3 .1zM68.7 676l.7 .3l.5 .8l-.8 .3l-.2 .8l-.4 -.8l-.6 -.3l.4 -.5zM64.4 673.3l-.6 -.3l.2 -.6l.6 -.5l.7 .6l-.2 .8zM60.7 687.8l.4 .2l-.1 .4l-.1 .3l-.5 -.2l-.2 -.5l.2 -.3zM63.6 671.8l.9 -.4l-.1 .4l-.9 .6zM66.2 681.6l-.3 -.5l.6 -.2l.2 .5l0 .5zM71.3 678.2l.2 0l.3 .1l0 .4l-.3 .1l-.1 -.4zM67 683l0 .3l-.1 .2l-.2 0l0 -.3l.1 -.4zM67.6 682.9l-.8 .6l-.7 .1l-.3 -.5l.8 -.5l.7 -.2zM67.2 675.2l.4 -.5l-.1 1.2l-.3 0zM68.8 675.1l.4 -.5l.1 .4zM69.4 684.6l.3 .5l-.7 0l-.4 -.1l.1 -.4zM66.3 682.2l.6 .2l-.8 .5l-.3 .2l-.4 .1l-.2 -.2l-.2 -.5l.6 -.5l.7 -.4zM70.7 682l.5 .4l-.1 .5l.4 .5l-.6 0l-.4 .1l-.3 -.3l-.3 -.5l.3 -.4zM62.3 684.6l-.2 -.4l-.1 -.4l.5 0l.1 .4l0 .3zM67.8 682.2l1 -.5l0 .3zM65 679.9l-.6 .2l-.1 -.3l.6 -.2zM68.4 680.4l-.6 .8l-1 .6l-.5 -.2l1 -.8l.5 -.3zM62.7 684.9l.4 -1l.5 .5l.2 .2l.2 .7l-.6 .9l-.5 -.5zM65.1 678l-.3 .5l-.4 -.2l-.3 -.2l0 -.5l.3 -.3l.4 .2zM71.4 676.2l-.9 -.1l.1 -.6zM69.7 679.4l-.5 0l0 -.4l.2 -.1zM74.3 675.8l.3 .4l-.5 .4l-.2 .1l-.5 .4l.2 -.7l.2 -.6l.3 -.2l.2 -.1zM73.2 679l-.3 -.1l-.4 -.3l.3 -1l.5 .3l.4 .4zM73.6 681.1l.5 -.4l.6 .6l.2 .7l-.8 -.1zM75 674.9l-.5 .4l-.2 -.7zM70.4 675.2l.8 .3l.8 .3l.1 .5l-1 -.2l-.5 -.2l-.7 -.4zM73 680.6l-.2 -.1l-.1 -.2l.2 -.3l.1 -.6l.5 -.3l-.1 .8l.2 .3l-.3 .5zM70.9 677.6l-.2 -.2l.3 -.4l.8 .1l.5 .4l-.2 .3l-.5 .1l-.3 .2l-.5 -.2zM72.6 678.6l.3 -.4l.3 .5zM74.8 676.5l.5 .3l-.3 .2zM73.4 681.1l.1 .3l-.3 .1l-.1 -.3zM71.8 674.6l.2 .2l-.1 .2l-.4 .4l-.3 -.2l-.1 -.2zM72 679.6l-.5 -.2l.2 -.3l.4 .2zM72.8 679.7l.6 -.8l.4 .6l-.5 .9l-.7 .2l0 -.5zM73.5 677l-.2 .5l-.2 .4l-.2 -.6l.2 -.4zM74.3 680.3l.3 .3l-.4 .5l-.5 .5l-.3 -.3l-.1 -.3l.5 -.3zM72.4 669.9l.1 .5l-.1 .3l-.2 0l-.1 -.5l.1 -.4zM74.7 674.1l.5 -.1l.4 -.3l.5 .2l-.4 .5l-.2 .3l-.5 .3l-.3 -.1l-.2 -.4zM74.3 675.8l.3 .6l-.7 0l-.4 -.1l-.6 -.6l.7 -.4zM72.3 675l.6 .1l.1 .3l-.7 -.1zM69.7 681.3l-.3 -.2l.3 -.5l.2 .3zM68.9 675.4l.3 .3l.4 .2l-.7 .2l-.6 .4l-.2 -.4l-.4 -.1l.7 -.2zM68 679.5l.2 -.6l.7 .7l0 .8l-.7 -.3zM71.8 681.4l.3 .1l-.1 .4l-.1 .4l-.2 -.4l-.1 -.4zM71.3 676.6l.2 .4l-.2 .2l-.4 .2l.1 -.5zM73 679.5l-.2 -.5l.9 .2l.2 .6l-.5 .1zM67.7 683.2l-.3 .6l-.5 .1l.5 -1zM71.1 679.8l-.3 -.2l.3 -.3l.3 .3l0 .2zM73.6 676.1l-.4 -.5l.4 -.4l.3 -.6l.3 .4l.1 .6l-.1 .4l-.2 .3l-.3 .6zM73.6 681.1l.2 .3l-.2 .4l-.4 -.2l0 -.4l.2 -.4zM70.6 682.3l.5 -.6l.5 0l-.7 1.2l-.5 -.1zM72 681.8l.2 .5l-.2 .3l-.3 0l-.1 -.4zM72.9 679.6l-.2 .4l-.1 .4l-1 0l0 -.6l0 -.4l.7 0zM70.1 677.6l-.5 -.6l.8 -.2zM68.6 677.2l.2 -.6l.4 0l.1 .4l-.4 .4l-.3 .3zM70.8 682.1l.4 -.2l-.1 .7l-.2 .5l-.3 .1l0 -.4zM72.5 675.3l-.5 -.8l.7 .1zM72.6 680.3l-.3 .2l-.5 0l-.1 -.3l.3 -.3l.6 .1zM72.7 675.3l.4 -.6l.1 .8l-.3 .4l-.3 -.1zM71.9 681.8l.2 -.4l.1 .3l.1 .2l-.2 .4l-.2 -.2zM70.3 680.2l.3 -.2l.2 -.1l.3 -.1l.6 -.1l.3 .4l-.3 .3l-.6 .1l-.3 -.2zM73.4 676l-.2 -.2l.3 -.1l.3 -.2l.2 .4l-.3 .4zM75 682.9l-.3 .7l-.5 -.8zM70 679.6l.8 0l0 .9zM70.8 674.8l.3 -.3l.3 -.2l.6 .5l.3 .4l-.8 .1zM70.2 677l.4 .4l-.5 .5zM71.6 677.4l.6 -.8l.7 .3l-.4 .8l-.4 0zM71.5 685.4l-.2 .3l-.4 .1l-.3 -.2l-.2 -.5l.5 -.2l.3 -.1l.2 .1l.4 .2zM73.3 680.7l.2 -.3l.3 .3l.3 .7l-.5 -.2zM73.5 675.8l-.3 -.4l.5 -.1l.5 .5zM71.2 678.2l.5 -.1l.7 .2l-.4 .3l-.8 -.1l-.3 -.1zM67.3 674.5l-.7 -.3l-.6 -.3l.3 -.4l.5 0l.5 .2l.2 .3zM71.1 677.1l-.6 .1l-.5 0l0 -.3l.5 -.1l.5 0zM74.4 679.7l.1 -.5l.3 0l0 .4l-.2 .6zM86.6 680.8l-1.4 .3l.3 -.9zM79.7 682l.5 -.1l.4 .4l-.6 .3zM78.7 681.7l.1 -.7l.6 -.5l.5 .1l.2 .2l-.1 .4l-.6 .4zM80.9 681.9l0 -.4l.1 -.5l.3 0l.2 .6l-.4 .2zM82.1 681.7l.5 .7l-.3 .2l-.5 -.5l-.3 -.8zM75.7 683.1l.5 .1l.5 .1l-.2 .3l-.5 0l-.5 -.2zM72.3 683.5l-.3 0l-.1 -.4l.1 -.7l.3 -.6l.2 .5l.3 -.1l-.2 .9zM71 681.3l-.5 .1l-.4 0l-.5 0l-.1 -.4l-.4 -.3l.5 -.1l.8 .1zM81.4 679.3l.4 -.2l.2 .6l.4 .4l-.1 .7l-.5 -.2l-.4 -.1l0 -.6zM82.1 680.4l.2 -.3l.5 -.1l.1 .6l-.2 .5l-.3 .2l-.3 -.3l-.4 -.3zM77.8 680.9l.6 .3l-.7 .3l-.7 .1l.1 -.4l.1 -.4zM79.4 683.6l-.5 0l-.2 -.3l.1 -.4l.6 -.1l.2 .4zM79.3 682l.2 .2l.2 .3l-.2 .3l-.3 .3l-.6 -.3l-.4 -.5l.4 -.3l.4 -.1zM81.8 681.2l0 -.4l.3 .1l.3 .2l-.3 .2zM85.4 681.2l-.3 .4l-.2 -.5l-.2 -.4l.3 0l.2 .1zM77.2 682.8l.4 -.6l.4 -.6l.2 .4l.2 0l.2 .3l-.5 .4l-.5 .7l-.3 -.3zM76.4 681.7l.6 .4l-.5 .3zM75.3 680.7l-.4 .6l-.5 .1l-.4 -.5l.6 -.4zM75.6 681.7l-.3 -.3l.1 -1.1l.4 .6zM71.8 678.8l.5 -.2l.1 .7l0 .5l-.4 .2l-.4 -.3l-.2 -.5zM77.2 682.9l.2 .6l0 .5l-.5 -.8zM79.4 681.3l-.2 -.5l.2 -.1l.4 .3l0 .4l-.1 .3zM70.7 683l.5 .2l.2 .6l-.6 -.2l-.4 -.2l-.1 -.5zM76.1 683.6l-.3 -.8l0 -.4l.6 .4l.6 .4l.6 .8l-.6 0zM82 679l.1 .9l.3 .6l-.5 .1l-.3 .6l-.2 -.6l-.1 -.6l.2 -.9zM83.4 681.3l-.3 -.5l.2 -.9l.4 -.1l.1 .3l-.1 .4zM81 681.8l-.3 -.1l-.2 -.4l.2 -.6l.3 .4l.1 .3zM81.1 680.5l-.4 -.3l.1 -.2l.3 -.1l.3 .2zM81 679.7l.6 -.1l-.1 .7l-.6 .5l-.5 0l.3 -.7zM73.7 680.7l.4 0l0 .4l-.5 -.1zM71 681.4l.5 .1l.2 .6l-.4 .1l-.6 -.4l-.1 -.5zM75.6 680.2l-.3 -.3l.5 -.8l.4 -.6l.4 0l.2 .5l-.7 .8zM81.8 680l0 -.3l.4 0l.2 .3l-.2 .3l-.3 -.1zM77.8 681.9l.3 -.3l.1 .5l-.2 1zM75.5 679.2l.4 -.9l.3 -1l.2 .7l.2 .3l-.2 .7l-.3 .7l-.2 -.3zM67.7 695.1l.2 -.2l.5 .5l-.4 .2zM66.8 699.3l.2 -.6l.5 .7l0 .6l-.2 .3l-.4 -.4zM68.5 696.2l.2 .5l-.8 .2l-.2 -.6zM69.8 695.3l-.5 .4l-.3 .4l-.6 -.3l.4 -.5l.2 -.3l.4 -.1zM67.1 687.7l.6 .2l.3 .2l0 .4l-.4 0l-.3 -.2zM66.9 689.5l-.1 -.2l.2 -.3l.3 .1l.2 .2l-.2 .3zM67.9 690.2l.1 -.3l.6 -.1l.5 0l-.4 .3l-.4 .3zM68.2 695.4l.6 0l-.2 .2l-.6 0zM66.5 691.9l-.1 -.4l.6 -.1l.4 .2l-.5 .4zM67.5 701l-.1 -.3l.5 -.7l.7 -.3l-.3 .8l-.6 .7zM67.8 693.9l.4 .6l-.3 .9l-.5 -.7zM67.1 694.1l-.6 -.5l.9 -.1zM72.4 697.1l-.6 -.4l-.4 -.1l-.6 -.8l.2 -.2l.3 -.3l.5 .6l.6 .7zM67.4 698.5l.3 -.2l.5 -.3l.3 .2l-.1 .3l-.3 .4l-.6 .3l-.3 -.3zM66.4 689.9l.5 .1l-.5 .3zM65.5 690.1l0 -1l.4 .8zM69.6 694.3l-1 -.7l1 .1zM70.7 690.2l-.7 -.3l1 0zM66.8 694.8l-.4 -.3l0 -.4l.4 0l.4 .3zM65.8 691.8l-.6 0l-.4 -.5l.2 -.4l.6 .2l.7 0l-.2 .5zM68 691.3l.3 -.3l.4 .6zM68.4 695.2l-.6 -.2l.5 -.4zM66.6 690.1l.5 .5l0 .5l.1 .3l-.2 .2l-.6 .1l-.3 -.7l.4 -.3zM68.5 692.6l-.8 -.6l.3 -1.1zM69 695l.1 .5l-.5 .4l-.4 -.1l.2 -.6l.1 -.5l.3 .1zM68.8 696.1l.2 .6l-.5 .5l-.2 -.5l-.1 -.4zM65.8 693.3l.7 0l-.4 .3l-.5 0zM67 695l.4 .4l-.4 0zM73.1 697.3l.4 -.6l0 .6zM71.6 687.6l-.7 -.1l-.1 -.3l.6 0l.4 .2zM66.3 689.2l.4 -.3l.5 .7l0 .5l-.3 .4l-.6 -.7zM64.9 692.7l1.2 .1l-.8 .3zM66.6 695.9l-.5 0l-.2 -.3l.3 -.5l.3 .3zM66.8 694.6l.1 -.4l.4 .3zM69.6 693.6l.3 .2l.2 .6l-.2 .2l-.3 -.4l-.1 -.4zM59.5 688.3l.3 .2l-.2 .3l-.3 -.2l-.1 -.2zM58.4 686.9l.3 .6l-.8 -.4l-.8 -.4l.3 -.3l.2 -.4l.8 .5zM52.7 684.7l-.3 -.4l-.1 -.6l.4 .4l.4 .2l0 .5zM59.9 686l-.4 .2l-.4 -.1l-.1 -.2l.5 0zM55.5 687.9l-.6 -.4l.5 -.3l.6 -.2l0 .5l0 .3zM56.4 684.4l-.4 .1l-.1 -1l.6 .3zM49.9 690.2l-.4 -.1l.2 -.5l.3 -.3l.1 .5zM54 690.2l-.5 -.1l.5 -.7zM56 687l.4 0l-.3 1l-.4 .7l0 -.7l.1 -.6zM56.3 687.4l.1 .2l-.2 .3l-.3 0l-.3 -.3l.5 -.2zM60.4 688.5l-.6 -.1l.3 -.4l.5 -.3l.3 .5zM52.5 684.3l-.4 -.2l.3 -.3l.4 .1l0 .3l0 .4zM56.9 686.1l.3 -.3l.5 .4zM56.6 688.3l.2 -.5l.4 .2l-.2 .4zM57 688.9l-.4 -.1l.1 -.4l.5 .2l.2 .1zM54.1 684.9l.2 -.1l-.2 .4l-.4 .4l.1 -.4zM53 686.1l-.1 .3l-.7 .4l-.2 -.3l.5 -.3zM54.8 684.9l-.1 .6l-.7 .3l-.5 -.3l.1 -.5l.7 -.3zM57.3 686l.7 -.3l.5 .5l-.8 .6zM52.4 685.7l.2 -.4l.7 -.1l-.4 .7zM49.4 686.7l-.2 -.7l.3 0l.2 .3l-.1 .5zM59.4 685.9l-.4 -.2l-.6 -.2l.1 -.4l.6 .2l.3 .3zM53.5 682.9l.6 .3l-.6 .5zM54.2 687l.8 -.1l.5 .4l-.7 .6l-.6 -.4zM52.5 688l-.2 .4l-.3 0l-.3 -.1l.1 -.6l.3 -.5l.5 0l0 .5zM52.1 687.7l-.2 .3l-.4 .1l-.3 -.5l.6 -.2zM57.5 683l-.5 1.1l-.6 -1.1zM50.7 682.8l.7 .5l-.1 .4l.3 .7l-.5 -.2l-.4 -.4l-.5 -.5l.3 -.1zM55.3 687l-.3 .3l-.5 .1l-.3 -.2l.5 -.1zM54.1 686.9l.6 0l.1 .7l-.5 -.1zM39.5 685.6l.6 .7l-.9 .5l-.3 -.8zM40.4 687l.3 -.5l.1 .3l.3 .1l-.1 .6l-.4 .3l-.2 -.1l-.3 0l0 -.4zM38.7 687.7l-.2 -.8l.2 -.6l.5 .8zM41.2 686.3l.1 -.5l.4 .3l.2 .5l-.1 .3zM39.2 686.1l-.2 .3l-.8 .3l-.3 -.5l.7 -.3l.5 -.1zM40.7 686.1l.3 -.4l.9 1zM43.1 687.2l0 .6l-.7 0l-.8 -.4l0 -.5l.1 -.4l.7 .4zM38.8 686.4l.9 .1l-.4 .2zM36.1 685.6l.4 -.4l0 .4l.5 0l-.2 .5l-.6 0l-.2 0l-.2 0l0 -.3zM45.7 684.7l0 .4l-.5 .1l-.3 -.2l0 -.3l.3 -.3zM44.4 686.6l-.7 .2l-.1 -.3l.6 -.5l.5 -.1l.5 .2zM40.3 687.2l.1 -.3l.3 0l.2 .2l-.2 .3l-.4 0zM42.2 686.6l-.2 .6l-.4 -.3l.1 -.5zM38.1 687.3l-.6 -.1l.3 -.4l.6 .2l.4 .4zM36 685.8l.4 -.3l.4 -.1l.1 .4l-.3 .4l-.5 .2zM44.6 687.3l-.8 0l-.3 -.5l.6 -.1zM44.7 693.4l-.8 -.2l.2 -.8l1 .5zM45.9 692.2l-.8 0l.2 -.2zM45.9 692.4l.1 .5l-.3 .2l-.6 -.4zM44.9 693.2l.6 .1l-.7 .3zM46.9 694.3l.1 -.3l.6 -.2l.3 .1l-.4 .4zM46.6 692.9l.1 .3l-.5 .5l-.4 .1l.1 -.6l.5 -.4zM46.7 692.9l-.2 -.6l.7 .1l.2 .4zM44.8 692.3l.6 .2l-.3 .5l-.4 .2l-.5 -.3l.3 -.5zM43.3 695l.5 0l.4 .3l-.3 .2l-.6 0zM46.2 693.2l.4 -.3l.1 .3l-.3 .4l-.4 .3l-.1 -.3zM20.1 652.3l.4 -.4l.1 .5l-.2 .3zM20.1 656.4l.3 -.1l.1 .2l-.1 .5l-.5 .2l0 -.5zM22.7 654.4l-.1 .4l-.3 .5l-.4 .2l0 -.7l.3 -.7l.4 -.5l.1 .5zM24.7 654.5l0 -.7l.7 .4zM24.1 655.6l.3 .2l.1 .3l-.3 .1l-.3 -.4zM18.2 648.6l.1 -.2l.2 0l.4 .2l0 .2l-.2 .1zM25.6 647.8l.3 -.8l.3 -.1l.2 .5l-.1 .9l-.4 -.2zM21.4 653.1l-.6 -.1l-.1 -.3l0 -.3l.4 .2l.5 .2zM20.8 650.8l.2 1.1l-.6 -.7zM21.2 653.4l-.6 .8l-.3 -.4l.7 -.8zM21 648.1l.4 -.2l.5 .2l.3 .6l-.5 .5l-.5 -.2l-.3 -.4zM21.2 652.3l-.1 -.8l.5 .5l.3 .5l-.3 .1zM24.2 656.3l-.4 -.2l.2 -.2l.6 0l0 .3zM28.3 650.6l-.2 .8l-.3 -.6l-.1 -.3l0 -.3l.1 -.4l.4 -.4l.1 .6l.3 .3zM18.5 644.4l.5 -.2l.1 .2l-.6 .4l-.5 .1zM16.9 653.2l.3 .3l-.3 .1l-.4 .1l.1 -.4zM7.5 644l.1 -.2l.7 .2l-.4 .3zM18.5 654.1l-.1 .4l-.2 -.5l0 -.4zM17.7 651.5l.6 0l.1 .3l-.6 .7l-.3 -.3zM23.4 650.4l.3 .2l.2 .3l-.6 .1l-.5 .1l-.6 -.2l.7 -.3zM20.3 654.6l-.3 -.4l.4 -.2l.3 .5zM18.9 649l-.4 0l-.1 -.2l.5 -.3l.3 0zM26.1 647.5l-.4 -.1l-.2 -.5l.2 -.2l.4 0l.3 .5zM23.7 650.2l.3 .6l-.7 .4l-.6 -.4l.4 -.5zM25.2 653.1l.7 -.3l0 .3l-.4 .4l-.3 .1zM22.8 653.1l.7 .8l.2 .8l-.2 .2l-.5 0l-.5 -1l-.2 -.8zM12 651.4l-.2 0l0 -.4l.2 -.4l.2 .1l0 .3zM21.5 651.9l.2 -.4l.4 -.1l.3 .1l.4 .1l-.4 .4l-.2 .2l-.3 .3l-.4 0zM23.4 656.1l-.1 0l-.1 -.3l.2 -.5l.2 .2l0 .4zM25.9 642.4l.3 .5l-.1 .3l-.4 .2l-.3 -.3l-.5 -.3l.5 -.1zM20.7 647.7l.9 .2l.5 .6l-.4 .1l-.8 -.1zM21.8 652.3l-.5 .3l0 -.7l.4 -.1zM23.2 645.8l-.3 1l-.4 -.6l-.4 -.7l.4 -.9l.5 .2zM24.2 648.8l.4 0l.5 .1l-.6 .5l-.6 .3l.2 -.5zM22.5 650.8l.3 -.4l.3 .3l-.4 .4zM19.4 657.4l-.2 .5l-.5 .1l-.4 0l-.3 -.2l.5 -.5l.6 -.1zM25 647.4l.3 -.5l.4 .3l0 .7l-.4 .1zM20 654.1l-.3 -.2l.2 -.3l.6 -.1l.1 .4zM20.4 647.7l0 .4l-.6 .1l-.6 -.2l.4 -.3l.3 0zM21.4 652.4l0 .4l-.4 -.1zM19.7 653.6l-.1 .8l-.8 -.9zM24.1 648.6l-.8 .1l.1 -.6l.8 -.2zM23.8 651.3l-.2 -.1l0 -.5l.2 -.1zM23 650.1l.3 .6l-.4 .4l-.4 .3l-.2 -.5l-.1 -.6l.3 -.4zM27.7 647.8l.2 .1l.2 .3l-.4 0l-.3 -.2zM23.4 646.5l-.3 .1l.1 -.8zM25.9 650.8l.5 -.1l-.1 .7l-.6 .1zM23.2 648.4l.7 -.5l.9 .1l-1 .8zM24.9 650.8l.1 -.4l-.1 -.2l.3 -.3l.4 0l.2 .2l.1 .1l-.2 .3l-.4 .4zM21 657.7l.3 .7l-.5 -.4l-.6 -1zM19.9 648.5l.4 .3l-.3 .9zM19.1 650.1l-.4 0l-.2 -.4l.1 -.3l.4 .3zM22.1 647.8l.6 .3l.3 .1l.6 .4l-.6 0l-.2 .2l-.5 -.1l-.1 -.4zM19.1 654.8l.2 -.1l0 .4zM22.4 653.4l.5 -.5l.7 -.1l-.5 .5zM69.2 648.3l-.3 -.3l.4 -.1l.3 .1l-.1 .4zM72.1 649.3l.1 .5l-.2 .7l-.3 -.7l-.2 -.8l.4 -.6zM70.3 644.4l.2 -.3l.2 .4l0 .3l-.2 0zM66.3 647.7l.2 -.1l.2 0l-.1 .2l-.2 .2l-.2 -.1zM70.7 647.1l.1 .3l-.7 .3l.2 -.5zM70.4 648.6l.1 .4l-.3 .8l-.3 0l.1 -.9l.2 -.8zM76.9 649.7l-.4 .7l-.8 -.3l.5 -.8zM76.1 647.5l-.2 -.2l.3 -.2l.1 .1l.1 .3zM65.9 643.5l-.1 -.4l.4 -.1l.2 .5zM69 652.1l-.9 -1l1.1 .4zM72.1 641.2l-.1 .3l-.4 -.2l.3 -.3zM73.2 646l-.5 -.2l.3 -.3l.2 -.1l.2 .2zM74.6 646.5l-.1 -.1l0 -.2l.1 -.2l.3 .1l-.1 .3zM74.4 650.7l.6 .2l0 .3l-.7 -.2l-.3 -.2zM73.8 651.5l.4 -.3l.5 .2l-.2 .6l-.6 -.1zM68.2 649.9l.3 .3l-.1 .2l-.4 -.3zM68.2 645.8l-.3 .1l-.3 -.2l0 -.7l.6 0l.2 .4zM73.3 645.9l-.3 .3l-.4 .2l-.5 .1l.1 -.5l.7 -.5l.5 0zM69.8 646.5l.3 .6l-.4 -.1zM66.5 646.5l.1 .4l-.5 0l-.4 -.4l.4 -.3zM68.3 646.6l.2 -.3l.3 .5l-.2 .4zM80.1 652.4l-.5 -.1l-.1 -.5l.1 -.3l.6 .6zM76.1 645.3l-.1 .3l-.4 .3l-.8 -.2l.4 -.3l.4 -.2zM74.8 649.5l.1 -.6l.3 .3l.1 .5l-.1 .5l0 .7l-.3 -.4l-.2 -.2l-.2 -.6zM71.7 645.1l.3 .3l.4 .2l-.4 .5l-.6 .3l-.3 -.4l-.6 -.2l.8 -.3zM70.6 646.9l-.4 0l.1 -.4l.6 -.1l.1 .3zM74.7 647.4l.6 0l-.1 .4l-.6 0zM78 650.5l-.9 0l-.3 0l-.4 -.2l0 -.6l.8 -.1l.2 .5zM69.6 648.4l.7 -.7l.7 -.2l-.4 .8l-.2 .5l-.5 0l-.5 .2zM76.2 648.8l.4 .1l.2 .2l-.7 .2l-.7 .3l.2 -.4l-.3 -.4zM82.9 644l.3 .1l-.1 .6l-.3 -.1l-.4 0l.2 -.4zM69 648.9l-.2 .3l-.2 -.1l-.1 -.3l.2 -.5l.5 .1zM74.5 646.6l.3 -.6l.3 -.1l.2 .1l-.2 .4l-.3 .3zM67.5 645.4l.5 -.8l.3 .4zM69.5 645.7l-.1 -.7l.4 .6zM69.5 649.7l-.6 -.4l.6 -.4l.8 .5zM67.9 648.2l.1 .3l-.3 .2l-.3 -.2l.3 -.3zM65.8 647l.6 -.3l.4 .3l-.5 .4l-.7 .1zM72 650.7l-.6 -.6l.6 -.3l.3 .2zM76 647.5l-.2 -.2l0 -.4l.4 -.1l.4 0l.3 .2l-.4 .3l-.2 .4zM77.4 643.3l-.7 .4l-.3 -.8zM69.5 646.6l.4 .5l-.6 .1l-.6 -.2l0 -.3l0 -.4zM70.5 641.1l-.4 -.9l1 .1zM76.2 648.9l-.1 .7l-.3 -.3l-.3 -.4l.3 -.5l.2 -.1zM70.8 641.7l-.4 .4l-.4 .2l-.1 -.7l.4 -.1zM93.3 647.3l0 .4l-.6 .1l0 -.5l.2 -.5zM86.2 643.9l.3 .2l.1 .2l-.5 0zM78.7 643.2l.6 .8l-.7 .3zM86.9 646.3l-.3 -.2l-.2 -.5l.3 .1zM84.1 645.3l.1 .2l0 .2l-.5 0l-.3 -.1l.3 -.2zM91.4 646.7l-.6 .7l-.1 -.6l.1 -.5l.4 -.6l.2 .2zM76.4 644l.5 .1l.3 .9l-.6 .1zM82.9 645.2l0 .6l-.3 -.1l-.3 -.2l-.2 -.4l.2 -.1zM86.1 643.5l.2 -.3l.4 -.1l-.1 .3zM91.4 643.6l-.2 .5l-.8 .1l.5 -.7zM86.7 644.7l.2 .4l-.4 .2zM80.3 642.5l-.1 -.3l.2 -.1l.4 .2l-.1 .2zM88.3 646.6l-.2 .1l-.3 -.1l-.4 -.2l.1 -.5l.4 -.3l.4 .2l.3 .2l.1 .4zM86.3 643.2l.1 -.3l.2 0l.3 .2l-.1 .3l-.3 .2zM87.6 645.3l-.4 -.1l-.4 -.2l0 -.4l.7 .3l.4 .3zM83.7 642.7l.3 .3l-.8 .6zM87.2 644.5l-.2 .4l-.4 -.2l.3 -.3zM78.1 645.1l.7 -.4l.4 .3l-.4 .5l-.6 .1zM81.2 643.4l-.1 .1l-.2 0l-.4 -.3l.3 0zM86.6 643.3l.1 -.2l.3 .2l-.3 .4zM78.6 647.5l-.1 -.2l.1 -.2l.4 -.3l.8 -.2l0 .4l.3 .1l-.3 .3l-.7 .3zM82.1 648.3l-.4 .4l-.7 .2l0 -.3l.5 -.2zM82.4 644.5l0 .2l-.3 -.1l-.1 -.2zM80.2 644.4l-.2 -.4l.1 -.4l.4 -.4l.2 .6l.2 .5zM86.6 645.4l.1 0l-.1 .3l-.1 .5l-.1 -.4l.1 -.3zM38.7 670.6l.3 .3l0 .5l-.5 0l-.3 .2l-.4 -.1l-.1 -.4l0 -.5l.5 -.1zM38.5 674.6l.7 -.5l.2 .3l-.8 .8zM37.7 671l.5 .4l-.1 .7l-.6 .1l-.6 -.1l.4 -.5zM35.9 674.1l.2 .8l-.5 .2l-.5 .3l-.3 -.6l.2 -.5l.3 -.1zM38.7 675.8l-.4 1l-.7 .5l-.2 -.7l.2 -.8l.5 -.8l.4 .2zM43.2 673.3l-.4 .3l-.3 .1l-.2 -.4l-.1 -.3l-.2 -.4l.3 -.4l.4 .2l.2 .4zM37.6 668.5l.1 1l-.3 -.2zM36.4 670.4l.5 .6l-.6 0zM40.9 672.4l0 .8l-.6 -.1l-.1 -.7l-.3 -.5l.4 -.3l.5 .2zM36.9 673.2l.3 .2l-.4 .1l-.3 -.3zM39.5 669.7l.3 0l.5 .1l.7 .8l.3 .8l-.7 -.4l-.5 -.1l-.4 -.7zM40.9 669.9l-.6 .3l-.5 -.8zM38 665.6l.5 -.6l-.3 1zM40.3 670.3l.2 .3l.2 .3l-.4 0l-.5 0l.3 -.3zM43 671l.1 .7l-.8 -.4zM35.8 671.8l-.3 -1.2l.6 .2l.6 1l-.1 .7l-.4 -.2zM42.3 668.5l.1 .4l-.3 0l-.2 -.3l-.1 -.3l.2 -.2zM38.7 672.7l.5 .4l-.7 .6l-.8 -.1l-.1 -.4l.5 -.4zM39.7 670.9l.1 -.5l.3 -.3l.2 .5l.3 .6l-.4 .1zM40.4 671.6l.5 .4l-.6 .3l-.6 .3l0 -.7l.3 -.3zM39.2 671.8l-.6 -.2l-.3 -.6l.6 .2zM43.7 675.5l-.3 -.5l0 -.5l.7 -.4l.4 .5l0 .6zM34.8 674l-.1 .9l-.5 -.5zM44.5 668.4l.3 -.5l-.1 .5l-.1 .3l-.4 .4l-.2 -.4zM36.7 670.8l1 .3l-.4 .6zM62 669.4l.5 .2l-.1 .3l-.6 -.1zM64.8 678.1l-.6 -.3l.4 -.2l.6 .2zM48.5 674.4l-.1 -.1l.1 -.2l.3 .1l0 .3zM44.7 678.5l-.2 -.4l.5 0zM76.1 685.8l-.2 .2l-.3 -.2l-.2 -.5l.3 -.1l.3 0zM63.9 684.4l.2 -.7l.3 .4zM52.4 685.8l.4 -.4l.3 .1l-.4 .4zM54.7 676.6l-.2 -.1l-.1 -.1l.1 -.2l.1 .1l.1 .1zM71.7 676.2l-.2 .2l-.2 0l-.1 -.2l.2 -.1zM61.2 697.1l-.4 -.2l-.3 -.3l.3 0l.3 .1l.1 .2zM57 693.4l-.4 -.3l.4 .1zM59.6 680.4l.5 .3l-.5 .1zM61.4 676.6l-.2 -.3l.4 0l0 .2zM55.4 675.8l.4 -.4l.3 0l.3 .1l-.3 .4zM54.9 667.6l.4 0l.1 .3l-.2 .3l-.2 -.1zM61.2 678.5l.2 0l-.2 .6l-.2 -.1l0 -.2zM71.1 664.5l-.3 -.3l.4 0l.2 .2zM53.8 678.1l-.1 0l-.1 -.4l.3 -.1l0 .3zM70.6 673.2l-.3 -.2l-.2 -.3l.2 -.2l.2 .1l.3 .2zM57.7 671.3l.3 .7l-.5 -.4zM68.3 672.6l-.2 .1l-.2 -.1l0 -.3l.2 -.1l.2 .1zM32.5 665.3l-.1 .4l-.5 -.2l.3 -.4zM66.6 676.2l-.9 -.2l.1 -.4l.8 0zM58.2 687.6l-.5 .3l-.2 -.4l.3 -.6l.4 .1zM68.3 664.8l.1 -.1l0 -.3l.5 .1l.3 .1l-.4 .2zM67.2 671.9l-.3 -.4l0 -.3l.3 .3zM66.3 689.2l-.2 .5l-.2 -.5zM67 679.9l-.3 -.1l-.2 -.5l.2 -.3l.4 .5l.2 .4zM68.3 668.7l-.6 .5l.6 -1.4zM56.1 692.5l-.5 -.2l-.3 -.2l.5 -.1l.6 0l-.2 .2zM60.2 687.8l0 -.2l.3 .3l.1 .4l-.2 -.1l-.1 -.1zM55.9 682.7l-.7 -.4l.5 -.3zM50.6 689.6l.5 -.3l.3 .6zM52.5 677.1l.3 -.4l.2 0l-.4 .5zM45.1 678.7l-.5 -.4l.7 -.2l.4 .7zM55.2 670.4l-.2 -.4l.4 .2l.1 .3l.2 .4l-.4 -.2zM50 682.8l.2 -.4l.3 .4l-.1 .5zM69 680.6l.5 .4l-.1 .9l-.4 -.4zM57.1 677.8l.4 -.2l.5 .1l-.5 .2zM42.5 673.7l-.3 .1l.2 -.4zM66.8 682.4l.7 .5l.1 .6l-.7 -.3l-.5 -.5zM61.3 671.8l-.1 .5l-.6 .1l-.1 -.5zM63.6 677.2l0 .2l-.2 .3l0 -.3zM70.4 668.1l-.4 .8l-.6 -.6zM77.2 674.3l.5 .1l-.5 .1zM61.9 670.6l-.4 -.5l-.5 -.6l.5 .1l.4 .3l.4 .7zM57.7 688.8l-.1 -.3l.4 -.1l.2 .2l-.2 .3l-.3 .2zM65.3 679l-.2 -.3l.3 -.2zM55.4 671l0 .3l-.4 .2l-.5 -.2l.2 -.2zM58.9 657.5l.6 .2l-.3 .6zM85.7 693.8l.2 .4l-.6 .1l-.1 -.5zM56.3 684.1l.3 .4l-.3 0l-.2 -.3l0 -.1zM60.2 670.2l.3 -.4l.3 -.1l.2 .1l-.5 .4l-.2 .1zM51.4 668.9l-.1 .2l-.3 -.4l.2 -.2zM55.9 669.8l0 -.6l.3 0zM45.5 686.6l-.3 -.1l-.2 -.1l-.2 -.2l.4 0l.2 .2zM67.2 669l.1 -.1l.2 0l.2 .3l-.3 .1zM62.3 666.7l.2 -.3l.2 .3l-.1 .4l-.2 -.1zM70.8 692.7l.1 -.5l.6 .1l-.2 .6zM52.2 683.1l0 .1l-.1 .1l-.1 -.1l0 -.2l.1 0zM65 548.4l.1 -.4l.2 -.4l.4 .3l.4 .6l.1 .5l0 .5l-.4 -.3l-.4 -.1zM66.6 545.7l.4 0l-.7 .5zM74.4 543.4l-.4 .3l-.5 .2l-.3 -.6l0 -.4l.4 .1zM68.4 540.9l-.7 .1l-.5 .2l-.3 -.3l-.4 -.3l.6 -.2l.5 -.2l.4 .3zM68.7 543.9l-.6 -.6l.3 -.3l.5 .2zM69.2 548.4l-.2 -.4l.2 -.4l.3 .2l-.1 .3zM75 543.1l-.2 .6l-.4 .6l.1 -.6zM83.8 540.1l.5 .4l-.7 .1l-.9 -.7l.6 0zM65.1 548.6l-.6 .5l-.6 -.6l.7 -.4zM76.4 545.2l-.6 -.5l.2 -.3zM67.3 546.8l.2 .5l-.3 .3l0 .5l-.3 -.3l-.4 -.1l-.3 -.5l.3 -.5l.4 .2zM77.8 542.3l-.3 .4l-.1 -.3l.2 -.3l.3 -.2zM80 547.9l.2 -.4l.3 .3l-.1 .3zM77.9 546.5l-.3 .2l0 -.4l.2 -.2l.1 .2zM79 541.6l.1 -.4l.4 -.1l.5 .5l.2 .5l-.5 0zM75.1 542.2l-.3 -.2l0 -.1l.2 -.2l.3 .1l-.1 .2zM59.9 539.2l-.1 .7l-.5 .2l-.3 -.3l.3 -.6zM81.2 547.3l.8 .1l-1.1 .7zM57.2 545.8l-.7 .3l-.3 -.4l.4 -.3l.5 -.3l.4 .4zM62.6 538.5l-.1 -.2l.3 -.4l.5 -.3l.1 .2l-.2 .4zM81.5 547.1l0 .5l-.5 -.6zM72 545.5l-.2 .2l-.4 .2l-.4 -.2l.2 -.1l.3 -.2zM81.6 540.2l.4 0l-.2 .7l-.4 .7l-.1 -.8l.1 -.5zM84 552.7l-.8 -.2l.5 -.2l.4 .1zM72.8 546.5l0 .4l-.2 .3l-.4 .3l-.3 -.3l-.3 -.3l.3 -.6l.5 .2zM72.9 548.8l.3 .3l0 .5l-.3 .1l-.2 -.4l-.2 -.5zM88.9 545.8l.1 .1l-.1 .5l-.2 -.3l0 -.2zM72.6 549.7l-.1 .2l-.2 -.2l.2 -.2zM70.1 536.1l-.3 0l.1 -.3l.2 -.1l.1 .2zM62.8 541.3l-.8 -.2l0 -.4l1.1 0l.8 .1l-.3 .4zM77.6 547l.2 -.5l.3 .3l.1 .7l-.4 .2zM61.8 545.7l-.5 0l-.3 -.5l.2 -.5l.4 -.1l.4 .1l.5 .2l-.1 .4l-.1 .5zM64.6 544.9l.2 -.2l.4 .4l0 .5l-.5 -.4zM70.4 537.9l.1 .4l-.3 .1l-.5 -.3l-.1 -.4l.3 0zM78 542.5l-.1 -.4l.5 .2zM74.9 540.2l-.5 0l.7 -.5zM72 540.5l.5 .1l.2 .2l-.2 .3l-.6 .6l-.4 -.5zM78.9 546.3l.7 -.4l.1 .3l-.1 .3l-.5 0zM68.1 539.8l-.1 0l-.4 -.1l0 -.6l.4 -.1l.2 .5zM66.3 551.2l-.7 .5l-.2 -.6zM80.9 543.7l.7 -.9l.3 .7zM72.1 541.7l.4 -.2l.8 -.3l.7 .2l-.5 .5l-1 .2l-.5 -.2zM76.3 536.7l-.1 .3l-.5 .3l-.6 -.1l.4 -.4l.2 -.5l.4 .3zM62 541.2l.5 -.2l.2 .4l-.2 .3l-.5 -.2zM66.2 544.3l-.1 .5l-.5 -.2l.2 -.4l.3 -.2zM60.3 506l-.3 -.3l.6 .1zM46.2 502.4l-.1 .5l-.3 .2l-.4 -.3l.3 -.4zM45.4 514l.8 .1l-.7 .4zM53 512.5l-.5 -.1l0 -.5l.1 -.3l.5 0l0 .5zM47.7 505.9l.1 .2l-.1 .3l-.3 .1l-.2 -.1l.2 -.3zM52.2 508l.1 -.3l.5 -.2l.2 .2l-.2 .4zM38.6 513.8l.1 -.6l.1 .5l-.2 .6zM55.7 513.2l.3 .2l.3 .4l.2 .7l-.4 -.2l-.3 -.5zM56.2 505.3l.7 -.8l.2 .7zM51.9 509.2l-.2 -.4l.1 -.7l.4 -.1l.3 .9l-.3 .7zM39.8 515.2l.3 .3l-.6 .1zM48.6 510.3l.4 -.3l.4 .1l-.4 .3zM59.2 509.7l-.6 .2l-.8 0l.1 -.4l0 -.3l.4 -.1l.5 0l.1 .2zM45.8 517.4l.3 -.6l.3 -.4l.6 .3l-.2 .9l-.5 .4zM56.7 511.2l-.3 0l.3 -.6l.3 -.2l0 .6zM48.4 506.6l-.3 -.9l.5 0zM55 519.5l.3 .3l0 .4l-.4 0l-.2 -.1l.1 -.3zM54.5 507.7l0 .3l-.3 .3l-.1 -.2l0 -.3zM52.8 517.5l.3 -.1l.3 .4l-.4 .3l-.2 -.4zM48.6 512.1l-.8 -.1l.4 -.2zM53.8 516.9l-.8 .4l-.1 -.8zM39.7 517.1l-.2 -.3l.3 0l.4 .3l0 .3zM47.2 502.2l-.2 .6l-.4 .1l.1 -.5zM45.2 505.2l.3 -.3l.1 .4l.2 .5l-.5 -.1l-.4 -.2zM44.8 517.4l-.4 0l-.4 -.1l-.1 -.3l.5 .1zM54 513.3l-.3 .1l-.4 -.6l-.7 -.8l.6 0l.6 .5l.3 .5zM57.9 507l-.1 -.6l.4 .3l.2 .6zM42.4 518.4l.2 .5l-.5 -.5zM41.7 512.4l.5 -.1l-.1 .6l-.3 0l-.3 -.2zM45.6 513.6l.1 -.4l.2 -.6l.4 .5l0 .4l-.3 .5zM54.5 511.8l.1 .4l-.4 .2l0 -.4zM44.2 509.8l-.7 0l.6 -.6zM47.2 504.2l-.4 -.7l.6 .3zM44.9 503.8l.5 0l-.3 .5l-.3 .6l-.7 -.5l.4 -.6zM41.8 509.6l-.3 0l.1 -.2l.4 -.1zM89.9 513.5l.1 0l.2 .1l.3 .2l-.4 0l-.2 -.1zM83.6 515.5l.3 .1l.2 .7l-.2 .4l-.3 -.2l-.1 -.7zM92.2 512.1l-.4 0l-.8 -.6l.8 .2zM81.3 505.5l.1 -.4l.4 .2l.3 .7zM83.4 512.2l0 -.4l.3 -.3l.5 .1l-.4 .4zM91.3 511.4l.1 -.8l.7 .3l-.1 .7l-.2 .5zM85.6 510.9l.2 .7l-.3 0zM81.4 510.6l.1 1.2l-.8 -.8zM80.7 509.3l.6 -.4l.5 .3l.2 .7l-.8 .1zM85.4 516.5l.4 0l.2 .4l-.3 .4l-.4 .1l-.2 -.5zM86.7 511.8l.5 .4l-.2 .5l-.7 -.4l-.3 -.3l.2 -.2zM88.6 512.5l-.3 -.2l.4 -.9l.5 -.4l-.2 .8zM77.9 510.7l.2 -1l.6 .4zM84.8 514.3l.2 -.1l.4 .1l.3 .4l.4 .7l-.5 .1l-.5 -.5l-.3 -.4zM77 510.7l.2 0l.1 .2l.1 .1l-.3 0l-.3 -.3zM95 511.9l-.2 -.1l.1 -.3l.2 -.1l.1 .1l.1 .2zM89.9 514.8l.3 -.3l.3 .5l.3 .5l-.3 .4l-.1 .5l-.3 .1l0 -.8l-.1 -.3zM85.3 515.2l-.7 -.5l.3 -.2l.3 .2zM82.9 513.7l-.2 -.1l-.2 -.6l.3 -.2l.3 .6zM87.4 514.3l.3 0l.2 .7l-.3 .1zM82.5 509.5l-.4 .5l-.3 .2l-.1 -.4l.4 -.4zM76 511.2l-.1 -.1l.2 -.4l.2 -.1l.1 .2zM81.4 505.7l.3 .1l.3 .4l-.4 -.2zM78.1 509.7l.2 .5l-.6 -.5zM77.8 517.3l.6 -.6l.2 .8zM98.9 515.8l-.1 -.3l.4 .3zM89.4 504.7l.4 -.1l.2 .3l-.5 .1zM86.9 508.2l-.3 .4l-.6 .2l-.1 -.4l.7 -.5l.4 .1zM73.6 510.2l.6 -.2l.9 .2l-.4 .6l-.7 0zM88.9 513.9l-.4 -.2l-.1 -.5l.8 -.2l.7 -.1l-.4 .5zM240.1 544l.2 -.2l.4 .2l-.3 .4zM242.5 547.9l-.2 -.1l0 -.7l.3 .2l.1 .5zM244.6 550.8l.5 -.2l.8 .9l-.2 .5l-.7 -.2l-.5 -.6zM243.6 556.4l-.8 .8l.3 -.8zM242.5 537.6l-.1 .4l-.3 .2l-.5 .4l.4 -.8l.2 -.6l.5 -.4zM238.8 544.8l.1 .4l-.1 .4l-.2 0l.1 -.4zM252.1 536.6l.3 -.3l0 .5l0 .6l-.3 -.2l-.2 -.3zM242.5 555.5l-.1 -.5l.5 -.2l.4 -.1l.5 .2l.4 .4l-.1 .3l-.4 .2l-.5 -.2zM247.9 564.4l-.2 .2l-.4 .3l-.6 -.3l.4 -.4l-.2 -.6l.6 .3l.5 0zM243.9 573.8l.3 0l.1 .2l0 .4l-.7 .2l-.6 .1l-.4 -.1l.4 -.4l.4 -.3zM239.9 556.9l-.4 -.2l.2 -.6l.2 .3zM247.7 541.5l-.4 .1l-.1 -.4zM243.8 528.9l-.2 -.2l.4 0l.3 .2l-.2 .1zM249.5 558l.2 .5l-.5 -.3zM244.6 545.2l0 -.5l.3 -.4l.1 .3l-.1 .4zM243.6 543.5l-.1 -.4l.5 .3zM247.2 560.8l0 .5l-.5 -.1zM240.5 529.7l-.5 -.4l.3 -.3l.5 .4l.3 .4zM248.4 567l0 .8l-.5 -.6l-.2 -.8l.5 0zM238 542l-.2 .7l-.4 .4l0 -.5l.3 -.5zM240.1 574.5l-.2 .3l-.3 .4l-.1 -.2l.2 -.3l.2 -.1zM239.3 538.1l.2 .4l-.5 0l-.1 -.3zM248.2 553.6l.3 .3l0 .3l-.6 .1l-.1 -.6zM243.4 548.4l.2 -.6l.5 0l.4 .2l-.1 .5l-.4 0zM243.9 568l.4 .2l-.1 .4l-.1 .6l-.6 -.1l-.6 -.3l.6 -.5zM243.2 543.4l-.3 .1l0 -.2l.4 -.2l.2 .1zM248.5 553.6l1 .5l-.2 .4l-1.1 -.6zM242.6 560.8l.1 -.5l.4 .4zM243.9 549.6l.5 .1l-.1 .5l-.1 .6l-.4 -.3l-.1 -.4zM241 544.2l-.2 .2l-.3 -.3l.3 -.5zM241.9 546.1l.3 -.4l.2 -.7l.5 .1l0 .3l.4 .2l-.6 .6l-.4 -.1zM242.5 548.3l-.5 .2l-.5 -.5l.4 -.2l.5 0l.5 .4zM246.4 545.1l.3 .4l-.4 0l-.3 -.1l0 -.3l.1 -.5zM239.1 538.4l.2 -.6l.2 -.6l.2 .4l.2 .2l-.3 .5zM242.4 538.7l.3 -.5l.6 .1l.2 .6l-.6 .2l-.4 .1zM249.2 539.5l.7 -.3l.9 .7zM240.8 561.6l-.1 .5l-.5 -.2l.1 -.4zM242.9 549.8l-.6 .1l-.5 -.4l.6 -.1l.4 0zM240.7 547.4l-.4 -.2l-.2 -.3l.5 .2zM246.5 548.8l.3 -.1l.5 .5l-.4 0l-.3 0l-.4 -.3zM234.4 517l.4 .7l.1 .5l-.4 -.2l-.3 -.5l-.2 -.6zM216.7 502l-.7 .6l.1 -.8zM231.5 505.5l0 -.5l.8 0l.7 0l-.7 .5l-.9 .4zM223.6 524.6l-.4 0l.3 -.7l.4 .1zM225.1 510l-.3 -.2l.1 -.3l.3 -.1l.4 0l-.2 .4zM233 515.1l-.4 .6l-.2 -.7zM224.3 511.3l-.3 0l-.3 -.4l0 -.6l.5 .1l.4 -.3l0 .6l.2 .7zM232.5 512.6l-.2 -.2l0 -.5l.3 .2zM229.2 517.9l0 .6l-.4 -.3l0 -.3zM235 503.5l.2 -.2l.2 .3l-.3 .2l-.1 .1l-.3 -.2zM231.4 508.3l.4 .4l-.4 .4l-.4 -.5zM230.5 508.9l-.5 .6l-.8 .7l-.1 -.5l.7 -.7zM219.2 511l-.3 .2l-.2 -.6l.4 -.2zM235.9 516.8l-.1 .3l-.2 -.6l.2 0zM219.1 503.9l.1 .2l-.4 .2l-.2 -.2zM204.3 518.4l-.3 -.4l-.2 -.5l.6 -.1l.2 0l0 .4zM227.1 514.9l-.2 .4l-.2 -.5zM225.1 499.4l.3 -.1l.2 .5l-.3 .1l-.4 -.2zM233.2 501.7l-.4 .8l-.2 -.6zM226.4 503l-.3 -.3l.3 -.7l.7 .1l-.2 .5zM219 511.8l-.2 .5l0 -.6l.1 -.3zM235.5 506.7l-.3 .2l-.6 -.3l-.5 -.1l-.4 -.3l.1 -.3l.9 .1l.6 .4zM222.4 516l1.2 -.4l.6 .3l.1 .3l-.8 .2l-.7 0zM230.9 503.8l.2 0l.2 .5l-.1 .3l-.2 .1l-.2 -.5zM234.4 512.8l-.6 -.8l.4 -.7l.6 .6zM216.6 509.7l-.5 0l.3 -.5l.3 -.3l.2 .2l.1 .3zM233.1 512.6l.2 -.4l.4 -.2l0 .7l-.2 .5l-.4 0zM232.9 509.7l.4 -.1l.2 .2l-.3 .2l-.3 -.1zM216.8 509.6l.1 -.4l.2 .3l-.2 .4l-.2 0zM224.4 506l-.4 -.1l-.3 -.2l.1 -.2l.4 .3zM59.2 550.2l.3 0l-.2 .5l-.3 .1zM58.1 555.8l-.1 -.5l.4 -.3l.2 .2zM46.2 571.1l-.3 -.7l.7 0zM58.5 564.9l.1 0l-.1 .2l-.2 .1l-.1 -.3zM57.1 555.6l-.2 -.1l0 -.3l.3 .1zM53.2 553.7l-.5 .4l0 -.6l.2 -.4l.4 -.4l.2 .5zM50.2 569.5l.2 -.2l.3 .2l-.2 .3zM69.8 564.5l-.1 .4l-.2 -.4l.2 -.2zM58.3 550.4l0 -.7l.4 -.2l.7 .2l-.4 .7zM62.4 561.3l-.5 -.4l.2 -.3l.4 .5zM65.2 563.7l-1.1 .3l.7 -.6zM68.2 564.5l-.8 -.7l.9 .3zM70.3 575.1l-.4 .4l-.5 0l.4 -.3zM61.3 561.1l.1 .4l-.6 .4l-.1 -.4zM63.5 548.8l.3 -.1l.2 .2l-.2 .1l-.2 0l-.4 -.1zM53.7 572.9l0 .2l-.5 0l0 -.3zM67.9 545.2l-.3 .3l-.1 -.3l.2 -.4l.5 -.2zM46.9 564.5l0 .4l-.3 .2l-.2 -.2l-.2 -.3l.3 -.1zM62 567.3l.3 -.3l.2 .7l0 .9l-.5 -.2zM58.6 553.6l.2 .3l-.3 .1l-.4 .1l-.2 -.2l.2 -.2zM52.6 557.7l-.2 -.6l.2 -.4l.5 .4zM61.9 559l-.3 -.5l.9 -.3l.2 .5zM61.7 568.9l-.2 -.1l0 -.3l.3 0zM50.5 560l0 -.3l.5 .1l-.1 .4zM59.5 548.6l.3 .5l-.4 .3l-.2 -.4zM179 543.1l.6 -.3l-.5 .8zM186.4 546.6l-.4 0l-.3 -.5l.5 -.3l.4 .4zM188.2 546.1l.1 .2l-.3 .1l-.2 0l0 -.3l.3 -.2zM182.6 544.5l.3 .3l.2 .6l-.7 -.3l-.1 -.4zM184.3 543.8l.6 -.3l.2 .6l-.1 .5l-.7 -.1zM180.7 537.6l.6 -.1l-.2 .5l-.3 .4l-.4 -.3zM172.9 558.6l.1 -.1l.2 0l.3 .1l0 .2l-.3 0zM171.7 546.4l-.3 -.8l.4 0zM208.8 545.1l-.2 -.3l.2 -.2l.2 .2zM198.1 548.6l.1 -.4l.2 .2zM185.4 543.4l-.5 .2l-.2 -.2zM180.5 543.7l-.3 -.3l.4 -.3l.2 .3l.3 .2l-.4 .2zM195.7 554l-.5 1.1l-.4 -.7zM188.1 546.9l.4 .2l.2 .6l-.3 .2l-.3 -.4zM173.4 551.2l.3 .2l-.1 .3l-.3 .1l-.1 -.3l.1 -.2zM196.1 547.7l-.5 .3l-.5 -.4l.6 -.8zM198.8 548.1l.6 -.3l0 .6zM194.5 542.1l-.1 .3l-.4 -.5zM182 539.8l-.1 .4l-.6 .4l.2 -.5l.3 -.3zM190.2 544.8l.2 -.8l.5 .8zM210.3 551.9l.4 .6l-.7 .2l-.5 -.4zM184.1 540.4l-.1 .1l-.2 -.1l-.1 -.3l-.1 -.3l.4 .3zM193.6 546.8l.2 -.2l.7 0l-.2 .2zM194 547.7l-.8 .5l-.1 -.8l.9 -.7zM180.9 548.3l.6 0l.2 .4l-.9 .2l-.5 -.3zM210.9 591.5l-.2 -.1l.1 -.2l.2 0l.1 .3l-.1 .1zM209.5 566l-.4 .1l-.2 -.1l-.4 -.5l.5 -.2l.3 .2zM216.6 576.9l.4 .4l-.6 .4l-.2 -.2zM211.2 576l-.2 -.3l.3 -.1l.1 .3zM216.6 568.9l.2 -.2l.4 .3l-.1 .3zM223.4 574.1l-.4 -.3l.1 -.1l.5 .1l.1 .3zM203.6 562l-.4 -.1l.1 -.4zM221.5 569.4l-.5 -.2l.3 -.3zM215.9 577.8l.6 -.2l-.3 .5zM221.8 581.7l-.7 -.9l.9 .2zM212.3 582.5l0 -.6l.6 0l.2 .5l-.4 .2zM216.3 582.8l-.5 .4l-.6 .1l-.4 -.3l.8 -.4zM221.6 582.6l-.3 -.6l.1 -.1l.3 .4zM217.2 570.4l0 -.5l.4 .2l.3 .4l-.4 .2zM222 588l.2 -.9l.7 .1l-.1 .5zM210 581l-.5 .7l-.5 .1l.1 -.6l.6 -.5zM214 575.3l-.8 -.4l-.4 -.7l.7 .2l.4 .3zM217.6 579.6l-.3 -.3l.2 -.1l.6 .4l.1 .5zM215.8 580l-.4 -.6l.5 .3l.3 .5zM217 573.5l-.3 -.1l.2 -.2l.4 0l.2 .1l0 .2zM220.7 563.9l.7 -.2l-.3 .3zM202.9 563.8l.3 -.3l.7 .2l-.4 .5zM215.7 564.6l.2 .1l.1 .4l-.2 .1l-.2 -.3l-.1 -.3zM208.3 562.1l-.4 .2l-.2 0l-.2 -.2l.6 -.4l.2 .2zM207.7 579l-.4 0l.3 -.3zM191.2 499.2l-.3 .8l-1.2 .7l.1 -.8zM178.7 501.2l.8 -.4l.6 .3zM190.9 497.5l.6 .3l-.5 .5l-.4 -.5zM195.3 500.4l-.1 .1l-.1 -.1l.1 -.2l.2 -.2l0 .2zM187.5 498l0 .1l0 .2l-.2 -.1l-.1 -.1l.1 -.1zM178.7 496.9l.3 -.2l.5 .3l-.1 .4l-.2 .3l-.3 -.4zM189 499.2l-.6 -.5l.6 -.2zM194.2 504.2l-.1 -.4l.3 -.2l.4 .6zM188.8 500.9l1.1 .3l-.5 .4zM192.4 497.9l-.3 -.4l.5 -.1zM184.3 497.6l-.2 -.3l.2 -.2l.8 .1l0 .4zM188.6 502.7l.4 -.3l-.1 .8zM182.2 503.6l.2 -.5l.5 -.3l.4 .1l-.4 .4l-.4 .3zM182.2 498.1l.3 -.2l.5 .1l-.1 .4l-.3 .3l-.4 -.2zM187.1 494.1l-1.1 -.3l.7 -.4zM173.7 497.4l-.6 .6l-.1 -.5l.3 -.3zM187.4 507.6l-.3 .4l-.4 .1l0 -.5l.4 -.1zM190.3 494.2l.3 0l-.2 .4l-.3 .5l-.5 0l.2 -.7zM178.3 497.9l.4 0l.1 .4l-.2 .3zM178.1 506.5l.4 0l0 .2zM185 497.8l-.3 -.2l-.2 -.4l.3 -.1l.2 .4l.3 .4zM180.8 502.3l-.6 .2l0 -.4l0 -.3l.4 -.1l.3 .2zM194.7 501.1l-.9 0l.8 -.8zM167.4 497l.8 -.4l.3 .3l-.6 .5zM180.1 496.9l-.5 -.2l-.2 -.3l.3 -.2l.6 .1l.3 .5zM92.2 498.7l.4 .1l-.4 .1zM94.2 501.7l.3 -.2l.4 .4l-.4 .1zM103.7 500.6l-.2 0l-.4 -.2l.2 -.4l.4 -.1l0 .4zM109.2 502.5l0 -.5l.3 0zM99.1 500.7l-.1 .3l-.4 .1l0 -.7l0 -.3l.3 .2zM95.4 497.2l.4 -.3l.6 .2l-.4 .4zM86.2 502.1l-.8 .2l.2 -.3l.5 -.2zM71.4 500.3l.5 -1.1l.6 .1l-.5 1.2zM106.6 497.8l.3 -.7l.4 .2l-.3 1.1zM94.3 506.5l-.4 .8l-.3 -.4l.1 -.7l.3 -.5l.3 .1zM98.9 497.4l.3 .1l0 .3zM93.7 499.9l.1 -.2l.3 .3zM109.5 497.1l.6 .5l-.2 .7zM103.5 494.6l0 -.2l.3 .1l0 0l-.1 .2l-.3 .1zM104.2 496.9l-.4 .3l-.2 -.5l-.1 -.4l.6 -.1l.6 .4zM108.7 506.4l.3 .5l-.7 .3l0 -.7zM96.5 502.5l-.1 .8l-.8 -.2zM92.1 496.4l.1 -.3l.2 -.1l.2 .3l-.3 .2zM112 496.5l.8 -.4l-1.1 1.4zM98.8 502.2l0 .3l-.3 0zM251.1 585l-.3 -.2l.1 -.3l.2 0l.2 0l0 .3zM249.5 597.6l.5 .4l-.8 .4zM249.9 591.9l.3 -.3l.6 .6l.4 .7l-.7 -.3zM251.2 589l-.1 -.3l.3 -.2l.5 .1l-.4 .4zM257.1 599l-.6 .3l-.4 -.6l.6 -.3l.3 -.5l.4 .4l0 .5zM248.1 598.7l.1 .4l-.3 .4l-.2 0l.2 -.4zM255.5 587.1l-.2 .6l-.7 -.2l.5 -.7zM253.3 594l-.7 .1l.2 -.4l.5 0zM258.4 596.4l-.5 .4l-.8 .2l.5 -.6l.6 -.3l.7 -.3zM259.5 584.1l-.4 .2l-.5 -.2l.6 -.3zM255.7 583.3l.2 -1.1l.7 .1zM255.9 593.2l.6 -.1l0 .5zM254.9 585.2l-.1 -.7l.4 -.2l.2 .2l.4 .1l-.3 .6l-.2 .2l-.3 .4zM252.9 599l-.5 -.4l.6 -.5zM254.9 594.4l.6 -.3l.5 -.2l0 .2l.4 .3l-.7 .3l-.3 .1l-.5 .1zM253.9 581.6l.7 -.2l-.1 .3zM255.2 583.2l-.4 .2l-.8 -.2l.2 -.4l.5 -.2zM262.6 586.5l-.3 .5l-.4 -.2l-.1 -.5l.6 -.2zM255.1 589.8l-.4 .1l.2 -.4l.4 -.3l.1 .1l0 .2zM254.8 587.6l.3 .6l-.4 .3l-.5 -.7zM194.2 607.4l.1 -.2l.4 -.1l.1 .2l-.2 .2l-.4 0zM101.2 587.2l.1 .4l-.5 .1zM183 617.1l-.2 -.2l.1 -.1l.2 .2l.1 .2l-.1 0zM124.3 532.2l-.3 .1l-.2 -.1l.1 -.4l.4 -.1l.2 .2zM84.6 609.5l.3 -.3l.6 -.3l-.3 .4l-.4 .4zM152.7 621.3l0 -.4l.3 .3zM144 618.9l-.4 .4l-.4 -.2l.4 -.4zM145.7 622.3l-.1 0l-.1 -.3l.2 .1zM140.5 604.1l.4 0l.1 .3l-.5 .1zM124.9 636.1l-.1 .2l-.2 0l0 -.3l.2 -.1zM133.8 602.1l0 -.4l.5 -.3l0 .3l-.1 .4zM103.5 589.6l-.3 .5l0 -.5zM132.5 588.7l-.7 -.6l.3 -.1zM128.1 570l.4 -.1l.3 .2l.3 .2l-.4 .2l-.3 -.2zM183.5 624.4l-.1 .1l-.2 .1l-.1 -.1l.1 -.2l.2 -.1zM172.4 608.1l-.3 .2l-.2 -.6l.5 0zM121.3 634.1l0 .5l-.4 -.1zM138.4 600.4l-.2 .8l-.2 -.6zM167.4 626l.2 -.3l.3 .1l0 .4l-.2 .1l-.2 0zM131.7 559.7l.2 -.5l.2 .1l.2 .7l-.3 .1zM126.3 516.3l.1 .2l.1 .4l-.2 -.2zM144.7 504.9l-.1 .3l-.2 .2l0 -.1l.1 -.3zM150.6 547.7l-.5 .4l0 -.9zM132 534.8l.4 -.1l.3 0l-.1 .2l-.3 .1l-.4 .1zM215.5 617.5l-.3 -.4l.3 -.2l.4 .1l-.1 .4zM181.5 635l-.1 -.2l.2 -.1l.3 .2l-.2 .1zM169.1 560.9l-.2 .1l-.3 .1l0 -.3l.3 -.3l.4 .1zM103 607.6l.3 .1l-.7 .3zM109 591.3l-.2 .3l-.1 -.3zM119.4 605.9l.6 .5l-.7 -.1l-.3 -.2zM169.8 666l.2 -.2l.2 .1l-.2 .2zM147.4 585.6l.2 -.2l.3 .2l-.1 .2l-.1 .1l-.3 -.1zM142.7 649.4l.3 -.6l.1 .3l-.1 .4zM205.6 594.3l0 -.2l.2 0zM175.2 591.3l-.2 -.4l.4 -.1l.2 .1l.2 .3l-.3 .2zM167.3 586.4l-.2 -.2l.4 -.1l.1 .3zM145.2 622.6l.1 .1l.1 .1l-.1 .1l-.2 .1l0 -.3zM111 565.9l-.1 -.5l.1 -.4l.3 .3l.1 .6l-.2 -.1zM223.5 667.7l-.1 .4l-.2 -.3l0 -.4l.2 -.3l.2 .3zM182.2 572.8l-.2 .1l-.2 -.2l0 -.4l.2 0l.2 .1zM148.8 559.2l.1 0l.2 -.1l-.1 .2l-.1 .1l-.1 -.1zM217.6 595.5l-.1 -.2l.6 -.4l.2 .3zM125.1 561.2l.1 .5l-.9 -.2l0 -.4zM105.8 537.7l-.8 -.3l.5 -.1zM181.5 571.1l.4 .1l.1 .3l-.3 0zM183.4 649l.2 -.1l0 .2l-.1 .1zM187.5 575.2l.3 .5l-.2 .4l-.2 -.3zM126.2 602.8l.1 -.8l.4 -.2l-.2 .6zM89 582.3l-.2 .1l0 -.5l.1 -.1l.1 .2zM163.9 606.5l.4 0l.1 .6l-.5 -.1l-.2 -.3zM122.5 552.9l-.2 0l0 -.3l.2 0l.2 0l-.1 .2zM168.4 628.2l0 .3l-.4 .1l-.3 0l.4 -.4zM243.3 625.3l-.3 -.1l.7 -.5zM119.4 610.4l.1 0l.1 0l0 .2l-.1 .1l-.1 -.1zM149.6 522.8l-.2 -.1l0 -.2l.3 0l.1 .2zM210.9 581.3l.2 -.3l.2 0l-.2 .3zM113.7 579.9l.5 -.3l-.3 .6l-.4 .3zM155.6 596.3l.2 -.3l.3 .4l-.1 .4zM187.2 570.1l-.5 -.1l.3 -.5l.3 .1zM128.8 563.9l-.1 .1l0 -.2l0 -.2l.2 -.1l.1 .1zM128.3 599.3l-.3 -.3l.6 0l.5 .4l0 .3l-.5 -.2zM150.9 585.2l0 -.3l.2 0zM95 616.3l.1 -.7l.2 .1zM149 562l-.1 .2l0 -.4zM136.6 620.7l.1 -.3l.2 .2l-.1 .3zM111.2 601.1l-.4 0l.2 -.4l.2 -.1l.3 0l-.1 .3zM98.7 614.5l0 -.2l.1 0l.1 .1l0 .3l-.1 .1zM167.6 665.2l-.5 .2l-.5 -.5zM128.8 598.9l0 .4l-.1 -.2zM188.8 593.6l-.1 -.5l.3 .1l.1 .3l-.1 .4zM182.8 639.5l-.5 .2l0 -.7zM134.8 621.1l-.2 .1l-.1 -.2l.2 -.1l.1 0l.2 .1zM160.8 580.4l.2 0l0 .5l-.3 .1l-.1 -.4zM105.5 633.7l-.1 .2l-.1 -.1l-.1 -.2l.2 -.1zM82.4 615.1l.2 0l.1 .1l-.2 .1zM214.2 547.3l.1 -.1l.1 .1l-.1 .3l-.1 0zM88.2 607.5l0 .2l0 .4l-.4 .2l0 -.3l.2 -.3zM161.7 559.3l-.2 -.3l.4 -.2l.3 0l0 .3l-.2 .1zM85.9 591.7l.1 .2l-.4 -.2l-.1 -.2zM144.9 654.6l.1 -.4l.1 -.3l.3 .2l0 .3zM114.1 633.6l-.6 .2l-.3 .1l-.3 -.2l.2 -.3l.5 .2zM211.4 609l-.2 .4l-.6 -.2l-.3 -.2l.5 -.2zM136.2 624.9l.4 -.5l-.1 .7zM128.3 642.3l-.5 .3l-.4 .1l.2 -.4l.4 -.1zM181.2 631.9l.1 .6l-.2 0l-.4 -.4l-.2 -.7l.2 -.1zM165.4 587.6l.4 -.1l.2 .3l-.2 .2l-.3 .1zM185.6 631.6l.1 -.2l.1 -.2l.1 .3l-.1 .4l-.1 0zM169.9 577.3l.1 .5l-.5 -.1zM129.4 585.7l-.3 -.5l.4 -.2l.2 -.1l.2 .4l-.1 .5zM133.6 603.8l-.6 -.1l-.7 -.2l.6 -.3l.6 .3zM149.5 655l.6 -.1l-.3 .4l-.3 .2l-.2 -.2zM166 612.3l0 -.5l.4 0l.6 .7zM111.6 695.7l0 -.5l.1 .1l.1 .3l-.1 .1zM148.9 625.4l.4 -.1l-.3 .4zM112 622.6l.2 0l0 .2l-.2 .3l-.2 -.2zM123.5 597.3l.1 -.5l.1 .1l0 .3zM140.7 572.6l0 -.3l.3 .1l.2 .5l-.2 .3zM191.1 584.7l0 -.3l.3 .2zM176.5 622.8l-.5 -.2l.4 -.2l.3 .2zM177.9 563.7l-.2 .1l0 -.3l.3 -.3l.1 .2zM168.7 619.1l.3 .5l-.6 -.2zM178 574.6l.3 .3l0 .4l-.3 0l-.2 -.5l-.1 -.5zM172.1 551.6l-.3 .2l-.1 -.2zM168.6 601.3l.4 .2l.3 .2l-.1 .3l-.3 .1l-.1 -.3zM141.1 626.2l.1 .1l-.3 0l0 -.1zM175.8 594.9l.3 -.7l.1 .4zM143 561.1l.1 -.4l.5 .1l.1 .4l-.2 .3l-.4 -.2zM96.7 576.1l.1 .3l-.4 .1l-.1 -.4zM152.5 558.1l-.2 -.3l1 0zM98 616.3l0 -.2l-.1 -.3l.7 .2l.3 .3l-.1 .3zM155 597.8l-.1 0l-.1 -.1l0 -.1l.1 -.1l.2 .2zM164.8 631.7l-.5 -.1l.5 -.1zM150.1 592.5l.4 .4l-.5 .3zM168.8 575.4l.3 .2l-.3 0zM126 607.4l.2 -.4l0 .5l-.2 .3zM173.8 589.9l.2 .2l-.2 .2zM143.1 612.4l.2 -.1l.1 .2zM65.2 585.1l0 -.8l.4 -.1zM108.5 541.6l-.4 .1l-.4 0l.2 -.5l.3 .1zM139 587.5l-.2 .1l-.1 -.5z"/>
<path fill="#fff" d="M208.9 557.3l.6 -.5l-.1 .7zM195.6 551.6l.5 0l.4 -.1l-.3 .3l-.5 .3l0 -.2zM200.3 570.6l.8 -.3l-.1 .5l-.3 .4l-.7 0zM205.7 553.1l.3 .2l-.1 .3l-1 .2l-.3 -.3l.2 -.3zM203 554.5l.5 .5l-.6 -.1zM210.9 558.2l.4 .8l-.9 -.5zM205.6 545.3l-.7 -.7l1.1 -.1zM194.8 554.7l.2 .2l-.2 .5l-.4 0zM207.1 556.8l-.1 .1l-.3 -.1l0 -.2l0 -.3l.4 .3zM201.9 554.5l.2 .6l-.7 -.5zM211.1 555.9l-.3 .4l-.2 -.5l.1 -.3zM206.5 562.2l-.1 .3l-.5 .2l0 -.4l.5 -.2zM212.1 539.3l-.1 .8l-.5 .2l-.2 -.4l.1 -.4zM197 558.6l.6 -.5l.6 .1l-.1 .6l-.5 .3l-.4 -.1zM214.8 557l-.6 .6l.2 -.9z"/>
</g></g>
<circle cx="144.0" cy="608.45" r="135.9" fill="none" stroke="#dd1f38" stroke-width="1.3"/>
<ellipse cx="143.8" cy="607.9" rx="121.5" ry="122.0" fill="none" stroke="#00b050" stroke-width="2.4"/>
<ellipse cx="144.05" cy="608.75" rx="91.1" ry="92.0" fill="none" stroke="#ff0000" stroke-width="2.4"/>
<rect x="364.5" y="472.0" width="314.2" height="274.1" fill="#fff"/>
<path d="M419.3 472V746.1M474.1 472V746.1M528.8 472V746.1M583.6 472V746.1M638.4 472V746.1M364.5 711.8H678.7M364.5 677.6H678.7M364.5 643.3H678.7M364.5 609H678.7M364.5 574.8H678.7M364.5 540.5H678.7M364.5 506.3H678.7" stroke="#bcbcbc" stroke-width="1" fill="none"/>
<g clip-path="url(#ax2)">
<polyline fill="none" stroke="#1f77b4" stroke-width="1.85" stroke-linejoin="round" points="364.5,746.1 370.9,746.1 377.3,746.1 383.7,746.1 390.1,723.4 396.6,712.9 403,707.7 409.4,710.1 415.8,702.1 422.2,708.4 428.6,707.7 435,707.7 441.4,710.1 447.9,710.1 454.3,711.9 460.7,715.4 467.1,715.4 473.5,715.4 479.9,717.3 486.3,716.4 492.7,714.8 499.2,714.6 505.6,712.9 512,711.7 518.4,710.6 524.8,709.2 531.2,704.9 537.6,698.9 544,694.7 550.5,692.1 556.9,685.8 563.3,680.7 569.7,674.7 576.1,672.2 582.5,671.9 588.9,671.9 595.3,671.9 601.8,671.9 608.2,672.7 614.6,673 621,673 627.4,671.9 633.8,670.7 640.2,669.9 646.6,667.6 653.1,666.2 659.5,665.6 665.9,664.5 672.3,660.8 678.7,653.7"/>
<g fill="#1f77b4"><circle cx="364.5" cy="746.1" r="4.2"/><circle cx="370.9" cy="746.1" r="4.2"/><circle cx="377.3" cy="746.1" r="4.2"/><circle cx="383.7" cy="746.1" r="4.2"/><circle cx="390.1" cy="723.4" r="4.2"/><circle cx="396.6" cy="712.9" r="4.2"/><circle cx="403" cy="707.7" r="4.2"/><circle cx="409.4" cy="710.1" r="4.2"/><circle cx="415.8" cy="702.1" r="4.2"/><circle cx="422.2" cy="708.4" r="4.2"/><circle cx="428.6" cy="707.7" r="4.2"/><circle cx="435" cy="707.7" r="4.2"/><circle cx="441.4" cy="710.1" r="4.2"/><circle cx="447.9" cy="710.1" r="4.2"/><circle cx="454.3" cy="711.9" r="4.2"/><circle cx="460.7" cy="715.4" r="4.2"/><circle cx="467.1" cy="715.4" r="4.2"/><circle cx="473.5" cy="715.4" r="4.2"/><circle cx="479.9" cy="717.3" r="4.2"/><circle cx="486.3" cy="716.4" r="4.2"/><circle cx="492.7" cy="714.8" r="4.2"/><circle cx="499.2" cy="714.6" r="4.2"/><circle cx="505.6" cy="712.9" r="4.2"/><circle cx="512" cy="711.7" r="4.2"/><circle cx="518.4" cy="710.6" r="4.2"/><circle cx="524.8" cy="709.2" r="4.2"/><circle cx="531.2" cy="704.9" r="4.2"/><circle cx="537.6" cy="698.9" r="4.2"/><circle cx="544" cy="694.7" r="4.2"/><circle cx="550.5" cy="692.1" r="4.2"/><circle cx="556.9" cy="685.8" r="4.2"/><circle cx="563.3" cy="680.7" r="4.2"/><circle cx="569.7" cy="674.7" r="4.2"/><circle cx="576.1" cy="672.2" r="4.2"/><circle cx="582.5" cy="671.9" r="4.2"/><circle cx="588.9" cy="671.9" r="4.2"/><circle cx="595.3" cy="671.9" r="4.2"/><circle cx="601.8" cy="671.9" r="4.2"/><circle cx="608.2" cy="672.7" r="4.2"/><circle cx="614.6" cy="673" r="4.2"/><circle cx="621" cy="673" r="4.2"/><circle cx="627.4" cy="671.9" r="4.2"/><circle cx="633.8" cy="670.7" r="4.2"/><circle cx="640.2" cy="669.9" r="4.2"/><circle cx="646.6" cy="667.6" r="4.2"/><circle cx="653.1" cy="666.2" r="4.2"/><circle cx="659.5" cy="665.6" r="4.2"/><circle cx="665.9" cy="664.5" r="4.2"/><circle cx="672.3" cy="660.8" r="4.2"/><circle cx="678.7" cy="653.7" r="4.2"/></g>
<path d="M574.9 472V746.1" stroke="#ff0000" stroke-width="2.2"/>
<path d="M646 472V746.1" stroke="#00b050" stroke-width="2.2"/>
</g>
<rect x="364.5" y="472.0" width="314.2" height="274.1" fill="none" stroke="#151515" stroke-width="1.15"/>
<path d="M364.5 746.1v4.2M419.3 746.1v4.2M474.1 746.1v4.2M528.8 746.1v4.2M583.6 746.1v4.2M638.4 746.1v4.2M364.5 746.1h-4.2M364.5 711.8h-4.2M364.5 677.6h-4.2M364.5 643.3h-4.2M364.5 609h-4.2M364.5 574.8h-4.2M364.5 540.5h-4.2M364.5 506.3h-4.2M364.5 472h-4.2" stroke="#151515" stroke-width="1" fill="none"/>
<g font-family="DejaVu Sans, Liberation Sans, sans-serif" font-size="12.25" fill="#151515" stroke="#151515" stroke-width="0.25">
<text x="364.5" y="764" text-anchor="middle">0</text>
<text x="419.3" y="764" text-anchor="middle">500</text>
<text x="474.1" y="764" text-anchor="middle">1000</text>
<text x="528.8" y="764" text-anchor="middle">1500</text>
<text x="583.6" y="764" text-anchor="middle">2000</text>
<text x="638.4" y="764" text-anchor="middle">2500</text>
<text x="355.2" y="750.9" text-anchor="end">0.000</text>
<text x="355.2" y="716.6" text-anchor="end">0.025</text>
<text x="355.2" y="682.3" text-anchor="end">0.050</text>
<text x="355.2" y="648.1" text-anchor="end">0.075</text>
<text x="355.2" y="613.8" text-anchor="end">0.100</text>
<text x="355.2" y="579.6" text-anchor="end">0.125</text>
<text x="355.2" y="545.3" text-anchor="end">0.150</text>
<text x="355.2" y="511" text-anchor="end">0.175</text>
<text x="355.2" y="476.8" text-anchor="end">0.200</text>
<text x="521.5" y="781.3" text-anchor="middle" font-size="12.56">Radius (pixels)</text>
<text transform="translate(311.7 610.1) rotate(-90)" text-anchor="middle" font-size="12.43">Porosity (v/v)</text>
</g>
<g font-family="DejaVu Sans, Liberation Sans, sans-serif" font-size="14.9" fill="#151515" stroke="#151515" stroke-width="0.25" text-anchor="middle">
<text x="144.3" y="464.3">Binary Image</text>
<text x="521" y="464.3">REV Ratio</text>
<text x="322.3" y="447">D1 Radial Middle</text>
</g>
</svg>
<h3>WellD1</h3>
</body>
</html>
